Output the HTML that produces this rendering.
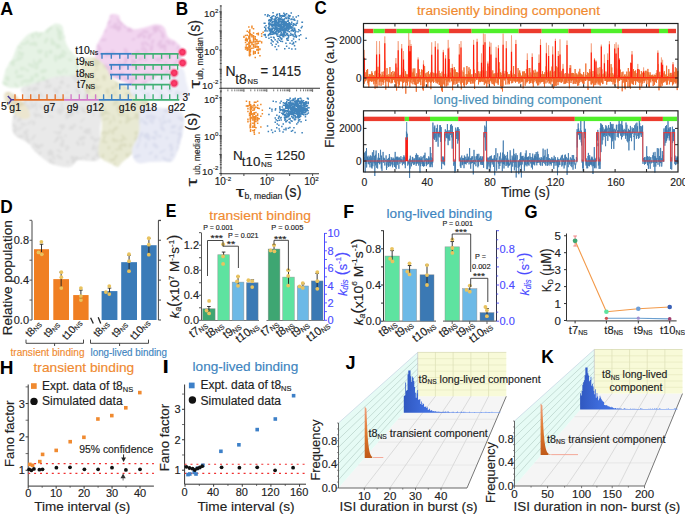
<!DOCTYPE html>
<html><head><meta charset="utf-8"><style>
html,body{margin:0;padding:0;background:#fff;}
svg{display:block;}
text{font-family:"Liberation Sans",sans-serif;}
</style></head><body>
<svg width="685" height="515" viewBox="0 0 685 515" font-family="Liberation Sans, sans-serif">
<rect width="685" height="515" fill="#fff"/>
<defs>
<filter id="blur1" x="-10%" y="-10%" width="120%" height="120%"><feGaussianBlur stdDeviation="0.9"/></filter>
<radialGradient id="gdot"><stop offset="0" stop-color="#ff4070"/><stop offset="0.5" stop-color="#f2305e"/><stop offset="0.68" stop-color="#f46088" stop-opacity="0.65"/><stop offset="1" stop-color="#f8a8c0" stop-opacity="0"/></radialGradient>
<linearGradient id="gor" x1="0" y1="0" x2="0" y2="1"><stop offset="0" stop-color="#f0a080"/><stop offset="0.5" stop-color="#e07a30"/><stop offset="1" stop-color="#c05a18"/></linearGradient>
<linearGradient id="gbl" x1="0" y1="0" x2="1" y2="0"><stop offset="0" stop-color="#3058c0"/><stop offset="0.2" stop-color="#3e6cdc"/><stop offset="1" stop-color="#5f90f6"/></linearGradient>
</defs>
<g filter="url(#blur1)">
<clipPath id="cp_gr"><path d="M12.0,124.0 C12.0,120.2 13.0,116.0 15.0,112.0 C17.0,108.0 22.8,104.0 24.0,100.0 C25.2,96.0 19.3,91.3 22.0,88.0 C24.7,84.7 33.7,82.0 40.0,80.0 C46.3,78.0 54.2,77.2 60.0,76.0 C65.8,74.8 70.0,73.8 75.0,73.0 C80.0,72.2 85.8,71.2 90.0,71.0 C94.2,70.8 97.7,67.2 100.0,72.0 C102.3,76.8 104.0,90.3 104.0,100.0 C104.0,109.7 100.7,120.3 100.0,130.0 C99.3,139.7 102.5,152.9 100.0,158.0 C97.5,163.1 88.8,160.1 85.0,160.5 C81.2,160.9 79.5,159.4 77.0,160.5 C74.5,161.6 73.7,166.2 70.0,167.0 C66.3,167.8 59.2,166.2 55.0,165.0 C50.8,163.8 48.5,162.5 45.0,160.0 C41.5,157.5 36.8,152.8 34.0,150.0 C31.2,147.2 31.2,145.5 28.0,143.0 C24.8,140.5 17.7,138.2 15.0,135.0 C12.3,131.8 12.0,127.8 12.0,124.0Z"/></clipPath>
<path d="M12.0,124.0 C12.0,120.2 13.0,116.0 15.0,112.0 C17.0,108.0 22.8,104.0 24.0,100.0 C25.2,96.0 19.3,91.3 22.0,88.0 C24.7,84.7 33.7,82.0 40.0,80.0 C46.3,78.0 54.2,77.2 60.0,76.0 C65.8,74.8 70.0,73.8 75.0,73.0 C80.0,72.2 85.8,71.2 90.0,71.0 C94.2,70.8 97.7,67.2 100.0,72.0 C102.3,76.8 104.0,90.3 104.0,100.0 C104.0,109.7 100.7,120.3 100.0,130.0 C99.3,139.7 102.5,152.9 100.0,158.0 C97.5,163.1 88.8,160.1 85.0,160.5 C81.2,160.9 79.5,159.4 77.0,160.5 C74.5,161.6 73.7,166.2 70.0,167.0 C66.3,167.8 59.2,166.2 55.0,165.0 C50.8,163.8 48.5,162.5 45.0,160.0 C41.5,157.5 36.8,152.8 34.0,150.0 C31.2,147.2 31.2,145.5 28.0,143.0 C24.8,140.5 17.7,138.2 15.0,135.0 C12.3,131.8 12.0,127.8 12.0,124.0Z" fill="#e9e9e9" stroke="none" stroke-width="1" />
<g clip-path="url(#cp_gr)">
<ellipse cx="33.9" cy="123.2" rx="2.4" ry="1.5" fill="#dcdcdc" opacity="0.85" transform="rotate(113 33.9 123.2)"/>
<ellipse cx="18.0" cy="72.3" rx="3.6" ry="1.1" fill="#dcdcdc" opacity="0.85" transform="rotate(42 18.0 72.3)"/>
<ellipse cx="103.6" cy="116.1" rx="3.6" ry="1.4" fill="#dcdcdc" opacity="0.85" transform="rotate(115 103.6 116.1)"/>
<ellipse cx="25.9" cy="131.9" rx="3.7" ry="1.4" fill="#dcdcdc" opacity="0.85" transform="rotate(133 25.9 131.9)"/>
<ellipse cx="73.8" cy="77.1" rx="3.4" ry="1.5" fill="#dcdcdc" opacity="0.85" transform="rotate(54 73.8 77.1)"/>
<ellipse cx="14.9" cy="154.1" rx="2.7" ry="1.7" fill="#dcdcdc" opacity="0.85" transform="rotate(158 14.9 154.1)"/>
<ellipse cx="77.7" cy="159.4" rx="2.5" ry="1.8" fill="#dcdcdc" opacity="0.85" transform="rotate(80 77.7 159.4)"/>
<ellipse cx="98.1" cy="155.4" rx="1.7" ry="1.0" fill="#dcdcdc" opacity="0.85" transform="rotate(39 98.1 155.4)"/>
<ellipse cx="100.8" cy="112.9" rx="3.1" ry="1.2" fill="#dcdcdc" opacity="0.85" transform="rotate(91 100.8 112.9)"/>
<ellipse cx="47.5" cy="104.7" rx="3.0" ry="1.5" fill="#dcdcdc" opacity="0.85" transform="rotate(163 47.5 104.7)"/>
<ellipse cx="74.7" cy="160.2" rx="3.6" ry="2.0" fill="#dcdcdc" opacity="0.85" transform="rotate(121 74.7 160.2)"/>
<ellipse cx="27.0" cy="153.6" rx="3.9" ry="1.9" fill="#dcdcdc" opacity="0.85" transform="rotate(102 27.0 153.6)"/>
<ellipse cx="77.7" cy="91.3" rx="3.6" ry="1.5" fill="#dcdcdc" opacity="0.85" transform="rotate(51 77.7 91.3)"/>
<ellipse cx="17.8" cy="153.0" rx="4.0" ry="0.9" fill="#dcdcdc" opacity="0.85" transform="rotate(144 17.8 153.0)"/>
<ellipse cx="49.8" cy="85.5" rx="2.2" ry="1.7" fill="#dcdcdc" opacity="0.85" transform="rotate(157 49.8 85.5)"/>
<ellipse cx="16.1" cy="130.0" rx="1.6" ry="1.7" fill="#dcdcdc" opacity="0.85" transform="rotate(60 16.1 130.0)"/>
<ellipse cx="93.0" cy="165.1" rx="2.8" ry="2.0" fill="#dcdcdc" opacity="0.85" transform="rotate(56 93.0 165.1)"/>
<ellipse cx="19.1" cy="128.6" rx="1.6" ry="1.0" fill="#dcdcdc" opacity="0.85" transform="rotate(73 19.1 128.6)"/>
<ellipse cx="68.2" cy="86.0" rx="1.6" ry="1.8" fill="#dcdcdc" opacity="0.85" transform="rotate(56 68.2 86.0)"/>
<ellipse cx="100.2" cy="157.1" rx="2.4" ry="1.4" fill="#dcdcdc" opacity="0.85" transform="rotate(94 100.2 157.1)"/>
<ellipse cx="71.2" cy="128.2" rx="2.9" ry="1.5" fill="#dcdcdc" opacity="0.85" transform="rotate(169 71.2 128.2)"/>
<ellipse cx="58.6" cy="112.4" rx="3.3" ry="1.1" fill="#dcdcdc" opacity="0.85" transform="rotate(54 58.6 112.4)"/>
<ellipse cx="102.0" cy="121.0" rx="2.9" ry="0.8" fill="#dcdcdc" opacity="0.85" transform="rotate(75 102.0 121.0)"/>
<ellipse cx="65.4" cy="72.9" rx="3.0" ry="1.6" fill="#dcdcdc" opacity="0.85" transform="rotate(11 65.4 72.9)"/>
<ellipse cx="69.7" cy="115.8" rx="3.2" ry="1.2" fill="#dcdcdc" opacity="0.85" transform="rotate(127 69.7 115.8)"/>
<ellipse cx="79.9" cy="73.1" rx="1.7" ry="1.6" fill="#dcdcdc" opacity="0.85" transform="rotate(173 79.9 73.1)"/>
<ellipse cx="35.1" cy="114.8" rx="3.0" ry="1.2" fill="#dcdcdc" opacity="0.85" transform="rotate(66 35.1 114.8)"/>
<ellipse cx="40.8" cy="106.4" rx="3.0" ry="1.2" fill="#dcdcdc" opacity="0.85" transform="rotate(68 40.8 106.4)"/>
<ellipse cx="83.0" cy="73.6" rx="2.9" ry="1.7" fill="#dcdcdc" opacity="0.85" transform="rotate(56 83.0 73.6)"/>
<ellipse cx="32.5" cy="148.2" rx="2.1" ry="1.0" fill="#dcdcdc" opacity="0.85" transform="rotate(78 32.5 148.2)"/>
<ellipse cx="76.2" cy="80.8" rx="2.3" ry="1.2" fill="#dcdcdc" opacity="0.85" transform="rotate(150 76.2 80.8)"/>
<ellipse cx="52.3" cy="153.1" rx="1.9" ry="1.2" fill="#dcdcdc" opacity="0.85" transform="rotate(117 52.3 153.1)"/>
<ellipse cx="93.4" cy="114.3" rx="2.1" ry="0.9" fill="#dcdcdc" opacity="0.85" transform="rotate(95 93.4 114.3)"/>
<ellipse cx="29.6" cy="148.5" rx="3.6" ry="1.0" fill="#dcdcdc" opacity="0.85" transform="rotate(50 29.6 148.5)"/>
<ellipse cx="86.3" cy="132.6" rx="3.5" ry="1.2" fill="#dcdcdc" opacity="0.85" transform="rotate(23 86.3 132.6)"/>
<ellipse cx="38.9" cy="147.2" rx="2.2" ry="1.2" fill="#dcdcdc" opacity="0.85" transform="rotate(75 38.9 147.2)"/>
<ellipse cx="50.6" cy="110.3" rx="3.8" ry="1.0" fill="#dcdcdc" opacity="0.85" transform="rotate(1 50.6 110.3)"/>
<ellipse cx="98.8" cy="155.5" rx="4.0" ry="1.3" fill="#dcdcdc" opacity="0.85" transform="rotate(171 98.8 155.5)"/>
<ellipse cx="97.3" cy="92.3" rx="3.4" ry="1.8" fill="#dcdcdc" opacity="0.85" transform="rotate(119 97.3 92.3)"/>
<ellipse cx="59.7" cy="98.7" rx="2.4" ry="1.1" fill="#dcdcdc" opacity="0.85" transform="rotate(12 59.7 98.7)"/>
<ellipse cx="66.2" cy="98.6" rx="3.5" ry="0.9" fill="#dcdcdc" opacity="0.85" transform="rotate(163 66.2 98.6)"/>
<ellipse cx="75.8" cy="159.7" rx="3.7" ry="1.9" fill="#dcdcdc" opacity="0.85" transform="rotate(104 75.8 159.7)"/>
<ellipse cx="13.2" cy="142.5" rx="1.9" ry="1.2" fill="#dcdcdc" opacity="0.85" transform="rotate(119 13.2 142.5)"/>
<ellipse cx="60.3" cy="110.7" rx="3.8" ry="1.5" fill="#dcdcdc" opacity="0.85" transform="rotate(61 60.3 110.7)"/>
<ellipse cx="35.2" cy="153.7" rx="2.7" ry="1.7" fill="#dcdcdc" opacity="0.85" transform="rotate(63 35.2 153.7)"/>
<ellipse cx="30.2" cy="122.3" rx="3.5" ry="1.0" fill="#dcdcdc" opacity="0.85" transform="rotate(143 30.2 122.3)"/>
<ellipse cx="96.8" cy="148.4" rx="3.6" ry="0.8" fill="#dcdcdc" opacity="0.85" transform="rotate(113 96.8 148.4)"/>
<ellipse cx="91.4" cy="75.8" rx="2.2" ry="1.1" fill="#dcdcdc" opacity="0.85" transform="rotate(95 91.4 75.8)"/>
<ellipse cx="50.9" cy="116.4" rx="3.4" ry="0.8" fill="#dcdcdc" opacity="0.85" transform="rotate(10 50.9 116.4)"/>
<ellipse cx="23.7" cy="83.0" rx="1.7" ry="2.0" fill="#dcdcdc" opacity="0.85" transform="rotate(154 23.7 83.0)"/>
<ellipse cx="19.9" cy="119.2" rx="2.3" ry="1.2" fill="#dcdcdc" opacity="0.85" transform="rotate(63 19.9 119.2)"/>
<ellipse cx="71.5" cy="127.3" rx="2.4" ry="1.0" fill="#dcdcdc" opacity="0.85" transform="rotate(59 71.5 127.3)"/>
<ellipse cx="23.4" cy="124.3" rx="3.3" ry="1.3" fill="#dcdcdc" opacity="0.85" transform="rotate(14 23.4 124.3)"/>
<ellipse cx="28.4" cy="106.8" rx="3.0" ry="1.7" fill="#dcdcdc" opacity="0.85" transform="rotate(68 28.4 106.8)"/>
<ellipse cx="85.7" cy="130.8" rx="2.6" ry="1.2" fill="#dcdcdc" opacity="0.85" transform="rotate(89 85.7 130.8)"/>
<ellipse cx="76.7" cy="111.4" rx="3.2" ry="1.4" fill="#dcdcdc" opacity="0.85" transform="rotate(44 76.7 111.4)"/>
<ellipse cx="61.3" cy="137.7" rx="1.7" ry="1.3" fill="#dcdcdc" opacity="0.85" transform="rotate(77 61.3 137.7)"/>
<ellipse cx="92.9" cy="160.9" rx="2.4" ry="1.9" fill="#dcdcdc" opacity="0.85" transform="rotate(142 92.9 160.9)"/>
<ellipse cx="36.1" cy="115.6" rx="1.8" ry="1.8" fill="#dcdcdc" opacity="0.85" transform="rotate(119 36.1 115.6)"/>
<ellipse cx="93.6" cy="147.1" rx="3.2" ry="1.7" fill="#dcdcdc" opacity="0.85" transform="rotate(101 93.6 147.1)"/>
<ellipse cx="21.5" cy="127.4" rx="1.5" ry="1.0" fill="#dcdcdc" opacity="0.85" transform="rotate(139 21.5 127.4)"/>
<ellipse cx="16.1" cy="79.8" rx="1.7" ry="1.9" fill="#dcdcdc" opacity="0.85" transform="rotate(32 16.1 79.8)"/>
<ellipse cx="14.2" cy="151.8" rx="1.8" ry="1.8" fill="#dcdcdc" opacity="0.85" transform="rotate(121 14.2 151.8)"/>
<ellipse cx="88.9" cy="162.4" rx="2.9" ry="1.8" fill="#dcdcdc" opacity="0.85" transform="rotate(7 88.9 162.4)"/>
<ellipse cx="82.6" cy="120.1" rx="3.3" ry="0.9" fill="#dcdcdc" opacity="0.85" transform="rotate(135 82.6 120.1)"/>
<ellipse cx="98.0" cy="76.9" rx="2.3" ry="1.5" fill="#dcdcdc" opacity="0.85" transform="rotate(149 98.0 76.9)"/>
<ellipse cx="34.3" cy="88.3" rx="2.1" ry="1.5" fill="#dcdcdc" opacity="0.85" transform="rotate(136 34.3 88.3)"/>
<ellipse cx="48.2" cy="106.3" rx="2.5" ry="1.2" fill="#dcdcdc" opacity="0.85" transform="rotate(75 48.2 106.3)"/>
<ellipse cx="19.7" cy="119.0" rx="3.9" ry="1.3" fill="#dcdcdc" opacity="0.85" transform="rotate(135 19.7 119.0)"/>
<ellipse cx="26.8" cy="137.3" rx="3.4" ry="1.6" fill="#dcdcdc" opacity="0.85" transform="rotate(93 26.8 137.3)"/>
<ellipse cx="56.5" cy="132.7" rx="3.7" ry="1.0" fill="#dcdcdc" opacity="0.85" transform="rotate(17 56.5 132.7)"/>
<ellipse cx="80.8" cy="159.0" rx="2.8" ry="1.3" fill="#dcdcdc" opacity="0.85" transform="rotate(129 80.8 159.0)"/>
<ellipse cx="29.1" cy="96.7" rx="2.0" ry="1.5" fill="#dcdcdc" opacity="0.85" transform="rotate(57 29.1 96.7)"/>
<ellipse cx="33.4" cy="137.3" rx="3.9" ry="1.2" fill="#dcdcdc" opacity="0.85" transform="rotate(127 33.4 137.3)"/>
<ellipse cx="50.0" cy="152.9" rx="3.0" ry="1.1" fill="#dcdcdc" opacity="0.85" transform="rotate(39 50.0 152.9)"/>
<ellipse cx="14.1" cy="117.0" rx="2.5" ry="1.0" fill="#dcdcdc" opacity="0.85" transform="rotate(65 14.1 117.0)"/>
<ellipse cx="41.6" cy="145.3" rx="1.9" ry="2.0" fill="#dcdcdc" opacity="0.85" transform="rotate(86 41.6 145.3)"/>
<ellipse cx="67.1" cy="115.9" rx="3.6" ry="1.8" fill="#dcdcdc" opacity="0.85" transform="rotate(100 67.1 115.9)"/>
<ellipse cx="56.3" cy="140.2" rx="3.6" ry="1.3" fill="#dcdcdc" opacity="0.85" transform="rotate(132 56.3 140.2)"/>
<ellipse cx="100.3" cy="115.9" rx="2.1" ry="1.1" fill="#dcdcdc" opacity="0.85" transform="rotate(129 100.3 115.9)"/>
<ellipse cx="74.1" cy="163.0" rx="3.6" ry="1.1" fill="#dcdcdc" opacity="0.85" transform="rotate(34 74.1 163.0)"/>
<ellipse cx="35.8" cy="89.0" rx="3.3" ry="1.8" fill="#dcdcdc" opacity="0.85" transform="rotate(162 35.8 89.0)"/>
<ellipse cx="35.5" cy="154.0" rx="2.3" ry="1.3" fill="#dcdcdc" opacity="0.85" transform="rotate(131 35.5 154.0)"/>
<ellipse cx="19.9" cy="79.9" rx="3.6" ry="1.2" fill="#dcdcdc" opacity="0.85" transform="rotate(64 19.9 79.9)"/>
<ellipse cx="65.4" cy="135.8" rx="1.5" ry="1.2" fill="#dcdcdc" opacity="0.85" transform="rotate(79 65.4 135.8)"/>
<ellipse cx="56.7" cy="91.2" rx="3.0" ry="1.9" fill="#dcdcdc" opacity="0.85" transform="rotate(70 56.7 91.2)"/>
<ellipse cx="62.1" cy="82.4" rx="2.2" ry="1.6" fill="#dcdcdc" opacity="0.85" transform="rotate(20 62.1 82.4)"/>
<ellipse cx="93.6" cy="158.2" rx="1.7" ry="1.9" fill="#dcdcdc" opacity="0.85" transform="rotate(67 93.6 158.2)"/>
<ellipse cx="83.1" cy="143.7" rx="2.2" ry="1.6" fill="#dcdcdc" opacity="0.85" transform="rotate(118 83.1 143.7)"/>
<ellipse cx="86.2" cy="96.5" rx="3.4" ry="2.0" fill="#dcdcdc" opacity="0.85" transform="rotate(121 86.2 96.5)"/>
<ellipse cx="61.3" cy="81.9" rx="2.7" ry="1.2" fill="#dcdcdc" opacity="0.85" transform="rotate(129 61.3 81.9)"/>
<ellipse cx="74.4" cy="125.4" rx="2.0" ry="1.6" fill="#dcdcdc" opacity="0.85" transform="rotate(114 74.4 125.4)"/>
<ellipse cx="28.5" cy="156.4" rx="3.1" ry="0.9" fill="#dcdcdc" opacity="0.85" transform="rotate(168 28.5 156.4)"/>
<ellipse cx="25.0" cy="102.8" rx="3.3" ry="1.5" fill="#dcdcdc" opacity="0.85" transform="rotate(100 25.0 102.8)"/>
<ellipse cx="71.6" cy="114.9" rx="2.3" ry="1.0" fill="#dcdcdc" opacity="0.85" transform="rotate(12 71.6 114.9)"/>
<ellipse cx="77.9" cy="143.4" rx="2.9" ry="1.7" fill="#dcdcdc" opacity="0.85" transform="rotate(65 77.9 143.4)"/>
<ellipse cx="36.5" cy="107.8" rx="3.7" ry="0.9" fill="#dcdcdc" opacity="0.85" transform="rotate(91 36.5 107.8)"/>
<ellipse cx="34.7" cy="144.8" rx="2.4" ry="1.2" fill="#dcdcdc" opacity="0.85" transform="rotate(73 34.7 144.8)"/>
<ellipse cx="61.8" cy="145.1" rx="2.4" ry="1.8" fill="#dcdcdc" opacity="0.85" transform="rotate(20 61.8 145.1)"/>
<ellipse cx="36.9" cy="80.6" rx="1.8" ry="1.7" fill="#dcdcdc" opacity="0.85" transform="rotate(131 36.9 80.6)"/>
<ellipse cx="29.0" cy="89.2" rx="2.5" ry="1.7" fill="#dcdcdc" opacity="0.85" transform="rotate(147 29.0 89.2)"/>
<ellipse cx="80.9" cy="127.8" rx="1.9" ry="1.3" fill="#dcdcdc" opacity="0.85" transform="rotate(35 80.9 127.8)"/>
<ellipse cx="60.5" cy="125.6" rx="2.0" ry="1.1" fill="#dcdcdc" opacity="0.85" transform="rotate(141 60.5 125.6)"/>
<ellipse cx="14.8" cy="148.1" rx="3.7" ry="1.9" fill="#dcdcdc" opacity="0.85" transform="rotate(69 14.8 148.1)"/>
<ellipse cx="62.8" cy="127.0" rx="3.1" ry="2.0" fill="#dcdcdc" opacity="0.85" transform="rotate(124 62.8 127.0)"/>
<ellipse cx="39.5" cy="153.6" rx="2.7" ry="1.5" fill="#dcdcdc" opacity="0.85" transform="rotate(131 39.5 153.6)"/>
<ellipse cx="12.2" cy="145.0" rx="3.2" ry="1.4" fill="#dcdcdc" opacity="0.85" transform="rotate(94 12.2 145.0)"/>
<ellipse cx="54.4" cy="89.6" rx="2.8" ry="0.8" fill="#dcdcdc" opacity="0.85" transform="rotate(90 54.4 89.6)"/>
<ellipse cx="71.4" cy="113.6" rx="2.9" ry="2.0" fill="#dcdcdc" opacity="0.85" transform="rotate(161 71.4 113.6)"/>
<ellipse cx="24.5" cy="147.1" rx="3.1" ry="0.9" fill="#dcdcdc" opacity="0.85" transform="rotate(65 24.5 147.1)"/>
<ellipse cx="33.5" cy="78.5" rx="2.8" ry="1.9" fill="#dcdcdc" opacity="0.85" transform="rotate(58 33.5 78.5)"/>
<ellipse cx="92.1" cy="137.7" rx="1.8" ry="1.8" fill="#dcdcdc" opacity="0.85" transform="rotate(108 92.1 137.7)"/>
<ellipse cx="97.3" cy="139.7" rx="3.3" ry="1.2" fill="#dcdcdc" opacity="0.85" transform="rotate(145 97.3 139.7)"/>
<ellipse cx="97.7" cy="153.7" rx="2.6" ry="1.7" fill="#dcdcdc" opacity="0.85" transform="rotate(87 97.7 153.7)"/>
<ellipse cx="22.0" cy="75.1" rx="1.7" ry="1.0" fill="#dcdcdc" opacity="0.85" transform="rotate(29 22.0 75.1)"/>
<ellipse cx="57.7" cy="138.1" rx="2.8" ry="1.3" fill="#dcdcdc" opacity="0.85" transform="rotate(117 57.7 138.1)"/>
<ellipse cx="40.0" cy="115.6" rx="3.4" ry="1.3" fill="#dcdcdc" opacity="0.85" transform="rotate(33 40.0 115.6)"/>
<ellipse cx="94.7" cy="140.1" rx="2.4" ry="1.2" fill="#dcdcdc" opacity="0.85" transform="rotate(95 94.7 140.1)"/>
<ellipse cx="66.9" cy="92.5" rx="1.5" ry="1.1" fill="#dcdcdc" opacity="0.85" transform="rotate(141 66.9 92.5)"/>
<ellipse cx="25.2" cy="115.2" rx="2.0" ry="1.1" fill="#dcdcdc" opacity="0.85" transform="rotate(31 25.2 115.2)"/>
<ellipse cx="49.1" cy="87.2" rx="1.6" ry="0.9" fill="#dcdcdc" opacity="0.85" transform="rotate(30 49.1 87.2)"/>
<ellipse cx="57.1" cy="76.7" rx="1.6" ry="1.3" fill="#dcdcdc" opacity="0.85" transform="rotate(73 57.1 76.7)"/>
<ellipse cx="76.7" cy="75.9" rx="2.5" ry="1.3" fill="#dcdcdc" opacity="0.85" transform="rotate(5 76.7 75.9)"/>
<ellipse cx="100.8" cy="92.0" rx="1.7" ry="1.4" fill="#dcdcdc" opacity="0.85" transform="rotate(30 100.8 92.0)"/>
<ellipse cx="69.3" cy="104.3" rx="1.8" ry="0.9" fill="#dcdcdc" opacity="0.85" transform="rotate(131 69.3 104.3)"/>
<ellipse cx="37.3" cy="146.6" rx="2.7" ry="1.9" fill="#dcdcdc" opacity="0.85" transform="rotate(54 37.3 146.6)"/>
<ellipse cx="35.0" cy="96.5" rx="3.5" ry="1.6" fill="#dcdcdc" opacity="0.85" transform="rotate(62 35.0 96.5)"/>
<ellipse cx="20.6" cy="136.5" rx="3.9" ry="1.5" fill="#dcdcdc" opacity="0.85" transform="rotate(1 20.6 136.5)"/>
<ellipse cx="14.8" cy="79.7" rx="1.9" ry="0.8" fill="#dcdcdc" opacity="0.85" transform="rotate(10 14.8 79.7)"/>
<ellipse cx="72.2" cy="157.4" rx="2.0" ry="2.0" fill="#dcdcdc" opacity="0.85" transform="rotate(86 72.2 157.4)"/>
<ellipse cx="85.9" cy="159.1" rx="3.9" ry="0.8" fill="#dcdcdc" opacity="0.85" transform="rotate(55 85.9 159.1)"/>
<ellipse cx="67.8" cy="161.9" rx="1.7" ry="1.2" fill="#dcdcdc" opacity="0.85" transform="rotate(153 67.8 161.9)"/>
<ellipse cx="22.5" cy="108.4" rx="2.3" ry="1.6" fill="#dcdcdc" opacity="0.85" transform="rotate(167 22.5 108.4)"/>
<ellipse cx="28.1" cy="142.0" rx="3.3" ry="1.8" fill="#dcdcdc" opacity="0.85" transform="rotate(100 28.1 142.0)"/>
<ellipse cx="97.0" cy="105.8" rx="2.5" ry="1.1" fill="#dcdcdc" opacity="0.85" transform="rotate(140 97.0 105.8)"/>
<ellipse cx="56.2" cy="96.9" rx="1.9" ry="1.7" fill="#dcdcdc" opacity="0.85" transform="rotate(109 56.2 96.9)"/>
<ellipse cx="77.4" cy="108.1" rx="2.7" ry="1.0" fill="#dcdcdc" opacity="0.85" transform="rotate(128 77.4 108.1)"/>
<ellipse cx="14.1" cy="115.8" rx="3.4" ry="1.6" fill="#dcdcdc" opacity="0.85" transform="rotate(17 14.1 115.8)"/>
<ellipse cx="33.8" cy="152.0" rx="3.1" ry="1.9" fill="#dcdcdc" opacity="0.85" transform="rotate(157 33.8 152.0)"/>
<ellipse cx="53.4" cy="157.1" rx="3.3" ry="1.2" fill="#dcdcdc" opacity="0.85" transform="rotate(67 53.4 157.1)"/>
<ellipse cx="18.6" cy="109.3" rx="3.9" ry="0.9" fill="#dcdcdc" opacity="0.85" transform="rotate(102 18.6 109.3)"/>
<ellipse cx="22.1" cy="78.8" rx="3.1" ry="1.1" fill="#dcdcdc" opacity="0.85" transform="rotate(9 22.1 78.8)"/>
<ellipse cx="26.0" cy="132.9" rx="3.0" ry="0.8" fill="#dcdcdc" opacity="0.85" transform="rotate(41 26.0 132.9)"/>
<ellipse cx="101.0" cy="92.1" rx="2.9" ry="1.3" fill="#dcdcdc" opacity="0.85" transform="rotate(141 101.0 92.1)"/>
<ellipse cx="67.6" cy="146.7" rx="2.8" ry="1.0" fill="#dcdcdc" opacity="0.85" transform="rotate(32 67.6 146.7)"/>
<ellipse cx="19.3" cy="150.2" rx="1.8" ry="0.8" fill="#dcdcdc" opacity="0.85" transform="rotate(174 19.3 150.2)"/>
<ellipse cx="30.3" cy="156.8" rx="1.7" ry="1.4" fill="#dcdcdc" opacity="0.85" transform="rotate(40 30.3 156.8)"/>
<ellipse cx="88.3" cy="130.1" rx="3.1" ry="1.7" fill="#dcdcdc" opacity="0.85" transform="rotate(157 88.3 130.1)"/>
<ellipse cx="43.8" cy="128.9" rx="2.6" ry="0.9" fill="#dcdcdc" opacity="0.85" transform="rotate(150 43.8 128.9)"/>
<ellipse cx="66.7" cy="149.2" rx="2.0" ry="1.4" fill="#dcdcdc" opacity="0.85" transform="rotate(84 66.7 149.2)"/>
<ellipse cx="79.0" cy="78.4" rx="2.4" ry="1.4" fill="#dcdcdc" opacity="0.85" transform="rotate(13 79.0 78.4)"/>
<ellipse cx="62.8" cy="141.6" rx="2.6" ry="1.6" fill="#dcdcdc" opacity="0.85" transform="rotate(109 62.8 141.6)"/>
<ellipse cx="31.7" cy="104.7" rx="4.0" ry="1.2" fill="#dcdcdc" opacity="0.85" transform="rotate(78 31.7 104.7)"/>
<ellipse cx="19.7" cy="91.9" rx="1.9" ry="1.9" fill="#dcdcdc" opacity="0.85" transform="rotate(131 19.7 91.9)"/>
<ellipse cx="92.5" cy="165.7" rx="3.0" ry="1.9" fill="#dcdcdc" opacity="0.85" transform="rotate(96 92.5 165.7)"/>
<ellipse cx="50.5" cy="162.0" rx="3.8" ry="1.9" fill="#dcdcdc" opacity="0.85" transform="rotate(87 50.5 162.0)"/>
<ellipse cx="83.2" cy="110.1" rx="4.0" ry="1.9" fill="#dcdcdc" opacity="0.85" transform="rotate(53 83.2 110.1)"/>
<ellipse cx="97.9" cy="88.7" rx="1.7" ry="1.7" fill="#dcdcdc" opacity="0.85" transform="rotate(53 97.9 88.7)"/>
<ellipse cx="59.8" cy="132.4" rx="1.6" ry="1.7" fill="#dcdcdc" opacity="0.85" transform="rotate(50 59.8 132.4)"/>
<ellipse cx="51.8" cy="104.1" rx="3.4" ry="1.7" fill="#dcdcdc" opacity="0.85" transform="rotate(52 51.8 104.1)"/>
<ellipse cx="21.5" cy="99.7" rx="2.5" ry="0.9" fill="#dcdcdc" opacity="0.85" transform="rotate(28 21.5 99.7)"/>
<ellipse cx="82.2" cy="138.2" rx="3.9" ry="2.0" fill="#dcdcdc" opacity="0.85" transform="rotate(158 82.2 138.2)"/>
<ellipse cx="46.3" cy="86.5" rx="2.3" ry="1.4" fill="#dcdcdc" opacity="0.85" transform="rotate(95 46.3 86.5)"/>
<ellipse cx="61.9" cy="105.5" rx="3.6" ry="1.1" fill="#dcdcdc" opacity="0.85" transform="rotate(83 61.9 105.5)"/>
<ellipse cx="93.6" cy="148.5" rx="2.2" ry="1.1" fill="#dcdcdc" opacity="0.85" transform="rotate(145 93.6 148.5)"/>
<ellipse cx="12.9" cy="83.6" rx="2.8" ry="1.4" fill="#dcdcdc" opacity="0.85" transform="rotate(30 12.9 83.6)"/>
<ellipse cx="16.6" cy="90.6" rx="3.4" ry="1.4" fill="#dcdcdc" opacity="0.85" transform="rotate(176 16.6 90.6)"/>
<ellipse cx="84.3" cy="165.0" rx="1.6" ry="1.0" fill="#dcdcdc" opacity="0.85" transform="rotate(2 84.3 165.0)"/>
<ellipse cx="51.8" cy="103.5" rx="1.6" ry="1.5" fill="#dcdcdc" opacity="0.85" transform="rotate(17 51.8 103.5)"/>
<ellipse cx="40.7" cy="94.7" rx="3.5" ry="1.3" fill="#dcdcdc" opacity="0.85" transform="rotate(47 40.7 94.7)"/>
<ellipse cx="16.0" cy="112.2" rx="3.1" ry="1.6" fill="#dcdcdc" opacity="0.85" transform="rotate(164 16.0 112.2)"/>
<ellipse cx="86.4" cy="94.7" rx="1.8" ry="1.7" fill="#dcdcdc" opacity="0.85" transform="rotate(142 86.4 94.7)"/>
<ellipse cx="58.8" cy="150.8" rx="2.9" ry="1.1" fill="#dcdcdc" opacity="0.85" transform="rotate(30 58.8 150.8)"/>
<ellipse cx="13.6" cy="132.7" rx="3.7" ry="1.9" fill="#dcdcdc" opacity="0.85" transform="rotate(84 13.6 132.7)"/>
<ellipse cx="73.2" cy="160.1" rx="3.5" ry="1.5" fill="#dcdcdc" opacity="0.85" transform="rotate(75 73.2 160.1)"/>
<ellipse cx="59.7" cy="87.4" rx="2.0" ry="1.6" fill="#dcdcdc" opacity="0.85" transform="rotate(179 59.7 87.4)"/>
<ellipse cx="62.3" cy="110.2" rx="2.4" ry="1.3" fill="#dcdcdc" opacity="0.85" transform="rotate(145 62.3 110.2)"/>
<ellipse cx="53.6" cy="163.1" rx="1.9" ry="1.2" fill="#dcdcdc" opacity="0.85" transform="rotate(94 53.6 163.1)"/>
<ellipse cx="49.9" cy="152.7" rx="3.6" ry="1.9" fill="#dcdcdc" opacity="0.85" transform="rotate(110 49.9 152.7)"/>
<ellipse cx="14.8" cy="126.2" rx="2.9" ry="1.4" fill="#dcdcdc" opacity="0.85" transform="rotate(50 14.8 126.2)"/>
<ellipse cx="77.3" cy="158.5" rx="1.8" ry="1.6" fill="#dcdcdc" opacity="0.85" transform="rotate(67 77.3 158.5)"/>
<ellipse cx="59.4" cy="157.0" rx="3.9" ry="1.6" fill="#dcdcdc" opacity="0.85" transform="rotate(35 59.4 157.0)"/>
<ellipse cx="96.7" cy="88.4" rx="2.5" ry="1.8" fill="#dcdcdc" opacity="0.85" transform="rotate(57 96.7 88.4)"/>
<ellipse cx="36.9" cy="162.2" rx="3.9" ry="1.2" fill="#dcdcdc" opacity="0.85" transform="rotate(71 36.9 162.2)"/>
<ellipse cx="37.9" cy="83.6" rx="2.1" ry="2.0" fill="#dcdcdc" opacity="0.85" transform="rotate(14 37.9 83.6)"/>
<ellipse cx="33.1" cy="90.2" rx="1.7" ry="1.4" fill="#dcdcdc" opacity="0.85" transform="rotate(134 33.1 90.2)"/>
<ellipse cx="89.1" cy="131.6" rx="3.5" ry="0.8" fill="#dcdcdc" opacity="0.85" transform="rotate(51 89.1 131.6)"/>
<ellipse cx="100.4" cy="77.7" rx="2.2" ry="1.4" fill="#dcdcdc" opacity="0.85" transform="rotate(48 100.4 77.7)"/>
<ellipse cx="62.2" cy="75.5" rx="2.1" ry="1.9" fill="#dcdcdc" opacity="0.85" transform="rotate(26 62.2 75.5)"/>
<ellipse cx="95.3" cy="88.1" rx="4.0" ry="1.6" fill="#dcdcdc" opacity="0.85" transform="rotate(116 95.3 88.1)"/>
<ellipse cx="25.1" cy="76.2" rx="3.4" ry="1.0" fill="#dcdcdc" opacity="0.85" transform="rotate(34 25.1 76.2)"/>
<ellipse cx="87.7" cy="155.0" rx="1.6" ry="2.0" fill="#dcdcdc" opacity="0.85" transform="rotate(96 87.7 155.0)"/>
<ellipse cx="47.2" cy="81.3" rx="2.5" ry="2.0" fill="#dcdcdc" opacity="0.85" transform="rotate(51 47.2 81.3)"/>
<ellipse cx="24.1" cy="84.9" rx="1.8" ry="1.2" fill="#dcdcdc" opacity="0.85" transform="rotate(165 24.1 84.9)"/>
<ellipse cx="19.1" cy="89.4" rx="3.8" ry="2.0" fill="#dcdcdc" opacity="0.85" transform="rotate(176 19.1 89.4)"/>
<ellipse cx="34.6" cy="105.0" rx="3.9" ry="1.4" fill="#dcdcdc" opacity="0.85" transform="rotate(127 34.6 105.0)"/>
</g>
<clipPath id="cp_gn"><path d="M3.0,80.0 C3.6,77.4 4.8,72.1 6.4,68.4 C8.0,64.7 11.0,61.3 12.8,57.7 C14.6,54.1 14.9,50.5 17.0,47.0 C19.1,43.5 22.8,38.9 25.6,36.4 C28.4,33.9 31.1,32.7 34.0,32.0 C36.9,31.3 40.5,32.7 43.0,32.0 C45.5,31.3 46.9,29.2 49.0,27.8 C51.1,26.4 53.3,23.9 55.5,23.5 C57.7,23.1 60.6,23.9 62.0,25.7 C63.4,27.4 63.3,31.1 64.0,34.0 C64.7,36.9 64.9,40.2 66.0,43.0 C67.1,45.8 68.7,48.5 70.5,51.0 C72.3,53.5 75.6,55.2 77.0,57.7 C78.4,60.2 79.3,63.1 79.0,66.0 C78.7,68.9 79.0,73.2 75.0,75.0 C71.0,76.8 63.2,75.2 55.0,77.0 C46.8,78.8 33.3,84.2 26.0,86.0 C18.7,87.8 14.8,88.3 11.0,88.0 C7.2,87.7 4.3,85.3 3.0,84.0 C1.7,82.7 2.4,82.6 3.0,80.0Z"/></clipPath>
<path d="M3.0,80.0 C3.6,77.4 4.8,72.1 6.4,68.4 C8.0,64.7 11.0,61.3 12.8,57.7 C14.6,54.1 14.9,50.5 17.0,47.0 C19.1,43.5 22.8,38.9 25.6,36.4 C28.4,33.9 31.1,32.7 34.0,32.0 C36.9,31.3 40.5,32.7 43.0,32.0 C45.5,31.3 46.9,29.2 49.0,27.8 C51.1,26.4 53.3,23.9 55.5,23.5 C57.7,23.1 60.6,23.9 62.0,25.7 C63.4,27.4 63.3,31.1 64.0,34.0 C64.7,36.9 64.9,40.2 66.0,43.0 C67.1,45.8 68.7,48.5 70.5,51.0 C72.3,53.5 75.6,55.2 77.0,57.7 C78.4,60.2 79.3,63.1 79.0,66.0 C78.7,68.9 79.0,73.2 75.0,75.0 C71.0,76.8 63.2,75.2 55.0,77.0 C46.8,78.8 33.3,84.2 26.0,86.0 C18.7,87.8 14.8,88.3 11.0,88.0 C7.2,87.7 4.3,85.3 3.0,84.0 C1.7,82.7 2.4,82.6 3.0,80.0Z" fill="#e6f3e5" stroke="none" stroke-width="1" />
<g clip-path="url(#cp_gn)">
<ellipse cx="26.8" cy="24.9" rx="2.4" ry="1.7" fill="#d5e8d4" opacity="0.85" transform="rotate(141 26.8 24.9)"/>
<ellipse cx="46.2" cy="53.4" rx="2.8" ry="1.3" fill="#d5e8d4" opacity="0.85" transform="rotate(96 46.2 53.4)"/>
<ellipse cx="66.3" cy="36.4" rx="3.0" ry="1.9" fill="#d5e8d4" opacity="0.85" transform="rotate(153 66.3 36.4)"/>
<ellipse cx="16.6" cy="85.6" rx="3.6" ry="1.0" fill="#d5e8d4" opacity="0.85" transform="rotate(48 16.6 85.6)"/>
<ellipse cx="18.4" cy="26.9" rx="3.9" ry="1.3" fill="#d5e8d4" opacity="0.85" transform="rotate(157 18.4 26.9)"/>
<ellipse cx="11.7" cy="24.4" rx="3.7" ry="1.8" fill="#d5e8d4" opacity="0.85" transform="rotate(178 11.7 24.4)"/>
<ellipse cx="55.1" cy="57.4" rx="3.4" ry="0.9" fill="#d5e8d4" opacity="0.85" transform="rotate(97 55.1 57.4)"/>
<ellipse cx="36.5" cy="32.9" rx="3.0" ry="1.2" fill="#d5e8d4" opacity="0.85" transform="rotate(91 36.5 32.9)"/>
<ellipse cx="31.4" cy="44.0" rx="2.4" ry="1.5" fill="#d5e8d4" opacity="0.85" transform="rotate(176 31.4 44.0)"/>
<ellipse cx="74.1" cy="79.1" rx="3.6" ry="1.1" fill="#d5e8d4" opacity="0.85" transform="rotate(176 74.1 79.1)"/>
<ellipse cx="23.5" cy="31.4" rx="2.8" ry="1.7" fill="#d5e8d4" opacity="0.85" transform="rotate(61 23.5 31.4)"/>
<ellipse cx="52.0" cy="41.7" rx="3.9" ry="1.3" fill="#d5e8d4" opacity="0.85" transform="rotate(86 52.0 41.7)"/>
<ellipse cx="43.4" cy="79.9" rx="4.0" ry="1.4" fill="#d5e8d4" opacity="0.85" transform="rotate(79 43.4 79.9)"/>
<ellipse cx="50.0" cy="28.0" rx="2.6" ry="1.8" fill="#d5e8d4" opacity="0.85" transform="rotate(140 50.0 28.0)"/>
<ellipse cx="7.5" cy="78.6" rx="2.5" ry="2.0" fill="#d5e8d4" opacity="0.85" transform="rotate(66 7.5 78.6)"/>
<ellipse cx="19.3" cy="58.9" rx="3.7" ry="1.3" fill="#d5e8d4" opacity="0.85" transform="rotate(156 19.3 58.9)"/>
<ellipse cx="57.1" cy="46.8" rx="2.3" ry="1.4" fill="#d5e8d4" opacity="0.85" transform="rotate(72 57.1 46.8)"/>
<ellipse cx="31.3" cy="65.5" rx="3.7" ry="1.5" fill="#d5e8d4" opacity="0.85" transform="rotate(26 31.3 65.5)"/>
<ellipse cx="19.7" cy="47.4" rx="3.0" ry="1.0" fill="#d5e8d4" opacity="0.85" transform="rotate(15 19.7 47.4)"/>
<ellipse cx="27.4" cy="41.8" rx="1.6" ry="1.4" fill="#d5e8d4" opacity="0.85" transform="rotate(166 27.4 41.8)"/>
<ellipse cx="43.6" cy="71.1" rx="3.6" ry="1.8" fill="#d5e8d4" opacity="0.85" transform="rotate(164 43.6 71.1)"/>
<ellipse cx="36.5" cy="67.5" rx="1.8" ry="1.9" fill="#d5e8d4" opacity="0.85" transform="rotate(68 36.5 67.5)"/>
<ellipse cx="39.1" cy="80.9" rx="2.2" ry="1.0" fill="#d5e8d4" opacity="0.85" transform="rotate(148 39.1 80.9)"/>
<ellipse cx="48.5" cy="29.0" rx="1.6" ry="1.2" fill="#d5e8d4" opacity="0.85" transform="rotate(1 48.5 29.0)"/>
<ellipse cx="66.3" cy="35.3" rx="2.2" ry="1.3" fill="#d5e8d4" opacity="0.85" transform="rotate(92 66.3 35.3)"/>
<ellipse cx="35.9" cy="64.0" rx="3.1" ry="1.3" fill="#d5e8d4" opacity="0.85" transform="rotate(17 35.9 64.0)"/>
<ellipse cx="77.4" cy="68.1" rx="1.7" ry="1.3" fill="#d5e8d4" opacity="0.85" transform="rotate(136 77.4 68.1)"/>
<ellipse cx="78.4" cy="27.8" rx="1.5" ry="1.4" fill="#d5e8d4" opacity="0.85" transform="rotate(76 78.4 27.8)"/>
<ellipse cx="71.0" cy="76.8" rx="2.3" ry="1.3" fill="#d5e8d4" opacity="0.85" transform="rotate(105 71.0 76.8)"/>
<ellipse cx="70.2" cy="36.5" rx="2.5" ry="0.9" fill="#d5e8d4" opacity="0.85" transform="rotate(115 70.2 36.5)"/>
<ellipse cx="5.0" cy="83.8" rx="2.8" ry="1.5" fill="#d5e8d4" opacity="0.85" transform="rotate(15 5.0 83.8)"/>
<ellipse cx="20.6" cy="53.7" rx="3.6" ry="1.4" fill="#d5e8d4" opacity="0.85" transform="rotate(51 20.6 53.7)"/>
<ellipse cx="77.6" cy="66.2" rx="2.8" ry="1.0" fill="#d5e8d4" opacity="0.85" transform="rotate(54 77.6 66.2)"/>
<ellipse cx="71.4" cy="32.1" rx="2.8" ry="1.5" fill="#d5e8d4" opacity="0.85" transform="rotate(64 71.4 32.1)"/>
<ellipse cx="61.4" cy="82.2" rx="3.6" ry="1.7" fill="#d5e8d4" opacity="0.85" transform="rotate(37 61.4 82.2)"/>
<ellipse cx="7.6" cy="51.4" rx="2.3" ry="1.0" fill="#d5e8d4" opacity="0.85" transform="rotate(157 7.6 51.4)"/>
<ellipse cx="19.4" cy="76.6" rx="3.8" ry="0.9" fill="#d5e8d4" opacity="0.85" transform="rotate(164 19.4 76.6)"/>
<ellipse cx="33.2" cy="37.2" rx="2.0" ry="0.8" fill="#d5e8d4" opacity="0.85" transform="rotate(90 33.2 37.2)"/>
<ellipse cx="32.2" cy="78.4" rx="3.6" ry="0.9" fill="#d5e8d4" opacity="0.85" transform="rotate(72 32.2 78.4)"/>
<ellipse cx="32.6" cy="35.0" rx="2.1" ry="1.1" fill="#d5e8d4" opacity="0.85" transform="rotate(125 32.6 35.0)"/>
<ellipse cx="28.9" cy="30.7" rx="2.1" ry="1.3" fill="#d5e8d4" opacity="0.85" transform="rotate(102 28.9 30.7)"/>
<ellipse cx="21.7" cy="68.6" rx="2.0" ry="1.6" fill="#d5e8d4" opacity="0.85" transform="rotate(110 21.7 68.6)"/>
<ellipse cx="16.4" cy="71.9" rx="2.5" ry="1.4" fill="#d5e8d4" opacity="0.85" transform="rotate(108 16.4 71.9)"/>
<ellipse cx="50.7" cy="52.0" rx="1.6" ry="1.7" fill="#d5e8d4" opacity="0.85" transform="rotate(155 50.7 52.0)"/>
<ellipse cx="40.3" cy="60.8" rx="2.2" ry="1.9" fill="#d5e8d4" opacity="0.85" transform="rotate(123 40.3 60.8)"/>
<ellipse cx="19.9" cy="76.2" rx="4.0" ry="1.2" fill="#d5e8d4" opacity="0.85" transform="rotate(179 19.9 76.2)"/>
<ellipse cx="39.7" cy="35.0" rx="3.3" ry="1.2" fill="#d5e8d4" opacity="0.85" transform="rotate(132 39.7 35.0)"/>
<ellipse cx="47.3" cy="30.4" rx="2.8" ry="1.8" fill="#d5e8d4" opacity="0.85" transform="rotate(86 47.3 30.4)"/>
<ellipse cx="44.0" cy="79.2" rx="2.6" ry="1.4" fill="#d5e8d4" opacity="0.85" transform="rotate(105 44.0 79.2)"/>
<ellipse cx="65.6" cy="36.6" rx="1.7" ry="1.7" fill="#d5e8d4" opacity="0.85" transform="rotate(99 65.6 36.6)"/>
<ellipse cx="26.0" cy="81.0" rx="3.7" ry="1.4" fill="#d5e8d4" opacity="0.85" transform="rotate(178 26.0 81.0)"/>
<ellipse cx="66.5" cy="71.7" rx="2.2" ry="0.8" fill="#d5e8d4" opacity="0.85" transform="rotate(122 66.5 71.7)"/>
<ellipse cx="58.9" cy="46.1" rx="2.7" ry="1.5" fill="#d5e8d4" opacity="0.85" transform="rotate(45 58.9 46.1)"/>
<ellipse cx="56.0" cy="59.8" rx="2.5" ry="0.9" fill="#d5e8d4" opacity="0.85" transform="rotate(100 56.0 59.8)"/>
<ellipse cx="27.3" cy="70.3" rx="1.9" ry="1.3" fill="#d5e8d4" opacity="0.85" transform="rotate(35 27.3 70.3)"/>
<ellipse cx="34.0" cy="60.7" rx="1.8" ry="0.9" fill="#d5e8d4" opacity="0.85" transform="rotate(87 34.0 60.7)"/>
<ellipse cx="18.3" cy="56.1" rx="1.9" ry="0.9" fill="#d5e8d4" opacity="0.85" transform="rotate(97 18.3 56.1)"/>
<ellipse cx="73.2" cy="79.5" rx="2.8" ry="1.3" fill="#d5e8d4" opacity="0.85" transform="rotate(12 73.2 79.5)"/>
<ellipse cx="24.0" cy="43.8" rx="3.9" ry="0.9" fill="#d5e8d4" opacity="0.85" transform="rotate(171 24.0 43.8)"/>
<ellipse cx="39.2" cy="51.5" rx="2.2" ry="2.0" fill="#d5e8d4" opacity="0.85" transform="rotate(33 39.2 51.5)"/>
<ellipse cx="46.4" cy="56.4" rx="2.0" ry="1.1" fill="#d5e8d4" opacity="0.85" transform="rotate(177 46.4 56.4)"/>
<ellipse cx="63.1" cy="70.8" rx="3.8" ry="0.9" fill="#d5e8d4" opacity="0.85" transform="rotate(127 63.1 70.8)"/>
<ellipse cx="60.0" cy="38.0" rx="2.6" ry="2.0" fill="#d5e8d4" opacity="0.85" transform="rotate(59 60.0 38.0)"/>
<ellipse cx="60.9" cy="34.2" rx="3.2" ry="1.1" fill="#d5e8d4" opacity="0.85" transform="rotate(92 60.9 34.2)"/>
<ellipse cx="31.3" cy="79.6" rx="3.4" ry="1.4" fill="#d5e8d4" opacity="0.85" transform="rotate(124 31.3 79.6)"/>
<ellipse cx="35.5" cy="75.4" rx="2.1" ry="1.5" fill="#d5e8d4" opacity="0.85" transform="rotate(105 35.5 75.4)"/>
<ellipse cx="32.5" cy="26.5" rx="1.9" ry="1.6" fill="#d5e8d4" opacity="0.85" transform="rotate(38 32.5 26.5)"/>
<ellipse cx="60.6" cy="56.1" rx="3.9" ry="1.8" fill="#d5e8d4" opacity="0.85" transform="rotate(131 60.6 56.1)"/>
<ellipse cx="31.3" cy="26.3" rx="2.9" ry="1.7" fill="#d5e8d4" opacity="0.85" transform="rotate(166 31.3 26.3)"/>
<ellipse cx="18.4" cy="33.7" rx="4.0" ry="1.7" fill="#d5e8d4" opacity="0.85" transform="rotate(87 18.4 33.7)"/>
<ellipse cx="59.1" cy="33.1" rx="2.9" ry="1.6" fill="#d5e8d4" opacity="0.85" transform="rotate(109 59.1 33.1)"/>
<ellipse cx="15.2" cy="32.3" rx="3.1" ry="1.9" fill="#d5e8d4" opacity="0.85" transform="rotate(25 15.2 32.3)"/>
<ellipse cx="3.5" cy="28.8" rx="3.5" ry="1.3" fill="#d5e8d4" opacity="0.85" transform="rotate(82 3.5 28.8)"/>
<ellipse cx="78.5" cy="62.9" rx="2.2" ry="1.6" fill="#d5e8d4" opacity="0.85" transform="rotate(0 78.5 62.9)"/>
<ellipse cx="24.4" cy="68.6" rx="1.9" ry="0.8" fill="#d5e8d4" opacity="0.85" transform="rotate(93 24.4 68.6)"/>
<ellipse cx="27.9" cy="86.1" rx="1.8" ry="1.8" fill="#d5e8d4" opacity="0.85" transform="rotate(70 27.9 86.1)"/>
<ellipse cx="64.2" cy="52.2" rx="3.2" ry="1.2" fill="#d5e8d4" opacity="0.85" transform="rotate(40 64.2 52.2)"/>
<ellipse cx="37.4" cy="75.1" rx="2.4" ry="1.1" fill="#d5e8d4" opacity="0.85" transform="rotate(75 37.4 75.1)"/>
<ellipse cx="10.3" cy="43.9" rx="2.9" ry="1.5" fill="#d5e8d4" opacity="0.85" transform="rotate(108 10.3 43.9)"/>
<ellipse cx="25.0" cy="25.1" rx="1.6" ry="1.2" fill="#d5e8d4" opacity="0.85" transform="rotate(35 25.0 25.1)"/>
<ellipse cx="46.2" cy="40.6" rx="3.4" ry="1.5" fill="#d5e8d4" opacity="0.85" transform="rotate(119 46.2 40.6)"/>
<ellipse cx="58.9" cy="57.1" rx="2.6" ry="1.2" fill="#d5e8d4" opacity="0.85" transform="rotate(11 58.9 57.1)"/>
<ellipse cx="63.4" cy="55.8" rx="1.7" ry="1.9" fill="#d5e8d4" opacity="0.85" transform="rotate(105 63.4 55.8)"/>
<ellipse cx="50.4" cy="51.8" rx="1.8" ry="2.0" fill="#d5e8d4" opacity="0.85" transform="rotate(30 50.4 51.8)"/>
<ellipse cx="30.8" cy="88.0" rx="1.8" ry="1.4" fill="#d5e8d4" opacity="0.85" transform="rotate(86 30.8 88.0)"/>
<ellipse cx="21.8" cy="83.1" rx="2.5" ry="0.8" fill="#d5e8d4" opacity="0.85" transform="rotate(85 21.8 83.1)"/>
<ellipse cx="3.4" cy="69.2" rx="3.7" ry="1.9" fill="#d5e8d4" opacity="0.85" transform="rotate(9 3.4 69.2)"/>
<ellipse cx="54.3" cy="43.2" rx="2.7" ry="1.2" fill="#d5e8d4" opacity="0.85" transform="rotate(55 54.3 43.2)"/>
<ellipse cx="13.1" cy="63.9" rx="1.7" ry="2.0" fill="#d5e8d4" opacity="0.85" transform="rotate(8 13.1 63.9)"/>
<ellipse cx="76.3" cy="35.9" rx="1.7" ry="1.7" fill="#d5e8d4" opacity="0.85" transform="rotate(96 76.3 35.9)"/>
<ellipse cx="61.4" cy="56.3" rx="3.1" ry="0.9" fill="#d5e8d4" opacity="0.85" transform="rotate(121 61.4 56.3)"/>
<ellipse cx="41.9" cy="85.6" rx="1.5" ry="0.9" fill="#d5e8d4" opacity="0.85" transform="rotate(122 41.9 85.6)"/>
<ellipse cx="73.4" cy="50.7" rx="3.3" ry="1.5" fill="#d5e8d4" opacity="0.85" transform="rotate(70 73.4 50.7)"/>
<ellipse cx="38.4" cy="62.3" rx="1.6" ry="1.2" fill="#d5e8d4" opacity="0.85" transform="rotate(133 38.4 62.3)"/>
<ellipse cx="22.6" cy="54.0" rx="2.1" ry="1.2" fill="#d5e8d4" opacity="0.85" transform="rotate(117 22.6 54.0)"/>
<ellipse cx="59.5" cy="85.2" rx="2.7" ry="1.0" fill="#d5e8d4" opacity="0.85" transform="rotate(61 59.5 85.2)"/>
<ellipse cx="7.4" cy="39.0" rx="3.0" ry="1.5" fill="#d5e8d4" opacity="0.85" transform="rotate(43 7.4 39.0)"/>
<ellipse cx="16.8" cy="29.8" rx="1.9" ry="1.4" fill="#d5e8d4" opacity="0.85" transform="rotate(46 16.8 29.8)"/>
<ellipse cx="70.2" cy="59.9" rx="2.4" ry="1.3" fill="#d5e8d4" opacity="0.85" transform="rotate(7 70.2 59.9)"/>
<ellipse cx="58.7" cy="71.9" rx="2.4" ry="1.7" fill="#d5e8d4" opacity="0.85" transform="rotate(49 58.7 71.9)"/>
<ellipse cx="19.7" cy="38.2" rx="2.0" ry="1.5" fill="#d5e8d4" opacity="0.85" transform="rotate(116 19.7 38.2)"/>
<ellipse cx="58.3" cy="30.2" rx="3.4" ry="1.4" fill="#d5e8d4" opacity="0.85" transform="rotate(68 58.3 30.2)"/>
<ellipse cx="41.2" cy="51.4" rx="2.0" ry="1.3" fill="#d5e8d4" opacity="0.85" transform="rotate(116 41.2 51.4)"/>
<ellipse cx="57.4" cy="82.5" rx="2.0" ry="1.9" fill="#d5e8d4" opacity="0.85" transform="rotate(144 57.4 82.5)"/>
<ellipse cx="57.2" cy="86.7" rx="1.8" ry="1.7" fill="#d5e8d4" opacity="0.85" transform="rotate(162 57.2 86.7)"/>
<ellipse cx="12.3" cy="61.9" rx="3.9" ry="1.2" fill="#d5e8d4" opacity="0.85" transform="rotate(154 12.3 61.9)"/>
<ellipse cx="71.9" cy="51.6" rx="1.9" ry="1.1" fill="#d5e8d4" opacity="0.85" transform="rotate(149 71.9 51.6)"/>
<ellipse cx="35.1" cy="43.9" rx="2.6" ry="1.9" fill="#d5e8d4" opacity="0.85" transform="rotate(46 35.1 43.9)"/>
</g>
<clipPath id="cp_pk"><path d="M111.0,14.6 C112.8,13.5 117.3,14.4 119.0,15.5 C120.7,16.6 118.7,19.1 121.0,21.4 C123.3,23.6 128.8,28.1 133.0,29.0 C137.2,29.9 142.2,27.8 146.0,27.0 C149.8,26.2 153.0,24.3 156.0,24.3 C159.0,24.3 162.0,24.9 164.0,27.0 C166.0,29.1 166.2,34.7 168.0,37.0 C169.8,39.3 172.8,39.1 175.0,41.0 C177.2,42.9 180.3,46.0 181.5,48.5 C182.7,51.0 182.6,53.4 182.0,56.0 C181.4,58.6 180.0,61.3 178.0,64.0 C176.0,66.7 173.8,69.8 170.0,72.0 C166.2,74.2 159.8,74.8 155.5,77.0 C151.2,79.2 147.8,83.4 144.0,85.0 C140.2,86.6 137.0,87.4 133.0,86.6 C129.0,85.8 125.6,82.4 120.0,80.0 C114.4,77.6 103.5,75.3 99.3,72.0 C95.1,68.7 95.5,63.9 95.0,60.0 C94.5,56.1 95.5,51.4 96.0,48.5 C96.5,45.6 96.7,45.5 98.0,42.7 C99.3,40.0 102.3,35.5 104.0,32.0 C105.7,28.6 106.8,24.9 108.0,22.0 C109.2,19.1 109.2,15.7 111.0,14.6Z"/></clipPath>
<path d="M111.0,14.6 C112.8,13.5 117.3,14.4 119.0,15.5 C120.7,16.6 118.7,19.1 121.0,21.4 C123.3,23.6 128.8,28.1 133.0,29.0 C137.2,29.9 142.2,27.8 146.0,27.0 C149.8,26.2 153.0,24.3 156.0,24.3 C159.0,24.3 162.0,24.9 164.0,27.0 C166.0,29.1 166.2,34.7 168.0,37.0 C169.8,39.3 172.8,39.1 175.0,41.0 C177.2,42.9 180.3,46.0 181.5,48.5 C182.7,51.0 182.6,53.4 182.0,56.0 C181.4,58.6 180.0,61.3 178.0,64.0 C176.0,66.7 173.8,69.8 170.0,72.0 C166.2,74.2 159.8,74.8 155.5,77.0 C151.2,79.2 147.8,83.4 144.0,85.0 C140.2,86.6 137.0,87.4 133.0,86.6 C129.0,85.8 125.6,82.4 120.0,80.0 C114.4,77.6 103.5,75.3 99.3,72.0 C95.1,68.7 95.5,63.9 95.0,60.0 C94.5,56.1 95.5,51.4 96.0,48.5 C96.5,45.6 96.7,45.5 98.0,42.7 C99.3,40.0 102.3,35.5 104.0,32.0 C105.7,28.6 106.8,24.9 108.0,22.0 C109.2,19.1 109.2,15.7 111.0,14.6Z" fill="#f2d5f0" stroke="none" stroke-width="1" />
<g clip-path="url(#cp_pk)">
<ellipse cx="96.6" cy="82.9" rx="2.3" ry="1.3" fill="#e4bfe2" opacity="0.85" transform="rotate(176 96.6 82.9)"/>
<ellipse cx="119.5" cy="20.8" rx="3.7" ry="1.1" fill="#e4bfe2" opacity="0.85" transform="rotate(40 119.5 20.8)"/>
<ellipse cx="176.6" cy="31.1" rx="3.8" ry="1.2" fill="#e4bfe2" opacity="0.85" transform="rotate(55 176.6 31.1)"/>
<ellipse cx="113.8" cy="53.6" rx="2.9" ry="1.3" fill="#e4bfe2" opacity="0.85" transform="rotate(91 113.8 53.6)"/>
<ellipse cx="120.9" cy="74.9" rx="3.8" ry="1.7" fill="#e4bfe2" opacity="0.85" transform="rotate(148 120.9 74.9)"/>
<ellipse cx="101.2" cy="32.6" rx="2.0" ry="1.0" fill="#e4bfe2" opacity="0.85" transform="rotate(174 101.2 32.6)"/>
<ellipse cx="173.8" cy="80.4" rx="2.9" ry="0.9" fill="#e4bfe2" opacity="0.85" transform="rotate(77 173.8 80.4)"/>
<ellipse cx="99.9" cy="79.7" rx="2.2" ry="1.1" fill="#e4bfe2" opacity="0.85" transform="rotate(170 99.9 79.7)"/>
<ellipse cx="112.4" cy="81.0" rx="2.3" ry="1.6" fill="#e4bfe2" opacity="0.85" transform="rotate(19 112.4 81.0)"/>
<ellipse cx="173.2" cy="43.3" rx="2.4" ry="1.6" fill="#e4bfe2" opacity="0.85" transform="rotate(107 173.2 43.3)"/>
<ellipse cx="116.8" cy="23.5" rx="2.9" ry="0.8" fill="#e4bfe2" opacity="0.85" transform="rotate(157 116.8 23.5)"/>
<ellipse cx="124.9" cy="26.8" rx="2.3" ry="0.9" fill="#e4bfe2" opacity="0.85" transform="rotate(57 124.9 26.8)"/>
<ellipse cx="142.3" cy="43.9" rx="2.3" ry="1.1" fill="#e4bfe2" opacity="0.85" transform="rotate(88 142.3 43.9)"/>
<ellipse cx="162.7" cy="46.1" rx="3.4" ry="1.4" fill="#e4bfe2" opacity="0.85" transform="rotate(22 162.7 46.1)"/>
<ellipse cx="109.8" cy="75.6" rx="2.7" ry="1.3" fill="#e4bfe2" opacity="0.85" transform="rotate(93 109.8 75.6)"/>
<ellipse cx="168.6" cy="41.6" rx="2.4" ry="1.2" fill="#e4bfe2" opacity="0.85" transform="rotate(2 168.6 41.6)"/>
<ellipse cx="142.4" cy="49.1" rx="2.7" ry="1.3" fill="#e4bfe2" opacity="0.85" transform="rotate(85 142.4 49.1)"/>
<ellipse cx="157.2" cy="28.0" rx="4.0" ry="0.9" fill="#e4bfe2" opacity="0.85" transform="rotate(156 157.2 28.0)"/>
<ellipse cx="110.2" cy="71.9" rx="2.2" ry="0.9" fill="#e4bfe2" opacity="0.85" transform="rotate(97 110.2 71.9)"/>
<ellipse cx="168.0" cy="75.5" rx="3.7" ry="2.0" fill="#e4bfe2" opacity="0.85" transform="rotate(10 168.0 75.5)"/>
<ellipse cx="128.0" cy="22.3" rx="3.4" ry="1.3" fill="#e4bfe2" opacity="0.85" transform="rotate(134 128.0 22.3)"/>
<ellipse cx="164.2" cy="86.5" rx="3.2" ry="1.9" fill="#e4bfe2" opacity="0.85" transform="rotate(99 164.2 86.5)"/>
<ellipse cx="102.0" cy="78.8" rx="1.7" ry="0.9" fill="#e4bfe2" opacity="0.85" transform="rotate(149 102.0 78.8)"/>
<ellipse cx="119.4" cy="62.3" rx="1.6" ry="1.1" fill="#e4bfe2" opacity="0.85" transform="rotate(129 119.4 62.3)"/>
<ellipse cx="98.3" cy="51.4" rx="3.8" ry="1.1" fill="#e4bfe2" opacity="0.85" transform="rotate(127 98.3 51.4)"/>
<ellipse cx="159.7" cy="59.2" rx="3.4" ry="1.6" fill="#e4bfe2" opacity="0.85" transform="rotate(3 159.7 59.2)"/>
<ellipse cx="111.7" cy="53.2" rx="3.9" ry="1.1" fill="#e4bfe2" opacity="0.85" transform="rotate(106 111.7 53.2)"/>
<ellipse cx="106.2" cy="75.6" rx="2.6" ry="1.4" fill="#e4bfe2" opacity="0.85" transform="rotate(120 106.2 75.6)"/>
<ellipse cx="106.9" cy="67.1" rx="3.5" ry="1.8" fill="#e4bfe2" opacity="0.85" transform="rotate(51 106.9 67.1)"/>
<ellipse cx="115.4" cy="26.5" rx="3.7" ry="1.3" fill="#e4bfe2" opacity="0.85" transform="rotate(70 115.4 26.5)"/>
<ellipse cx="140.3" cy="64.9" rx="2.3" ry="1.2" fill="#e4bfe2" opacity="0.85" transform="rotate(138 140.3 64.9)"/>
<ellipse cx="162.6" cy="35.9" rx="1.7" ry="1.9" fill="#e4bfe2" opacity="0.85" transform="rotate(131 162.6 35.9)"/>
<ellipse cx="146.7" cy="43.7" rx="3.9" ry="1.3" fill="#e4bfe2" opacity="0.85" transform="rotate(39 146.7 43.7)"/>
<ellipse cx="103.7" cy="39.9" rx="3.0" ry="1.2" fill="#e4bfe2" opacity="0.85" transform="rotate(170 103.7 39.9)"/>
<ellipse cx="151.5" cy="47.6" rx="3.2" ry="1.5" fill="#e4bfe2" opacity="0.85" transform="rotate(111 151.5 47.6)"/>
<ellipse cx="138.1" cy="52.3" rx="2.7" ry="1.8" fill="#e4bfe2" opacity="0.85" transform="rotate(35 138.1 52.3)"/>
<ellipse cx="163.3" cy="36.1" rx="3.6" ry="0.9" fill="#e4bfe2" opacity="0.85" transform="rotate(87 163.3 36.1)"/>
<ellipse cx="133.5" cy="65.8" rx="2.0" ry="1.1" fill="#e4bfe2" opacity="0.85" transform="rotate(24 133.5 65.8)"/>
<ellipse cx="143.8" cy="56.1" rx="1.5" ry="1.0" fill="#e4bfe2" opacity="0.85" transform="rotate(36 143.8 56.1)"/>
<ellipse cx="178.3" cy="47.4" rx="2.9" ry="1.1" fill="#e4bfe2" opacity="0.85" transform="rotate(119 178.3 47.4)"/>
<ellipse cx="165.7" cy="62.9" rx="1.5" ry="1.3" fill="#e4bfe2" opacity="0.85" transform="rotate(88 165.7 62.9)"/>
<ellipse cx="98.9" cy="71.5" rx="2.3" ry="1.2" fill="#e4bfe2" opacity="0.85" transform="rotate(113 98.9 71.5)"/>
<ellipse cx="145.9" cy="50.3" rx="3.6" ry="1.4" fill="#e4bfe2" opacity="0.85" transform="rotate(62 145.9 50.3)"/>
<ellipse cx="100.6" cy="54.4" rx="2.4" ry="1.4" fill="#e4bfe2" opacity="0.85" transform="rotate(63 100.6 54.4)"/>
<ellipse cx="95.6" cy="17.3" rx="1.9" ry="0.9" fill="#e4bfe2" opacity="0.85" transform="rotate(153 95.6 17.3)"/>
<ellipse cx="145.5" cy="31.8" rx="3.3" ry="1.6" fill="#e4bfe2" opacity="0.85" transform="rotate(11 145.5 31.8)"/>
<ellipse cx="160.4" cy="31.1" rx="4.0" ry="1.0" fill="#e4bfe2" opacity="0.85" transform="rotate(51 160.4 31.1)"/>
<ellipse cx="116.7" cy="76.7" rx="3.5" ry="1.5" fill="#e4bfe2" opacity="0.85" transform="rotate(27 116.7 76.7)"/>
<ellipse cx="132.3" cy="65.1" rx="1.6" ry="1.9" fill="#e4bfe2" opacity="0.85" transform="rotate(151 132.3 65.1)"/>
<ellipse cx="176.1" cy="64.9" rx="3.0" ry="2.0" fill="#e4bfe2" opacity="0.85" transform="rotate(48 176.1 64.9)"/>
<ellipse cx="121.6" cy="23.5" rx="2.0" ry="1.8" fill="#e4bfe2" opacity="0.85" transform="rotate(17 121.6 23.5)"/>
<ellipse cx="159.7" cy="43.1" rx="3.7" ry="1.7" fill="#e4bfe2" opacity="0.85" transform="rotate(124 159.7 43.1)"/>
<ellipse cx="168.5" cy="17.7" rx="2.2" ry="1.2" fill="#e4bfe2" opacity="0.85" transform="rotate(77 168.5 17.7)"/>
<ellipse cx="153.3" cy="77.9" rx="3.4" ry="1.9" fill="#e4bfe2" opacity="0.85" transform="rotate(125 153.3 77.9)"/>
<ellipse cx="126.0" cy="51.2" rx="3.4" ry="1.8" fill="#e4bfe2" opacity="0.85" transform="rotate(67 126.0 51.2)"/>
<ellipse cx="125.9" cy="58.8" rx="2.1" ry="1.9" fill="#e4bfe2" opacity="0.85" transform="rotate(0 125.9 58.8)"/>
<ellipse cx="151.4" cy="49.6" rx="2.0" ry="1.5" fill="#e4bfe2" opacity="0.85" transform="rotate(85 151.4 49.6)"/>
<ellipse cx="178.7" cy="78.3" rx="3.0" ry="1.8" fill="#e4bfe2" opacity="0.85" transform="rotate(159 178.7 78.3)"/>
<ellipse cx="109.4" cy="74.2" rx="3.6" ry="2.0" fill="#e4bfe2" opacity="0.85" transform="rotate(137 109.4 74.2)"/>
<ellipse cx="129.1" cy="29.5" rx="3.1" ry="1.1" fill="#e4bfe2" opacity="0.85" transform="rotate(136 129.1 29.5)"/>
<ellipse cx="145.0" cy="74.1" rx="2.4" ry="1.2" fill="#e4bfe2" opacity="0.85" transform="rotate(163 145.0 74.1)"/>
<ellipse cx="152.6" cy="41.8" rx="2.9" ry="1.3" fill="#e4bfe2" opacity="0.85" transform="rotate(116 152.6 41.8)"/>
<ellipse cx="140.0" cy="35.2" rx="3.9" ry="1.9" fill="#e4bfe2" opacity="0.85" transform="rotate(137 140.0 35.2)"/>
<ellipse cx="119.2" cy="28.6" rx="3.3" ry="1.8" fill="#e4bfe2" opacity="0.85" transform="rotate(117 119.2 28.6)"/>
<ellipse cx="113.6" cy="66.5" rx="2.8" ry="1.2" fill="#e4bfe2" opacity="0.85" transform="rotate(106 113.6 66.5)"/>
<ellipse cx="134.0" cy="61.3" rx="3.4" ry="2.0" fill="#e4bfe2" opacity="0.85" transform="rotate(20 134.0 61.3)"/>
<ellipse cx="144.7" cy="82.7" rx="3.1" ry="1.5" fill="#e4bfe2" opacity="0.85" transform="rotate(154 144.7 82.7)"/>
<ellipse cx="97.7" cy="71.7" rx="3.1" ry="1.5" fill="#e4bfe2" opacity="0.85" transform="rotate(56 97.7 71.7)"/>
<ellipse cx="148.9" cy="23.6" rx="2.8" ry="1.1" fill="#e4bfe2" opacity="0.85" transform="rotate(168 148.9 23.6)"/>
<ellipse cx="165.0" cy="48.6" rx="3.4" ry="1.3" fill="#e4bfe2" opacity="0.85" transform="rotate(94 165.0 48.6)"/>
<ellipse cx="109.1" cy="76.4" rx="3.4" ry="1.7" fill="#e4bfe2" opacity="0.85" transform="rotate(15 109.1 76.4)"/>
<ellipse cx="166.3" cy="15.5" rx="2.9" ry="1.4" fill="#e4bfe2" opacity="0.85" transform="rotate(11 166.3 15.5)"/>
<ellipse cx="131.7" cy="78.5" rx="3.1" ry="1.2" fill="#e4bfe2" opacity="0.85" transform="rotate(147 131.7 78.5)"/>
<ellipse cx="125.9" cy="79.2" rx="2.5" ry="0.9" fill="#e4bfe2" opacity="0.85" transform="rotate(175 125.9 79.2)"/>
<ellipse cx="101.2" cy="32.8" rx="3.4" ry="0.9" fill="#e4bfe2" opacity="0.85" transform="rotate(98 101.2 32.8)"/>
<ellipse cx="169.7" cy="57.1" rx="2.4" ry="1.7" fill="#e4bfe2" opacity="0.85" transform="rotate(149 169.7 57.1)"/>
<ellipse cx="145.4" cy="59.7" rx="2.3" ry="1.3" fill="#e4bfe2" opacity="0.85" transform="rotate(179 145.4 59.7)"/>
<ellipse cx="179.5" cy="14.7" rx="2.0" ry="1.1" fill="#e4bfe2" opacity="0.85" transform="rotate(143 179.5 14.7)"/>
<ellipse cx="112.5" cy="26.8" rx="3.4" ry="1.0" fill="#e4bfe2" opacity="0.85" transform="rotate(176 112.5 26.8)"/>
<ellipse cx="134.6" cy="79.3" rx="3.5" ry="1.0" fill="#e4bfe2" opacity="0.85" transform="rotate(141 134.6 79.3)"/>
<ellipse cx="131.1" cy="30.6" rx="1.6" ry="1.6" fill="#e4bfe2" opacity="0.85" transform="rotate(101 131.1 30.6)"/>
<ellipse cx="121.4" cy="74.6" rx="2.0" ry="1.3" fill="#e4bfe2" opacity="0.85" transform="rotate(16 121.4 74.6)"/>
<ellipse cx="125.5" cy="78.3" rx="2.8" ry="1.0" fill="#e4bfe2" opacity="0.85" transform="rotate(43 125.5 78.3)"/>
<ellipse cx="151.1" cy="34.6" rx="3.7" ry="0.9" fill="#e4bfe2" opacity="0.85" transform="rotate(156 151.1 34.6)"/>
<ellipse cx="149.1" cy="73.8" rx="2.4" ry="0.9" fill="#e4bfe2" opacity="0.85" transform="rotate(31 149.1 73.8)"/>
<ellipse cx="149.5" cy="16.5" rx="1.8" ry="1.7" fill="#e4bfe2" opacity="0.85" transform="rotate(158 149.5 16.5)"/>
<ellipse cx="169.5" cy="74.9" rx="2.9" ry="1.9" fill="#e4bfe2" opacity="0.85" transform="rotate(126 169.5 74.9)"/>
<ellipse cx="143.5" cy="45.2" rx="1.6" ry="0.9" fill="#e4bfe2" opacity="0.85" transform="rotate(45 143.5 45.2)"/>
<ellipse cx="135.1" cy="23.3" rx="3.9" ry="1.5" fill="#e4bfe2" opacity="0.85" transform="rotate(133 135.1 23.3)"/>
<ellipse cx="172.7" cy="30.9" rx="3.7" ry="1.9" fill="#e4bfe2" opacity="0.85" transform="rotate(48 172.7 30.9)"/>
<ellipse cx="105.9" cy="72.2" rx="3.7" ry="1.8" fill="#e4bfe2" opacity="0.85" transform="rotate(73 105.9 72.2)"/>
<ellipse cx="147.4" cy="22.8" rx="2.1" ry="1.3" fill="#e4bfe2" opacity="0.85" transform="rotate(134 147.4 22.8)"/>
<ellipse cx="102.7" cy="81.4" rx="1.6" ry="2.0" fill="#e4bfe2" opacity="0.85" transform="rotate(43 102.7 81.4)"/>
<ellipse cx="166.2" cy="73.5" rx="3.9" ry="1.4" fill="#e4bfe2" opacity="0.85" transform="rotate(126 166.2 73.5)"/>
<ellipse cx="120.4" cy="74.6" rx="1.8" ry="1.9" fill="#e4bfe2" opacity="0.85" transform="rotate(107 120.4 74.6)"/>
<ellipse cx="100.4" cy="82.4" rx="2.3" ry="0.9" fill="#e4bfe2" opacity="0.85" transform="rotate(47 100.4 82.4)"/>
<ellipse cx="97.4" cy="34.9" rx="3.3" ry="2.0" fill="#e4bfe2" opacity="0.85" transform="rotate(114 97.4 34.9)"/>
<ellipse cx="169.3" cy="73.8" rx="3.3" ry="1.3" fill="#e4bfe2" opacity="0.85" transform="rotate(45 169.3 73.8)"/>
<ellipse cx="108.6" cy="54.0" rx="2.0" ry="1.7" fill="#e4bfe2" opacity="0.85" transform="rotate(58 108.6 54.0)"/>
<ellipse cx="145.4" cy="53.9" rx="3.1" ry="1.0" fill="#e4bfe2" opacity="0.85" transform="rotate(46 145.4 53.9)"/>
<ellipse cx="154.9" cy="29.9" rx="3.2" ry="2.0" fill="#e4bfe2" opacity="0.85" transform="rotate(70 154.9 29.9)"/>
<ellipse cx="178.7" cy="58.8" rx="3.9" ry="1.4" fill="#e4bfe2" opacity="0.85" transform="rotate(136 178.7 58.8)"/>
<ellipse cx="154.4" cy="28.7" rx="2.8" ry="1.5" fill="#e4bfe2" opacity="0.85" transform="rotate(83 154.4 28.7)"/>
<ellipse cx="152.4" cy="80.1" rx="3.5" ry="1.8" fill="#e4bfe2" opacity="0.85" transform="rotate(26 152.4 80.1)"/>
<ellipse cx="156.2" cy="59.8" rx="3.8" ry="0.8" fill="#e4bfe2" opacity="0.85" transform="rotate(31 156.2 59.8)"/>
<ellipse cx="179.9" cy="41.4" rx="3.3" ry="1.5" fill="#e4bfe2" opacity="0.85" transform="rotate(72 179.9 41.4)"/>
<ellipse cx="133.2" cy="55.1" rx="4.0" ry="1.4" fill="#e4bfe2" opacity="0.85" transform="rotate(142 133.2 55.1)"/>
<ellipse cx="121.4" cy="65.8" rx="3.0" ry="1.7" fill="#e4bfe2" opacity="0.85" transform="rotate(158 121.4 65.8)"/>
<ellipse cx="101.9" cy="84.2" rx="3.0" ry="1.1" fill="#e4bfe2" opacity="0.85" transform="rotate(84 101.9 84.2)"/>
<ellipse cx="103.4" cy="31.2" rx="3.6" ry="1.7" fill="#e4bfe2" opacity="0.85" transform="rotate(156 103.4 31.2)"/>
<ellipse cx="109.1" cy="22.4" rx="2.4" ry="1.4" fill="#e4bfe2" opacity="0.85" transform="rotate(128 109.1 22.4)"/>
<ellipse cx="121.0" cy="67.7" rx="3.0" ry="1.1" fill="#e4bfe2" opacity="0.85" transform="rotate(142 121.0 67.7)"/>
<ellipse cx="101.4" cy="57.2" rx="2.0" ry="0.9" fill="#e4bfe2" opacity="0.85" transform="rotate(86 101.4 57.2)"/>
<ellipse cx="140.2" cy="58.7" rx="2.4" ry="1.9" fill="#e4bfe2" opacity="0.85" transform="rotate(141 140.2 58.7)"/>
<ellipse cx="108.4" cy="14.9" rx="3.9" ry="1.3" fill="#e4bfe2" opacity="0.85" transform="rotate(19 108.4 14.9)"/>
<ellipse cx="110.5" cy="65.0" rx="1.9" ry="1.2" fill="#e4bfe2" opacity="0.85" transform="rotate(122 110.5 65.0)"/>
<ellipse cx="125.6" cy="61.7" rx="3.9" ry="1.8" fill="#e4bfe2" opacity="0.85" transform="rotate(113 125.6 61.7)"/>
<ellipse cx="149.4" cy="36.9" rx="3.1" ry="1.6" fill="#e4bfe2" opacity="0.85" transform="rotate(106 149.4 36.9)"/>
<ellipse cx="137.7" cy="68.7" rx="2.0" ry="1.7" fill="#e4bfe2" opacity="0.85" transform="rotate(176 137.7 68.7)"/>
<ellipse cx="98.1" cy="32.8" rx="4.0" ry="0.9" fill="#e4bfe2" opacity="0.85" transform="rotate(147 98.1 32.8)"/>
<ellipse cx="145.5" cy="19.6" rx="3.1" ry="0.8" fill="#e4bfe2" opacity="0.85" transform="rotate(153 145.5 19.6)"/>
<ellipse cx="121.3" cy="81.1" rx="3.7" ry="1.0" fill="#e4bfe2" opacity="0.85" transform="rotate(73 121.3 81.1)"/>
<ellipse cx="108.3" cy="69.2" rx="1.7" ry="0.9" fill="#e4bfe2" opacity="0.85" transform="rotate(21 108.3 69.2)"/>
<ellipse cx="169.7" cy="32.4" rx="2.3" ry="1.3" fill="#e4bfe2" opacity="0.85" transform="rotate(99 169.7 32.4)"/>
<ellipse cx="130.9" cy="82.8" rx="2.4" ry="1.4" fill="#e4bfe2" opacity="0.85" transform="rotate(155 130.9 82.8)"/>
<ellipse cx="116.2" cy="27.1" rx="3.6" ry="1.2" fill="#e4bfe2" opacity="0.85" transform="rotate(161 116.2 27.1)"/>
<ellipse cx="166.5" cy="41.5" rx="2.3" ry="0.9" fill="#e4bfe2" opacity="0.85" transform="rotate(157 166.5 41.5)"/>
<ellipse cx="133.5" cy="39.2" rx="1.9" ry="1.1" fill="#e4bfe2" opacity="0.85" transform="rotate(157 133.5 39.2)"/>
<ellipse cx="106.4" cy="54.5" rx="3.1" ry="1.4" fill="#e4bfe2" opacity="0.85" transform="rotate(90 106.4 54.5)"/>
<ellipse cx="129.6" cy="28.4" rx="3.6" ry="1.9" fill="#e4bfe2" opacity="0.85" transform="rotate(102 129.6 28.4)"/>
<ellipse cx="116.9" cy="80.3" rx="2.0" ry="1.0" fill="#e4bfe2" opacity="0.85" transform="rotate(113 116.9 80.3)"/>
<ellipse cx="167.3" cy="55.8" rx="1.8" ry="2.0" fill="#e4bfe2" opacity="0.85" transform="rotate(28 167.3 55.8)"/>
<ellipse cx="124.9" cy="85.8" rx="3.5" ry="1.7" fill="#e4bfe2" opacity="0.85" transform="rotate(14 124.9 85.8)"/>
<ellipse cx="169.1" cy="43.4" rx="1.5" ry="1.7" fill="#e4bfe2" opacity="0.85" transform="rotate(167 169.1 43.4)"/>
<ellipse cx="99.1" cy="47.3" rx="3.8" ry="1.2" fill="#e4bfe2" opacity="0.85" transform="rotate(55 99.1 47.3)"/>
<ellipse cx="162.8" cy="46.4" rx="4.0" ry="1.8" fill="#e4bfe2" opacity="0.85" transform="rotate(155 162.8 46.4)"/>
<ellipse cx="156.5" cy="28.6" rx="3.2" ry="1.5" fill="#e4bfe2" opacity="0.85" transform="rotate(87 156.5 28.6)"/>
<ellipse cx="144.3" cy="36.6" rx="2.0" ry="1.9" fill="#e4bfe2" opacity="0.85" transform="rotate(66 144.3 36.6)"/>
<ellipse cx="104.2" cy="84.9" rx="2.8" ry="1.6" fill="#e4bfe2" opacity="0.85" transform="rotate(61 104.2 84.9)"/>
</g>
<clipPath id="cp_ol"><path d="M100.0,97.0 C103.0,92.0 112.3,95.0 120.0,95.0 C127.7,95.0 141.3,94.0 146.0,97.0 C150.7,100.0 148.1,108.8 148.0,113.0 C147.9,117.2 147.0,118.7 145.5,122.0 C144.0,125.3 141.1,128.0 139.0,133.0 C136.9,138.0 135.5,147.1 132.7,152.0 C129.9,156.9 124.5,160.1 122.0,162.6 C119.5,165.1 119.4,166.6 118.0,167.0 C116.6,167.4 116.3,166.5 113.5,165.0 C110.7,163.5 103.5,160.5 101.0,158.0 C98.5,155.5 98.3,155.5 98.5,150.0 C98.7,144.5 101.8,133.8 102.0,125.0 C102.2,116.2 97.0,102.0 100.0,97.0Z"/></clipPath>
<path d="M100.0,97.0 C103.0,92.0 112.3,95.0 120.0,95.0 C127.7,95.0 141.3,94.0 146.0,97.0 C150.7,100.0 148.1,108.8 148.0,113.0 C147.9,117.2 147.0,118.7 145.5,122.0 C144.0,125.3 141.1,128.0 139.0,133.0 C136.9,138.0 135.5,147.1 132.7,152.0 C129.9,156.9 124.5,160.1 122.0,162.6 C119.5,165.1 119.4,166.6 118.0,167.0 C116.6,167.4 116.3,166.5 113.5,165.0 C110.7,163.5 103.5,160.5 101.0,158.0 C98.5,155.5 98.3,155.5 98.5,150.0 C98.7,144.5 101.8,133.8 102.0,125.0 C102.2,116.2 97.0,102.0 100.0,97.0Z" fill="#e8e9d3" stroke="none" stroke-width="1" />
<g clip-path="url(#cp_ol)">
<ellipse cx="105.9" cy="118.9" rx="3.6" ry="1.1" fill="#d9dbbd" opacity="0.85" transform="rotate(164 105.9 118.9)"/>
<ellipse cx="113.6" cy="159.6" rx="1.9" ry="1.3" fill="#d9dbbd" opacity="0.85" transform="rotate(23 113.6 159.6)"/>
<ellipse cx="105.9" cy="132.6" rx="2.4" ry="1.4" fill="#d9dbbd" opacity="0.85" transform="rotate(39 105.9 132.6)"/>
<ellipse cx="113.9" cy="118.2" rx="3.7" ry="0.9" fill="#d9dbbd" opacity="0.85" transform="rotate(75 113.9 118.2)"/>
<ellipse cx="140.8" cy="136.2" rx="2.1" ry="2.0" fill="#d9dbbd" opacity="0.85" transform="rotate(20 140.8 136.2)"/>
<ellipse cx="105.3" cy="96.2" rx="2.6" ry="1.8" fill="#d9dbbd" opacity="0.85" transform="rotate(51 105.3 96.2)"/>
<ellipse cx="112.6" cy="152.5" rx="1.7" ry="0.8" fill="#d9dbbd" opacity="0.85" transform="rotate(119 112.6 152.5)"/>
<ellipse cx="102.9" cy="133.0" rx="1.9" ry="1.5" fill="#d9dbbd" opacity="0.85" transform="rotate(153 102.9 133.0)"/>
<ellipse cx="120.9" cy="114.7" rx="3.1" ry="1.6" fill="#d9dbbd" opacity="0.85" transform="rotate(10 120.9 114.7)"/>
<ellipse cx="110.4" cy="122.1" rx="2.8" ry="1.1" fill="#d9dbbd" opacity="0.85" transform="rotate(118 110.4 122.1)"/>
<ellipse cx="111.1" cy="160.1" rx="2.4" ry="1.1" fill="#d9dbbd" opacity="0.85" transform="rotate(14 111.1 160.1)"/>
<ellipse cx="104.8" cy="110.5" rx="3.7" ry="1.3" fill="#d9dbbd" opacity="0.85" transform="rotate(80 104.8 110.5)"/>
<ellipse cx="146.0" cy="164.6" rx="3.4" ry="1.1" fill="#d9dbbd" opacity="0.85" transform="rotate(59 146.0 164.6)"/>
<ellipse cx="123.5" cy="113.6" rx="2.4" ry="1.1" fill="#d9dbbd" opacity="0.85" transform="rotate(43 123.5 113.6)"/>
<ellipse cx="135.6" cy="138.4" rx="2.6" ry="1.4" fill="#d9dbbd" opacity="0.85" transform="rotate(110 135.6 138.4)"/>
<ellipse cx="132.4" cy="96.6" rx="3.6" ry="1.4" fill="#d9dbbd" opacity="0.85" transform="rotate(62 132.4 96.6)"/>
<ellipse cx="145.9" cy="149.5" rx="2.4" ry="0.8" fill="#d9dbbd" opacity="0.85" transform="rotate(79 145.9 149.5)"/>
<ellipse cx="120.3" cy="122.0" rx="1.7" ry="1.5" fill="#d9dbbd" opacity="0.85" transform="rotate(46 120.3 122.0)"/>
<ellipse cx="136.2" cy="133.1" rx="2.2" ry="1.8" fill="#d9dbbd" opacity="0.85" transform="rotate(81 136.2 133.1)"/>
<ellipse cx="102.7" cy="115.2" rx="1.6" ry="1.3" fill="#d9dbbd" opacity="0.85" transform="rotate(164 102.7 115.2)"/>
<ellipse cx="145.0" cy="141.9" rx="1.9" ry="1.1" fill="#d9dbbd" opacity="0.85" transform="rotate(37 145.0 141.9)"/>
<ellipse cx="117.0" cy="140.9" rx="1.6" ry="1.4" fill="#d9dbbd" opacity="0.85" transform="rotate(77 117.0 140.9)"/>
<ellipse cx="131.2" cy="154.5" rx="2.5" ry="1.5" fill="#d9dbbd" opacity="0.85" transform="rotate(49 131.2 154.5)"/>
<ellipse cx="121.0" cy="140.7" rx="1.6" ry="1.4" fill="#d9dbbd" opacity="0.85" transform="rotate(90 121.0 140.7)"/>
<ellipse cx="107.6" cy="112.9" rx="3.6" ry="1.2" fill="#d9dbbd" opacity="0.85" transform="rotate(35 107.6 112.9)"/>
<ellipse cx="112.6" cy="132.5" rx="2.5" ry="1.2" fill="#d9dbbd" opacity="0.85" transform="rotate(58 112.6 132.5)"/>
<ellipse cx="109.2" cy="131.3" rx="3.0" ry="0.9" fill="#d9dbbd" opacity="0.85" transform="rotate(106 109.2 131.3)"/>
<ellipse cx="113.7" cy="165.5" rx="3.8" ry="1.0" fill="#d9dbbd" opacity="0.85" transform="rotate(125 113.7 165.5)"/>
<ellipse cx="115.6" cy="103.0" rx="3.7" ry="1.9" fill="#d9dbbd" opacity="0.85" transform="rotate(142 115.6 103.0)"/>
<ellipse cx="130.0" cy="165.4" rx="2.9" ry="1.6" fill="#d9dbbd" opacity="0.85" transform="rotate(117 130.0 165.4)"/>
<ellipse cx="141.0" cy="156.6" rx="2.3" ry="1.0" fill="#d9dbbd" opacity="0.85" transform="rotate(98 141.0 156.6)"/>
<ellipse cx="127.7" cy="120.4" rx="3.7" ry="1.8" fill="#d9dbbd" opacity="0.85" transform="rotate(124 127.7 120.4)"/>
<ellipse cx="125.0" cy="145.1" rx="2.0" ry="1.8" fill="#d9dbbd" opacity="0.85" transform="rotate(23 125.0 145.1)"/>
<ellipse cx="143.2" cy="140.0" rx="2.2" ry="1.0" fill="#d9dbbd" opacity="0.85" transform="rotate(108 143.2 140.0)"/>
<ellipse cx="121.5" cy="145.2" rx="1.7" ry="1.9" fill="#d9dbbd" opacity="0.85" transform="rotate(77 121.5 145.2)"/>
<ellipse cx="120.3" cy="148.2" rx="3.0" ry="1.3" fill="#d9dbbd" opacity="0.85" transform="rotate(53 120.3 148.2)"/>
<ellipse cx="121.6" cy="97.3" rx="2.1" ry="1.8" fill="#d9dbbd" opacity="0.85" transform="rotate(22 121.6 97.3)"/>
<ellipse cx="102.8" cy="156.1" rx="2.4" ry="1.4" fill="#d9dbbd" opacity="0.85" transform="rotate(106 102.8 156.1)"/>
<ellipse cx="134.0" cy="117.9" rx="3.4" ry="0.8" fill="#d9dbbd" opacity="0.85" transform="rotate(153 134.0 117.9)"/>
<ellipse cx="113.8" cy="140.0" rx="2.3" ry="1.7" fill="#d9dbbd" opacity="0.85" transform="rotate(68 113.8 140.0)"/>
<ellipse cx="128.3" cy="118.1" rx="3.6" ry="1.7" fill="#d9dbbd" opacity="0.85" transform="rotate(36 128.3 118.1)"/>
<ellipse cx="135.9" cy="162.9" rx="2.1" ry="1.0" fill="#d9dbbd" opacity="0.85" transform="rotate(168 135.9 162.9)"/>
<ellipse cx="146.2" cy="104.3" rx="3.4" ry="1.9" fill="#d9dbbd" opacity="0.85" transform="rotate(47 146.2 104.3)"/>
<ellipse cx="137.1" cy="116.4" rx="3.5" ry="1.4" fill="#d9dbbd" opacity="0.85" transform="rotate(85 137.1 116.4)"/>
<ellipse cx="104.7" cy="142.0" rx="3.3" ry="1.1" fill="#d9dbbd" opacity="0.85" transform="rotate(8 104.7 142.0)"/>
<ellipse cx="103.0" cy="113.7" rx="4.0" ry="1.7" fill="#d9dbbd" opacity="0.85" transform="rotate(161 103.0 113.7)"/>
<ellipse cx="135.6" cy="104.6" rx="2.5" ry="1.9" fill="#d9dbbd" opacity="0.85" transform="rotate(153 135.6 104.6)"/>
<ellipse cx="147.6" cy="154.0" rx="3.3" ry="1.7" fill="#d9dbbd" opacity="0.85" transform="rotate(165 147.6 154.0)"/>
<ellipse cx="119.7" cy="97.4" rx="2.3" ry="0.8" fill="#d9dbbd" opacity="0.85" transform="rotate(49 119.7 97.4)"/>
<ellipse cx="127.7" cy="114.8" rx="2.1" ry="0.9" fill="#d9dbbd" opacity="0.85" transform="rotate(64 127.7 114.8)"/>
<ellipse cx="124.0" cy="137.5" rx="3.9" ry="0.9" fill="#d9dbbd" opacity="0.85" transform="rotate(46 124.0 137.5)"/>
<ellipse cx="102.3" cy="162.0" rx="3.1" ry="1.6" fill="#d9dbbd" opacity="0.85" transform="rotate(146 102.3 162.0)"/>
<ellipse cx="98.6" cy="160.0" rx="2.3" ry="1.6" fill="#d9dbbd" opacity="0.85" transform="rotate(73 98.6 160.0)"/>
<ellipse cx="135.4" cy="116.7" rx="2.2" ry="1.1" fill="#d9dbbd" opacity="0.85" transform="rotate(130 135.4 116.7)"/>
<ellipse cx="121.1" cy="106.2" rx="2.4" ry="1.5" fill="#d9dbbd" opacity="0.85" transform="rotate(67 121.1 106.2)"/>
<ellipse cx="127.8" cy="155.7" rx="3.1" ry="1.8" fill="#d9dbbd" opacity="0.85" transform="rotate(55 127.8 155.7)"/>
<ellipse cx="141.5" cy="162.7" rx="2.8" ry="0.8" fill="#d9dbbd" opacity="0.85" transform="rotate(15 141.5 162.7)"/>
<ellipse cx="136.0" cy="157.5" rx="3.3" ry="1.4" fill="#d9dbbd" opacity="0.85" transform="rotate(97 136.0 157.5)"/>
<ellipse cx="104.2" cy="138.1" rx="4.0" ry="1.0" fill="#d9dbbd" opacity="0.85" transform="rotate(110 104.2 138.1)"/>
<ellipse cx="140.6" cy="141.8" rx="2.4" ry="1.1" fill="#d9dbbd" opacity="0.85" transform="rotate(132 140.6 141.8)"/>
<ellipse cx="144.4" cy="158.2" rx="2.5" ry="1.7" fill="#d9dbbd" opacity="0.85" transform="rotate(146 144.4 158.2)"/>
<ellipse cx="117.1" cy="149.4" rx="2.5" ry="1.0" fill="#d9dbbd" opacity="0.85" transform="rotate(0 117.1 149.4)"/>
<ellipse cx="134.4" cy="149.2" rx="1.6" ry="0.9" fill="#d9dbbd" opacity="0.85" transform="rotate(57 134.4 149.2)"/>
<ellipse cx="108.8" cy="147.7" rx="2.0" ry="1.5" fill="#d9dbbd" opacity="0.85" transform="rotate(99 108.8 147.7)"/>
<ellipse cx="115.8" cy="156.5" rx="2.6" ry="1.4" fill="#d9dbbd" opacity="0.85" transform="rotate(120 115.8 156.5)"/>
<ellipse cx="118.5" cy="108.4" rx="3.9" ry="1.7" fill="#d9dbbd" opacity="0.85" transform="rotate(98 118.5 108.4)"/>
<ellipse cx="123.1" cy="139.4" rx="2.2" ry="0.9" fill="#d9dbbd" opacity="0.85" transform="rotate(98 123.1 139.4)"/>
<ellipse cx="143.0" cy="102.1" rx="4.0" ry="1.2" fill="#d9dbbd" opacity="0.85" transform="rotate(180 143.0 102.1)"/>
<ellipse cx="136.6" cy="114.6" rx="2.0" ry="1.9" fill="#d9dbbd" opacity="0.85" transform="rotate(176 136.6 114.6)"/>
<ellipse cx="138.4" cy="137.1" rx="2.9" ry="1.7" fill="#d9dbbd" opacity="0.85" transform="rotate(148 138.4 137.1)"/>
<ellipse cx="139.8" cy="115.8" rx="3.6" ry="1.9" fill="#d9dbbd" opacity="0.85" transform="rotate(103 139.8 115.8)"/>
<ellipse cx="99.0" cy="108.6" rx="3.1" ry="1.3" fill="#d9dbbd" opacity="0.85" transform="rotate(165 99.0 108.6)"/>
<ellipse cx="130.3" cy="145.4" rx="1.9" ry="1.4" fill="#d9dbbd" opacity="0.85" transform="rotate(128 130.3 145.4)"/>
<ellipse cx="143.9" cy="159.9" rx="2.2" ry="1.4" fill="#d9dbbd" opacity="0.85" transform="rotate(176 143.9 159.9)"/>
<ellipse cx="103.0" cy="100.1" rx="2.0" ry="1.7" fill="#d9dbbd" opacity="0.85" transform="rotate(59 103.0 100.1)"/>
<ellipse cx="133.5" cy="154.6" rx="3.5" ry="0.8" fill="#d9dbbd" opacity="0.85" transform="rotate(124 133.5 154.6)"/>
<ellipse cx="138.0" cy="145.6" rx="3.7" ry="1.8" fill="#d9dbbd" opacity="0.85" transform="rotate(110 138.0 145.6)"/>
<ellipse cx="141.4" cy="134.2" rx="1.8" ry="1.1" fill="#d9dbbd" opacity="0.85" transform="rotate(168 141.4 134.2)"/>
<ellipse cx="115.2" cy="128.9" rx="3.7" ry="1.6" fill="#d9dbbd" opacity="0.85" transform="rotate(142 115.2 128.9)"/>
</g>
<clipPath id="cp_lv"><path d="M140.0,110.0 C141.8,105.7 145.0,107.2 150.0,107.0 C155.0,106.8 164.7,108.0 170.0,109.0 C175.3,110.0 179.7,110.5 182.0,113.0 C184.3,115.5 184.3,119.0 184.0,124.0 C183.7,129.0 181.8,136.9 180.0,143.0 C178.2,149.1 175.9,157.4 173.0,160.5 C170.1,163.6 166.4,161.2 162.6,161.5 C158.8,161.8 154.3,161.8 150.0,162.0 C145.7,162.2 140.0,164.6 137.0,162.6 C134.0,160.6 131.7,154.9 132.0,150.0 C132.3,145.1 137.7,139.7 139.0,133.0 C140.3,126.3 138.2,114.3 140.0,110.0Z"/></clipPath>
<path d="M140.0,110.0 C141.8,105.7 145.0,107.2 150.0,107.0 C155.0,106.8 164.7,108.0 170.0,109.0 C175.3,110.0 179.7,110.5 182.0,113.0 C184.3,115.5 184.3,119.0 184.0,124.0 C183.7,129.0 181.8,136.9 180.0,143.0 C178.2,149.1 175.9,157.4 173.0,160.5 C170.1,163.6 166.4,161.2 162.6,161.5 C158.8,161.8 154.3,161.8 150.0,162.0 C145.7,162.2 140.0,164.6 137.0,162.6 C134.0,160.6 131.7,154.9 132.0,150.0 C132.3,145.1 137.7,139.7 139.0,133.0 C140.3,126.3 138.2,114.3 140.0,110.0Z" fill="#e8eaf5" stroke="none" stroke-width="1" />
<g clip-path="url(#cp_lv)">
<ellipse cx="156.5" cy="135.2" rx="1.7" ry="1.0" fill="#d8dcec" opacity="0.85" transform="rotate(28 156.5 135.2)"/>
<ellipse cx="159.9" cy="136.3" rx="1.7" ry="1.6" fill="#d8dcec" opacity="0.85" transform="rotate(18 159.9 136.3)"/>
<ellipse cx="152.1" cy="108.5" rx="2.7" ry="1.0" fill="#d8dcec" opacity="0.85" transform="rotate(169 152.1 108.5)"/>
<ellipse cx="150.8" cy="153.1" rx="2.6" ry="1.2" fill="#d8dcec" opacity="0.85" transform="rotate(151 150.8 153.1)"/>
<ellipse cx="146.3" cy="135.6" rx="3.1" ry="2.0" fill="#d8dcec" opacity="0.85" transform="rotate(127 146.3 135.6)"/>
<ellipse cx="134.7" cy="132.3" rx="3.9" ry="1.8" fill="#d8dcec" opacity="0.85" transform="rotate(66 134.7 132.3)"/>
<ellipse cx="138.7" cy="122.0" rx="3.4" ry="1.0" fill="#d8dcec" opacity="0.85" transform="rotate(161 138.7 122.0)"/>
<ellipse cx="145.8" cy="145.3" rx="3.2" ry="1.1" fill="#d8dcec" opacity="0.85" transform="rotate(93 145.8 145.3)"/>
<ellipse cx="164.7" cy="122.0" rx="2.8" ry="1.6" fill="#d8dcec" opacity="0.85" transform="rotate(172 164.7 122.0)"/>
<ellipse cx="146.8" cy="116.7" rx="2.8" ry="1.5" fill="#d8dcec" opacity="0.85" transform="rotate(88 146.8 116.7)"/>
<ellipse cx="179.5" cy="118.2" rx="2.8" ry="1.4" fill="#d8dcec" opacity="0.85" transform="rotate(36 179.5 118.2)"/>
<ellipse cx="155.6" cy="132.2" rx="2.4" ry="1.7" fill="#d8dcec" opacity="0.85" transform="rotate(178 155.6 132.2)"/>
<ellipse cx="182.4" cy="119.1" rx="2.4" ry="1.9" fill="#d8dcec" opacity="0.85" transform="rotate(15 182.4 119.1)"/>
<ellipse cx="136.7" cy="110.6" rx="3.9" ry="1.4" fill="#d8dcec" opacity="0.85" transform="rotate(78 136.7 110.6)"/>
<ellipse cx="137.1" cy="156.2" rx="4.0" ry="1.6" fill="#d8dcec" opacity="0.85" transform="rotate(164 137.1 156.2)"/>
<ellipse cx="161.5" cy="124.3" rx="1.9" ry="1.2" fill="#d8dcec" opacity="0.85" transform="rotate(27 161.5 124.3)"/>
<ellipse cx="151.2" cy="109.6" rx="1.6" ry="1.9" fill="#d8dcec" opacity="0.85" transform="rotate(153 151.2 109.6)"/>
<ellipse cx="174.4" cy="126.6" rx="2.6" ry="1.5" fill="#d8dcec" opacity="0.85" transform="rotate(142 174.4 126.6)"/>
<ellipse cx="147.8" cy="135.5" rx="2.9" ry="1.8" fill="#d8dcec" opacity="0.85" transform="rotate(63 147.8 135.5)"/>
<ellipse cx="132.2" cy="129.5" rx="3.7" ry="1.0" fill="#d8dcec" opacity="0.85" transform="rotate(113 132.2 129.5)"/>
<ellipse cx="138.9" cy="122.1" rx="3.1" ry="0.9" fill="#d8dcec" opacity="0.85" transform="rotate(82 138.9 122.1)"/>
<ellipse cx="162.5" cy="128.6" rx="3.4" ry="1.8" fill="#d8dcec" opacity="0.85" transform="rotate(50 162.5 128.6)"/>
<ellipse cx="171.6" cy="149.0" rx="3.0" ry="1.5" fill="#d8dcec" opacity="0.85" transform="rotate(102 171.6 149.0)"/>
<ellipse cx="170.5" cy="145.4" rx="2.2" ry="1.6" fill="#d8dcec" opacity="0.85" transform="rotate(128 170.5 145.4)"/>
<ellipse cx="156.0" cy="156.8" rx="2.3" ry="1.5" fill="#d8dcec" opacity="0.85" transform="rotate(102 156.0 156.8)"/>
<ellipse cx="163.4" cy="117.2" rx="3.2" ry="0.9" fill="#d8dcec" opacity="0.85" transform="rotate(96 163.4 117.2)"/>
<ellipse cx="155.5" cy="145.7" rx="3.6" ry="2.0" fill="#d8dcec" opacity="0.85" transform="rotate(41 155.5 145.7)"/>
<ellipse cx="179.3" cy="133.2" rx="2.8" ry="0.8" fill="#d8dcec" opacity="0.85" transform="rotate(155 179.3 133.2)"/>
<ellipse cx="143.9" cy="122.4" rx="2.3" ry="1.1" fill="#d8dcec" opacity="0.85" transform="rotate(52 143.9 122.4)"/>
<ellipse cx="147.0" cy="136.6" rx="2.4" ry="1.7" fill="#d8dcec" opacity="0.85" transform="rotate(168 147.0 136.6)"/>
<ellipse cx="180.5" cy="127.9" rx="3.2" ry="1.7" fill="#d8dcec" opacity="0.85" transform="rotate(130 180.5 127.9)"/>
<ellipse cx="152.8" cy="117.7" rx="3.4" ry="1.6" fill="#d8dcec" opacity="0.85" transform="rotate(63 152.8 117.7)"/>
<ellipse cx="166.7" cy="110.7" rx="3.5" ry="1.9" fill="#d8dcec" opacity="0.85" transform="rotate(175 166.7 110.7)"/>
<ellipse cx="137.9" cy="145.4" rx="3.5" ry="1.0" fill="#d8dcec" opacity="0.85" transform="rotate(110 137.9 145.4)"/>
<ellipse cx="141.9" cy="119.1" rx="1.6" ry="1.1" fill="#d8dcec" opacity="0.85" transform="rotate(153 141.9 119.1)"/>
<ellipse cx="162.5" cy="151.3" rx="3.9" ry="1.0" fill="#d8dcec" opacity="0.85" transform="rotate(153 162.5 151.3)"/>
<ellipse cx="178.6" cy="143.1" rx="2.3" ry="1.0" fill="#d8dcec" opacity="0.85" transform="rotate(79 178.6 143.1)"/>
<ellipse cx="151.4" cy="121.5" rx="3.2" ry="1.6" fill="#d8dcec" opacity="0.85" transform="rotate(47 151.4 121.5)"/>
<ellipse cx="141.0" cy="134.7" rx="3.3" ry="1.6" fill="#d8dcec" opacity="0.85" transform="rotate(115 141.0 134.7)"/>
<ellipse cx="178.6" cy="149.1" rx="2.6" ry="1.7" fill="#d8dcec" opacity="0.85" transform="rotate(120 178.6 149.1)"/>
<ellipse cx="149.7" cy="116.3" rx="2.4" ry="1.7" fill="#d8dcec" opacity="0.85" transform="rotate(135 149.7 116.3)"/>
<ellipse cx="147.8" cy="137.1" rx="1.7" ry="1.5" fill="#d8dcec" opacity="0.85" transform="rotate(81 147.8 137.1)"/>
<ellipse cx="171.9" cy="154.9" rx="1.6" ry="2.0" fill="#d8dcec" opacity="0.85" transform="rotate(31 171.9 154.9)"/>
<ellipse cx="182.1" cy="161.8" rx="2.1" ry="1.1" fill="#d8dcec" opacity="0.85" transform="rotate(26 182.1 161.8)"/>
<ellipse cx="179.3" cy="149.1" rx="3.9" ry="1.8" fill="#d8dcec" opacity="0.85" transform="rotate(65 179.3 149.1)"/>
<ellipse cx="172.3" cy="126.8" rx="2.3" ry="1.3" fill="#d8dcec" opacity="0.85" transform="rotate(126 172.3 126.8)"/>
<ellipse cx="148.5" cy="138.1" rx="2.9" ry="1.8" fill="#d8dcec" opacity="0.85" transform="rotate(85 148.5 138.1)"/>
<ellipse cx="153.9" cy="137.9" rx="2.7" ry="1.7" fill="#d8dcec" opacity="0.85" transform="rotate(19 153.9 137.9)"/>
<ellipse cx="141.2" cy="109.1" rx="2.5" ry="1.8" fill="#d8dcec" opacity="0.85" transform="rotate(108 141.2 109.1)"/>
<ellipse cx="165.1" cy="159.0" rx="3.6" ry="1.2" fill="#d8dcec" opacity="0.85" transform="rotate(40 165.1 159.0)"/>
<ellipse cx="160.0" cy="119.7" rx="3.0" ry="0.9" fill="#d8dcec" opacity="0.85" transform="rotate(70 160.0 119.7)"/>
<ellipse cx="169.5" cy="121.2" rx="1.9" ry="1.7" fill="#d8dcec" opacity="0.85" transform="rotate(35 169.5 121.2)"/>
<ellipse cx="178.9" cy="141.1" rx="3.7" ry="1.4" fill="#d8dcec" opacity="0.85" transform="rotate(88 178.9 141.1)"/>
<ellipse cx="145.4" cy="110.2" rx="3.9" ry="1.1" fill="#d8dcec" opacity="0.85" transform="rotate(15 145.4 110.2)"/>
<ellipse cx="180.5" cy="136.9" rx="3.0" ry="1.9" fill="#d8dcec" opacity="0.85" transform="rotate(132 180.5 136.9)"/>
<ellipse cx="145.5" cy="122.7" rx="3.1" ry="1.6" fill="#d8dcec" opacity="0.85" transform="rotate(41 145.5 122.7)"/>
<ellipse cx="145.0" cy="135.3" rx="1.6" ry="1.8" fill="#d8dcec" opacity="0.85" transform="rotate(118 145.0 135.3)"/>
<ellipse cx="139.8" cy="139.2" rx="3.0" ry="0.9" fill="#d8dcec" opacity="0.85" transform="rotate(77 139.8 139.2)"/>
<ellipse cx="173.2" cy="132.3" rx="3.3" ry="1.1" fill="#d8dcec" opacity="0.85" transform="rotate(180 173.2 132.3)"/>
<ellipse cx="166.8" cy="138.0" rx="1.5" ry="1.2" fill="#d8dcec" opacity="0.85" transform="rotate(0 166.8 138.0)"/>
<ellipse cx="154.8" cy="116.8" rx="2.1" ry="1.2" fill="#d8dcec" opacity="0.85" transform="rotate(26 154.8 116.8)"/>
<ellipse cx="146.7" cy="135.0" rx="1.8" ry="1.5" fill="#d8dcec" opacity="0.85" transform="rotate(171 146.7 135.0)"/>
<ellipse cx="169.5" cy="160.1" rx="1.8" ry="1.6" fill="#d8dcec" opacity="0.85" transform="rotate(43 169.5 160.1)"/>
<ellipse cx="180.6" cy="134.6" rx="3.3" ry="1.7" fill="#d8dcec" opacity="0.85" transform="rotate(24 180.6 134.6)"/>
</g>
<clipPath id="cp_bg"><path d="M4.0,94.0 C4.5,92.2 7.0,91.7 9.0,92.0 C11.0,92.3 13.2,93.7 16.0,96.0 C18.8,98.3 23.7,102.7 26.0,106.0 C28.3,109.3 30.3,113.8 30.0,116.0 C29.7,118.2 26.5,119.3 24.0,119.0 C21.5,118.7 18.0,116.7 15.0,114.0 C12.0,111.3 7.8,106.3 6.0,103.0 C4.2,99.7 3.5,95.8 4.0,94.0Z"/></clipPath>
<path d="M4.0,94.0 C4.5,92.2 7.0,91.7 9.0,92.0 C11.0,92.3 13.2,93.7 16.0,96.0 C18.8,98.3 23.7,102.7 26.0,106.0 C28.3,109.3 30.3,113.8 30.0,116.0 C29.7,118.2 26.5,119.3 24.0,119.0 C21.5,118.7 18.0,116.7 15.0,114.0 C12.0,111.3 7.8,106.3 6.0,103.0 C4.2,99.7 3.5,95.8 4.0,94.0Z" fill="#ece6cf" stroke="none" stroke-width="1" />
<g clip-path="url(#cp_bg)">
<ellipse cx="6.6" cy="113.9" rx="3.5" ry="1.3" fill="#ddd4b5" opacity="0.85" transform="rotate(4 6.6 113.9)"/>
<ellipse cx="4.6" cy="113.6" rx="3.2" ry="1.2" fill="#ddd4b5" opacity="0.85" transform="rotate(122 4.6 113.6)"/>
<ellipse cx="25.0" cy="92.2" rx="3.4" ry="2.0" fill="#ddd4b5" opacity="0.85" transform="rotate(156 25.0 92.2)"/>
<ellipse cx="27.0" cy="103.9" rx="3.0" ry="0.9" fill="#ddd4b5" opacity="0.85" transform="rotate(143 27.0 103.9)"/>
<ellipse cx="21.2" cy="102.9" rx="1.6" ry="1.0" fill="#ddd4b5" opacity="0.85" transform="rotate(72 21.2 102.9)"/>
<ellipse cx="27.9" cy="104.7" rx="3.7" ry="1.0" fill="#ddd4b5" opacity="0.85" transform="rotate(46 27.9 104.7)"/>
<ellipse cx="10.1" cy="99.8" rx="3.5" ry="1.2" fill="#ddd4b5" opacity="0.85" transform="rotate(58 10.1 99.8)"/>
<ellipse cx="21.7" cy="104.1" rx="3.7" ry="1.6" fill="#ddd4b5" opacity="0.85" transform="rotate(150 21.7 104.1)"/>
<ellipse cx="15.1" cy="102.7" rx="2.6" ry="2.0" fill="#ddd4b5" opacity="0.85" transform="rotate(170 15.1 102.7)"/>
<ellipse cx="18.7" cy="105.3" rx="1.7" ry="1.8" fill="#ddd4b5" opacity="0.85" transform="rotate(110 18.7 105.3)"/>
<ellipse cx="14.7" cy="96.5" rx="2.7" ry="1.7" fill="#ddd4b5" opacity="0.85" transform="rotate(48 14.7 96.5)"/>
<ellipse cx="10.9" cy="105.8" rx="2.7" ry="0.8" fill="#ddd4b5" opacity="0.85" transform="rotate(11 10.9 105.8)"/>
<ellipse cx="13.7" cy="111.1" rx="2.5" ry="0.8" fill="#ddd4b5" opacity="0.85" transform="rotate(44 13.7 111.1)"/>
<ellipse cx="9.1" cy="112.6" rx="2.1" ry="2.0" fill="#ddd4b5" opacity="0.85" transform="rotate(52 9.1 112.6)"/>
<ellipse cx="8.7" cy="92.5" rx="2.7" ry="1.4" fill="#ddd4b5" opacity="0.85" transform="rotate(141 8.7 92.5)"/>
</g>
<clipPath id="cp_bg2"><path d="M82.0,60.0 C84.2,56.3 91.2,57.0 95.0,58.0 C98.8,59.0 102.2,62.7 105.0,66.0 C107.8,69.3 108.7,74.7 112.0,78.0 C115.3,81.3 120.3,83.7 125.0,86.0 C129.7,88.3 137.2,89.8 140.0,92.0 C142.8,94.2 148.7,97.8 142.0,99.0 C135.3,100.2 109.0,99.7 100.0,99.0 C91.0,98.3 91.0,98.2 88.0,95.0 C85.0,91.8 83.0,85.8 82.0,80.0 C81.0,74.2 79.8,63.7 82.0,60.0Z"/></clipPath>
<path d="M82.0,60.0 C84.2,56.3 91.2,57.0 95.0,58.0 C98.8,59.0 102.2,62.7 105.0,66.0 C107.8,69.3 108.7,74.7 112.0,78.0 C115.3,81.3 120.3,83.7 125.0,86.0 C129.7,88.3 137.2,89.8 140.0,92.0 C142.8,94.2 148.7,97.8 142.0,99.0 C135.3,100.2 109.0,99.7 100.0,99.0 C91.0,98.3 91.0,98.2 88.0,95.0 C85.0,91.8 83.0,85.8 82.0,80.0 C81.0,74.2 79.8,63.7 82.0,60.0Z" fill="#ebebd3" stroke="none" stroke-width="1" />
<g clip-path="url(#cp_bg2)">
<ellipse cx="122.1" cy="80.3" rx="1.6" ry="1.9" fill="#dcdcbe" opacity="0.85" transform="rotate(45 122.1 80.3)"/>
<ellipse cx="96.1" cy="65.1" rx="3.0" ry="1.6" fill="#dcdcbe" opacity="0.85" transform="rotate(57 96.1 65.1)"/>
<ellipse cx="97.4" cy="58.4" rx="3.0" ry="1.7" fill="#dcdcbe" opacity="0.85" transform="rotate(22 97.4 58.4)"/>
<ellipse cx="96.5" cy="88.8" rx="3.3" ry="1.0" fill="#dcdcbe" opacity="0.85" transform="rotate(178 96.5 88.8)"/>
<ellipse cx="125.0" cy="87.3" rx="2.3" ry="2.0" fill="#dcdcbe" opacity="0.85" transform="rotate(80 125.0 87.3)"/>
<ellipse cx="120.2" cy="98.3" rx="3.6" ry="1.0" fill="#dcdcbe" opacity="0.85" transform="rotate(23 120.2 98.3)"/>
<ellipse cx="94.6" cy="62.9" rx="3.7" ry="1.5" fill="#dcdcbe" opacity="0.85" transform="rotate(86 94.6 62.9)"/>
<ellipse cx="104.1" cy="78.4" rx="2.6" ry="1.7" fill="#dcdcbe" opacity="0.85" transform="rotate(75 104.1 78.4)"/>
<ellipse cx="134.0" cy="92.7" rx="3.7" ry="1.7" fill="#dcdcbe" opacity="0.85" transform="rotate(31 134.0 92.7)"/>
<ellipse cx="107.3" cy="92.5" rx="2.4" ry="1.5" fill="#dcdcbe" opacity="0.85" transform="rotate(38 107.3 92.5)"/>
<ellipse cx="131.5" cy="71.7" rx="2.4" ry="1.8" fill="#dcdcbe" opacity="0.85" transform="rotate(16 131.5 71.7)"/>
<ellipse cx="82.4" cy="75.4" rx="2.6" ry="0.9" fill="#dcdcbe" opacity="0.85" transform="rotate(71 82.4 75.4)"/>
<ellipse cx="128.2" cy="94.2" rx="3.8" ry="1.8" fill="#dcdcbe" opacity="0.85" transform="rotate(13 128.2 94.2)"/>
<ellipse cx="103.9" cy="76.4" rx="1.6" ry="1.7" fill="#dcdcbe" opacity="0.85" transform="rotate(50 103.9 76.4)"/>
<ellipse cx="128.8" cy="85.7" rx="2.2" ry="1.2" fill="#dcdcbe" opacity="0.85" transform="rotate(81 128.8 85.7)"/>
<ellipse cx="93.7" cy="58.5" rx="2.6" ry="1.1" fill="#dcdcbe" opacity="0.85" transform="rotate(46 93.7 58.5)"/>
<ellipse cx="129.2" cy="88.4" rx="2.5" ry="0.8" fill="#dcdcbe" opacity="0.85" transform="rotate(137 129.2 88.4)"/>
<ellipse cx="97.8" cy="62.1" rx="3.4" ry="1.9" fill="#dcdcbe" opacity="0.85" transform="rotate(46 97.8 62.1)"/>
<ellipse cx="114.7" cy="94.4" rx="2.8" ry="1.2" fill="#dcdcbe" opacity="0.85" transform="rotate(28 114.7 94.4)"/>
<ellipse cx="83.7" cy="94.6" rx="3.5" ry="1.0" fill="#dcdcbe" opacity="0.85" transform="rotate(116 83.7 94.6)"/>
<ellipse cx="93.5" cy="88.6" rx="2.4" ry="1.6" fill="#dcdcbe" opacity="0.85" transform="rotate(96 93.5 88.6)"/>
<ellipse cx="86.9" cy="81.3" rx="3.1" ry="0.9" fill="#dcdcbe" opacity="0.85" transform="rotate(7 86.9 81.3)"/>
<ellipse cx="98.2" cy="87.6" rx="3.9" ry="1.3" fill="#dcdcbe" opacity="0.85" transform="rotate(155 98.2 87.6)"/>
<ellipse cx="124.6" cy="69.2" rx="2.6" ry="1.8" fill="#dcdcbe" opacity="0.85" transform="rotate(87 124.6 69.2)"/>
<ellipse cx="112.4" cy="87.6" rx="1.9" ry="1.4" fill="#dcdcbe" opacity="0.85" transform="rotate(94 112.4 87.6)"/>
<ellipse cx="116.1" cy="86.4" rx="2.2" ry="1.4" fill="#dcdcbe" opacity="0.85" transform="rotate(83 116.1 86.4)"/>
<ellipse cx="88.2" cy="90.3" rx="3.9" ry="1.5" fill="#dcdcbe" opacity="0.85" transform="rotate(74 88.2 90.3)"/>
<ellipse cx="104.2" cy="76.6" rx="2.4" ry="1.1" fill="#dcdcbe" opacity="0.85" transform="rotate(171 104.2 76.6)"/>
<ellipse cx="104.0" cy="66.7" rx="3.1" ry="0.8" fill="#dcdcbe" opacity="0.85" transform="rotate(64 104.0 66.7)"/>
<ellipse cx="115.6" cy="91.6" rx="2.3" ry="0.9" fill="#dcdcbe" opacity="0.85" transform="rotate(174 115.6 91.6)"/>
<ellipse cx="82.7" cy="75.2" rx="2.8" ry="2.0" fill="#dcdcbe" opacity="0.85" transform="rotate(64 82.7 75.2)"/>
<ellipse cx="96.5" cy="69.7" rx="2.4" ry="1.0" fill="#dcdcbe" opacity="0.85" transform="rotate(162 96.5 69.7)"/>
<ellipse cx="112.8" cy="88.1" rx="2.2" ry="1.6" fill="#dcdcbe" opacity="0.85" transform="rotate(164 112.8 88.1)"/>
<ellipse cx="95.8" cy="97.2" rx="2.2" ry="1.7" fill="#dcdcbe" opacity="0.85" transform="rotate(170 95.8 97.2)"/>
<ellipse cx="109.8" cy="96.2" rx="2.5" ry="1.3" fill="#dcdcbe" opacity="0.85" transform="rotate(166 109.8 96.2)"/>
<ellipse cx="118.1" cy="60.2" rx="1.9" ry="1.4" fill="#dcdcbe" opacity="0.85" transform="rotate(61 118.1 60.2)"/>
<ellipse cx="85.5" cy="91.4" rx="2.3" ry="1.9" fill="#dcdcbe" opacity="0.85" transform="rotate(66 85.5 91.4)"/>
<ellipse cx="93.0" cy="75.4" rx="3.6" ry="1.9" fill="#dcdcbe" opacity="0.85" transform="rotate(101 93.0 75.4)"/>
<ellipse cx="97.1" cy="79.6" rx="2.2" ry="1.2" fill="#dcdcbe" opacity="0.85" transform="rotate(1 97.1 79.6)"/>
<ellipse cx="83.1" cy="96.2" rx="3.4" ry="1.1" fill="#dcdcbe" opacity="0.85" transform="rotate(111 83.1 96.2)"/>
<ellipse cx="84.5" cy="92.0" rx="3.0" ry="1.7" fill="#dcdcbe" opacity="0.85" transform="rotate(77 84.5 92.0)"/>
<ellipse cx="108.1" cy="91.5" rx="2.3" ry="0.9" fill="#dcdcbe" opacity="0.85" transform="rotate(21 108.1 91.5)"/>
<ellipse cx="137.0" cy="69.4" rx="1.7" ry="1.5" fill="#dcdcbe" opacity="0.85" transform="rotate(23 137.0 69.4)"/>
<ellipse cx="107.6" cy="89.7" rx="2.1" ry="1.3" fill="#dcdcbe" opacity="0.85" transform="rotate(168 107.6 89.7)"/>
<ellipse cx="134.2" cy="93.6" rx="1.6" ry="2.0" fill="#dcdcbe" opacity="0.85" transform="rotate(101 134.2 93.6)"/>
<ellipse cx="91.0" cy="98.4" rx="1.8" ry="2.0" fill="#dcdcbe" opacity="0.85" transform="rotate(6 91.0 98.4)"/>
<ellipse cx="86.7" cy="77.4" rx="3.0" ry="1.5" fill="#dcdcbe" opacity="0.85" transform="rotate(147 86.7 77.4)"/>
<ellipse cx="88.5" cy="87.7" rx="2.3" ry="1.9" fill="#dcdcbe" opacity="0.85" transform="rotate(113 88.5 87.7)"/>
<ellipse cx="123.4" cy="63.4" rx="3.8" ry="1.1" fill="#dcdcbe" opacity="0.85" transform="rotate(38 123.4 63.4)"/>
<ellipse cx="107.2" cy="90.1" rx="2.3" ry="1.4" fill="#dcdcbe" opacity="0.85" transform="rotate(109 107.2 90.1)"/>
<ellipse cx="96.8" cy="62.9" rx="2.5" ry="1.7" fill="#dcdcbe" opacity="0.85" transform="rotate(122 96.8 62.9)"/>
<ellipse cx="94.7" cy="85.0" rx="3.6" ry="1.6" fill="#dcdcbe" opacity="0.85" transform="rotate(33 94.7 85.0)"/>
<ellipse cx="84.5" cy="98.4" rx="3.3" ry="1.1" fill="#dcdcbe" opacity="0.85" transform="rotate(133 84.5 98.4)"/>
<ellipse cx="116.8" cy="83.8" rx="2.4" ry="1.6" fill="#dcdcbe" opacity="0.85" transform="rotate(69 116.8 83.8)"/>
</g>
<clipPath id="cp_lv2"><path d="M130.0,88.0 C130.8,85.5 140.0,86.0 145.0,84.0 C150.0,82.0 155.5,78.0 160.0,76.0 C164.5,74.0 168.3,73.3 172.0,72.0 C175.7,70.7 179.7,66.7 182.0,68.0 C184.3,69.3 185.5,74.8 186.0,80.0 C186.5,85.2 192.7,95.8 185.0,99.0 C177.3,102.2 149.2,100.8 140.0,99.0 C130.8,97.2 129.2,90.5 130.0,88.0Z"/></clipPath>
<path d="M130.0,88.0 C130.8,85.5 140.0,86.0 145.0,84.0 C150.0,82.0 155.5,78.0 160.0,76.0 C164.5,74.0 168.3,73.3 172.0,72.0 C175.7,70.7 179.7,66.7 182.0,68.0 C184.3,69.3 185.5,74.8 186.0,80.0 C186.5,85.2 192.7,95.8 185.0,99.0 C177.3,102.2 149.2,100.8 140.0,99.0 C130.8,97.2 129.2,90.5 130.0,88.0Z" fill="#eceef8" stroke="none" stroke-width="1" />
<g clip-path="url(#cp_lv2)">
<ellipse cx="151.5" cy="78.1" rx="3.3" ry="1.8" fill="#dde0ee" opacity="0.85" transform="rotate(52 151.5 78.1)"/>
<ellipse cx="134.2" cy="75.8" rx="3.4" ry="1.2" fill="#dde0ee" opacity="0.85" transform="rotate(2 134.2 75.8)"/>
<ellipse cx="177.2" cy="81.5" rx="1.7" ry="1.7" fill="#dde0ee" opacity="0.85" transform="rotate(91 177.2 81.5)"/>
<ellipse cx="177.5" cy="93.9" rx="3.6" ry="1.9" fill="#dde0ee" opacity="0.85" transform="rotate(69 177.5 93.9)"/>
<ellipse cx="175.3" cy="83.3" rx="3.1" ry="1.1" fill="#dde0ee" opacity="0.85" transform="rotate(113 175.3 83.3)"/>
<ellipse cx="134.1" cy="94.7" rx="1.9" ry="1.5" fill="#dde0ee" opacity="0.85" transform="rotate(152 134.1 94.7)"/>
<ellipse cx="176.3" cy="94.5" rx="2.6" ry="0.9" fill="#dde0ee" opacity="0.85" transform="rotate(177 176.3 94.5)"/>
<ellipse cx="147.1" cy="94.8" rx="2.5" ry="1.3" fill="#dde0ee" opacity="0.85" transform="rotate(98 147.1 94.8)"/>
<ellipse cx="160.5" cy="92.2" rx="3.0" ry="1.0" fill="#dde0ee" opacity="0.85" transform="rotate(96 160.5 92.2)"/>
<ellipse cx="135.3" cy="94.5" rx="1.9" ry="1.2" fill="#dde0ee" opacity="0.85" transform="rotate(106 135.3 94.5)"/>
<ellipse cx="149.1" cy="95.7" rx="3.5" ry="1.2" fill="#dde0ee" opacity="0.85" transform="rotate(77 149.1 95.7)"/>
<ellipse cx="171.3" cy="83.8" rx="3.1" ry="1.2" fill="#dde0ee" opacity="0.85" transform="rotate(102 171.3 83.8)"/>
<ellipse cx="163.2" cy="95.9" rx="2.4" ry="1.8" fill="#dde0ee" opacity="0.85" transform="rotate(39 163.2 95.9)"/>
<ellipse cx="146.3" cy="75.2" rx="3.8" ry="0.9" fill="#dde0ee" opacity="0.85" transform="rotate(52 146.3 75.2)"/>
<ellipse cx="156.2" cy="90.0" rx="3.2" ry="0.9" fill="#dde0ee" opacity="0.85" transform="rotate(70 156.2 90.0)"/>
<ellipse cx="170.3" cy="72.4" rx="1.8" ry="1.8" fill="#dde0ee" opacity="0.85" transform="rotate(0 170.3 72.4)"/>
<ellipse cx="134.5" cy="73.8" rx="3.6" ry="1.2" fill="#dde0ee" opacity="0.85" transform="rotate(77 134.5 73.8)"/>
<ellipse cx="160.3" cy="95.6" rx="1.6" ry="1.0" fill="#dde0ee" opacity="0.85" transform="rotate(72 160.3 95.6)"/>
<ellipse cx="166.0" cy="72.1" rx="2.6" ry="1.5" fill="#dde0ee" opacity="0.85" transform="rotate(12 166.0 72.1)"/>
<ellipse cx="148.6" cy="69.9" rx="3.8" ry="0.8" fill="#dde0ee" opacity="0.85" transform="rotate(29 148.6 69.9)"/>
<ellipse cx="164.3" cy="75.1" rx="2.9" ry="1.2" fill="#dde0ee" opacity="0.85" transform="rotate(178 164.3 75.1)"/>
<ellipse cx="161.8" cy="78.9" rx="2.0" ry="1.4" fill="#dde0ee" opacity="0.85" transform="rotate(139 161.8 78.9)"/>
<ellipse cx="170.1" cy="89.9" rx="2.8" ry="1.9" fill="#dde0ee" opacity="0.85" transform="rotate(72 170.1 89.9)"/>
<ellipse cx="160.6" cy="97.6" rx="3.5" ry="1.4" fill="#dde0ee" opacity="0.85" transform="rotate(143 160.6 97.6)"/>
<ellipse cx="173.2" cy="77.1" rx="2.5" ry="1.7" fill="#dde0ee" opacity="0.85" transform="rotate(67 173.2 77.1)"/>
<ellipse cx="149.6" cy="84.6" rx="1.7" ry="1.1" fill="#dde0ee" opacity="0.85" transform="rotate(178 149.6 84.6)"/>
<ellipse cx="143.9" cy="93.0" rx="1.5" ry="1.2" fill="#dde0ee" opacity="0.85" transform="rotate(93 143.9 93.0)"/>
<ellipse cx="147.5" cy="97.2" rx="3.9" ry="1.2" fill="#dde0ee" opacity="0.85" transform="rotate(25 147.5 97.2)"/>
<ellipse cx="181.5" cy="92.6" rx="2.8" ry="0.9" fill="#dde0ee" opacity="0.85" transform="rotate(2 181.5 92.6)"/>
<ellipse cx="168.6" cy="89.2" rx="2.7" ry="1.2" fill="#dde0ee" opacity="0.85" transform="rotate(50 168.6 89.2)"/>
<ellipse cx="150.8" cy="81.0" rx="3.0" ry="1.3" fill="#dde0ee" opacity="0.85" transform="rotate(61 150.8 81.0)"/>
<ellipse cx="142.6" cy="88.5" rx="3.8" ry="1.0" fill="#dde0ee" opacity="0.85" transform="rotate(139 142.6 88.5)"/>
<ellipse cx="166.2" cy="75.2" rx="1.8" ry="1.8" fill="#dde0ee" opacity="0.85" transform="rotate(27 166.2 75.2)"/>
<ellipse cx="136.7" cy="70.8" rx="3.5" ry="1.3" fill="#dde0ee" opacity="0.85" transform="rotate(0 136.7 70.8)"/>
<ellipse cx="145.7" cy="84.1" rx="2.7" ry="1.0" fill="#dde0ee" opacity="0.85" transform="rotate(153 145.7 84.1)"/>
<ellipse cx="169.0" cy="76.5" rx="2.3" ry="1.1" fill="#dde0ee" opacity="0.85" transform="rotate(4 169.0 76.5)"/>
<ellipse cx="164.1" cy="76.5" rx="3.2" ry="1.8" fill="#dde0ee" opacity="0.85" transform="rotate(58 164.1 76.5)"/>
<ellipse cx="146.0" cy="79.3" rx="2.7" ry="0.9" fill="#dde0ee" opacity="0.85" transform="rotate(70 146.0 79.3)"/>
</g>
</g>
<line x1="13.90" y1="99.80" x2="64.00" y2="99.80" stroke="#e5702a" stroke-width="1.75" />
<line x1="64.00" y1="99.80" x2="98.70" y2="99.80" stroke="#d27ac8" stroke-width="1.75" />
<line x1="98.70" y1="99.80" x2="132.30" y2="99.80" stroke="#3a80c4" stroke-width="1.75" />
<line x1="132.30" y1="99.80" x2="179.30" y2="99.80" stroke="#3fb074" stroke-width="1.75" />
<line x1="15.00" y1="99.80" x2="15.00" y2="94.30" stroke="#e5702a" stroke-width="1.35" />
<line x1="22.60" y1="99.80" x2="22.60" y2="94.30" stroke="#e5702a" stroke-width="1.35" />
<line x1="30.70" y1="99.80" x2="30.70" y2="94.30" stroke="#e5702a" stroke-width="1.35" />
<line x1="39.00" y1="99.80" x2="39.00" y2="94.30" stroke="#e5702a" stroke-width="1.35" />
<line x1="47.00" y1="99.80" x2="47.00" y2="94.30" stroke="#e5702a" stroke-width="1.35" />
<line x1="55.20" y1="99.80" x2="55.20" y2="94.30" stroke="#e5702a" stroke-width="1.35" />
<line x1="63.10" y1="99.80" x2="63.10" y2="94.30" stroke="#e5702a" stroke-width="1.35" />
<line x1="71.10" y1="99.80" x2="71.10" y2="94.30" stroke="#d27ac8" stroke-width="1.35" />
<line x1="79.30" y1="99.80" x2="79.30" y2="94.30" stroke="#d27ac8" stroke-width="1.35" />
<line x1="87.30" y1="99.80" x2="87.30" y2="94.30" stroke="#d27ac8" stroke-width="1.35" />
<line x1="95.60" y1="99.80" x2="95.60" y2="94.30" stroke="#d27ac8" stroke-width="1.35" />
<line x1="103.60" y1="99.80" x2="103.60" y2="94.30" stroke="#3a80c4" stroke-width="1.35" />
<line x1="111.70" y1="99.80" x2="111.70" y2="94.30" stroke="#3a80c4" stroke-width="1.35" />
<line x1="120.10" y1="99.80" x2="120.10" y2="94.30" stroke="#3a80c4" stroke-width="1.35" />
<line x1="128.30" y1="99.80" x2="128.30" y2="94.30" stroke="#3a80c4" stroke-width="1.35" />
<line x1="136.10" y1="99.80" x2="136.10" y2="94.30" stroke="#3fb074" stroke-width="1.35" />
<line x1="144.70" y1="99.80" x2="144.70" y2="94.30" stroke="#3fb074" stroke-width="1.35" />
<line x1="153.10" y1="99.80" x2="153.10" y2="94.30" stroke="#3fb074" stroke-width="1.35" />
<line x1="161.60" y1="99.80" x2="161.60" y2="94.30" stroke="#3fb074" stroke-width="1.35" />
<line x1="169.70" y1="99.80" x2="169.70" y2="94.30" stroke="#3fb074" stroke-width="1.35" />
<line x1="177.60" y1="99.80" x2="177.60" y2="94.30" stroke="#3fb074" stroke-width="1.35" />
<line x1="100.60" y1="53.80" x2="131.70" y2="53.80" stroke="#3a80c4" stroke-width="1.75" />
<line x1="131.70" y1="53.80" x2="179.00" y2="53.80" stroke="#3fb074" stroke-width="1.75" />
<line x1="102.00" y1="53.80" x2="102.00" y2="58.80" stroke="#3a80c4" stroke-width="1.35" />
<line x1="111.30" y1="53.80" x2="111.30" y2="58.80" stroke="#3a80c4" stroke-width="1.35" />
<line x1="119.80" y1="53.80" x2="119.80" y2="58.80" stroke="#3a80c4" stroke-width="1.35" />
<line x1="128.00" y1="53.80" x2="128.00" y2="58.80" stroke="#3a80c4" stroke-width="1.35" />
<line x1="136.10" y1="53.80" x2="136.10" y2="58.80" stroke="#3fb074" stroke-width="1.35" />
<line x1="144.70" y1="53.80" x2="144.70" y2="58.80" stroke="#3fb074" stroke-width="1.35" />
<line x1="153.10" y1="53.80" x2="153.10" y2="58.80" stroke="#3fb074" stroke-width="1.35" />
<line x1="161.60" y1="53.80" x2="161.60" y2="58.80" stroke="#3fb074" stroke-width="1.35" />
<line x1="169.70" y1="53.80" x2="169.70" y2="58.80" stroke="#3fb074" stroke-width="1.35" />
<line x1="177.60" y1="53.80" x2="177.60" y2="58.80" stroke="#3fb074" stroke-width="1.35" />
<line x1="109.30" y1="64.80" x2="131.70" y2="64.80" stroke="#3a80c4" stroke-width="1.75" />
<line x1="131.70" y1="64.80" x2="179.00" y2="64.80" stroke="#3fb074" stroke-width="1.75" />
<line x1="111.30" y1="64.80" x2="111.30" y2="69.80" stroke="#3a80c4" stroke-width="1.35" />
<line x1="119.80" y1="64.80" x2="119.80" y2="69.80" stroke="#3a80c4" stroke-width="1.35" />
<line x1="128.00" y1="64.80" x2="128.00" y2="69.80" stroke="#3a80c4" stroke-width="1.35" />
<line x1="136.10" y1="64.80" x2="136.10" y2="69.80" stroke="#3fb074" stroke-width="1.35" />
<line x1="144.70" y1="64.80" x2="144.70" y2="69.80" stroke="#3fb074" stroke-width="1.35" />
<line x1="153.10" y1="64.80" x2="153.10" y2="69.80" stroke="#3fb074" stroke-width="1.35" />
<line x1="161.60" y1="64.80" x2="161.60" y2="69.80" stroke="#3fb074" stroke-width="1.35" />
<line x1="169.70" y1="64.80" x2="169.70" y2="69.80" stroke="#3fb074" stroke-width="1.35" />
<line x1="177.60" y1="64.80" x2="177.60" y2="69.80" stroke="#3fb074" stroke-width="1.35" />
<line x1="110.00" y1="74.60" x2="131.70" y2="74.60" stroke="#3a80c4" stroke-width="1.75" />
<line x1="131.70" y1="74.60" x2="170.80" y2="74.60" stroke="#3fb074" stroke-width="1.75" />
<line x1="111.30" y1="74.60" x2="111.30" y2="79.60" stroke="#3a80c4" stroke-width="1.35" />
<line x1="119.80" y1="74.60" x2="119.80" y2="79.60" stroke="#3a80c4" stroke-width="1.35" />
<line x1="128.00" y1="74.60" x2="128.00" y2="79.60" stroke="#3a80c4" stroke-width="1.35" />
<line x1="136.10" y1="74.60" x2="136.10" y2="79.60" stroke="#3fb074" stroke-width="1.35" />
<line x1="144.70" y1="74.60" x2="144.70" y2="79.60" stroke="#3fb074" stroke-width="1.35" />
<line x1="153.10" y1="74.60" x2="153.10" y2="79.60" stroke="#3fb074" stroke-width="1.35" />
<line x1="161.60" y1="74.60" x2="161.60" y2="79.60" stroke="#3fb074" stroke-width="1.35" />
<line x1="169.70" y1="74.60" x2="169.70" y2="79.60" stroke="#3fb074" stroke-width="1.35" />
<line x1="119.00" y1="84.50" x2="131.70" y2="84.50" stroke="#3a80c4" stroke-width="1.75" />
<line x1="131.70" y1="84.50" x2="170.80" y2="84.50" stroke="#3fb074" stroke-width="1.75" />
<line x1="119.80" y1="84.50" x2="119.80" y2="89.50" stroke="#3a80c4" stroke-width="1.35" />
<line x1="128.00" y1="84.50" x2="128.00" y2="89.50" stroke="#3a80c4" stroke-width="1.35" />
<line x1="136.10" y1="84.50" x2="136.10" y2="89.50" stroke="#3fb074" stroke-width="1.35" />
<line x1="144.70" y1="84.50" x2="144.70" y2="89.50" stroke="#3fb074" stroke-width="1.35" />
<line x1="153.10" y1="84.50" x2="153.10" y2="89.50" stroke="#3fb074" stroke-width="1.35" />
<line x1="161.60" y1="84.50" x2="161.60" y2="89.50" stroke="#3fb074" stroke-width="1.35" />
<line x1="169.70" y1="84.50" x2="169.70" y2="89.50" stroke="#3fb074" stroke-width="1.35" />
<circle cx="182.40" cy="52.20" r="5.4" fill="url(#gdot)" />
<circle cx="182.60" cy="62.90" r="5.4" fill="url(#gdot)" />
<circle cx="174.20" cy="72.90" r="5.4" fill="url(#gdot)" />
<circle cx="174.20" cy="83.30" r="5.4" fill="url(#gdot)" />
<path d="M7.8,96 L11.3,99.8 L8.8,103.6 M11.3,99.8 L14,99.8" fill="none" stroke="#4b3a9a" stroke-width="1.5" />
<text x="1.0" y="109.8" font-size="10.5" fill="#111" stroke="#111" stroke-width="0.15" >5'</text>
<text x="9.3" y="111.3" font-size="10.5" fill="#111" stroke="#111" stroke-width="0.15" >g1</text>
<text x="43.6" y="111.3" font-size="10.5" fill="#111" stroke="#111" stroke-width="0.15" >g7</text>
<text x="66.7" y="111.3" font-size="10.5" fill="#111" stroke="#111" stroke-width="0.15" >g9</text>
<text x="86.6" y="111.3" font-size="10.5" fill="#111" stroke="#111" stroke-width="0.15" >g12</text>
<text x="118.7" y="111.3" font-size="10.5" fill="#111" stroke="#111" stroke-width="0.15" >g16</text>
<text x="139.5" y="111.3" font-size="10.5" fill="#111" stroke="#111" stroke-width="0.15" >g18</text>
<text x="167.9" y="111.3" font-size="10.5" fill="#111" stroke="#111" stroke-width="0.15" >g22</text>
<text x="182.4" y="100.8" font-size="10" fill="#111" stroke="#111" stroke-width="0.15" >3'</text>
<text x="75.3" y="53.8" font-size="10.4" fill="#111" stroke="#111" stroke-width="0.15" >t10<tspan font-size="6.8" dy="1.5">Ns</tspan></text>
<text x="76.0" y="65.2" font-size="10.4" fill="#111" stroke="#111" stroke-width="0.15" >t9<tspan font-size="6.8" dy="1.2">NS</tspan></text>
<text x="76.0" y="76.9" font-size="10.4" fill="#111" stroke="#111" stroke-width="0.15" >t8<tspan font-size="6.8" dy="1.2">NS</tspan></text>
<text x="77.0" y="88.0" font-size="10.4" fill="#111" stroke="#111" stroke-width="0.15" >t7<tspan font-size="6.8" dy="1.2">NS</tspan></text>
<text transform="translate(0.21 14.60) scale(0.975 1)" x="0" y="0" font-size="18.3" font-weight="bold" fill="#000">A</text>
<text transform="translate(175.78 14.90) scale(0.938 1)" x="0" y="0" font-size="18.3" font-weight="bold" fill="#000">B</text>
<line x1="220.80" y1="5.00" x2="220.80" y2="88.30" stroke="#999" stroke-width="1.8" />
<line x1="220.80" y1="88.30" x2="320.00" y2="88.30" stroke="#333" stroke-width="1.1" />
<line x1="220.80" y1="90.00" x2="220.80" y2="173.80" stroke="#999" stroke-width="1.8" />
<line x1="220.80" y1="173.80" x2="319.00" y2="173.80" stroke="#333" stroke-width="1.1" />
<line x1="221.00" y1="90.00" x2="221.00" y2="92.00" stroke="#555" stroke-width="0.8" />
<line x1="221.00" y1="88.30" x2="221.00" y2="90.50" stroke="#555" stroke-width="0.8" />
<line x1="227.89" y1="90.00" x2="227.89" y2="91.30" stroke="#555" stroke-width="0.8" />
<line x1="227.89" y1="88.30" x2="227.89" y2="89.60" stroke="#555" stroke-width="0.8" />
<line x1="231.93" y1="90.00" x2="231.93" y2="91.30" stroke="#555" stroke-width="0.8" />
<line x1="231.93" y1="88.30" x2="231.93" y2="89.60" stroke="#555" stroke-width="0.8" />
<line x1="234.79" y1="90.00" x2="234.79" y2="91.30" stroke="#555" stroke-width="0.8" />
<line x1="234.79" y1="88.30" x2="234.79" y2="89.60" stroke="#555" stroke-width="0.8" />
<line x1="237.01" y1="90.00" x2="237.01" y2="91.30" stroke="#555" stroke-width="0.8" />
<line x1="237.01" y1="88.30" x2="237.01" y2="89.60" stroke="#555" stroke-width="0.8" />
<line x1="238.82" y1="90.00" x2="238.82" y2="91.30" stroke="#555" stroke-width="0.8" />
<line x1="238.82" y1="88.30" x2="238.82" y2="89.60" stroke="#555" stroke-width="0.8" />
<line x1="240.35" y1="90.00" x2="240.35" y2="91.30" stroke="#555" stroke-width="0.8" />
<line x1="240.35" y1="88.30" x2="240.35" y2="89.60" stroke="#555" stroke-width="0.8" />
<line x1="241.68" y1="90.00" x2="241.68" y2="91.30" stroke="#555" stroke-width="0.8" />
<line x1="241.68" y1="88.30" x2="241.68" y2="89.60" stroke="#555" stroke-width="0.8" />
<line x1="242.85" y1="90.00" x2="242.85" y2="91.30" stroke="#555" stroke-width="0.8" />
<line x1="242.85" y1="88.30" x2="242.85" y2="89.60" stroke="#555" stroke-width="0.8" />
<line x1="243.90" y1="90.00" x2="243.90" y2="92.00" stroke="#555" stroke-width="0.8" />
<line x1="243.90" y1="88.30" x2="243.90" y2="90.50" stroke="#555" stroke-width="0.8" />
<line x1="250.79" y1="90.00" x2="250.79" y2="91.30" stroke="#555" stroke-width="0.8" />
<line x1="250.79" y1="88.30" x2="250.79" y2="89.60" stroke="#555" stroke-width="0.8" />
<line x1="254.83" y1="90.00" x2="254.83" y2="91.30" stroke="#555" stroke-width="0.8" />
<line x1="254.83" y1="88.30" x2="254.83" y2="89.60" stroke="#555" stroke-width="0.8" />
<line x1="257.69" y1="90.00" x2="257.69" y2="91.30" stroke="#555" stroke-width="0.8" />
<line x1="257.69" y1="88.30" x2="257.69" y2="89.60" stroke="#555" stroke-width="0.8" />
<line x1="259.91" y1="90.00" x2="259.91" y2="91.30" stroke="#555" stroke-width="0.8" />
<line x1="259.91" y1="88.30" x2="259.91" y2="89.60" stroke="#555" stroke-width="0.8" />
<line x1="261.72" y1="90.00" x2="261.72" y2="91.30" stroke="#555" stroke-width="0.8" />
<line x1="261.72" y1="88.30" x2="261.72" y2="89.60" stroke="#555" stroke-width="0.8" />
<line x1="263.25" y1="90.00" x2="263.25" y2="91.30" stroke="#555" stroke-width="0.8" />
<line x1="263.25" y1="88.30" x2="263.25" y2="89.60" stroke="#555" stroke-width="0.8" />
<line x1="264.58" y1="90.00" x2="264.58" y2="91.30" stroke="#555" stroke-width="0.8" />
<line x1="264.58" y1="88.30" x2="264.58" y2="89.60" stroke="#555" stroke-width="0.8" />
<line x1="265.75" y1="90.00" x2="265.75" y2="91.30" stroke="#555" stroke-width="0.8" />
<line x1="265.75" y1="88.30" x2="265.75" y2="89.60" stroke="#555" stroke-width="0.8" />
<line x1="266.80" y1="90.00" x2="266.80" y2="92.00" stroke="#555" stroke-width="0.8" />
<line x1="266.80" y1="88.30" x2="266.80" y2="90.50" stroke="#555" stroke-width="0.8" />
<line x1="273.69" y1="90.00" x2="273.69" y2="91.30" stroke="#555" stroke-width="0.8" />
<line x1="273.69" y1="88.30" x2="273.69" y2="89.60" stroke="#555" stroke-width="0.8" />
<line x1="277.73" y1="90.00" x2="277.73" y2="91.30" stroke="#555" stroke-width="0.8" />
<line x1="277.73" y1="88.30" x2="277.73" y2="89.60" stroke="#555" stroke-width="0.8" />
<line x1="280.59" y1="90.00" x2="280.59" y2="91.30" stroke="#555" stroke-width="0.8" />
<line x1="280.59" y1="88.30" x2="280.59" y2="89.60" stroke="#555" stroke-width="0.8" />
<line x1="282.81" y1="90.00" x2="282.81" y2="91.30" stroke="#555" stroke-width="0.8" />
<line x1="282.81" y1="88.30" x2="282.81" y2="89.60" stroke="#555" stroke-width="0.8" />
<line x1="284.62" y1="90.00" x2="284.62" y2="91.30" stroke="#555" stroke-width="0.8" />
<line x1="284.62" y1="88.30" x2="284.62" y2="89.60" stroke="#555" stroke-width="0.8" />
<line x1="286.15" y1="90.00" x2="286.15" y2="91.30" stroke="#555" stroke-width="0.8" />
<line x1="286.15" y1="88.30" x2="286.15" y2="89.60" stroke="#555" stroke-width="0.8" />
<line x1="287.48" y1="90.00" x2="287.48" y2="91.30" stroke="#555" stroke-width="0.8" />
<line x1="287.48" y1="88.30" x2="287.48" y2="89.60" stroke="#555" stroke-width="0.8" />
<line x1="288.65" y1="90.00" x2="288.65" y2="91.30" stroke="#555" stroke-width="0.8" />
<line x1="288.65" y1="88.30" x2="288.65" y2="89.60" stroke="#555" stroke-width="0.8" />
<line x1="289.70" y1="90.00" x2="289.70" y2="92.00" stroke="#555" stroke-width="0.8" />
<line x1="289.70" y1="88.30" x2="289.70" y2="90.50" stroke="#555" stroke-width="0.8" />
<line x1="296.59" y1="90.00" x2="296.59" y2="91.30" stroke="#555" stroke-width="0.8" />
<line x1="296.59" y1="88.30" x2="296.59" y2="89.60" stroke="#555" stroke-width="0.8" />
<line x1="300.63" y1="90.00" x2="300.63" y2="91.30" stroke="#555" stroke-width="0.8" />
<line x1="300.63" y1="88.30" x2="300.63" y2="89.60" stroke="#555" stroke-width="0.8" />
<line x1="303.49" y1="90.00" x2="303.49" y2="91.30" stroke="#555" stroke-width="0.8" />
<line x1="303.49" y1="88.30" x2="303.49" y2="89.60" stroke="#555" stroke-width="0.8" />
<line x1="305.71" y1="90.00" x2="305.71" y2="91.30" stroke="#555" stroke-width="0.8" />
<line x1="305.71" y1="88.30" x2="305.71" y2="89.60" stroke="#555" stroke-width="0.8" />
<line x1="307.52" y1="90.00" x2="307.52" y2="91.30" stroke="#555" stroke-width="0.8" />
<line x1="307.52" y1="88.30" x2="307.52" y2="89.60" stroke="#555" stroke-width="0.8" />
<line x1="309.05" y1="90.00" x2="309.05" y2="91.30" stroke="#555" stroke-width="0.8" />
<line x1="309.05" y1="88.30" x2="309.05" y2="89.60" stroke="#555" stroke-width="0.8" />
<line x1="310.38" y1="90.00" x2="310.38" y2="91.30" stroke="#555" stroke-width="0.8" />
<line x1="310.38" y1="88.30" x2="310.38" y2="89.60" stroke="#555" stroke-width="0.8" />
<line x1="311.55" y1="90.00" x2="311.55" y2="91.30" stroke="#555" stroke-width="0.8" />
<line x1="311.55" y1="88.30" x2="311.55" y2="89.60" stroke="#555" stroke-width="0.8" />
<line x1="312.60" y1="90.00" x2="312.60" y2="92.00" stroke="#555" stroke-width="0.8" />
<line x1="312.60" y1="88.30" x2="312.60" y2="90.50" stroke="#555" stroke-width="0.8" />
<line x1="219.20" y1="88.40" x2="221.70" y2="88.40" stroke="#222" stroke-width="0.8" />
<line x1="219.20" y1="173.60" x2="221.70" y2="173.60" stroke="#222" stroke-width="0.8" />
<line x1="219.90" y1="82.64" x2="221.70" y2="82.64" stroke="#222" stroke-width="0.6" />
<line x1="219.90" y1="167.88" x2="221.70" y2="167.88" stroke="#222" stroke-width="0.6" />
<line x1="219.90" y1="79.26" x2="221.70" y2="79.26" stroke="#222" stroke-width="0.6" />
<line x1="219.90" y1="164.53" x2="221.70" y2="164.53" stroke="#222" stroke-width="0.6" />
<line x1="219.90" y1="76.87" x2="221.70" y2="76.87" stroke="#222" stroke-width="0.6" />
<line x1="219.90" y1="162.16" x2="221.70" y2="162.16" stroke="#222" stroke-width="0.6" />
<line x1="219.90" y1="75.01" x2="221.70" y2="75.01" stroke="#222" stroke-width="0.6" />
<line x1="219.90" y1="160.32" x2="221.70" y2="160.32" stroke="#222" stroke-width="0.6" />
<line x1="219.90" y1="73.50" x2="221.70" y2="73.50" stroke="#222" stroke-width="0.6" />
<line x1="219.90" y1="158.82" x2="221.70" y2="158.82" stroke="#222" stroke-width="0.6" />
<line x1="219.90" y1="72.22" x2="221.70" y2="72.22" stroke="#222" stroke-width="0.6" />
<line x1="219.90" y1="157.54" x2="221.70" y2="157.54" stroke="#222" stroke-width="0.6" />
<line x1="219.90" y1="71.11" x2="221.70" y2="71.11" stroke="#222" stroke-width="0.6" />
<line x1="219.90" y1="156.44" x2="221.70" y2="156.44" stroke="#222" stroke-width="0.6" />
<line x1="219.90" y1="70.13" x2="221.70" y2="70.13" stroke="#222" stroke-width="0.6" />
<line x1="219.90" y1="155.47" x2="221.70" y2="155.47" stroke="#222" stroke-width="0.6" />
<line x1="219.20" y1="69.25" x2="221.70" y2="69.25" stroke="#222" stroke-width="0.8" />
<line x1="219.20" y1="154.60" x2="221.70" y2="154.60" stroke="#222" stroke-width="0.8" />
<line x1="219.90" y1="63.49" x2="221.70" y2="63.49" stroke="#222" stroke-width="0.6" />
<line x1="219.90" y1="148.88" x2="221.70" y2="148.88" stroke="#222" stroke-width="0.6" />
<line x1="219.90" y1="60.11" x2="221.70" y2="60.11" stroke="#222" stroke-width="0.6" />
<line x1="219.90" y1="145.53" x2="221.70" y2="145.53" stroke="#222" stroke-width="0.6" />
<line x1="219.90" y1="57.72" x2="221.70" y2="57.72" stroke="#222" stroke-width="0.6" />
<line x1="219.90" y1="143.16" x2="221.70" y2="143.16" stroke="#222" stroke-width="0.6" />
<line x1="219.90" y1="55.86" x2="221.70" y2="55.86" stroke="#222" stroke-width="0.6" />
<line x1="219.90" y1="141.32" x2="221.70" y2="141.32" stroke="#222" stroke-width="0.6" />
<line x1="219.90" y1="54.35" x2="221.70" y2="54.35" stroke="#222" stroke-width="0.6" />
<line x1="219.90" y1="139.82" x2="221.70" y2="139.82" stroke="#222" stroke-width="0.6" />
<line x1="219.90" y1="53.07" x2="221.70" y2="53.07" stroke="#222" stroke-width="0.6" />
<line x1="219.90" y1="138.54" x2="221.70" y2="138.54" stroke="#222" stroke-width="0.6" />
<line x1="219.90" y1="51.96" x2="221.70" y2="51.96" stroke="#222" stroke-width="0.6" />
<line x1="219.90" y1="137.44" x2="221.70" y2="137.44" stroke="#222" stroke-width="0.6" />
<line x1="219.90" y1="50.98" x2="221.70" y2="50.98" stroke="#222" stroke-width="0.6" />
<line x1="219.90" y1="136.47" x2="221.70" y2="136.47" stroke="#222" stroke-width="0.6" />
<line x1="219.20" y1="50.10" x2="221.70" y2="50.10" stroke="#222" stroke-width="0.8" />
<line x1="219.20" y1="135.60" x2="221.70" y2="135.60" stroke="#222" stroke-width="0.8" />
<line x1="219.90" y1="44.34" x2="221.70" y2="44.34" stroke="#222" stroke-width="0.6" />
<line x1="219.90" y1="129.88" x2="221.70" y2="129.88" stroke="#222" stroke-width="0.6" />
<line x1="219.90" y1="40.96" x2="221.70" y2="40.96" stroke="#222" stroke-width="0.6" />
<line x1="219.90" y1="126.53" x2="221.70" y2="126.53" stroke="#222" stroke-width="0.6" />
<line x1="219.90" y1="38.57" x2="221.70" y2="38.57" stroke="#222" stroke-width="0.6" />
<line x1="219.90" y1="124.16" x2="221.70" y2="124.16" stroke="#222" stroke-width="0.6" />
<line x1="219.90" y1="36.71" x2="221.70" y2="36.71" stroke="#222" stroke-width="0.6" />
<line x1="219.90" y1="122.32" x2="221.70" y2="122.32" stroke="#222" stroke-width="0.6" />
<line x1="219.90" y1="35.20" x2="221.70" y2="35.20" stroke="#222" stroke-width="0.6" />
<line x1="219.90" y1="120.82" x2="221.70" y2="120.82" stroke="#222" stroke-width="0.6" />
<line x1="219.90" y1="33.92" x2="221.70" y2="33.92" stroke="#222" stroke-width="0.6" />
<line x1="219.90" y1="119.54" x2="221.70" y2="119.54" stroke="#222" stroke-width="0.6" />
<line x1="219.90" y1="32.81" x2="221.70" y2="32.81" stroke="#222" stroke-width="0.6" />
<line x1="219.90" y1="118.44" x2="221.70" y2="118.44" stroke="#222" stroke-width="0.6" />
<line x1="219.90" y1="31.83" x2="221.70" y2="31.83" stroke="#222" stroke-width="0.6" />
<line x1="219.90" y1="117.47" x2="221.70" y2="117.47" stroke="#222" stroke-width="0.6" />
<line x1="219.20" y1="30.95" x2="221.70" y2="30.95" stroke="#222" stroke-width="0.8" />
<line x1="219.20" y1="116.60" x2="221.70" y2="116.60" stroke="#222" stroke-width="0.8" />
<line x1="219.90" y1="25.19" x2="221.70" y2="25.19" stroke="#222" stroke-width="0.6" />
<line x1="219.90" y1="110.88" x2="221.70" y2="110.88" stroke="#222" stroke-width="0.6" />
<line x1="219.90" y1="21.81" x2="221.70" y2="21.81" stroke="#222" stroke-width="0.6" />
<line x1="219.90" y1="107.53" x2="221.70" y2="107.53" stroke="#222" stroke-width="0.6" />
<line x1="219.90" y1="19.42" x2="221.70" y2="19.42" stroke="#222" stroke-width="0.6" />
<line x1="219.90" y1="105.16" x2="221.70" y2="105.16" stroke="#222" stroke-width="0.6" />
<line x1="219.90" y1="17.56" x2="221.70" y2="17.56" stroke="#222" stroke-width="0.6" />
<line x1="219.90" y1="103.32" x2="221.70" y2="103.32" stroke="#222" stroke-width="0.6" />
<line x1="219.90" y1="16.05" x2="221.70" y2="16.05" stroke="#222" stroke-width="0.6" />
<line x1="219.90" y1="101.82" x2="221.70" y2="101.82" stroke="#222" stroke-width="0.6" />
<line x1="219.90" y1="14.77" x2="221.70" y2="14.77" stroke="#222" stroke-width="0.6" />
<line x1="219.90" y1="100.54" x2="221.70" y2="100.54" stroke="#222" stroke-width="0.6" />
<line x1="219.90" y1="13.66" x2="221.70" y2="13.66" stroke="#222" stroke-width="0.6" />
<line x1="219.90" y1="99.44" x2="221.70" y2="99.44" stroke="#222" stroke-width="0.6" />
<line x1="219.90" y1="12.68" x2="221.70" y2="12.68" stroke="#222" stroke-width="0.6" />
<line x1="219.90" y1="98.47" x2="221.70" y2="98.47" stroke="#222" stroke-width="0.6" />
<line x1="219.20" y1="11.80" x2="221.70" y2="11.80" stroke="#222" stroke-width="0.8" />
<line x1="219.20" y1="97.60" x2="221.70" y2="97.60" stroke="#222" stroke-width="0.8" />
<line x1="219.90" y1="6.04" x2="221.70" y2="6.04" stroke="#222" stroke-width="0.6" />
<line x1="219.90" y1="91.88" x2="221.70" y2="91.88" stroke="#222" stroke-width="0.6" />
<line x1="221.00" y1="173.80" x2="221.00" y2="176.00" stroke="#333" stroke-width="0.9" />
<line x1="243.90" y1="173.80" x2="243.90" y2="176.00" stroke="#333" stroke-width="0.9" />
<line x1="266.80" y1="173.80" x2="266.80" y2="176.00" stroke="#333" stroke-width="0.9" />
<line x1="289.70" y1="173.80" x2="289.70" y2="176.00" stroke="#333" stroke-width="0.9" />
<line x1="312.60" y1="173.80" x2="312.60" y2="176.00" stroke="#333" stroke-width="0.9" />
<text x="218.3" y="16.9" font-size="9.8" fill="#222" stroke="#222" stroke-width="0.15" text-anchor="end" >10<tspan font-size="6.1" dy="-4.4">2</tspan></text>
<text x="218.3" y="54.8" font-size="9.8" fill="#222" stroke="#222" stroke-width="0.15" text-anchor="end" >10<tspan font-size="6.1" dy="-4.4">0</tspan></text>
<text x="218.3" y="88.7" font-size="9.8" fill="#222" stroke="#222" stroke-width="0.15" text-anchor="end" >10<tspan font-size="6.1" dy="-4.4">-2</tspan></text>
<text x="218.3" y="103.1" font-size="9.8" fill="#222" stroke="#222" stroke-width="0.15" text-anchor="end" >10<tspan font-size="6.1" dy="-4.4">2</tspan></text>
<text x="218.3" y="139.9" font-size="9.8" fill="#222" stroke="#222" stroke-width="0.15" text-anchor="end" >10<tspan font-size="6.1" dy="-4.4">0</tspan></text>
<text x="218.3" y="174.5" font-size="9.8" fill="#222" stroke="#222" stroke-width="0.15" text-anchor="end" >10<tspan font-size="6.1" dy="-4.4">-2</tspan></text>
<text x="223.0" y="185.1" font-size="10" fill="#222" stroke="#222" stroke-width="0.15" text-anchor="middle" >10<tspan font-size="6.2" dy="-4.5">-2</tspan></text>
<text x="267.0" y="185.1" font-size="10" fill="#222" stroke="#222" stroke-width="0.15" text-anchor="middle" >10<tspan font-size="6.2" dy="-4.5">0</tspan></text>
<text x="311.5" y="185.1" font-size="10" fill="#222" stroke="#222" stroke-width="0.15" text-anchor="middle" >10<tspan font-size="6.2" dy="-4.5">2</tspan></text>
<text x="200.2" y="88.6" font-size="15" fill="#222" stroke="#222" stroke-width="0.15" transform="rotate(-90 200.2 88.6)" textLength="8.6" lengthAdjust="spacingAndGlyphs" >τ</text>
<text x="203.0" y="79.7" font-size="9.5" fill="#222" stroke="#222" stroke-width="0.15" transform="rotate(-90 203.0 79.7)" textLength="42.4" lengthAdjust="spacingAndGlyphs" >ub, median</text>
<text x="199.8" y="36.5" font-size="16.5" fill="#222" stroke="#222" stroke-width="0.15" transform="rotate(-90 199.8 36.5)" textLength="16.5" lengthAdjust="spacingAndGlyphs" >(s)</text>
<text x="197.5" y="186.4" font-size="15" fill="#222" stroke="#222" stroke-width="0.15" transform="rotate(-90 197.5 186.4)" textLength="8.6" lengthAdjust="spacingAndGlyphs" >τ</text>
<text x="200.4" y="174.7" font-size="9.5" fill="#222" stroke="#222" stroke-width="0.15" transform="rotate(-90 200.4 174.7)" textLength="40.8" lengthAdjust="spacingAndGlyphs" >ub, median</text>
<text x="197.3" y="130.8" font-size="16.5" fill="#222" stroke="#222" stroke-width="0.15" transform="rotate(-90 197.3 130.8)" textLength="18" lengthAdjust="spacingAndGlyphs" >(s)</text>
<text x="235.8" y="197.0" font-size="15" fill="#222" stroke="#222" stroke-width="0.15" textLength="8.6" lengthAdjust="spacingAndGlyphs" >τ</text>
<text x="244.4" y="198.6" font-size="9.5" fill="#222" stroke="#222" stroke-width="0.15" textLength="38" lengthAdjust="spacingAndGlyphs" >b, median</text>
<text x="284.5" y="196.5" font-size="16" fill="#222" stroke="#222" stroke-width="0.15" textLength="17" lengthAdjust="spacingAndGlyphs" >(s)</text>
<text x="225.4" y="75.8" font-size="14" fill="#222" stroke="#222" stroke-width="0.15" >N</text>
<text x="235.2" y="83.6" font-size="14" fill="#222" stroke="#222" stroke-width="0.15" textLength="11.4" lengthAdjust="spacingAndGlyphs" >t8</text>
<text x="247.4" y="84.2" font-size="7.5" fill="#222" stroke="#222" stroke-width="0.15" textLength="10.6" lengthAdjust="spacingAndGlyphs" >NS</text>
<text x="260.5" y="75.8" font-size="14" fill="#222" stroke="#222" stroke-width="0.15" textLength="40.5" lengthAdjust="spacingAndGlyphs" >= 1415</text>
<text x="232.9" y="159.9" font-size="13.5" fill="#222" stroke="#222" stroke-width="0.15" >N</text>
<text x="241.8" y="166.1" font-size="13.5" fill="#222" stroke="#222" stroke-width="0.15" textLength="18.6" lengthAdjust="spacingAndGlyphs" >t10</text>
<text x="261.0" y="167.3" font-size="7.5" fill="#222" stroke="#222" stroke-width="0.15" textLength="11.2" lengthAdjust="spacingAndGlyphs" >NS</text>
<text x="264.5" y="159.9" font-size="13.5" fill="#222" stroke="#222" stroke-width="0.15" textLength="40.5" lengthAdjust="spacingAndGlyphs" >= 1250</text>
<path d="M286.1,33.2h1.5v1.5h-1.5zM274.6,20.1h1.5v1.5h-1.5zM283.1,35.7h1.5v1.5h-1.5zM283.4,18.5h1.5v1.5h-1.5zM274.7,25.1h1.5v1.5h-1.5zM287.5,25.4h1.5v1.5h-1.5zM277.8,24.1h1.5v1.5h-1.5zM281.7,21.1h1.5v1.5h-1.5zM280.5,27.0h1.5v1.5h-1.5zM292.5,25.1h1.5v1.5h-1.5zM287.6,19.4h1.5v1.5h-1.5zM286.8,26.4h1.5v1.5h-1.5zM276.5,25.3h1.5v1.5h-1.5zM287.1,23.5h1.5v1.5h-1.5zM288.0,34.4h1.5v1.5h-1.5zM292.4,35.0h1.5v1.5h-1.5zM271.2,27.5h1.5v1.5h-1.5zM275.5,31.0h1.5v1.5h-1.5zM281.0,26.8h1.5v1.5h-1.5zM283.9,22.0h1.5v1.5h-1.5zM281.2,21.2h1.5v1.5h-1.5zM295.8,22.8h1.5v1.5h-1.5zM280.6,15.1h1.5v1.5h-1.5zM269.6,20.5h1.5v1.5h-1.5zM286.4,30.0h1.5v1.5h-1.5zM282.6,21.7h1.5v1.5h-1.5zM294.1,19.4h1.5v1.5h-1.5zM274.2,28.3h1.5v1.5h-1.5zM273.2,27.0h1.5v1.5h-1.5zM287.7,25.1h1.5v1.5h-1.5zM283.5,25.7h1.5v1.5h-1.5zM271.5,25.4h1.5v1.5h-1.5zM268.4,22.1h1.5v1.5h-1.5zM282.0,33.3h1.5v1.5h-1.5zM270.4,22.3h1.5v1.5h-1.5zM282.2,28.6h1.5v1.5h-1.5zM270.3,36.4h1.5v1.5h-1.5zM274.5,31.9h1.5v1.5h-1.5zM279.0,27.9h1.5v1.5h-1.5zM292.8,29.7h1.5v1.5h-1.5zM281.5,19.5h1.5v1.5h-1.5zM275.7,17.0h1.5v1.5h-1.5zM295.5,16.3h1.5v1.5h-1.5zM290.0,23.3h1.5v1.5h-1.5zM286.7,20.6h1.5v1.5h-1.5zM276.2,28.4h1.5v1.5h-1.5zM283.4,22.7h1.5v1.5h-1.5zM292.6,29.8h1.5v1.5h-1.5zM281.5,18.4h1.5v1.5h-1.5zM281.5,23.6h1.5v1.5h-1.5zM279.9,30.2h1.5v1.5h-1.5zM276.2,27.0h1.5v1.5h-1.5zM286.4,27.6h1.5v1.5h-1.5zM297.6,15.1h1.5v1.5h-1.5zM280.0,18.4h1.5v1.5h-1.5zM280.0,40.4h1.5v1.5h-1.5zM268.3,23.7h1.5v1.5h-1.5zM285.3,26.0h1.5v1.5h-1.5zM287.3,16.2h1.5v1.5h-1.5zM287.7,19.7h1.5v1.5h-1.5zM271.4,28.8h1.5v1.5h-1.5zM284.0,21.1h1.5v1.5h-1.5zM274.4,24.2h1.5v1.5h-1.5zM280.4,24.4h1.5v1.5h-1.5zM290.2,26.4h1.5v1.5h-1.5zM271.2,16.0h1.5v1.5h-1.5zM275.3,22.9h1.5v1.5h-1.5zM264.5,33.7h1.5v1.5h-1.5zM283.6,23.5h1.5v1.5h-1.5zM283.0,26.7h1.5v1.5h-1.5zM288.3,26.3h1.5v1.5h-1.5zM289.8,34.6h1.5v1.5h-1.5zM278.1,22.7h1.5v1.5h-1.5zM273.8,24.0h1.5v1.5h-1.5zM275.0,25.4h1.5v1.5h-1.5zM282.7,28.6h1.5v1.5h-1.5zM271.8,31.8h1.5v1.5h-1.5zM278.1,24.7h1.5v1.5h-1.5zM276.5,13.4h1.5v1.5h-1.5zM282.3,14.8h1.5v1.5h-1.5zM288.6,25.6h1.5v1.5h-1.5zM292.0,29.2h1.5v1.5h-1.5zM285.6,33.7h1.5v1.5h-1.5zM280.0,34.5h1.5v1.5h-1.5zM279.4,26.9h1.5v1.5h-1.5zM275.3,28.6h1.5v1.5h-1.5zM285.3,22.3h1.5v1.5h-1.5zM270.8,25.1h1.5v1.5h-1.5zM283.5,24.4h1.5v1.5h-1.5zM273.1,21.0h1.5v1.5h-1.5zM276.0,33.9h1.5v1.5h-1.5zM270.8,24.0h1.5v1.5h-1.5zM292.9,29.5h1.5v1.5h-1.5zM287.2,24.4h1.5v1.5h-1.5zM270.4,42.5h1.5v1.5h-1.5zM282.6,26.7h1.5v1.5h-1.5zM292.6,30.1h1.5v1.5h-1.5zM280.8,18.7h1.5v1.5h-1.5zM279.2,24.4h1.5v1.5h-1.5zM275.3,20.1h1.5v1.5h-1.5zM272.8,24.6h1.5v1.5h-1.5zM275.9,27.7h1.5v1.5h-1.5zM287.9,27.2h1.5v1.5h-1.5zM280.5,34.6h1.5v1.5h-1.5zM285.2,16.5h1.5v1.5h-1.5zM275.0,26.5h1.5v1.5h-1.5zM273.7,29.8h1.5v1.5h-1.5zM267.2,13.9h1.5v1.5h-1.5zM287.6,28.8h1.5v1.5h-1.5zM268.3,25.7h1.5v1.5h-1.5zM290.3,18.6h1.5v1.5h-1.5zM271.4,18.0h1.5v1.5h-1.5zM272.9,14.9h1.5v1.5h-1.5zM276.7,16.6h1.5v1.5h-1.5zM280.7,38.6h1.5v1.5h-1.5zM272.4,30.7h1.5v1.5h-1.5zM281.1,25.2h1.5v1.5h-1.5zM277.8,30.0h1.5v1.5h-1.5zM277.0,27.4h1.5v1.5h-1.5zM277.4,24.4h1.5v1.5h-1.5zM274.4,38.9h1.5v1.5h-1.5zM279.8,18.6h1.5v1.5h-1.5zM294.8,34.7h1.5v1.5h-1.5zM278.8,21.3h1.5v1.5h-1.5zM274.8,32.6h1.5v1.5h-1.5zM277.8,21.0h1.5v1.5h-1.5zM286.6,23.7h1.5v1.5h-1.5zM279.9,36.8h1.5v1.5h-1.5zM286.7,32.7h1.5v1.5h-1.5zM283.4,33.0h1.5v1.5h-1.5zM279.0,31.0h1.5v1.5h-1.5zM288.1,22.8h1.5v1.5h-1.5zM270.7,28.5h1.5v1.5h-1.5zM279.4,28.9h1.5v1.5h-1.5zM275.8,28.4h1.5v1.5h-1.5zM287.4,39.4h1.5v1.5h-1.5zM293.6,27.6h1.5v1.5h-1.5zM291.0,21.5h1.5v1.5h-1.5zM289.0,26.1h1.5v1.5h-1.5zM290.2,27.3h1.5v1.5h-1.5zM278.5,21.0h1.5v1.5h-1.5zM289.6,25.6h1.5v1.5h-1.5zM285.6,28.1h1.5v1.5h-1.5zM265.0,28.9h1.5v1.5h-1.5zM277.5,27.6h1.5v1.5h-1.5zM283.9,14.5h1.5v1.5h-1.5zM277.9,24.9h1.5v1.5h-1.5zM283.2,30.9h1.5v1.5h-1.5zM275.2,23.9h1.5v1.5h-1.5zM284.9,14.3h1.5v1.5h-1.5zM294.1,19.6h1.5v1.5h-1.5zM290.1,26.1h1.5v1.5h-1.5zM294.3,31.5h1.5v1.5h-1.5zM280.0,15.1h1.5v1.5h-1.5zM281.2,27.2h1.5v1.5h-1.5zM284.3,17.7h1.5v1.5h-1.5zM274.1,20.6h1.5v1.5h-1.5zM282.4,20.1h1.5v1.5h-1.5zM279.4,30.8h1.5v1.5h-1.5zM277.1,33.3h1.5v1.5h-1.5zM282.5,23.8h1.5v1.5h-1.5zM288.4,28.2h1.5v1.5h-1.5zM278.1,21.7h1.5v1.5h-1.5zM279.9,27.3h1.5v1.5h-1.5zM288.8,26.9h1.5v1.5h-1.5zM275.6,17.3h1.5v1.5h-1.5zM282.2,27.6h1.5v1.5h-1.5zM288.7,22.1h1.5v1.5h-1.5zM270.6,30.3h1.5v1.5h-1.5zM279.0,18.0h1.5v1.5h-1.5zM292.6,30.6h1.5v1.5h-1.5zM280.7,26.9h1.5v1.5h-1.5zM274.7,31.2h1.5v1.5h-1.5zM277.0,22.6h1.5v1.5h-1.5zM278.1,18.5h1.5v1.5h-1.5zM287.9,35.2h1.5v1.5h-1.5zM285.9,13.0h1.5v1.5h-1.5zM278.0,21.5h1.5v1.5h-1.5zM283.1,12.5h1.5v1.5h-1.5zM264.2,22.5h1.5v1.5h-1.5zM287.6,24.1h1.5v1.5h-1.5zM296.7,20.2h1.5v1.5h-1.5zM280.6,24.4h1.5v1.5h-1.5zM274.1,31.9h1.5v1.5h-1.5zM270.4,19.0h1.5v1.5h-1.5zM277.6,22.4h1.5v1.5h-1.5zM288.7,22.1h1.5v1.5h-1.5zM284.0,22.5h1.5v1.5h-1.5zM289.8,25.2h1.5v1.5h-1.5zM282.2,15.5h1.5v1.5h-1.5zM285.5,21.4h1.5v1.5h-1.5zM286.9,28.3h1.5v1.5h-1.5zM284.3,32.0h1.5v1.5h-1.5zM283.1,20.0h1.5v1.5h-1.5zM281.4,26.3h1.5v1.5h-1.5zM271.5,28.9h1.5v1.5h-1.5zM291.2,26.7h1.5v1.5h-1.5zM281.1,28.0h1.5v1.5h-1.5zM288.5,22.0h1.5v1.5h-1.5zM287.4,20.8h1.5v1.5h-1.5zM284.2,28.4h1.5v1.5h-1.5zM270.7,29.2h1.5v1.5h-1.5zM281.9,15.3h1.5v1.5h-1.5zM276.9,21.5h1.5v1.5h-1.5zM273.6,27.7h1.5v1.5h-1.5zM274.4,25.6h1.5v1.5h-1.5zM272.2,23.7h1.5v1.5h-1.5zM293.9,27.7h1.5v1.5h-1.5zM268.7,19.7h1.5v1.5h-1.5zM279.2,15.6h1.5v1.5h-1.5zM287.5,25.0h1.5v1.5h-1.5zM279.7,25.6h1.5v1.5h-1.5zM275.2,18.5h1.5v1.5h-1.5zM282.0,29.3h1.5v1.5h-1.5zM278.9,14.3h1.5v1.5h-1.5zM277.7,25.5h1.5v1.5h-1.5zM270.6,33.4h1.5v1.5h-1.5zM271.9,25.3h1.5v1.5h-1.5zM272.1,30.7h1.5v1.5h-1.5zM270.9,19.9h1.5v1.5h-1.5zM288.5,17.8h1.5v1.5h-1.5zM276.2,28.5h1.5v1.5h-1.5zM282.9,14.8h1.5v1.5h-1.5zM284.7,23.5h1.5v1.5h-1.5zM289.3,14.9h1.5v1.5h-1.5zM285.9,27.7h1.5v1.5h-1.5zM277.4,22.7h1.5v1.5h-1.5zM283.1,21.1h1.5v1.5h-1.5zM277.7,20.7h1.5v1.5h-1.5zM281.3,29.3h1.5v1.5h-1.5zM268.4,25.4h1.5v1.5h-1.5zM282.5,34.2h1.5v1.5h-1.5zM274.7,32.7h1.5v1.5h-1.5zM276.9,28.1h1.5v1.5h-1.5zM281.9,26.9h1.5v1.5h-1.5zM277.7,19.4h1.5v1.5h-1.5zM291.3,33.9h1.5v1.5h-1.5zM279.4,24.2h1.5v1.5h-1.5zM278.7,17.3h1.5v1.5h-1.5zM272.0,27.7h1.5v1.5h-1.5zM287.3,23.9h1.5v1.5h-1.5zM273.3,18.8h1.5v1.5h-1.5zM275.7,29.4h1.5v1.5h-1.5zM280.6,16.7h1.5v1.5h-1.5zM271.6,27.2h1.5v1.5h-1.5zM282.4,35.7h1.5v1.5h-1.5zM290.9,26.3h1.5v1.5h-1.5zM275.2,26.4h1.5v1.5h-1.5zM271.8,21.1h1.5v1.5h-1.5zM287.7,28.9h1.5v1.5h-1.5zM287.1,34.5h1.5v1.5h-1.5zM277.1,30.0h1.5v1.5h-1.5zM280.8,27.1h1.5v1.5h-1.5zM281.9,28.4h1.5v1.5h-1.5zM269.9,17.1h1.5v1.5h-1.5zM280.9,28.1h1.5v1.5h-1.5zM276.6,24.6h1.5v1.5h-1.5zM269.7,30.9h1.5v1.5h-1.5zM283.6,34.2h1.5v1.5h-1.5zM277.2,24.6h1.5v1.5h-1.5zM280.7,33.4h1.5v1.5h-1.5zM284.4,27.6h1.5v1.5h-1.5zM268.0,20.1h1.5v1.5h-1.5zM269.3,24.1h1.5v1.5h-1.5zM286.6,25.5h1.5v1.5h-1.5zM273.4,37.3h1.5v1.5h-1.5zM272.0,33.5h1.5v1.5h-1.5zM288.9,26.8h1.5v1.5h-1.5zM290.3,18.8h1.5v1.5h-1.5zM276.1,23.4h1.5v1.5h-1.5zM283.0,24.2h1.5v1.5h-1.5zM292.9,23.0h1.5v1.5h-1.5zM278.5,18.0h1.5v1.5h-1.5zM283.8,29.9h1.5v1.5h-1.5zM274.6,17.7h1.5v1.5h-1.5zM269.9,32.2h1.5v1.5h-1.5zM286.1,26.9h1.5v1.5h-1.5zM285.9,28.1h1.5v1.5h-1.5zM283.6,15.6h1.5v1.5h-1.5zM284.1,29.4h1.5v1.5h-1.5zM288.7,31.0h1.5v1.5h-1.5zM275.2,26.8h1.5v1.5h-1.5zM269.7,33.8h1.5v1.5h-1.5zM270.0,29.4h1.5v1.5h-1.5zM274.3,20.4h1.5v1.5h-1.5zM273.6,23.3h1.5v1.5h-1.5zM283.0,31.9h1.5v1.5h-1.5zM278.0,30.3h1.5v1.5h-1.5zM286.7,37.5h1.5v1.5h-1.5zM275.8,27.1h1.5v1.5h-1.5zM285.4,26.1h1.5v1.5h-1.5zM284.9,21.2h1.5v1.5h-1.5zM277.5,21.5h1.5v1.5h-1.5zM275.5,19.9h1.5v1.5h-1.5zM279.5,17.9h1.5v1.5h-1.5zM275.9,28.7h1.5v1.5h-1.5zM268.5,18.9h1.5v1.5h-1.5zM277.2,18.8h1.5v1.5h-1.5zM272.8,36.4h1.5v1.5h-1.5zM282.6,22.5h1.5v1.5h-1.5zM274.7,15.9h1.5v1.5h-1.5zM284.3,22.1h1.5v1.5h-1.5zM286.9,25.1h1.5v1.5h-1.5zM265.3,36.5h1.5v1.5h-1.5zM284.0,30.5h1.5v1.5h-1.5zM276.0,21.8h1.5v1.5h-1.5zM278.8,35.9h1.5v1.5h-1.5zM270.8,18.8h1.5v1.5h-1.5zM284.0,13.5h1.5v1.5h-1.5zM291.2,18.3h1.5v1.5h-1.5zM289.0,24.3h1.5v1.5h-1.5zM277.6,18.4h1.5v1.5h-1.5zM291.0,23.6h1.5v1.5h-1.5zM270.2,29.0h1.5v1.5h-1.5zM279.2,28.3h1.5v1.5h-1.5zM277.2,27.4h1.5v1.5h-1.5zM283.6,25.3h1.5v1.5h-1.5zM268.0,28.1h1.5v1.5h-1.5zM290.4,27.8h1.5v1.5h-1.5zM287.1,29.9h1.5v1.5h-1.5zM277.9,31.5h1.5v1.5h-1.5zM278.4,19.2h1.5v1.5h-1.5zM270.8,31.3h1.5v1.5h-1.5zM285.4,28.9h1.5v1.5h-1.5zM276.0,14.4h1.5v1.5h-1.5zM286.0,24.7h1.5v1.5h-1.5zM275.7,21.6h1.5v1.5h-1.5zM275.9,14.2h1.5v1.5h-1.5zM284.8,29.4h1.5v1.5h-1.5zM286.7,23.1h1.5v1.5h-1.5zM270.9,17.1h1.5v1.5h-1.5zM277.9,35.6h1.5v1.5h-1.5zM287.1,25.4h1.5v1.5h-1.5zM283.7,30.0h1.5v1.5h-1.5zM280.6,26.6h1.5v1.5h-1.5zM281.8,21.8h1.5v1.5h-1.5zM271.7,21.9h1.5v1.5h-1.5zM288.8,15.8h1.5v1.5h-1.5zM277.0,22.7h1.5v1.5h-1.5zM280.5,22.5h1.5v1.5h-1.5zM286.1,23.0h1.5v1.5h-1.5zM280.2,29.4h1.5v1.5h-1.5zM269.7,31.7h1.5v1.5h-1.5zM287.9,17.4h1.5v1.5h-1.5zM279.5,20.8h1.5v1.5h-1.5zM277.5,29.9h1.5v1.5h-1.5zM266.3,30.2h1.5v1.5h-1.5zM283.4,25.2h1.5v1.5h-1.5zM296.6,22.3h1.5v1.5h-1.5zM269.1,27.5h1.5v1.5h-1.5zM281.3,21.5h1.5v1.5h-1.5zM264.4,14.0h1.5v1.5h-1.5zM292.3,16.2h1.5v1.5h-1.5zM290.5,30.1h1.5v1.5h-1.5zM263.9,26.4h1.5v1.5h-1.5zM285.0,31.8h1.5v1.5h-1.5zM290.1,32.7h1.5v1.5h-1.5zM279.9,23.8h1.5v1.5h-1.5zM278.7,28.3h1.5v1.5h-1.5zM273.3,18.9h1.5v1.5h-1.5zM297.3,30.9h1.5v1.5h-1.5zM288.1,23.8h1.5v1.5h-1.5zM273.9,22.7h1.5v1.5h-1.5zM274.3,21.5h1.5v1.5h-1.5zM268.6,28.9h1.5v1.5h-1.5zM282.7,29.9h1.5v1.5h-1.5zM280.7,21.0h1.5v1.5h-1.5zM295.2,30.8h1.5v1.5h-1.5zM284.4,30.5h1.5v1.5h-1.5zM278.0,29.6h1.5v1.5h-1.5zM274.7,31.2h1.5v1.5h-1.5zM287.2,30.2h1.5v1.5h-1.5zM283.1,26.0h1.5v1.5h-1.5zM281.9,29.5h1.5v1.5h-1.5zM276.9,29.4h1.5v1.5h-1.5zM286.0,17.7h1.5v1.5h-1.5zM267.5,27.0h1.5v1.5h-1.5zM277.7,20.4h1.5v1.5h-1.5zM271.0,18.6h1.5v1.5h-1.5zM268.0,23.1h1.5v1.5h-1.5zM268.7,15.1h1.5v1.5h-1.5zM279.3,34.2h1.5v1.5h-1.5zM289.3,24.2h1.5v1.5h-1.5zM283.0,23.7h1.5v1.5h-1.5zM279.3,20.6h1.5v1.5h-1.5zM280.3,19.0h1.5v1.5h-1.5zM274.7,24.3h1.5v1.5h-1.5zM279.6,37.3h1.5v1.5h-1.5zM273.7,18.6h1.5v1.5h-1.5zM284.9,28.6h1.5v1.5h-1.5zM285.2,24.4h1.5v1.5h-1.5zM269.0,23.1h1.5v1.5h-1.5zM270.7,24.7h1.5v1.5h-1.5zM293.1,23.3h1.5v1.5h-1.5zM280.9,31.6h1.5v1.5h-1.5zM270.3,29.7h1.5v1.5h-1.5zM277.6,21.1h1.5v1.5h-1.5zM277.4,19.3h1.5v1.5h-1.5zM286.5,25.7h1.5v1.5h-1.5zM276.7,28.0h1.5v1.5h-1.5zM300.6,27.0h1.5v1.5h-1.5zM294.0,24.1h1.5v1.5h-1.5zM263.5,22.4h1.5v1.5h-1.5zM295.8,35.4h1.5v1.5h-1.5zM277.5,38.1h1.5v1.5h-1.5zM281.5,33.6h1.5v1.5h-1.5zM272.3,11.9h1.5v1.5h-1.5zM286.0,38.0h1.5v1.5h-1.5zM274.4,46.1h1.5v1.5h-1.5zM288.3,47.5h1.5v1.5h-1.5zM292.8,43.0h1.5v1.5h-1.5zM282.0,19.0h1.5v1.5h-1.5zM293.2,23.8h1.5v1.5h-1.5zM295.6,22.8h1.5v1.5h-1.5zM291.2,40.1h1.5v1.5h-1.5zM291.0,23.2h1.5v1.5h-1.5zM292.2,33.7h1.5v1.5h-1.5zM291.5,43.3h1.5v1.5h-1.5zM277.2,24.5h1.5v1.5h-1.5zM275.4,43.5h1.5v1.5h-1.5zM289.3,42.6h1.5v1.5h-1.5zM287.8,36.2h1.5v1.5h-1.5zM282.2,36.1h1.5v1.5h-1.5zM272.4,41.1h1.5v1.5h-1.5zM264.9,27.4h1.5v1.5h-1.5zM280.3,32.8h1.5v1.5h-1.5zM283.5,23.2h1.5v1.5h-1.5zM276.2,31.2h1.5v1.5h-1.5zM276.4,40.5h1.5v1.5h-1.5zM282.9,36.0h1.5v1.5h-1.5zM271.2,40.1h1.5v1.5h-1.5zM293.4,18.3h1.5v1.5h-1.5zM301.3,21.5h1.5v1.5h-1.5zM270.6,39.1h1.5v1.5h-1.5zM305.4,37.6h1.5v1.5h-1.5zM282.8,25.4h1.5v1.5h-1.5zM275.8,33.5h1.5v1.5h-1.5zM288.8,23.1h1.5v1.5h-1.5zM290.5,12.2h1.5v1.5h-1.5zM287.3,23.6h1.5v1.5h-1.5zM291.7,29.0h1.5v1.5h-1.5zM271.5,44.3h1.5v1.5h-1.5zM285.6,24.9h1.5v1.5h-1.5zM293.4,36.1h1.5v1.5h-1.5zM271.8,15.4h1.5v1.5h-1.5zM298.0,28.9h1.5v1.5h-1.5zM281.1,37.9h1.5v1.5h-1.5zM284.0,47.9h1.5v1.5h-1.5zM294.9,41.0h1.5v1.5h-1.5zM292.5,29.7h1.5v1.5h-1.5zM275.1,24.2h1.5v1.5h-1.5zM299.3,30.0h1.5v1.5h-1.5zM285.3,27.2h1.5v1.5h-1.5zM289.3,23.7h1.5v1.5h-1.5zM272.8,32.6h1.5v1.5h-1.5zM286.6,39.4h1.5v1.5h-1.5zM287.2,37.5h1.5v1.5h-1.5zM284.8,29.4h1.5v1.5h-1.5zM272.1,25.2h1.5v1.5h-1.5zM283.8,20.6h1.5v1.5h-1.5zM294.0,29.0h1.5v1.5h-1.5zM298.5,38.8h1.5v1.5h-1.5zM301.4,25.8h1.5v1.5h-1.5zM289.8,26.4h1.5v1.5h-1.5zM273.5,33.1h1.5v1.5h-1.5zM278.7,39.4h1.5v1.5h-1.5zM267.9,34.1h1.5v1.5h-1.5zM300.0,34.0h1.5v1.5h-1.5zM270.1,28.4h1.5v1.5h-1.5zM277.8,45.2h1.5v1.5h-1.5zM278.7,13.1h1.5v1.5h-1.5zM276.9,28.8h1.5v1.5h-1.5zM282.6,30.2h1.5v1.5h-1.5zM284.9,24.6h1.5v1.5h-1.5zM284.0,27.6h1.5v1.5h-1.5zM279.3,29.1h1.5v1.5h-1.5zM294.4,33.9h1.5v1.5h-1.5zM292.2,25.0h1.5v1.5h-1.5zM264.3,30.0h1.5v1.5h-1.5zM294.5,31.3h1.5v1.5h-1.5zM278.0,17.5h1.5v1.5h-1.5zM288.3,24.3h1.5v1.5h-1.5zM264.5,34.8h1.5v1.5h-1.5zM285.2,42.6h1.5v1.5h-1.5zM269.6,19.2h1.5v1.5h-1.5zM285.9,45.6h1.5v1.5h-1.5zM286.7,37.4h1.5v1.5h-1.5zM268.1,34.1h1.5v1.5h-1.5zM266.7,15.4h1.5v1.5h-1.5zM292.8,41.7h1.5v1.5h-1.5zM276.0,33.1h1.5v1.5h-1.5zM291.1,29.8h1.5v1.5h-1.5zM285.0,34.8h1.5v1.5h-1.5zM274.4,21.9h1.5v1.5h-1.5zM279.9,27.7h1.5v1.5h-1.5zM275.9,48.8h1.5v1.5h-1.5zM292.8,38.3h1.5v1.5h-1.5zM281.7,40.7h1.5v1.5h-1.5zM291.1,48.3h1.5v1.5h-1.5zM294.7,48.2h1.5v1.5h-1.5zM277.1,41.8h1.5v1.5h-1.5zM292.0,27.3h1.5v1.5h-1.5zM268.5,30.0h1.5v1.5h-1.5zM274.4,27.9h1.5v1.5h-1.5zM278.9,26.0h1.5v1.5h-1.5zM286.2,33.2h1.5v1.5h-1.5zM272.9,25.0h1.5v1.5h-1.5zM287.4,27.2h1.5v1.5h-1.5zM279.1,23.5h1.5v1.5h-1.5zM272.5,31.1h1.5v1.5h-1.5zM281.1,28.2h1.5v1.5h-1.5zM295.3,24.5h1.5v1.5h-1.5zM298.5,35.0h1.5v1.5h-1.5zM276.8,35.4h1.5v1.5h-1.5zM294.3,29.4h1.5v1.5h-1.5zM294.2,33.0h1.5v1.5h-1.5zM267.6,34.7h1.5v1.5h-1.5zM295.1,35.6h1.5v1.5h-1.5zM283.7,24.1h1.5v1.5h-1.5zM293.8,44.9h1.5v1.5h-1.5zM268.2,37.6h1.5v1.5h-1.5zM263.4,33.9h1.5v1.5h-1.5zM292.7,19.0h1.5v1.5h-1.5zM268.8,33.0h1.5v1.5h-1.5zM281.8,34.8h1.5v1.5h-1.5zM301.6,21.4h1.5v1.5h-1.5zM287.8,14.5h1.5v1.5h-1.5zM295.5,36.5h1.5v1.5h-1.5zM265.3,25.1h1.5v1.5h-1.5zM264.2,30.2h1.5v1.5h-1.5z" fill="#3f83bb" stroke="none" stroke-width="1" />
<path d="M246.5,48.7h1.5v1.5h-1.5zM252.8,32.2h1.5v1.5h-1.5zM257.6,42.6h1.5v1.5h-1.5zM254.5,41.3h1.5v1.5h-1.5zM257.6,49.1h1.5v1.5h-1.5zM254.5,51.0h1.5v1.5h-1.5zM254.5,43.3h1.5v1.5h-1.5zM248.1,26.3h1.5v1.5h-1.5zM256.1,45.4h1.5v1.5h-1.5zM246.5,47.1h1.5v1.5h-1.5zM251.2,41.9h1.5v1.5h-1.5zM259.2,48.2h1.5v1.5h-1.5zM244.8,41.8h1.5v1.5h-1.5zM256.1,49.2h1.5v1.5h-1.5zM254.5,38.5h1.5v1.5h-1.5zM252.8,27.9h1.5v1.5h-1.5zM257.6,40.8h1.5v1.5h-1.5zM248.1,36.2h1.5v1.5h-1.5zM251.2,35.3h1.5v1.5h-1.5zM246.5,34.4h1.5v1.5h-1.5zM259.2,40.4h1.5v1.5h-1.5zM252.8,43.7h1.5v1.5h-1.5zM248.1,46.7h1.5v1.5h-1.5zM251.2,35.9h1.5v1.5h-1.5zM246.5,38.5h1.5v1.5h-1.5zM249.7,50.7h1.5v1.5h-1.5zM257.6,52.1h1.5v1.5h-1.5zM248.1,35.4h1.5v1.5h-1.5zM257.6,46.0h1.5v1.5h-1.5zM252.8,35.1h1.5v1.5h-1.5zM249.7,32.9h1.5v1.5h-1.5zM259.2,48.7h1.5v1.5h-1.5zM249.7,48.7h1.5v1.5h-1.5zM251.2,27.0h1.5v1.5h-1.5zM254.5,35.9h1.5v1.5h-1.5zM252.8,37.9h1.5v1.5h-1.5zM246.5,38.9h1.5v1.5h-1.5zM256.1,32.9h1.5v1.5h-1.5zM246.5,30.5h1.5v1.5h-1.5zM248.1,47.5h1.5v1.5h-1.5zM254.5,45.2h1.5v1.5h-1.5zM252.8,52.0h1.5v1.5h-1.5zM257.6,52.5h1.5v1.5h-1.5zM248.1,36.8h1.5v1.5h-1.5zM254.5,46.4h1.5v1.5h-1.5zM249.7,39.7h1.5v1.5h-1.5zM256.1,40.3h1.5v1.5h-1.5zM248.1,43.5h1.5v1.5h-1.5zM248.1,45.3h1.5v1.5h-1.5zM252.8,39.1h1.5v1.5h-1.5zM246.5,48.3h1.5v1.5h-1.5zM248.1,42.0h1.5v1.5h-1.5zM249.7,41.5h1.5v1.5h-1.5zM249.7,48.3h1.5v1.5h-1.5zM251.2,33.9h1.5v1.5h-1.5zM244.8,46.4h1.5v1.5h-1.5zM249.7,50.0h1.5v1.5h-1.5zM252.8,50.4h1.5v1.5h-1.5zM244.8,38.8h1.5v1.5h-1.5zM257.6,32.4h1.5v1.5h-1.5zM254.5,40.9h1.5v1.5h-1.5zM256.1,39.1h1.5v1.5h-1.5zM248.1,47.0h1.5v1.5h-1.5zM260.9,33.0h1.5v1.5h-1.5zM252.8,35.7h1.5v1.5h-1.5zM252.8,44.5h1.5v1.5h-1.5zM248.1,31.6h1.5v1.5h-1.5zM251.2,41.5h1.5v1.5h-1.5zM256.1,41.1h1.5v1.5h-1.5zM256.1,43.3h1.5v1.5h-1.5zM257.6,48.7h1.5v1.5h-1.5zM244.8,39.5h1.5v1.5h-1.5zM252.8,39.7h1.5v1.5h-1.5zM252.8,53.3h1.5v1.5h-1.5zM248.1,36.6h1.5v1.5h-1.5zM248.1,48.9h1.5v1.5h-1.5zM260.9,35.4h1.5v1.5h-1.5zM262.4,31.6h1.5v1.5h-1.5zM251.2,42.5h1.5v1.5h-1.5zM252.8,36.6h1.5v1.5h-1.5zM246.5,40.2h1.5v1.5h-1.5zM256.1,40.0h1.5v1.5h-1.5zM252.8,44.8h1.5v1.5h-1.5zM257.6,33.9h1.5v1.5h-1.5zM259.2,55.1h1.5v1.5h-1.5zM246.5,49.4h1.5v1.5h-1.5zM243.2,35.8h1.5v1.5h-1.5zM249.7,41.4h1.5v1.5h-1.5zM243.2,36.4h1.5v1.5h-1.5zM244.8,48.2h1.5v1.5h-1.5zM246.5,43.4h1.5v1.5h-1.5zM249.7,45.2h1.5v1.5h-1.5zM244.8,34.8h1.5v1.5h-1.5zM252.8,47.3h1.5v1.5h-1.5zM248.1,37.9h1.5v1.5h-1.5zM260.9,42.0h1.5v1.5h-1.5zM256.1,48.7h1.5v1.5h-1.5zM254.5,40.5h1.5v1.5h-1.5zM251.2,47.5h1.5v1.5h-1.5zM252.8,45.4h1.5v1.5h-1.5zM254.5,37.8h1.5v1.5h-1.5zM248.1,31.5h1.5v1.5h-1.5zM252.8,41.3h1.5v1.5h-1.5zM251.2,25.6h1.5v1.5h-1.5zM249.7,33.9h1.5v1.5h-1.5zM256.1,46.3h1.5v1.5h-1.5zM254.5,45.2h1.5v1.5h-1.5zM256.1,43.1h1.5v1.5h-1.5zM248.1,42.4h1.5v1.5h-1.5zM251.2,43.8h1.5v1.5h-1.5zM257.6,50.0h1.5v1.5h-1.5zM256.1,49.0h1.5v1.5h-1.5zM252.8,40.6h1.5v1.5h-1.5zM249.7,45.7h1.5v1.5h-1.5zM249.7,54.0h1.5v1.5h-1.5zM257.6,47.0h1.5v1.5h-1.5zM260.9,41.3h1.5v1.5h-1.5zM248.1,45.2h1.5v1.5h-1.5zM251.2,47.4h1.5v1.5h-1.5zM254.5,56.7h1.5v1.5h-1.5zM254.5,52.6h1.5v1.5h-1.5zM252.8,41.1h1.5v1.5h-1.5zM254.5,41.3h1.5v1.5h-1.5zM257.6,47.1h1.5v1.5h-1.5zM248.1,48.6h1.5v1.5h-1.5zM249.0,32.7h1.5v1.5h-1.5zM248.9,41.0h1.5v1.5h-1.5zM248.9,35.3h1.5v1.5h-1.5zM248.9,54.9h1.5v1.5h-1.5zM248.6,54.5h1.5v1.5h-1.5zM249.1,40.9h1.5v1.5h-1.5zM248.6,42.2h1.5v1.5h-1.5zM249.1,29.3h1.5v1.5h-1.5zM249.0,49.5h1.5v1.5h-1.5zM248.6,44.9h1.5v1.5h-1.5zM248.6,31.8h1.5v1.5h-1.5zM248.9,37.0h1.5v1.5h-1.5zM248.9,42.9h1.5v1.5h-1.5zM248.7,53.2h1.5v1.5h-1.5zM248.6,50.1h1.5v1.5h-1.5zM248.7,52.6h1.5v1.5h-1.5zM248.9,41.2h1.5v1.5h-1.5zM248.7,51.5h1.5v1.5h-1.5zM249.1,54.2h1.5v1.5h-1.5zM248.9,53.3h1.5v1.5h-1.5zM249.1,46.6h1.5v1.5h-1.5zM248.8,44.9h1.5v1.5h-1.5zM248.8,50.4h1.5v1.5h-1.5zM248.9,51.8h1.5v1.5h-1.5zM249.1,48.9h1.5v1.5h-1.5zM248.7,38.0h1.5v1.5h-1.5zM248.6,38.0h1.5v1.5h-1.5zM248.6,37.0h1.5v1.5h-1.5zM249.0,32.4h1.5v1.5h-1.5zM249.1,53.2h1.5v1.5h-1.5zM249.0,35.4h1.5v1.5h-1.5zM248.7,41.1h1.5v1.5h-1.5zM248.9,53.3h1.5v1.5h-1.5zM248.6,31.5h1.5v1.5h-1.5zM249.0,29.8h1.5v1.5h-1.5zM249.1,34.1h1.5v1.5h-1.5zM249.1,41.5h1.5v1.5h-1.5zM248.9,50.7h1.5v1.5h-1.5zM249.0,40.0h1.5v1.5h-1.5zM248.8,49.8h1.5v1.5h-1.5zM248.7,37.2h1.5v1.5h-1.5zM249.1,52.2h1.5v1.5h-1.5zM249.0,38.2h1.5v1.5h-1.5zM248.8,32.0h1.5v1.5h-1.5zM249.0,30.5h1.5v1.5h-1.5zM245.5,37.5h1.5v1.5h-1.5zM245.6,47.2h1.5v1.5h-1.5zM245.4,39.8h1.5v1.5h-1.5zM245.5,44.3h1.5v1.5h-1.5zM245.6,39.0h1.5v1.5h-1.5zM245.8,46.3h1.5v1.5h-1.5zM245.4,37.9h1.5v1.5h-1.5zM245.6,46.6h1.5v1.5h-1.5z" fill="#f08a2a" stroke="none" stroke-width="1" />
<path d="M298.8,108.4h1.5v1.5h-1.5zM288.0,99.2h1.5v1.5h-1.5zM293.2,107.8h1.5v1.5h-1.5zM292.2,106.4h1.5v1.5h-1.5zM297.4,108.2h1.5v1.5h-1.5zM298.3,106.2h1.5v1.5h-1.5zM282.4,109.0h1.5v1.5h-1.5zM297.4,112.9h1.5v1.5h-1.5zM297.7,99.8h1.5v1.5h-1.5zM298.2,114.2h1.5v1.5h-1.5zM308.2,106.9h1.5v1.5h-1.5zM296.7,106.9h1.5v1.5h-1.5zM303.0,109.8h1.5v1.5h-1.5zM292.9,114.6h1.5v1.5h-1.5zM300.5,102.8h1.5v1.5h-1.5zM295.6,103.8h1.5v1.5h-1.5zM284.6,110.5h1.5v1.5h-1.5zM290.9,108.0h1.5v1.5h-1.5zM299.4,102.9h1.5v1.5h-1.5zM300.4,104.5h1.5v1.5h-1.5zM296.9,104.5h1.5v1.5h-1.5zM290.2,102.8h1.5v1.5h-1.5zM297.4,103.4h1.5v1.5h-1.5zM303.4,111.6h1.5v1.5h-1.5zM296.9,108.8h1.5v1.5h-1.5zM279.4,102.3h1.5v1.5h-1.5zM293.6,118.3h1.5v1.5h-1.5zM298.5,108.8h1.5v1.5h-1.5zM297.3,110.6h1.5v1.5h-1.5zM294.5,104.6h1.5v1.5h-1.5zM298.5,109.4h1.5v1.5h-1.5zM289.3,104.5h1.5v1.5h-1.5zM297.5,104.4h1.5v1.5h-1.5zM305.1,100.9h1.5v1.5h-1.5zM288.5,113.0h1.5v1.5h-1.5zM293.7,104.5h1.5v1.5h-1.5zM302.1,104.6h1.5v1.5h-1.5zM281.6,106.2h1.5v1.5h-1.5zM300.7,107.9h1.5v1.5h-1.5zM306.5,109.1h1.5v1.5h-1.5zM297.4,116.6h1.5v1.5h-1.5zM298.3,112.9h1.5v1.5h-1.5zM297.1,100.9h1.5v1.5h-1.5zM300.0,115.3h1.5v1.5h-1.5zM297.4,101.0h1.5v1.5h-1.5zM292.5,109.4h1.5v1.5h-1.5zM284.1,113.7h1.5v1.5h-1.5zM284.7,119.0h1.5v1.5h-1.5zM290.3,112.6h1.5v1.5h-1.5zM299.4,102.0h1.5v1.5h-1.5zM291.7,108.2h1.5v1.5h-1.5zM282.7,104.6h1.5v1.5h-1.5zM297.5,112.1h1.5v1.5h-1.5zM302.3,109.9h1.5v1.5h-1.5zM297.6,113.4h1.5v1.5h-1.5zM294.4,105.0h1.5v1.5h-1.5zM286.4,103.6h1.5v1.5h-1.5zM299.9,107.9h1.5v1.5h-1.5zM296.1,103.8h1.5v1.5h-1.5zM290.5,102.5h1.5v1.5h-1.5zM284.3,115.1h1.5v1.5h-1.5zM283.8,114.7h1.5v1.5h-1.5zM299.1,100.4h1.5v1.5h-1.5zM300.3,110.5h1.5v1.5h-1.5zM300.5,105.9h1.5v1.5h-1.5zM291.3,105.1h1.5v1.5h-1.5zM294.1,98.2h1.5v1.5h-1.5zM302.5,102.1h1.5v1.5h-1.5zM304.8,114.1h1.5v1.5h-1.5zM280.4,100.6h1.5v1.5h-1.5zM289.1,106.6h1.5v1.5h-1.5zM286.8,109.9h1.5v1.5h-1.5zM292.1,99.2h1.5v1.5h-1.5zM300.9,101.6h1.5v1.5h-1.5zM299.1,118.7h1.5v1.5h-1.5zM294.3,103.8h1.5v1.5h-1.5zM282.0,110.1h1.5v1.5h-1.5zM292.1,105.8h1.5v1.5h-1.5zM302.8,100.0h1.5v1.5h-1.5zM298.8,116.0h1.5v1.5h-1.5zM301.3,101.3h1.5v1.5h-1.5zM303.5,104.9h1.5v1.5h-1.5zM305.5,107.9h1.5v1.5h-1.5zM297.9,100.8h1.5v1.5h-1.5zM299.2,108.6h1.5v1.5h-1.5zM296.5,100.7h1.5v1.5h-1.5zM293.8,106.7h1.5v1.5h-1.5zM299.0,112.4h1.5v1.5h-1.5zM301.0,109.0h1.5v1.5h-1.5zM291.1,106.8h1.5v1.5h-1.5zM296.5,109.5h1.5v1.5h-1.5zM282.4,110.3h1.5v1.5h-1.5zM284.9,110.3h1.5v1.5h-1.5zM297.6,100.5h1.5v1.5h-1.5zM299.3,108.3h1.5v1.5h-1.5zM294.1,112.6h1.5v1.5h-1.5zM288.6,103.2h1.5v1.5h-1.5zM294.2,110.8h1.5v1.5h-1.5zM294.1,104.1h1.5v1.5h-1.5zM285.6,105.2h1.5v1.5h-1.5zM300.4,102.0h1.5v1.5h-1.5zM294.1,103.7h1.5v1.5h-1.5zM299.9,100.6h1.5v1.5h-1.5zM298.8,115.1h1.5v1.5h-1.5zM298.7,101.4h1.5v1.5h-1.5zM291.0,116.0h1.5v1.5h-1.5zM292.3,113.7h1.5v1.5h-1.5zM292.5,109.6h1.5v1.5h-1.5zM289.7,105.8h1.5v1.5h-1.5zM282.2,108.8h1.5v1.5h-1.5zM275.3,101.0h1.5v1.5h-1.5zM296.6,110.9h1.5v1.5h-1.5zM305.3,110.9h1.5v1.5h-1.5zM294.1,111.4h1.5v1.5h-1.5zM303.0,104.2h1.5v1.5h-1.5zM297.5,117.3h1.5v1.5h-1.5zM295.8,109.5h1.5v1.5h-1.5zM287.2,114.2h1.5v1.5h-1.5zM290.4,102.7h1.5v1.5h-1.5zM298.3,109.9h1.5v1.5h-1.5zM288.7,103.1h1.5v1.5h-1.5zM284.1,104.6h1.5v1.5h-1.5zM282.6,101.9h1.5v1.5h-1.5zM302.7,103.7h1.5v1.5h-1.5zM290.0,112.7h1.5v1.5h-1.5zM295.3,111.0h1.5v1.5h-1.5zM293.8,100.9h1.5v1.5h-1.5zM302.2,108.1h1.5v1.5h-1.5zM294.2,109.2h1.5v1.5h-1.5zM304.8,108.4h1.5v1.5h-1.5zM291.1,104.8h1.5v1.5h-1.5zM291.7,103.6h1.5v1.5h-1.5zM296.0,112.6h1.5v1.5h-1.5zM297.5,109.4h1.5v1.5h-1.5zM298.2,107.0h1.5v1.5h-1.5zM305.8,105.6h1.5v1.5h-1.5zM295.1,104.3h1.5v1.5h-1.5zM293.3,103.6h1.5v1.5h-1.5zM287.6,106.9h1.5v1.5h-1.5zM297.9,105.7h1.5v1.5h-1.5zM304.5,107.6h1.5v1.5h-1.5zM285.3,105.9h1.5v1.5h-1.5zM301.0,110.2h1.5v1.5h-1.5zM293.1,99.4h1.5v1.5h-1.5zM294.9,108.0h1.5v1.5h-1.5zM294.8,109.5h1.5v1.5h-1.5zM294.0,111.2h1.5v1.5h-1.5zM293.1,106.7h1.5v1.5h-1.5zM285.5,105.1h1.5v1.5h-1.5zM286.1,105.4h1.5v1.5h-1.5zM295.6,113.2h1.5v1.5h-1.5zM295.2,102.3h1.5v1.5h-1.5zM297.3,103.8h1.5v1.5h-1.5zM280.5,109.0h1.5v1.5h-1.5zM292.3,103.1h1.5v1.5h-1.5zM291.5,110.9h1.5v1.5h-1.5zM295.3,101.5h1.5v1.5h-1.5zM300.9,99.4h1.5v1.5h-1.5zM299.4,100.8h1.5v1.5h-1.5zM293.1,116.2h1.5v1.5h-1.5zM293.2,108.0h1.5v1.5h-1.5zM291.0,108.4h1.5v1.5h-1.5zM300.2,109.3h1.5v1.5h-1.5zM305.2,104.8h1.5v1.5h-1.5zM286.8,110.5h1.5v1.5h-1.5zM288.4,112.3h1.5v1.5h-1.5zM294.3,119.0h1.5v1.5h-1.5zM297.3,101.0h1.5v1.5h-1.5zM288.9,105.3h1.5v1.5h-1.5zM298.2,106.0h1.5v1.5h-1.5zM299.4,104.9h1.5v1.5h-1.5zM300.8,111.2h1.5v1.5h-1.5zM293.2,104.9h1.5v1.5h-1.5zM298.7,111.8h1.5v1.5h-1.5zM295.4,113.0h1.5v1.5h-1.5zM294.4,114.9h1.5v1.5h-1.5zM291.9,108.2h1.5v1.5h-1.5zM298.4,109.2h1.5v1.5h-1.5zM292.2,107.6h1.5v1.5h-1.5zM293.6,103.6h1.5v1.5h-1.5zM306.0,109.8h1.5v1.5h-1.5zM283.8,109.6h1.5v1.5h-1.5zM289.2,104.5h1.5v1.5h-1.5zM307.6,112.3h1.5v1.5h-1.5zM292.9,103.0h1.5v1.5h-1.5zM303.8,111.4h1.5v1.5h-1.5zM305.7,103.0h1.5v1.5h-1.5zM298.4,110.0h1.5v1.5h-1.5zM291.9,107.9h1.5v1.5h-1.5zM282.4,108.4h1.5v1.5h-1.5zM294.4,118.3h1.5v1.5h-1.5zM294.9,118.3h1.5v1.5h-1.5zM298.4,108.6h1.5v1.5h-1.5zM304.1,109.5h1.5v1.5h-1.5zM305.9,108.6h1.5v1.5h-1.5zM282.1,113.7h1.5v1.5h-1.5zM285.3,114.8h1.5v1.5h-1.5zM295.3,101.4h1.5v1.5h-1.5zM297.0,99.3h1.5v1.5h-1.5zM289.1,103.8h1.5v1.5h-1.5zM300.1,113.3h1.5v1.5h-1.5zM287.9,106.5h1.5v1.5h-1.5zM299.5,106.9h1.5v1.5h-1.5zM302.8,103.2h1.5v1.5h-1.5zM302.6,111.7h1.5v1.5h-1.5zM298.4,113.7h1.5v1.5h-1.5zM283.3,108.6h1.5v1.5h-1.5zM297.5,106.0h1.5v1.5h-1.5zM307.0,97.4h1.5v1.5h-1.5zM296.9,109.3h1.5v1.5h-1.5zM293.5,107.6h1.5v1.5h-1.5zM301.2,112.3h1.5v1.5h-1.5zM297.7,115.1h1.5v1.5h-1.5zM298.0,115.8h1.5v1.5h-1.5zM293.3,105.6h1.5v1.5h-1.5zM297.3,107.2h1.5v1.5h-1.5zM292.9,102.4h1.5v1.5h-1.5zM288.5,110.6h1.5v1.5h-1.5zM304.7,109.8h1.5v1.5h-1.5zM304.7,115.9h1.5v1.5h-1.5zM303.1,112.2h1.5v1.5h-1.5zM293.6,106.7h1.5v1.5h-1.5zM301.4,111.9h1.5v1.5h-1.5zM292.1,109.5h1.5v1.5h-1.5zM299.3,109.8h1.5v1.5h-1.5zM296.7,104.3h1.5v1.5h-1.5zM295.4,104.3h1.5v1.5h-1.5zM300.1,97.8h1.5v1.5h-1.5zM300.4,103.2h1.5v1.5h-1.5zM302.4,106.3h1.5v1.5h-1.5zM286.3,99.0h1.5v1.5h-1.5zM296.5,108.7h1.5v1.5h-1.5zM293.5,103.2h1.5v1.5h-1.5zM296.8,114.1h1.5v1.5h-1.5zM297.9,111.5h1.5v1.5h-1.5zM296.1,109.8h1.5v1.5h-1.5zM294.4,100.8h1.5v1.5h-1.5zM303.0,103.7h1.5v1.5h-1.5zM293.9,106.8h1.5v1.5h-1.5zM292.2,110.6h1.5v1.5h-1.5zM291.0,103.5h1.5v1.5h-1.5zM296.7,105.1h1.5v1.5h-1.5zM296.0,105.6h1.5v1.5h-1.5zM306.7,105.0h1.5v1.5h-1.5zM303.2,106.6h1.5v1.5h-1.5zM291.4,102.2h1.5v1.5h-1.5zM295.3,99.8h1.5v1.5h-1.5zM283.1,110.2h1.5v1.5h-1.5zM300.5,105.5h1.5v1.5h-1.5zM291.8,112.2h1.5v1.5h-1.5zM289.7,105.8h1.5v1.5h-1.5zM289.9,108.6h1.5v1.5h-1.5zM283.6,111.1h1.5v1.5h-1.5zM300.3,105.3h1.5v1.5h-1.5zM297.2,98.2h1.5v1.5h-1.5zM289.6,102.3h1.5v1.5h-1.5zM303.2,103.5h1.5v1.5h-1.5zM298.3,106.2h1.5v1.5h-1.5zM292.9,109.7h1.5v1.5h-1.5zM293.8,100.7h1.5v1.5h-1.5zM292.5,112.2h1.5v1.5h-1.5zM289.3,107.8h1.5v1.5h-1.5zM285.5,107.6h1.5v1.5h-1.5zM300.1,107.8h1.5v1.5h-1.5zM285.1,105.9h1.5v1.5h-1.5zM285.7,101.9h1.5v1.5h-1.5zM281.1,112.6h1.5v1.5h-1.5zM296.2,100.2h1.5v1.5h-1.5zM283.8,102.6h1.5v1.5h-1.5zM294.2,112.0h1.5v1.5h-1.5zM286.9,107.3h1.5v1.5h-1.5zM303.1,109.5h1.5v1.5h-1.5zM307.5,101.4h1.5v1.5h-1.5zM284.7,104.9h1.5v1.5h-1.5zM293.4,108.9h1.5v1.5h-1.5zM299.1,100.5h1.5v1.5h-1.5zM287.8,102.0h1.5v1.5h-1.5zM301.1,106.5h1.5v1.5h-1.5zM284.9,103.1h1.5v1.5h-1.5zM307.3,110.0h1.5v1.5h-1.5zM301.2,108.5h1.5v1.5h-1.5zM287.7,115.9h1.5v1.5h-1.5zM302.1,102.3h1.5v1.5h-1.5zM285.5,104.2h1.5v1.5h-1.5zM301.9,108.2h1.5v1.5h-1.5zM293.1,107.8h1.5v1.5h-1.5zM293.2,111.8h1.5v1.5h-1.5zM298.4,110.1h1.5v1.5h-1.5zM288.2,113.7h1.5v1.5h-1.5zM298.9,103.0h1.5v1.5h-1.5zM297.8,98.0h1.5v1.5h-1.5zM299.0,109.7h1.5v1.5h-1.5zM298.0,105.0h1.5v1.5h-1.5zM288.8,101.6h1.5v1.5h-1.5zM299.5,97.5h1.5v1.5h-1.5zM296.8,104.3h1.5v1.5h-1.5zM302.1,110.6h1.5v1.5h-1.5zM301.1,106.2h1.5v1.5h-1.5zM292.0,111.4h1.5v1.5h-1.5zM290.0,111.8h1.5v1.5h-1.5zM289.9,107.1h1.5v1.5h-1.5zM279.1,107.2h1.5v1.5h-1.5zM292.2,110.9h1.5v1.5h-1.5zM304.8,102.5h1.5v1.5h-1.5zM301.2,106.7h1.5v1.5h-1.5zM306.7,107.3h1.5v1.5h-1.5zM291.6,102.2h1.5v1.5h-1.5zM305.7,101.2h1.5v1.5h-1.5zM286.5,103.7h1.5v1.5h-1.5zM291.4,109.1h1.5v1.5h-1.5zM292.2,116.6h1.5v1.5h-1.5zM286.8,107.5h1.5v1.5h-1.5zM297.5,109.1h1.5v1.5h-1.5zM295.8,103.1h1.5v1.5h-1.5zM287.7,104.3h1.5v1.5h-1.5zM290.4,99.7h1.5v1.5h-1.5zM287.6,112.1h1.5v1.5h-1.5zM307.5,102.7h1.5v1.5h-1.5zM284.3,109.9h1.5v1.5h-1.5zM291.3,120.4h1.5v1.5h-1.5zM304.3,107.4h1.5v1.5h-1.5zM287.1,105.4h1.5v1.5h-1.5zM286.0,101.0h1.5v1.5h-1.5zM288.3,113.4h1.5v1.5h-1.5zM295.2,109.7h1.5v1.5h-1.5zM299.1,109.0h1.5v1.5h-1.5zM292.2,109.0h1.5v1.5h-1.5zM297.3,98.3h1.5v1.5h-1.5zM292.0,109.8h1.5v1.5h-1.5zM283.0,113.4h1.5v1.5h-1.5zM300.8,99.4h1.5v1.5h-1.5zM285.3,114.8h1.5v1.5h-1.5zM288.9,107.0h1.5v1.5h-1.5zM303.7,102.0h1.5v1.5h-1.5zM297.7,108.0h1.5v1.5h-1.5zM283.3,108.9h1.5v1.5h-1.5zM287.3,110.1h1.5v1.5h-1.5zM301.5,113.4h1.5v1.5h-1.5zM289.7,110.3h1.5v1.5h-1.5zM297.5,115.0h1.5v1.5h-1.5zM299.4,100.7h1.5v1.5h-1.5zM288.2,102.5h1.5v1.5h-1.5zM292.5,98.3h1.5v1.5h-1.5zM293.0,107.3h1.5v1.5h-1.5zM288.9,113.3h1.5v1.5h-1.5zM306.4,109.7h1.5v1.5h-1.5zM289.4,97.6h1.5v1.5h-1.5zM279.7,109.5h1.5v1.5h-1.5zM294.6,107.6h1.5v1.5h-1.5zM300.5,110.1h1.5v1.5h-1.5zM296.1,111.5h1.5v1.5h-1.5zM303.8,112.0h1.5v1.5h-1.5zM307.5,98.3h1.5v1.5h-1.5zM290.3,112.9h1.5v1.5h-1.5zM285.9,105.9h1.5v1.5h-1.5zM294.3,100.9h1.5v1.5h-1.5zM301.3,107.9h1.5v1.5h-1.5zM305.8,107.9h1.5v1.5h-1.5zM304.2,105.7h1.5v1.5h-1.5zM292.0,100.0h1.5v1.5h-1.5zM299.4,106.6h1.5v1.5h-1.5zM289.6,104.9h1.5v1.5h-1.5zM290.5,108.3h1.5v1.5h-1.5zM296.5,102.0h1.5v1.5h-1.5zM293.7,119.0h1.5v1.5h-1.5zM299.7,107.7h1.5v1.5h-1.5zM304.6,103.4h1.5v1.5h-1.5zM296.4,110.3h1.5v1.5h-1.5zM295.3,104.7h1.5v1.5h-1.5zM297.0,101.0h1.5v1.5h-1.5zM293.7,107.0h1.5v1.5h-1.5zM303.7,107.9h1.5v1.5h-1.5zM291.9,103.5h1.5v1.5h-1.5zM297.8,106.8h1.5v1.5h-1.5zM306.7,97.4h1.5v1.5h-1.5zM306.4,113.2h1.5v1.5h-1.5zM289.6,103.0h1.5v1.5h-1.5zM287.1,110.2h1.5v1.5h-1.5zM305.8,102.8h1.5v1.5h-1.5zM287.6,108.4h1.5v1.5h-1.5zM299.2,114.0h1.5v1.5h-1.5zM301.6,100.7h1.5v1.5h-1.5zM289.0,103.4h1.5v1.5h-1.5zM285.0,106.3h1.5v1.5h-1.5zM297.1,102.9h1.5v1.5h-1.5zM291.3,103.7h1.5v1.5h-1.5zM295.8,102.1h1.5v1.5h-1.5zM305.7,105.1h1.5v1.5h-1.5zM286.3,105.9h1.5v1.5h-1.5zM290.5,104.9h1.5v1.5h-1.5zM302.8,108.2h1.5v1.5h-1.5zM293.1,113.8h1.5v1.5h-1.5zM296.4,111.2h1.5v1.5h-1.5zM302.0,106.5h1.5v1.5h-1.5zM295.2,104.0h1.5v1.5h-1.5zM304.4,112.1h1.5v1.5h-1.5zM283.7,111.5h1.5v1.5h-1.5zM303.4,108.2h1.5v1.5h-1.5zM291.2,104.8h1.5v1.5h-1.5zM294.3,103.4h1.5v1.5h-1.5zM298.4,109.4h1.5v1.5h-1.5zM302.1,109.0h1.5v1.5h-1.5zM296.2,103.6h1.5v1.5h-1.5zM293.9,112.6h1.5v1.5h-1.5zM297.8,119.2h1.5v1.5h-1.5zM297.0,104.6h1.5v1.5h-1.5zM302.3,107.7h1.5v1.5h-1.5zM301.3,108.1h1.5v1.5h-1.5zM300.8,111.9h1.5v1.5h-1.5zM298.5,116.6h1.5v1.5h-1.5zM293.1,108.9h1.5v1.5h-1.5zM287.9,105.1h1.5v1.5h-1.5zM294.5,97.4h1.5v1.5h-1.5zM295.4,113.2h1.5v1.5h-1.5zM286.2,104.6h1.5v1.5h-1.5zM291.5,112.8h1.5v1.5h-1.5zM291.9,113.7h1.5v1.5h-1.5zM293.9,112.4h1.5v1.5h-1.5zM298.2,107.7h1.5v1.5h-1.5zM299.6,103.1h1.5v1.5h-1.5zM300.4,106.2h1.5v1.5h-1.5zM285.5,116.8h1.5v1.5h-1.5zM285.3,110.3h1.5v1.5h-1.5zM296.4,101.4h1.5v1.5h-1.5zM295.5,108.1h1.5v1.5h-1.5zM301.2,101.3h1.5v1.5h-1.5zM301.7,101.5h1.5v1.5h-1.5zM302.3,112.3h1.5v1.5h-1.5zM292.0,107.5h1.5v1.5h-1.5zM301.7,107.9h1.5v1.5h-1.5zM285.3,116.1h1.5v1.5h-1.5zM289.3,117.8h1.5v1.5h-1.5zM290.4,111.1h1.5v1.5h-1.5zM293.4,106.4h1.5v1.5h-1.5zM294.1,105.4h1.5v1.5h-1.5zM285.4,102.0h1.5v1.5h-1.5zM304.6,110.5h1.5v1.5h-1.5zM288.8,106.9h1.5v1.5h-1.5zM296.5,102.1h1.5v1.5h-1.5zM297.8,113.0h1.5v1.5h-1.5zM286.6,115.6h1.5v1.5h-1.5zM297.2,113.1h1.5v1.5h-1.5zM296.7,100.7h1.5v1.5h-1.5zM293.2,110.1h1.5v1.5h-1.5zM290.1,113.2h1.5v1.5h-1.5zM287.2,105.8h1.5v1.5h-1.5zM295.7,100.5h1.5v1.5h-1.5zM294.9,116.5h1.5v1.5h-1.5zM285.1,113.7h1.5v1.5h-1.5zM283.7,116.8h1.5v1.5h-1.5zM285.2,127.4h1.5v1.5h-1.5zM291.7,113.4h1.5v1.5h-1.5zM295.9,116.3h1.5v1.5h-1.5zM288.5,114.1h1.5v1.5h-1.5zM287.7,127.5h1.5v1.5h-1.5zM292.1,117.3h1.5v1.5h-1.5zM286.9,113.3h1.5v1.5h-1.5zM298.2,120.3h1.5v1.5h-1.5zM290.3,120.0h1.5v1.5h-1.5zM271.2,108.5h1.5v1.5h-1.5zM276.1,114.4h1.5v1.5h-1.5zM278.9,130.3h1.5v1.5h-1.5zM287.8,104.3h1.5v1.5h-1.5zM271.9,131.8h1.5v1.5h-1.5zM284.7,117.0h1.5v1.5h-1.5zM279.4,109.3h1.5v1.5h-1.5zM289.8,101.1h1.5v1.5h-1.5zM288.7,99.3h1.5v1.5h-1.5zM289.8,111.1h1.5v1.5h-1.5zM272.5,100.6h1.5v1.5h-1.5zM277.7,117.4h1.5v1.5h-1.5zM286.5,119.8h1.5v1.5h-1.5zM290.5,107.8h1.5v1.5h-1.5zM300.3,121.0h1.5v1.5h-1.5zM278.3,116.1h1.5v1.5h-1.5zM291.9,129.8h1.5v1.5h-1.5zM274.9,107.9h1.5v1.5h-1.5zM274.5,121.6h1.5v1.5h-1.5zM278.4,128.3h1.5v1.5h-1.5zM280.4,119.2h1.5v1.5h-1.5zM278.1,124.6h1.5v1.5h-1.5zM301.4,131.9h1.5v1.5h-1.5zM291.8,109.8h1.5v1.5h-1.5zM271.2,110.3h1.5v1.5h-1.5zM297.2,121.7h1.5v1.5h-1.5zM303.0,114.0h1.5v1.5h-1.5zM286.1,116.8h1.5v1.5h-1.5zM289.4,118.3h1.5v1.5h-1.5zM290.7,130.4h1.5v1.5h-1.5zM274.4,130.5h1.5v1.5h-1.5zM281.1,125.7h1.5v1.5h-1.5zM285.1,121.0h1.5v1.5h-1.5zM278.9,111.4h1.5v1.5h-1.5zM284.0,119.3h1.5v1.5h-1.5zM290.8,109.3h1.5v1.5h-1.5zM284.1,117.4h1.5v1.5h-1.5zM282.6,112.3h1.5v1.5h-1.5zM301.7,108.2h1.5v1.5h-1.5zM279.8,117.2h1.5v1.5h-1.5zM278.5,119.6h1.5v1.5h-1.5zM274.6,109.2h1.5v1.5h-1.5zM279.2,107.9h1.5v1.5h-1.5zM275.4,119.0h1.5v1.5h-1.5zM296.0,123.3h1.5v1.5h-1.5zM269.0,107.5h1.5v1.5h-1.5zM276.7,120.1h1.5v1.5h-1.5zM287.6,115.7h1.5v1.5h-1.5zM287.0,107.2h1.5v1.5h-1.5zM289.3,122.2h1.5v1.5h-1.5zM280.4,116.8h1.5v1.5h-1.5zM299.6,115.7h1.5v1.5h-1.5zM285.7,112.3h1.5v1.5h-1.5zM285.5,120.7h1.5v1.5h-1.5zM288.5,121.4h1.5v1.5h-1.5zM276.0,126.9h1.5v1.5h-1.5zM285.2,110.0h1.5v1.5h-1.5zM288.3,114.9h1.5v1.5h-1.5zM294.8,102.0h1.5v1.5h-1.5zM279.1,106.1h1.5v1.5h-1.5zM294.3,131.7h1.5v1.5h-1.5zM266.8,125.2h1.5v1.5h-1.5zM295.4,109.4h1.5v1.5h-1.5zM297.4,111.7h1.5v1.5h-1.5zM276.5,123.2h1.5v1.5h-1.5zM291.1,114.0h1.5v1.5h-1.5zM297.1,115.6h1.5v1.5h-1.5zM284.9,107.7h1.5v1.5h-1.5zM285.2,129.1h1.5v1.5h-1.5zM278.5,115.5h1.5v1.5h-1.5zM267.6,130.8h1.5v1.5h-1.5zM283.3,128.7h1.5v1.5h-1.5zM299.3,110.9h1.5v1.5h-1.5zM281.9,109.6h1.5v1.5h-1.5zM289.2,126.8h1.5v1.5h-1.5zM270.8,129.2h1.5v1.5h-1.5zM268.2,113.7h1.5v1.5h-1.5zM290.4,113.6h1.5v1.5h-1.5zM293.2,127.1h1.5v1.5h-1.5zM288.7,114.7h1.5v1.5h-1.5zM289.5,103.2h1.5v1.5h-1.5zM289.5,111.8h1.5v1.5h-1.5zM282.3,131.2h1.5v1.5h-1.5zM287.4,99.4h1.5v1.5h-1.5zM274.5,117.2h1.5v1.5h-1.5zM282.5,123.3h1.5v1.5h-1.5zM287.6,114.1h1.5v1.5h-1.5zM291.1,110.8h1.5v1.5h-1.5zM305.0,119.6h1.5v1.5h-1.5zM288.2,118.6h1.5v1.5h-1.5z" fill="#3f83bb" stroke="none" stroke-width="1" />
<path d="M256.9,120.1h1.5v1.5h-1.5zM250.5,105.9h1.5v1.5h-1.5zM248.8,113.0h1.5v1.5h-1.5zM252.1,118.0h1.5v1.5h-1.5zM255.2,120.7h1.5v1.5h-1.5zM247.2,121.0h1.5v1.5h-1.5zM255.2,117.9h1.5v1.5h-1.5zM252.1,125.7h1.5v1.5h-1.5zM250.5,112.1h1.5v1.5h-1.5zM252.1,114.3h1.5v1.5h-1.5zM255.2,111.7h1.5v1.5h-1.5zM260.1,103.7h1.5v1.5h-1.5zM250.5,117.2h1.5v1.5h-1.5zM256.9,116.7h1.5v1.5h-1.5zM253.7,122.7h1.5v1.5h-1.5zM256.9,113.2h1.5v1.5h-1.5zM258.4,107.8h1.5v1.5h-1.5zM256.9,114.6h1.5v1.5h-1.5zM252.1,119.3h1.5v1.5h-1.5zM253.7,120.5h1.5v1.5h-1.5zM256.9,106.7h1.5v1.5h-1.5zM250.5,116.8h1.5v1.5h-1.5zM250.5,108.2h1.5v1.5h-1.5zM255.2,115.1h1.5v1.5h-1.5zM255.2,101.4h1.5v1.5h-1.5zM252.1,105.3h1.5v1.5h-1.5zM252.1,113.0h1.5v1.5h-1.5zM248.8,101.6h1.5v1.5h-1.5zM250.5,106.9h1.5v1.5h-1.5zM252.1,116.6h1.5v1.5h-1.5zM248.8,104.5h1.5v1.5h-1.5zM253.7,113.5h1.5v1.5h-1.5zM245.7,105.2h1.5v1.5h-1.5zM258.4,118.0h1.5v1.5h-1.5zM248.8,101.0h1.5v1.5h-1.5zM247.2,110.8h1.5v1.5h-1.5zM253.7,108.2h1.5v1.5h-1.5zM260.1,115.4h1.5v1.5h-1.5zM253.7,118.1h1.5v1.5h-1.5zM260.1,126.3h1.5v1.5h-1.5zM256.9,107.4h1.5v1.5h-1.5zM252.1,106.9h1.5v1.5h-1.5zM256.9,122.6h1.5v1.5h-1.5zM253.7,117.1h1.5v1.5h-1.5zM253.7,113.5h1.5v1.5h-1.5zM252.1,109.4h1.5v1.5h-1.5zM252.1,122.5h1.5v1.5h-1.5zM253.7,101.4h1.5v1.5h-1.5zM256.9,118.0h1.5v1.5h-1.5zM247.2,120.6h1.5v1.5h-1.5zM256.9,100.5h1.5v1.5h-1.5zM253.7,119.3h1.5v1.5h-1.5zM253.7,108.1h1.5v1.5h-1.5zM248.8,114.7h1.5v1.5h-1.5zM245.7,100.5h1.5v1.5h-1.5zM253.7,117.7h1.5v1.5h-1.5zM253.7,107.9h1.5v1.5h-1.5zM250.5,111.6h1.5v1.5h-1.5zM256.9,104.6h1.5v1.5h-1.5zM255.2,106.6h1.5v1.5h-1.5zM255.2,127.0h1.5v1.5h-1.5zM253.7,117.3h1.5v1.5h-1.5zM261.6,113.0h1.5v1.5h-1.5zM256.9,119.4h1.5v1.5h-1.5zM255.2,115.8h1.5v1.5h-1.5zM247.2,105.1h1.5v1.5h-1.5zM261.6,109.4h1.5v1.5h-1.5zM252.1,115.7h1.5v1.5h-1.5zM250.5,105.4h1.5v1.5h-1.5zM255.2,118.9h1.5v1.5h-1.5zM258.4,132.2h1.5v1.5h-1.5zM247.2,108.1h1.5v1.5h-1.5zM253.7,107.9h1.5v1.5h-1.5zM256.9,118.5h1.5v1.5h-1.5zM252.1,126.4h1.5v1.5h-1.5zM248.8,102.9h1.5v1.5h-1.5zM247.2,118.5h1.5v1.5h-1.5zM247.2,105.8h1.5v1.5h-1.5zM250.5,113.6h1.5v1.5h-1.5zM252.1,122.6h1.5v1.5h-1.5zM252.1,125.6h1.5v1.5h-1.5zM253.7,123.5h1.5v1.5h-1.5zM250.5,110.8h1.5v1.5h-1.5zM255.2,116.9h1.5v1.5h-1.5zM256.9,107.0h1.5v1.5h-1.5zM258.4,117.9h1.5v1.5h-1.5zM253.7,133.4h1.5v1.5h-1.5zM253.7,112.2h1.5v1.5h-1.5zM252.1,117.9h1.5v1.5h-1.5zM252.1,129.8h1.5v1.5h-1.5zM249.8,129.8h1.5v1.5h-1.5zM249.6,120.5h1.5v1.5h-1.5zM249.7,111.3h1.5v1.5h-1.5zM249.9,108.4h1.5v1.5h-1.5zM249.9,109.6h1.5v1.5h-1.5zM249.8,117.7h1.5v1.5h-1.5zM249.4,126.9h1.5v1.5h-1.5zM249.7,106.5h1.5v1.5h-1.5zM249.9,129.0h1.5v1.5h-1.5zM249.7,105.9h1.5v1.5h-1.5zM249.9,104.5h1.5v1.5h-1.5zM249.9,126.5h1.5v1.5h-1.5zM249.8,130.6h1.5v1.5h-1.5zM249.7,114.6h1.5v1.5h-1.5zM249.6,115.3h1.5v1.5h-1.5zM249.7,123.8h1.5v1.5h-1.5zM249.7,117.9h1.5v1.5h-1.5zM249.8,103.9h1.5v1.5h-1.5zM249.9,110.7h1.5v1.5h-1.5zM249.5,125.1h1.5v1.5h-1.5zM249.6,113.9h1.5v1.5h-1.5zM249.4,124.7h1.5v1.5h-1.5zM249.6,112.6h1.5v1.5h-1.5zM249.6,120.5h1.5v1.5h-1.5zM249.9,122.2h1.5v1.5h-1.5zM249.5,107.0h1.5v1.5h-1.5zM249.5,108.7h1.5v1.5h-1.5zM249.5,125.7h1.5v1.5h-1.5zM249.6,112.8h1.5v1.5h-1.5zM249.4,125.3h1.5v1.5h-1.5zM249.9,124.2h1.5v1.5h-1.5zM249.5,116.9h1.5v1.5h-1.5zM249.4,111.9h1.5v1.5h-1.5zM249.4,118.2h1.5v1.5h-1.5zM249.8,118.9h1.5v1.5h-1.5zM253.8,129.0h1.5v1.5h-1.5zM253.8,116.0h1.5v1.5h-1.5zM253.7,121.4h1.5v1.5h-1.5zM253.8,126.4h1.5v1.5h-1.5zM253.9,117.0h1.5v1.5h-1.5zM253.8,116.8h1.5v1.5h-1.5zM253.9,116.6h1.5v1.5h-1.5zM253.9,107.2h1.5v1.5h-1.5zM253.9,104.9h1.5v1.5h-1.5zM253.9,125.7h1.5v1.5h-1.5zM253.4,112.1h1.5v1.5h-1.5zM253.5,116.2h1.5v1.5h-1.5zM253.5,108.3h1.5v1.5h-1.5zM253.7,125.1h1.5v1.5h-1.5zM253.6,105.1h1.5v1.5h-1.5zM253.4,103.7h1.5v1.5h-1.5zM253.9,124.2h1.5v1.5h-1.5zM253.5,130.1h1.5v1.5h-1.5zM253.4,131.7h1.5v1.5h-1.5zM253.4,109.2h1.5v1.5h-1.5z" fill="#f08a2a" stroke="none" stroke-width="1" />
<text transform="translate(314.46 13.70) scale(0.924 1)" x="0" y="0" font-size="18.3" font-weight="bold" fill="#000">C</text>
<text x="417.0" y="14.6" font-size="12.5" fill="#f08a30" stroke="#f08a30" stroke-width="0.15" textLength="183" lengthAdjust="spacingAndGlyphs" >transiently binding component</text>
<text x="433.5" y="104.0" font-size="12.5" fill="#4a90b8" stroke="#4a90b8" stroke-width="0.15" textLength="168" lengthAdjust="spacingAndGlyphs" >long-lived binding component</text>
<polyline points="363.5,81.9 363.6,76.8 363.8,75.7 363.9,76.5 364.0,77.7 364.2,83.7 364.3,82.5 364.5,78.5 364.6,78.9 364.7,75.9 364.9,75.8 365.0,78.0 365.1,75.5 365.3,76.5 365.4,81.3 365.6,79.3 365.7,72.3 365.8,79.0 366.0,77.4 366.1,75.6 366.2,80.4 366.4,75.5 366.5,78.0 366.6,75.9 366.8,70.0 366.9,76.0 367.1,75.9 367.2,71.9 367.3,79.1 367.5,77.6 367.6,69.0 367.7,73.7 367.9,83.2 368.0,77.4 368.2,76.1 368.3,84.9 368.4,80.2 368.6,80.2 368.7,78.4 368.8,87.5 369.0,79.2 369.1,81.6 369.2,74.1 369.4,80.6 369.5,75.7 369.7,80.2 369.8,78.3 369.9,76.1 370.1,74.5 370.2,78.4 370.3,76.3 370.5,77.8 370.6,81.2 370.8,74.6 370.9,78.4 371.0,80.0 371.2,76.9 371.3,78.8 371.4,73.8 371.6,81.9 371.7,76.4 371.8,71.3 372.0,75.0 372.1,76.3 372.3,80.9 372.4,73.1 372.5,76.7 372.7,78.4 372.8,79.2 372.9,75.1 373.1,81.7 373.2,78.8 373.3,78.4 373.5,79.1 373.6,75.2 373.8,84.3 373.9,77.2 374.0,75.8 374.2,78.0 374.3,75.9 374.4,80.5 374.6,81.0 374.7,80.9 374.9,71.3 375.0,76.3 375.1,88.7 375.3,76.4 375.4,78.3 375.5,81.7 375.7,79.2 375.8,70.7 375.9,75.0 376.1,79.9 376.2,83.9 376.4,73.5 376.5,81.6 376.6,78.4 376.8,71.0 376.9,77.7 377.0,88.1 377.2,77.1 377.3,70.3 377.5,79.6 377.6,78.7 377.7,79.0 377.9,77.0 378.0,66.8 378.1,79.2 378.3,78.9 378.4,78.7 378.5,79.1 378.7,73.0 378.8,78.0 379.0,79.0 379.1,85.5 379.2,79.1 379.4,77.7 379.5,77.0 379.6,77.3 379.8,81.9 379.9,79.6 380.1,76.0 380.2,81.0 380.3,81.3 380.5,73.9 380.6,75.5 380.7,76.6 380.9,77.3 381.0,83.5 381.1,85.9 381.3,76.8 381.4,77.4 381.6,75.6 381.7,76.7 381.8,79.1 382.0,82.0 382.1,71.8 382.2,80.7 382.4,76.8 382.5,74.6 382.7,82.0 382.8,79.1 382.9,78.6 383.1,84.8 383.2,83.4 383.3,78.7 383.5,75.2 383.6,79.7 383.7,83.0 383.9,78.8 384.0,71.6 384.2,74.8 384.3,71.0 384.4,76.6 384.6,79.9 384.7,79.3 384.8,78.4 385.0,60.5 385.1,77.0 385.3,74.2 385.4,82.0 385.5,73.9 385.7,84.6 385.8,89.6 385.9,75.8 386.1,76.7 386.2,77.2 386.3,81.2 386.5,79.0 386.6,75.4 386.8,80.1 386.9,76.0 387.0,68.1 387.2,77.3 387.3,81.7 387.4,75.0 387.6,77.3 387.7,79.2 387.9,76.1 388.0,76.8 388.1,77.4 388.3,83.9 388.4,87.3 388.5,81.7 388.7,76.0 388.8,81.9 388.9,74.2 389.1,78.3 389.2,82.4 389.4,80.3 389.5,82.0 389.6,79.1 389.8,79.6 389.9,67.0 390.0,70.4 390.2,78.6 390.3,76.9 390.4,74.6 390.6,78.6 390.7,78.7 390.9,77.7 391.0,83.3 391.1,81.9 391.3,78.6 391.4,78.0 391.5,72.0 391.7,80.3 391.8,78.4 392.0,83.1 392.1,75.3 392.2,77.9 392.4,78.0 392.5,82.3 392.6,78.5 392.8,80.0 392.9,71.0 393.0,72.9 393.2,73.7 393.3,78.4 393.5,79.7 393.6,77.0 393.7,75.9 393.9,73.7 394.0,80.1 394.1,80.1 394.3,79.5 394.4,75.3 394.6,71.7 394.7,82.3 394.8,79.6 395.0,76.1 395.1,78.6 395.2,77.7 395.4,74.3 395.5,83.2 395.6,76.3 395.8,81.6 395.9,86.8 396.1,78.4 396.2,73.7 396.3,74.9 396.5,76.8 396.6,90.6 396.7,76.5 396.9,67.6 397.0,75.7 397.2,73.7 397.3,75.8 397.4,75.2 397.6,81.2 397.7,76.4 397.8,74.3 398.0,76.6 398.1,79.6 398.2,83.7 398.4,73.5 398.5,77.5 398.7,78.4 398.8,88.0 398.9,76.5 399.1,78.7 399.2,80.4 399.3,76.5 399.5,84.8 399.6,75.3 399.8,78.4 399.9,78.9 400.0,79.0 400.2,81.0 400.3,75.9 400.4,79.2 400.6,81.4 400.7,75.3 400.8,79.9 401.0,76.6 401.1,74.7 401.3,80.8 401.4,76.2 401.5,79.1 401.7,67.7 401.8,79.9 401.9,76.5 402.1,81.8 402.2,72.5 402.4,82.1 402.5,77.8 402.6,88.3 402.8,78.1 402.9,74.6 403.0,72.5 403.2,78.6 403.3,80.8 403.4,75.2 403.6,83.0 403.7,76.3 403.9,69.4 404.0,77.3 404.1,77.4 404.3,79.9 404.4,76.0 404.5,79.4 404.7,81.8 404.8,78.3 404.9,77.4 405.1,76.9 405.2,77.6 405.4,73.8 405.5,77.7 405.6,71.2 405.8,93.7 405.9,76.8 406.0,73.8 406.2,76.6 406.3,83.0 406.5,78.7 406.6,80.3 406.7,81.0 406.9,74.6 407.0,78.2 407.1,74.9 407.3,80.3 407.4,76.4 407.5,85.4 407.7,74.5 407.8,76.8 408.0,75.2 408.1,75.2 408.2,81.5 408.4,79.7 408.5,76.5 408.6,76.3 408.8,78.8 408.9,71.2 409.1,71.0 409.2,76.8 409.3,78.0 409.5,78.9 409.6,73.5 409.7,84.6 409.9,87.0 410.0,76.5 410.1,76.6 410.3,74.3 410.4,81.6 410.6,81.9 410.7,81.0 410.8,79.3 411.0,76.3 411.1,83.3 411.2,75.3 411.4,79.4 411.5,71.6 411.7,79.1 411.8,77.6 411.9,79.4 412.1,77.1 412.2,72.5 412.3,74.0 412.5,73.5 412.6,77.3 412.7,74.8 412.9,84.3 413.0,76.1 413.2,68.5 413.3,81.8 413.4,71.6 413.6,78.5 413.7,80.3 413.8,75.1 414.0,75.1 414.1,77.3 414.3,74.6 414.4,81.7 414.5,75.6 414.7,84.2 414.8,68.4 414.9,75.8 415.1,76.8 415.2,84.9 415.3,78.0 415.5,85.0 415.6,76.5 415.8,79.9 415.9,82.5 416.0,84.8 416.2,82.5 416.3,91.8 416.4,78.5 416.6,79.1 416.7,73.3 416.9,78.1 417.0,76.1 417.1,78.3 417.3,78.2 417.4,78.0 417.5,81.1 417.7,80.0 417.8,81.5 417.9,84.0 418.1,79.4 418.2,82.9 418.4,77.8 418.5,76.5 418.6,75.5 418.8,75.2 418.9,78.3 419.0,81.7 419.2,74.5 419.3,69.2 419.5,79.5 419.6,72.8 419.7,79.7 419.9,77.6 420.0,82.2 420.1,78.4 420.3,80.5 420.4,78.4 420.5,75.4 420.7,78.4 420.8,85.2 421.0,77.6 421.1,74.5 421.2,72.1 421.4,73.1 421.5,69.5 421.6,78.8 421.8,79.3 421.9,78.2 422.0,79.3 422.2,77.9 422.3,69.9 422.5,87.3 422.6,81.4 422.7,89.2 422.9,77.2 423.0,74.5 423.1,75.6 423.3,90.6 423.4,80.9 423.6,78.5 423.7,77.4 423.8,80.8 424.0,78.9 424.1,75.3 424.2,86.3 424.4,73.0 424.5,81.0 424.6,66.1 424.8,78.9 424.9,77.2 425.1,74.8 425.2,74.1 425.3,79.1 425.5,76.8 425.6,75.2 425.7,75.3 425.9,80.0 426.0,73.0 426.2,82.2 426.3,76.9 426.4,76.2 426.6,77.4 426.7,82.1 426.8,77.6 427.0,79.2 427.1,75.3 427.2,72.2 427.4,80.5 427.5,79.6 427.7,78.9 427.8,87.1 427.9,78.3 428.1,82.6 428.2,77.5 428.3,78.2 428.5,71.1 428.6,80.9 428.8,78.1 428.9,79.4 429.0,76.5 429.2,81.1 429.3,78.2 429.4,76.1 429.6,80.0 429.7,74.3 429.8,82.1 430.0,76.1 430.1,77.7 430.3,76.2 430.4,73.7 430.5,72.6 430.7,83.0 430.8,78.1 430.9,89.2 431.1,73.7 431.2,79.4 431.4,77.7 431.5,82.1 431.6,77.9 431.8,79.1 431.9,79.0 432.0,81.4 432.2,79.2 432.3,81.2 432.4,73.2 432.6,76.5 432.7,72.0 432.9,79.8 433.0,81.3 433.1,78.2 433.3,80.7 433.4,77.2 433.5,82.9 433.7,73.2 433.8,80.7 434.0,82.0 434.1,74.7 434.2,77.7 434.4,74.1 434.5,76.4 434.6,78.0 434.8,73.0 434.9,78.6 435.0,73.9 435.2,79.6 435.3,77.1 435.5,75.6 435.6,76.8 435.7,81.3 435.9,74.7 436.0,76.6 436.1,83.1 436.3,78.9 436.4,80.8 436.6,75.7 436.7,78.2 436.8,73.8 437.0,80.4 437.1,82.0 437.2,72.9 437.4,83.6 437.5,75.3 437.6,80.5 437.8,82.3 437.9,78.0 438.1,77.4 438.2,73.9 438.3,81.5 438.5,81.9 438.6,78.7 438.7,78.5 438.9,76.0 439.0,70.8 439.1,84.7 439.3,75.5 439.4,80.9 439.6,85.0 439.7,80.9 439.8,77.3 440.0,82.3 440.1,73.1 440.2,75.6 440.4,82.0 440.5,87.1 440.7,79.1 440.8,75.8 440.9,76.9 441.1,80.2 441.2,76.1 441.3,77.2 441.5,84.7 441.6,90.5 441.7,78.9 441.9,76.4 442.0,71.7 442.2,73.2 442.3,81.6 442.4,92.0 442.6,77.2 442.7,77.5 442.8,76.6 443.0,73.6 443.1,78.9 443.3,77.9 443.4,76.4 443.5,78.6 443.7,78.0 443.8,83.6 443.9,78.4 444.1,84.4 444.2,82.5 444.3,84.8 444.5,79.9 444.6,74.1 444.8,73.9 444.9,86.7 445.0,78.8 445.2,78.9 445.3,80.2 445.4,76.3 445.6,77.5 445.7,73.6 445.9,74.5 446.0,77.2 446.1,77.9 446.3,77.2 446.4,80.5 446.5,82.6 446.7,86.5 446.8,76.7 446.9,81.8 447.1,81.0 447.2,81.2 447.4,77.7 447.5,76.0 447.6,75.3 447.8,75.2 447.9,85.3 448.0,78.8 448.2,78.6 448.3,73.4 448.5,81.3 448.6,71.5 448.7,67.7 448.9,75.4 449.0,74.9 449.1,79.7 449.3,75.1 449.4,79.9 449.5,80.4 449.7,77.5 449.8,82.4 450.0,79.8 450.1,75.6 450.2,73.4 450.4,74.6 450.5,78.2 450.6,72.6 450.8,78.1 450.9,78.8 451.1,68.1 451.2,77.7 451.3,75.2 451.5,81.1 451.6,73.8 451.7,78.2 451.9,81.3 452.0,78.6 452.1,76.2 452.3,77.4 452.4,80.4 452.6,90.2 452.7,79.6 452.8,80.9 453.0,85.0 453.1,78.9 453.2,77.8 453.4,83.9 453.5,75.9 453.7,75.9 453.8,82.7 453.9,83.3 454.1,69.5 454.2,76.4 454.3,67.0 454.5,80.7 454.6,77.0 454.7,75.4 454.9,75.3 455.0,84.7 455.2,79.1 455.3,69.5 455.4,78.9 455.6,74.8 455.7,77.0 455.8,77.6 456.0,81.1 456.1,77.8 456.2,72.1 456.4,80.1 456.5,78.0 456.7,81.8 456.8,83.9 456.9,72.1 457.1,83.5 457.2,72.5 457.3,75.7 457.5,77.9 457.6,80.5 457.8,79.6 457.9,78.7 458.0,73.3 458.2,73.0 458.3,81.3 458.4,76.6 458.6,77.8 458.7,78.1 458.8,76.5 459.0,82.7 459.1,78.7 459.3,72.5 459.4,80.8 459.5,73.2 459.7,76.0 459.8,78.8 459.9,78.9 460.1,77.8 460.2,77.8 460.4,71.6 460.5,77.2 460.6,81.0 460.8,84.4 460.9,81.4 461.0,81.0 461.2,74.7 461.3,89.4 461.4,80.0 461.6,76.4 461.7,82.7 461.9,70.5 462.0,80.5 462.1,78.4 462.3,82.7 462.4,81.9 462.5,81.1 462.7,81.1 462.8,78.1 463.0,75.8 463.1,78.1 463.2,72.0 463.4,75.8 463.5,78.0 463.6,85.2 463.8,79.2 463.9,80.5 464.0,67.4 464.2,77.9 464.3,87.1 464.5,77.8 464.6,75.7 464.7,84.7 464.9,78.3 465.0,78.3 465.1,80.4 465.3,79.1 465.4,76.9 465.6,78.8 465.7,79.2 465.8,77.9 466.0,78.3 466.1,78.8 466.2,74.0 466.4,85.1 466.5,80.4 466.6,80.9 466.8,80.3 466.9,66.0 467.1,75.9 467.2,74.9 467.3,83.2 467.5,83.8 467.6,75.3 467.7,74.4 467.9,79.1 468.0,75.9 468.2,80.8 468.3,77.1 468.4,77.1 468.6,71.2 468.7,81.6 468.8,78.1 469.0,67.3 469.1,82.2 469.2,79.3 469.4,79.3 469.5,72.8 469.7,79.7 469.8,80.2 469.9,78.4 470.1,75.0 470.2,79.4 470.3,69.3 470.5,83.7 470.6,75.5 470.8,75.5 470.9,75.6 471.0,76.0 471.2,76.8 471.3,80.6 471.4,80.6 471.6,81.0 471.7,80.7 471.8,74.3 472.0,83.8 472.1,77.3 472.3,81.4 472.4,79.0 472.5,81.2 472.7,78.5 472.8,82.9 472.9,80.3 473.1,80.7 473.2,76.9 473.3,73.9 473.5,80.6 473.6,77.8 473.8,76.4 473.9,83.6 474.0,78.2 474.2,71.6 474.3,69.7 474.4,75.3 474.6,88.9 474.7,77.8 474.9,75.4 475.0,81.4 475.1,76.9 475.3,74.5 475.4,77.3 475.5,73.2 475.7,74.0 475.8,75.7 475.9,75.1 476.1,74.1 476.2,77.7 476.4,79.5 476.5,74.7 476.6,79.2 476.8,74.1 476.9,78.5 477.0,80.0 477.2,76.6 477.3,78.1 477.5,75.3 477.6,62.0 477.7,76.9 477.9,77.4 478.0,72.5 478.1,76.5 478.3,74.4 478.4,71.2 478.5,84.4 478.7,81.1 478.8,80.6 479.0,81.2 479.1,76.9 479.2,79.6 479.4,80.3 479.5,76.3 479.6,82.1 479.8,73.6 479.9,79.8 480.1,71.4 480.2,73.4 480.3,78.7 480.5,82.1 480.6,74.6 480.7,79.2 480.9,80.5 481.0,74.6 481.1,81.6 481.3,81.0 481.4,78.2 481.6,79.9 481.7,81.1 481.8,74.0 482.0,79.0 482.1,78.7 482.2,75.5 482.4,81.8 482.5,81.0 482.7,70.5 482.8,78.6 482.9,77.9 483.1,74.1 483.2,77.4 483.3,67.4 483.5,81.7 483.6,79.8 483.7,78.5 483.9,70.5 484.0,73.9 484.2,73.9 484.3,84.9 484.4,74.3 484.6,79.4 484.7,72.1 484.8,74.4 485.0,82.0 485.1,81.3 485.3,82.9 485.4,79.8 485.5,81.3 485.7,83.4 485.8,74.6 485.9,70.9 486.1,80.9 486.2,81.8 486.3,82.7 486.5,80.7 486.6,81.3 486.8,87.6 486.9,77.8 487.0,76.7 487.2,77.2 487.3,78.2 487.4,79.2 487.6,78.5 487.7,81.7 487.8,74.4 488.0,83.9 488.1,83.6 488.3,71.9 488.4,74.0 488.5,78.7 488.7,66.5 488.8,81.2 488.9,80.4 489.1,82.1 489.2,80.5 489.4,84.9 489.5,79.4 489.6,79.8 489.8,80.6 489.9,78.1 490.0,77.6 490.2,70.9 490.3,76.9 490.4,79.4 490.6,78.3 490.7,80.4 490.9,76.9 491.0,80.8 491.1,79.6 491.3,82.5 491.4,72.1 491.5,80.2 491.7,78.5 491.8,79.0 492.0,79.0 492.1,82.4 492.2,84.1 492.4,76.6 492.5,79.7 492.6,74.0 492.8,70.4 492.9,80.7 493.0,75.9 493.2,83.8 493.3,78.0 493.5,74.1 493.6,74.7 493.7,80.6 493.9,84.7 494.0,79.9 494.1,73.3 494.3,81.2 494.4,86.0 494.6,83.4 494.7,75.7 494.8,77.5 495.0,74.3 495.1,82.0 495.2,81.5 495.4,73.0 495.5,79.4 495.6,80.3 495.8,73.2 495.9,77.2 496.1,83.2 496.2,76.7 496.3,74.7 496.5,75.7 496.6,76.5 496.7,74.9 496.9,74.8 497.0,74.5 497.2,75.9 497.3,72.8 497.4,76.1 497.6,82.5 497.7,79.3 497.8,83.4 498.0,75.1 498.1,80.3 498.2,84.9 498.4,75.5 498.5,82.2 498.7,71.5 498.8,77.9 498.9,75.2 499.1,72.5 499.2,62.3 499.3,79.2 499.5,77.5 499.6,68.8 499.8,75.5 499.9,79.0 500.0,76.7 500.2,75.4 500.3,78.5 500.4,72.5 500.6,86.2 500.7,72.6 500.8,73.5 501.0,73.2 501.1,81.9 501.3,89.1 501.4,79.7 501.5,75.0 501.7,76.9 501.8,74.9 501.9,78.1 502.1,79.4 502.2,82.0 502.4,71.3 502.5,91.5 502.6,74.3 502.8,74.6 502.9,75.7 503.0,86.4 503.2,80.3 503.3,74.0 503.4,76.0 503.6,73.7 503.7,79.6 503.9,77.9 504.0,78.1 504.1,77.2 504.3,80.5 504.4,73.7 504.5,78.0 504.7,76.6 504.8,77.2 504.9,78.8 505.1,78.1 505.2,70.9 505.4,78.7 505.5,76.4 505.6,80.3 505.8,84.6 505.9,81.3 506.0,77.2 506.2,73.1 506.3,77.1 506.5,73.4 506.6,71.5 506.7,78.4 506.9,73.1 507.0,77.1 507.1,74.2 507.3,72.1 507.4,80.0 507.5,76.8 507.7,79.9 507.8,74.1 508.0,84.4 508.1,78.6 508.2,77.5 508.4,82.7 508.5,75.7 508.6,82.3 508.8,81.6 508.9,74.1 509.1,82.4 509.2,75.9 509.3,76.7 509.5,84.2 509.6,79.9 509.7,78.4 509.9,74.4 510.0,76.9 510.1,74.1 510.3,74.6 510.4,80.8 510.6,77.4 510.7,78.9 510.8,70.8 511.0,78.5 511.1,76.1 511.2,72.9 511.4,81.3 511.5,82.9 511.7,83.3 511.8,79.2 511.9,79.6 512.1,80.6 512.2,75.9 512.3,75.0 512.5,74.8 512.6,78.9 512.7,82.9 512.9,75.4 513.0,78.7 513.2,73.2 513.3,72.7 513.4,76.7 513.6,66.0 513.7,80.6 513.8,75.0 514.0,78.2 514.1,81.5 514.3,79.3 514.4,74.2 514.5,75.3 514.7,75.7 514.8,76.0 514.9,81.2 515.1,76.2 515.2,79.5 515.3,77.7 515.5,82.7 515.6,78.2 515.8,75.3 515.9,78.2 516.0,77.4 516.2,81.6 516.3,79.7 516.4,77.5 516.6,78.2 516.7,77.4 516.9,77.7 517.0,78.1 517.1,81.6 517.3,81.4 517.4,78.4 517.5,81.3 517.7,79.0 517.8,80.2 517.9,76.6 518.1,68.1 518.2,80.7 518.4,80.6 518.5,78.1 518.6,73.2 518.8,83.5 518.9,79.4 519.0,80.1 519.2,81.1 519.3,71.5 519.5,73.9 519.6,81.8 519.7,70.4 519.9,77.9 520.0,83.3 520.1,72.8 520.3,76.2 520.4,74.4 520.5,78.7 520.7,79.6 520.8,78.2 521.0,81.2 521.1,82.2 521.2,80.4 521.4,75.6 521.5,76.1 521.6,77.6 521.8,80.9 521.9,76.5 522.0,81.7 522.2,78.9 522.3,81.5 522.5,77.5 522.6,71.5 522.7,79.8 522.9,75.5 523.0,79.6 523.1,88.4 523.3,85.7 523.4,79.6 523.6,78.5 523.7,76.0 523.8,72.0 524.0,71.5 524.1,78.2 524.2,71.3 524.4,76.2 524.5,78.8 524.6,79.0 524.8,75.5 524.9,77.4 525.1,83.1 525.2,85.7 525.3,76.5 525.5,75.9 525.6,73.4 525.7,79.2 525.9,83.6 526.0,77.6 526.2,74.5 526.3,81.8 526.4,69.1 526.6,74.3 526.7,76.9 526.8,76.7 527.0,77.7 527.1,82.4 527.2,74.6 527.4,81.3 527.5,81.8 527.7,80.5 527.8,80.9 527.9,77.1 528.1,81.0 528.2,76.1 528.3,75.3 528.5,78.1 528.6,76.5 528.8,78.7 528.9,74.0 529.0,72.3 529.2,68.0 529.3,79.8 529.4,83.7 529.6,76.8 529.7,77.8 529.8,68.0 530.0,76.0 530.1,81.5 530.3,79.4 530.4,83.1 530.5,76.8 530.7,78.7 530.8,72.5 530.9,82.1 531.1,82.8 531.2,76.3 531.4,74.8 531.5,80.5 531.6,78.4 531.8,78.8 531.9,80.3 532.0,76.3 532.2,76.6 532.3,79.2 532.4,75.4 532.6,83.5 532.7,76.2 532.9,82.5 533.0,82.7 533.1,76.6 533.3,86.9 533.4,78.4 533.5,70.6 533.7,74.5 533.8,73.2 534.0,82.2 534.1,78.0 534.2,79.5 534.4,75.9 534.5,80.2 534.6,72.9 534.8,77.7 534.9,78.0 535.0,75.7 535.2,69.7 535.3,78.4 535.5,79.3 535.6,76.2 535.7,79.7 535.9,81.3 536.0,75.6 536.1,72.8 536.3,76.5 536.4,83.3 536.6,78.7 536.7,81.5 536.8,77.1 537.0,71.6 537.1,73.9 537.2,81.5 537.4,77.7 537.5,85.4 537.6,76.9 537.8,74.3 537.9,72.3 538.1,78.3 538.2,75.0 538.3,72.5 538.5,81.5 538.6,78.2 538.7,85.3 538.9,75.3 539.0,79.4 539.1,73.4 539.3,81.8 539.4,70.4 539.6,81.8 539.7,81.3 539.8,80.5 540.0,62.2 540.1,83.5 540.2,76.3 540.4,74.5 540.5,75.6 540.7,78.9 540.8,80.3 540.9,78.8 541.1,82.3 541.2,74.6 541.3,82.0 541.5,78.0 541.6,79.9 541.7,74.2 541.9,75.2 542.0,79.6 542.2,80.0 542.3,81.6 542.4,71.2 542.6,74.6 542.7,77.5 542.8,81.7 543.0,74.3 543.1,81.2 543.3,74.3 543.4,76.3 543.5,81.4 543.7,77.4 543.8,76.0 543.9,82.6 544.1,84.1 544.2,75.6 544.3,79.2 544.5,86.8 544.6,74.3 544.8,78.8 544.9,72.2 545.0,74.5 545.2,78.4 545.3,79.0 545.4,74.0 545.6,79.4 545.7,77.6 545.9,83.5 546.0,66.4 546.1,75.1 546.3,77.2 546.4,73.6 546.5,79.8 546.7,76.3 546.8,70.1 546.9,78.4 547.1,72.2 547.2,82.5 547.4,80.1 547.5,78.7 547.6,78.5 547.8,76.6 547.9,76.4 548.0,75.3 548.2,73.0 548.3,81.1 548.5,76.4 548.6,80.8 548.7,78.4 548.9,80.2 549.0,71.5 549.1,83.6 549.3,73.4 549.4,76.5 549.5,74.5 549.7,83.0 549.8,77.6 550.0,78.7 550.1,77.5 550.2,80.6 550.4,70.8 550.5,79.1 550.6,72.0 550.8,84.4 550.9,81.5 551.1,82.1 551.2,78.9 551.3,78.9 551.5,80.6 551.6,81.0 551.7,75.3 551.9,76.5 552.0,66.5 552.1,81.6 552.3,67.2 552.4,78.6 552.6,78.2 552.7,77.7 552.8,78.8 553.0,77.1 553.1,71.8 553.2,74.9 553.4,88.7 553.5,78.7 553.7,82.5 553.8,75.1 553.9,82.4 554.1,80.4 554.2,77.4 554.3,78.5 554.5,86.4 554.6,71.2 554.7,73.3 554.9,78.3 555.0,80.7 555.2,72.3 555.3,77.0 555.4,79.1 555.6,77.5 555.7,85.4 555.8,84.4 556.0,79.4 556.1,86.0 556.2,66.1 556.4,82.6 556.5,75.7 556.7,77.5 556.8,73.5 556.9,67.0 557.1,74.9 557.2,67.9 557.3,72.7 557.5,79.9 557.6,81.8 557.8,78.3 557.9,74.7 558.0,85.1 558.2,78.6 558.3,82.0 558.4,79.7 558.6,79.4 558.7,78.0 558.8,76.2 559.0,76.3 559.1,76.0 559.3,78.0 559.4,80.7 559.5,72.2 559.7,82.1 559.8,78.4 559.9,80.2 560.1,75.1 560.2,75.0 560.4,75.3 560.5,79.2 560.6,73.8 560.8,82.4 560.9,72.6 561.0,75.3 561.2,76.8 561.3,76.9 561.4,78.3 561.6,82.8 561.7,71.5 561.9,70.8 562.0,78.3 562.1,76.5 562.3,81.0 562.4,79.7 562.5,78.5 562.7,81.7 562.8,74.8 563.0,77.9 563.1,68.6 563.2,77.5 563.4,78.7 563.5,77.7 563.6,77.7 563.8,76.0 563.9,77.3 564.0,84.1 564.2,74.2 564.3,75.3 564.5,76.2 564.6,78.6 564.7,83.5 564.9,77.6 565.0,76.4 565.1,77.4 565.3,73.0 565.4,83.3 565.6,78.2 565.7,83.6 565.8,79.2 566.0,77.5 566.1,80.7 566.2,79.0 566.4,82.2 566.5,80.6 566.6,73.6 566.8,77.5 566.9,80.9 567.1,83.0 567.2,77.5 567.3,78.5 567.5,78.2 567.6,73.3 567.7,78.5 567.9,79.5 568.0,79.5 568.2,81.1 568.3,73.7 568.4,80.5 568.6,76.5 568.7,79.7 568.8,77.7 569.0,77.6 569.1,83.5 569.2,75.6 569.4,88.2 569.5,74.2 569.7,75.1 569.8,74.1 569.9,79.8 570.1,74.3 570.2,80.4 570.3,79.2 570.5,77.5 570.6,79.7 570.7,65.3 570.9,77.2 571.0,83.0 571.2,77.6 571.3,73.5 571.4,73.0 571.6,81.0 571.7,75.9 571.8,74.8 572.0,73.9 572.1,80.4 572.3,79.3 572.4,76.5 572.5,72.9 572.7,80.0 572.8,78.3 572.9,76.0 573.1,77.7 573.2,84.1 573.3,73.0 573.5,74.0 573.6,74.5 573.8,83.5 573.9,82.0 574.0,74.4 574.2,74.3 574.3,79.9 574.4,79.0 574.6,78.7 574.7,76.7 574.9,83.6 575.0,79.9 575.1,69.0 575.3,77.0 575.4,80.3 575.5,78.4 575.7,79.5 575.8,78.7 575.9,84.0 576.1,73.3 576.2,78.8 576.4,78.0 576.5,82.2 576.6,75.0 576.8,75.6 576.9,73.7 577.0,79.3 577.2,75.4 577.3,79.4 577.5,81.9 577.6,83.2 577.7,85.8 577.9,75.8 578.0,76.1 578.1,74.6 578.3,77.4 578.4,76.3 578.5,75.4 578.7,85.3 578.8,71.7 579.0,75.4 579.1,78.2 579.2,82.9 579.4,73.1 579.5,81.1 579.6,79.9 579.8,68.8 579.9,72.4 580.1,77.9 580.2,76.3 580.3,74.9 580.5,80.1 580.6,73.4 580.7,78.0 580.9,81.4 581.0,82.1 581.1,76.1 581.3,76.2 581.4,75.1 581.6,80.2 581.7,74.1 581.8,76.6 582.0,81.3 582.1,78.7 582.2,74.8 582.4,76.0 582.5,79.0 582.7,83.4 582.8,78.7 582.9,80.0 583.1,75.7 583.2,81.0 583.3,80.4 583.5,84.2 583.6,72.0 583.7,79.2 583.9,78.4 584.0,83.9 584.2,78.5 584.3,77.1 584.4,76.8 584.6,79.7 584.7,78.8 584.8,80.4 585.0,78.0 585.1,77.1 585.3,74.3 585.4,77.1 585.5,80.9 585.7,77.1 585.8,63.5 585.9,80.5 586.1,79.1 586.2,78.3 586.3,76.3 586.5,75.2 586.6,75.6 586.8,77.4 586.9,79.4 587.0,76.8 587.2,77.6 587.3,77.9 587.4,79.5 587.6,72.2 587.7,77.4 587.8,80.1 588.0,89.9 588.1,81.9 588.3,81.2 588.4,79.4 588.5,73.2 588.7,75.5 588.8,81.0 588.9,77.5 589.1,77.7 589.2,79.2 589.4,80.1 589.5,73.8 589.6,77.8 589.8,69.0 589.9,81.1 590.0,71.6 590.2,74.4 590.3,76.3 590.4,75.2 590.6,80.5 590.7,79.1 590.9,72.1 591.0,84.4 591.1,79.9 591.3,77.9 591.4,75.2 591.5,76.6 591.7,84.5 591.8,73.9 592.0,83.2 592.1,80.2 592.2,78.0 592.4,78.3 592.5,83.2 592.6,76.9 592.8,78.3 592.9,77.7 593.0,71.0 593.2,80.2 593.3,76.0 593.5,87.1 593.6,77.9 593.7,78.2 593.9,76.3 594.0,76.8 594.1,78.4 594.3,78.2 594.4,71.0 594.6,78.2 594.7,77.7 594.8,85.2 595.0,74.3 595.1,78.6 595.2,82.6 595.4,75.9 595.5,75.1 595.6,75.5 595.8,84.6 595.9,71.7 596.1,82.6 596.2,82.3 596.3,74.9 596.5,78.9 596.6,73.6 596.7,78.6 596.9,82.5 597.0,79.8 597.2,78.3 597.3,79.0 597.4,77.6 597.6,74.4 597.7,77.7 597.8,81.1 598.0,67.8 598.1,84.4 598.2,77.7 598.4,82.4 598.5,77.7 598.7,80.7 598.8,74.8 598.9,76.6 599.1,82.7 599.2,84.6 599.3,83.5 599.5,76.9 599.6,73.6 599.8,82.3 599.9,76.4 600.0,67.1 600.2,85.6 600.3,80.4 600.4,80.6 600.6,79.7 600.7,79.6 600.8,75.7 601.0,80.4 601.1,76.4 601.3,74.5 601.4,74.8 601.5,82.5 601.7,78.5 601.8,74.9 601.9,69.3 602.1,77.7 602.2,80.9 602.4,74.3 602.5,76.8 602.6,84.1 602.8,76.1 602.9,83.8 603.0,80.4 603.2,76.9 603.3,76.7 603.4,74.9 603.6,76.4 603.7,76.9 603.9,73.5 604.0,75.8 604.1,78.2 604.3,78.9 604.4,74.0 604.5,77.7 604.7,74.9 604.8,77.7 604.9,80.9 605.1,73.8 605.2,74.8 605.4,77.3 605.5,81.0 605.6,76.8 605.8,75.2 605.9,71.5 606.0,76.3 606.2,80.8 606.3,77.6 606.5,75.8 606.6,82.5 606.7,84.7 606.9,79.4 607.0,81.6 607.1,76.5 607.3,72.6 607.4,76.2 607.5,82.0 607.7,73.3 607.8,76.4 608.0,81.8 608.1,74.4 608.2,75.1 608.4,74.4 608.5,74.1 608.6,81.1 608.8,75.5 608.9,80.2 609.1,81.1 609.2,80.9 609.3,80.5 609.5,79.1 609.6,81.5 609.7,76.0 609.9,79.3 610.0,77.7 610.1,80.6 610.3,81.1 610.4,79.2 610.6,81.2 610.7,76.4 610.8,73.4 611.0,80.5 611.1,64.1 611.2,76.4 611.4,81.5 611.5,74.6 611.7,76.4 611.8,67.5 611.9,82.0 612.1,76.6 612.2,78.7 612.3,78.1 612.5,78.2 612.6,75.2 612.7,73.1 612.9,76.5 613.0,84.4 613.2,75.8 613.3,76.9 613.4,81.4 613.6,81.6 613.7,74.7 613.8,76.1 614.0,76.4 614.1,82.2 614.3,78.6 614.4,80.0 614.5,75.5 614.7,85.8 614.8,72.6 614.9,76.7 615.1,78.8 615.2,83.3 615.3,82.0 615.5,73.8 615.6,81.7 615.8,73.7 615.9,74.3 616.0,74.5 616.2,77.2 616.3,76.5 616.4,76.8 616.6,68.4 616.7,71.8 616.9,79.4 617.0,75.6 617.1,76.7 617.3,78.0 617.4,75.1 617.5,75.3 617.7,77.5 617.8,82.4 617.9,75.6 618.1,89.0 618.2,75.0 618.4,78.3 618.5,77.6 618.6,76.8 618.8,81.0 618.9,78.3 619.0,77.4 619.2,80.7 619.3,77.2 619.5,76.5 619.6,75.2 619.7,80.5 619.9,77.9 620.0,78.7 620.1,79.2 620.3,79.4 620.4,69.6 620.5,74.3 620.7,78.4 620.8,75.1 621.0,74.8 621.1,77.8 621.2,78.5 621.4,79.9 621.5,78.5 621.6,76.1 621.8,77.0 621.9,72.4 622.0,72.1 622.2,91.3 622.3,84.7 622.5,81.2 622.6,82.6 622.7,80.3 622.9,72.0 623.0,71.6 623.1,82.7 623.3,79.2 623.4,80.0 623.6,79.6 623.7,78.1 623.8,76.0 624.0,76.4 624.1,76.3 624.2,81.2 624.4,76.9 624.5,74.8 624.6,81.1 624.8,87.6 624.9,78.2 625.1,74.3 625.2,89.3 625.3,78.0 625.5,76.0 625.6,77.4 625.7,79.7 625.9,81.5 626.0,81.8 626.2,77.8 626.3,81.8 626.4,79.8 626.6,81.7 626.7,73.9 626.8,71.6 627.0,79.1 627.1,76.9 627.2,75.8 627.4,76.0 627.5,77.3 627.7,78.4 627.8,77.5 627.9,87.8 628.1,77.1 628.2,76.3 628.3,68.0 628.5,79.5 628.6,79.7 628.8,75.5 628.9,75.4 629.0,74.6 629.2,79.0 629.3,84.3 629.4,87.0 629.6,75.7 629.7,71.6 629.8,78.6 630.0,79.4 630.1,76.2 630.3,75.5 630.4,88.7 630.5,73.6 630.7,80.1 630.8,80.2 630.9,68.2 631.1,82.2 631.2,78.7 631.4,79.2 631.5,74.7 631.6,75.3 631.8,81.0 631.9,83.5 632.0,78.4 632.2,70.1 632.3,76.7 632.4,84.1 632.6,77.3 632.7,76.7 632.9,80.0 633.0,78.5 633.1,82.5 633.3,79.7 633.4,84.9 633.5,69.1 633.7,79.4 633.8,75.4 634.0,80.0 634.1,71.4 634.2,78.3 634.4,80.1 634.5,81.1 634.6,76.2 634.8,76.5 634.9,71.2 635.0,75.9 635.2,75.1 635.3,78.4 635.5,84.9 635.6,70.4 635.7,83.4 635.9,74.9 636.0,75.5 636.1,73.2 636.3,80.9 636.4,79.6 636.6,77.4 636.7,78.8 636.8,80.6 637.0,77.2 637.1,77.9 637.2,76.6 637.4,81.7 637.5,75.7 637.6,75.6 637.8,80.7 637.9,78.3 638.1,69.3 638.2,77.2 638.3,69.3 638.5,80.2 638.6,80.2 638.7,74.4 638.9,82.8 639.0,69.4 639.1,81.3 639.3,75.3 639.4,70.0 639.6,74.5 639.7,75.7 639.8,89.8 640.0,75.4 640.1,76.3 640.2,82.7 640.4,82.2 640.5,81.8 640.7,76.4 640.8,75.3 640.9,74.3 641.1,80.6 641.2,81.7 641.3,71.0 641.5,72.1 641.6,78.6 641.7,86.7 641.9,83.8 642.0,77.7 642.2,80.6 642.3,75.3 642.4,72.7 642.6,83.5 642.7,77.4 642.8,77.0 643.0,79.8 643.1,79.4 643.3,79.5 643.4,79.3 643.5,80.9 643.7,75.3 643.8,77.6 643.9,77.0 644.1,81.8 644.2,82.8 644.3,76.3 644.5,72.8 644.6,76.5 644.8,80.4 644.9,79.0 645.0,81.2 645.2,74.4 645.3,70.9 645.4,77.5 645.6,74.7 645.7,79.6 645.9,77.8 646.0,79.1 646.1,70.7 646.3,71.8 646.4,79.0 646.5,77.2 646.7,84.0 646.8,83.6 646.9,84.3 647.1,82.3 647.2,77.6 647.4,78.5 647.5,71.8 647.6,79.2 647.8,80.1 647.9,68.9 648.0,78.4 648.2,79.9 648.3,76.2 648.5,75.7 648.6,72.3 648.7,81.1 648.9,87.2 649.0,78.2 649.1,77.8 649.3,74.8 649.4,87.3 649.5,75.6 649.7,80.8 649.8,79.8 650.0,79.2 650.1,72.3 650.2,80.4 650.4,78.3 650.5,75.8 650.6,80.7 650.8,82.4 650.9,74.8 651.1,79.3 651.2,77.2 651.3,76.3 651.5,78.8 651.6,75.3 651.7,75.4 651.9,78.7 652.0,77.0 652.1,75.8 652.3,81.2 652.4,81.1 652.6,74.7 652.7,80.7 652.8,78.6 653.0,76.1 653.1,78.5 653.2,86.0 653.4,76.1 653.5,77.6 653.6,80.9 653.8,81.5 653.9,80.0 654.1,75.1 654.2,74.6 654.3,77.6 654.5,84.8 654.6,81.3 654.7,80.1 654.9,77.3 655.0,75.0 655.2,81.7 655.3,81.9 655.4,75.2 655.6,77.3 655.7,77.4 655.8,79.4 656.0,76.4 656.1,81.7 656.2,73.2 656.4,82.9 656.5,79.7 656.7,77.2 656.8,79.2 656.9,75.0 657.1,70.1 657.2,76.8 657.3,79.6 657.5,71.6 657.6,74.0 657.8,69.8 657.9,76.0 658.0,75.4 658.2,71.6 658.3,77.2 658.4,64.2 658.6,74.0 658.7,77.9 658.8,78.2 659.0,90.3 659.1,73.3 659.3,76.2 659.4,78.6 659.5,79.1 659.7,76.3 659.8,71.8 659.9,86.5 660.1,76.1 660.2,79.8 660.4,75.8 660.5,78.2 660.6,75.4 660.8,81.0 660.9,87.1 661.0,77.1 661.2,82.2 661.3,76.8 661.4,80.5 661.6,83.5 661.7,76.5 661.9,81.1 662.0,75.7 662.1,71.0 662.3,85.6 662.4,81.3 662.5,76.9 662.7,79.4 662.8,72.5 663.0,76.6 663.1,82.8 663.2,81.9 663.4,78.0 663.5,73.9 663.6,78.3 663.8,80.5 663.9,82.3 664.0,73.1 664.2,81.6 664.3,71.2 664.5,76.0 664.6,81.4 664.7,78.5 664.9,76.5 665.0,76.9 665.1,78.7 665.3,74.5 665.4,81.0 665.6,79.1 665.7,80.0 665.8,76.7 666.0,82.1 666.1,82.5 666.2,79.3 666.4,77.4 666.5,81.0 666.6,65.7 666.8,85.0 666.9,79.0 667.1,78.5 667.2,78.3 667.3,84.4 667.5,76.0 667.6,78.3 667.7,80.4 667.9,76.2 668.0,80.8 668.2,78.9 668.3,79.4 668.4,73.7 668.6,76.6 668.7,78.1 668.8,69.1 669.0,75.7 669.1,75.3 669.2,76.7 669.4,84.4 669.5,83.0 669.7,79.9 669.8,79.2 669.9,75.6 670.1,73.4 670.2,73.3 670.3,82.1 670.5,77.7 670.6,80.0 670.7,73.1 670.9,81.6 671.0,72.8 671.2,78.0 671.3,75.1 671.4,78.0 671.6,81.9 671.7,82.1 671.8,79.3 672.0,81.7 672.1,76.4 672.3,77.5 672.4,79.9 672.5,85.4 672.7,80.2 672.8,78.1 672.9,73.6 673.1,74.2 673.2,84.3 673.3,81.6 673.5,74.7 673.6,79.4 673.8,83.4 673.9,77.3 674.0,75.6 674.2,77.1 674.3,71.8 674.4,79.7 674.6,81.8 674.7,78.4 674.9,75.9 675.0,79.5 675.1,82.2 675.3,82.0 675.4,67.2 675.5,79.4 675.7,72.3 675.8,83.5 675.9,74.6 676.1,75.6 676.2,82.7 676.4,80.1 676.5,76.0 676.6,68.4 676.8,78.4 676.9,71.6 677.0,74.8 677.2,90.1 677.3,78.0 677.5,78.1 677.6,71.3 677.7,84.6 677.9,78.8 678.0,70.8" fill="none" stroke="#f06c2c" stroke-width="0.85" stroke-linejoin="round" />
<path d="M363.8,77.5 L364.3,49.9 L364.9,77.5 M376.1,77.5 L376.6,41.1 L377.2,77.5 M379.0,77.5 L379.5,41.1 L380.1,77.5 M384.3,77.5 L384.8,36.4 L385.4,77.5 M395.4,77.5 L395.9,58.0 L396.5,77.5 M397.7,77.5 L398.2,41.1 L398.8,77.5 M401.2,77.5 L401.7,44.0 L402.3,77.5 M403.0,77.5 L403.5,51.0 L404.1,77.5 M408.2,77.5 L408.7,32.9 L409.3,77.5 M409.4,77.5 L409.9,39.9 L410.5,77.5 M410.5,77.5 L411.0,44.0 L411.6,77.5 M417.6,77.5 L418.1,57.4 L418.7,77.5 M423.0,77.5 L423.5,60.4 L424.1,77.5 M431.2,77.5 L431.7,42.3 L432.3,77.5 M434.8,77.5 L435.3,41.1 L435.9,77.5 M437.4,77.5 L437.9,43.4 L438.5,77.5 M442.8,77.5 L443.3,49.9 L443.9,77.5 M445.0,77.5 L445.5,55.1 L446.1,77.5 M447.7,77.5 L448.2,39.9 L448.8,77.5 M448.6,77.5 L449.1,47.5 L449.7,77.5 M451.8,77.5 L452.3,63.9 L452.9,77.5 M458.8,77.5 L459.3,44.0 L459.9,77.5 M460.5,77.5 L461.0,41.1 L461.6,77.5 M473.1,77.5 L473.6,39.9 L474.2,77.5 M476.6,77.5 L477.1,38.8 L477.7,77.5 M481.0,77.5 L481.5,53.4 L482.1,77.5 M482.9,77.5 L483.4,33.5 L484.0,77.5 M484.5,77.5 L485.0,34.1 L485.6,77.5 M487.4,77.5 L487.9,61.5 L488.5,77.5 M489.1,77.5 L489.6,41.7 L490.2,77.5 M490.5,77.5 L491.0,42.8 L491.6,77.5 M495.6,77.5 L496.1,46.9 L496.7,77.5 M497.9,77.5 L498.4,45.2 L499.0,77.5 M502.6,77.5 L503.1,33.5 L503.7,77.5 M505.8,77.5 L506.3,41.1 L506.9,77.5 M511.0,77.5 L511.5,35.3 L512.1,77.5 M515.4,77.5 L515.9,39.9 L516.5,77.5 M526.8,77.5 L527.3,53.4 L527.9,77.5 M531.7,77.5 L532.2,53.4 L532.8,77.5 M538.5,77.5 L539.0,54.5 L539.6,77.5 M540.0,77.5 L540.5,39.3 L541.1,77.5 M545.9,77.5 L546.4,42.8 L547.0,77.5 M548.1,77.5 L548.6,45.2 L549.2,77.5 M552.2,77.5 L552.7,46.4 L553.3,77.5 M554.9,77.5 L555.4,38.8 L556.0,77.5 M557.8,77.5 L558.3,51.0 L558.9,77.5 M559.5,77.5 L560.0,39.3 L560.6,77.5 M562.5,77.5 L563.0,63.9 L563.6,77.5 M566.5,77.5 L567.0,40.5 L567.6,77.5 M569.5,77.5 L570.0,65.0 L570.6,77.5 M590.8,77.5 L591.3,43.4 L591.9,77.5 M594.0,77.5 L594.5,58.0 L595.1,77.5 M595.5,77.5 L596.0,60.4 L596.6,77.5 M600.8,77.5 L601.3,44.6 L601.9,77.5 M603.9,77.5 L604.4,54.5 L605.0,77.5 M607.2,77.5 L607.7,53.4 L608.3,77.5 M608.9,77.5 L609.4,41.1 L610.0,77.5 M614.2,77.5 L614.7,44.0 L615.3,77.5 M615.6,77.5 L616.1,42.3 L616.7,77.5 M617.7,77.5 L618.2,44.6 L618.8,77.5 M618.9,77.5 L619.4,58.0 L620.0,77.5 M630.3,77.5 L630.8,62.1 L631.4,77.5 M631.5,77.5 L632.0,51.0 L632.6,77.5 M637.3,77.5 L637.8,63.9 L638.4,77.5 M643.1,77.5 L643.6,67.4 L644.2,77.5 M657.4,77.5 L657.9,50.4 L658.5,77.5 M660.9,77.5 L661.4,57.4 L662.0,77.5 M662.1,77.5 L662.6,59.8 L663.2,77.5 M672.5,77.5 L673.0,62.0 L673.6,77.5 " fill="#f5a080" stroke="#f4906a" stroke-width="0.6" />
<path d="M364.3,77.5 V57.8 M376.6,77.5 V54.5 M379.5,77.5 V54.2 M384.8,77.5 V43.2 M395.9,77.5 V63.4 M398.2,77.5 V50.2 M401.7,77.5 V48.6 M403.5,77.5 V59.5 M408.7,77.5 V45.8 M409.9,77.5 V51.2 M411.0,77.5 V46.0 M418.1,77.5 V59.6 M423.5,77.5 V64.4 M431.7,77.5 V54.8 M435.3,77.5 V46.7 M437.9,77.5 V49.6 M443.3,77.5 V52.3 M445.5,77.5 V58.5 M448.2,77.5 V48.6 M449.1,77.5 V58.9 M452.3,77.5 V67.9 M459.3,77.5 V54.4 M461.0,77.5 V47.5 M473.6,77.5 V44.8 M477.1,77.5 V41.7 M481.5,77.5 V62.7 M483.4,77.5 V44.7 M485.0,77.5 V42.3 M487.9,77.5 V63.6 M489.6,77.5 V46.7 M491.0,77.5 V54.4 M496.1,77.5 V57.7 M498.4,77.5 V48.3 M503.1,77.5 V44.8 M506.3,77.5 V48.2 M511.5,77.5 V51.7 M515.9,77.5 V43.9 M527.3,77.5 V60.1 M532.2,77.5 V57.1 M539.0,77.5 V63.1 M540.5,77.5 V45.0 M546.4,77.5 V53.2 M548.6,77.5 V55.9 M552.7,77.5 V54.6 M555.4,77.5 V40.9 M558.3,77.5 V56.1 M560.0,77.5 V54.5 M563.0,77.5 V69.1 M567.0,77.5 V44.9 M570.0,77.5 V67.9 M591.3,77.5 V52.4 M594.5,77.5 V59.5 M596.0,77.5 V61.5 M601.3,77.5 V46.6 M604.4,77.5 V63.3 M607.7,77.5 V60.1 M609.4,77.5 V44.3 M614.7,77.5 V48.5 M616.1,77.5 V53.5 M618.2,77.5 V47.7 M619.4,77.5 V59.5 M630.8,77.5 V63.1 M632.0,77.5 V54.4 M637.8,77.5 V69.1 M643.6,77.5 V71.2 M657.9,77.5 V52.7 M661.4,77.5 V62.6 M662.6,77.5 V64.7 M673.0,77.5 V64.2 " fill="none" stroke="#ff1a0a" stroke-width="1.15" />
<line x1="363.50" y1="77.60" x2="678.00" y2="77.60" stroke="#ff2a10" stroke-width="1.3" />
<polyline points="363.5,165.0 363.7,157.9 363.9,159.6 364.1,157.0 364.2,160.8 364.4,152.6 364.6,154.1 364.8,161.8 365.0,158.7 365.2,172.4 365.4,162.5 365.5,158.5 365.7,151.3 365.9,164.0 366.1,159.1 366.3,155.6 366.5,148.0 366.6,167.5 366.8,163.8 367.0,161.8 367.2,156.8 367.4,161.4 367.6,157.1 367.8,160.2 367.9,157.1 368.1,155.7 368.3,163.8 368.5,160.6 368.7,158.7 368.9,159.6 369.1,164.5 369.2,157.0 369.4,156.7 369.6,160.7 369.8,161.5 370.0,167.4 370.2,157.7 370.3,155.4 370.5,162.8 370.7,159.5 370.9,160.0 371.1,155.9 371.3,160.7 371.5,167.5 371.6,161.6 371.8,157.5 372.0,168.5 372.2,165.2 372.4,152.3 372.6,163.4 372.8,166.0 372.9,166.2 373.1,163.2 373.3,162.5 373.5,157.6 373.7,150.1 373.9,160.5 374.1,163.5 374.2,161.1 374.4,162.7 374.6,155.8 374.8,176.0 375.0,165.0 375.2,159.0 375.3,162.9 375.5,154.8 375.7,165.3 375.9,160.4 376.1,150.5 376.3,165.9 376.5,166.1 376.6,167.7 376.8,161.7 377.0,161.7 377.2,163.7 377.4,159.8 377.6,168.5 377.8,161.3 377.9,160.7 378.1,157.7 378.3,163.1 378.5,153.2 378.7,156.1 378.9,162.5 379.0,160.7 379.2,157.9 379.4,158.5 379.6,164.3 379.8,158.0 380.0,163.5 380.2,159.9 380.3,159.3 380.5,149.8 380.7,157.1 380.9,157.2 381.1,157.6 381.3,168.5 381.5,155.6 381.6,164.8 381.8,168.2 382.0,170.9 382.2,164.1 382.4,161.0 382.6,159.9 382.8,159.2 382.9,157.3 383.1,151.9 383.3,162.9 383.5,162.3 383.7,157.5 383.9,160.0 384.0,160.0 384.2,160.1 384.4,158.3 384.6,160.7 384.8,165.5 385.0,162.3 385.2,159.8 385.3,159.9 385.5,160.8 385.7,161.3 385.9,160.5 386.1,155.4 386.3,163.3 386.5,169.9 386.6,162.8 386.8,168.0 387.0,160.2 387.2,162.5 387.4,158.9 387.6,159.0 387.7,160.5 387.9,165.4 388.1,165.3 388.3,162.3 388.5,157.9 388.7,167.0 388.9,162.4 389.0,166.1 389.2,163.8 389.4,154.0 389.6,163.0 389.8,156.8 390.0,161.7 390.2,162.2 390.3,159.9 390.5,166.3 390.7,166.1 390.9,161.5 391.1,164.5 391.3,159.3 391.5,160.7 391.6,157.3 391.8,159.5 392.0,158.9 392.2,164.3 392.4,161.5 392.6,167.3 392.7,158.9 392.9,160.1 393.1,157.6 393.3,157.9 393.5,161.5 393.7,159.4 393.9,159.9 394.0,165.3 394.2,158.6 394.4,159.8 394.6,167.0 394.8,161.3 395.0,159.2 395.2,151.9 395.3,165.6 395.5,167.6 395.7,167.0 395.9,157.4 396.1,169.1 396.3,156.7 396.4,159.2 396.6,157.7 396.8,162.5 397.0,162.1 397.2,165.1 397.4,156.8 397.6,163.6 397.7,158.1 397.9,156.8 398.1,160.4 398.3,157.7 398.5,160.2 398.7,162.8 398.9,168.8 399.0,164.3 399.2,161.6 399.4,160.0 399.6,157.4 399.8,161.1 400.0,163.7 400.2,159.3 400.3,158.7 400.5,160.3 400.7,161.7 400.9,156.2 401.1,159.0 401.3,160.0 401.4,162.4 401.6,159.7 401.8,159.0 402.0,162.2 402.2,162.7 402.4,165.2 402.6,160.8 402.7,161.2 402.9,157.8 403.1,157.1 403.3,158.1 403.5,163.6 403.7,159.3 403.9,155.3 404.0,163.1 404.2,157.8 404.4,158.4 404.6,156.7 404.8,161.3 405.0,164.6 405.1,157.7 405.3,168.2 405.5,158.3 405.7,159.5 405.9,159.3 406.1,153.5 406.3,154.2 406.4,131.7 406.6,131.9 406.8,135.8 407.0,139.5 407.2,133.7 407.4,139.2 407.6,162.1 407.7,165.6 407.9,164.8 408.1,161.9 408.3,162.5 408.5,162.9 408.7,161.3 408.9,164.3 409.0,160.5 409.2,160.8 409.4,159.4 409.6,177.9 409.8,158.7 410.0,168.7 410.1,162.7 410.3,155.7 410.5,161.7 410.7,160.6 410.9,160.1 411.1,164.4 411.3,163.4 411.4,166.3 411.6,161.1 411.8,160.6 412.0,159.8 412.2,161.6 412.4,156.9 412.6,163.3 412.7,157.2 412.9,159.2 413.1,160.5 413.3,163.9 413.5,164.8 413.7,161.3 413.8,158.6 414.0,159.4 414.2,162.6 414.4,164.5 414.6,161.6 414.8,158.4 415.0,163.6 415.1,163.3 415.3,159.3 415.5,157.7 415.7,155.1 415.9,156.1 416.1,165.9 416.3,165.5 416.4,153.4 416.6,163.9 416.8,159.4 417.0,157.9 417.2,154.8 417.4,159.6 417.6,163.5 417.7,157.0 417.9,155.0 418.1,161.4 418.3,159.5 418.5,160.3 418.7,165.6 418.8,160.2 419.0,157.3 419.2,163.3 419.4,160.9 419.6,157.7 419.8,165.5 420.0,172.6 420.1,160.7 420.3,158.7 420.5,162.6 420.7,166.3 420.9,156.3 421.1,157.8 421.3,162.1 421.4,158.4 421.6,160.4 421.8,161.3 422.0,164.1 422.2,156.8 422.4,162.9 422.5,160.8 422.7,166.0 422.9,161.2 423.1,162.3 423.3,166.2 423.5,162.0 423.7,166.7 423.8,155.9 424.0,158.0 424.2,155.0 424.4,162.6 424.6,166.0 424.8,162.0 425.0,152.7 425.1,158.4 425.3,160.7 425.5,161.0 425.7,159.2 425.9,158.6 426.1,163.7 426.3,161.4 426.4,166.2 426.6,161.3 426.8,158.1 427.0,160.9 427.2,164.7 427.4,159.2 427.5,159.0 427.7,159.5 427.9,159.3 428.1,160.7 428.3,158.6 428.5,164.1 428.7,156.3 428.8,163.0 429.0,159.4 429.2,157.6 429.4,158.8 429.6,162.9 429.8,165.2 430.0,167.2 430.1,161.4 430.3,147.1 430.5,161.4 430.7,166.7 430.9,153.0 431.1,163.5 431.2,157.4 431.4,159.9 431.6,162.6 431.8,164.5 432.0,159.8 432.2,167.2 432.4,163.3 432.5,158.1 432.7,162.7 432.9,122.6 433.1,133.0 433.3,133.2 433.5,138.4 433.7,135.9 433.8,132.2 434.0,139.0 434.2,127.2 434.4,126.8 434.6,139.9 434.8,125.5 435.0,133.2 435.1,137.8 435.3,136.6 435.5,133.5 435.7,135.8 435.9,137.3 436.1,142.0 436.2,134.8 436.4,128.2 436.6,132.9 436.8,140.8 437.0,132.5 437.2,133.4 437.4,124.7 437.5,127.3 437.7,133.7 437.9,137.8 438.1,146.7 438.3,132.3 438.5,133.1 438.7,136.4 438.8,131.9 439.0,133.2 439.2,137.4 439.4,130.5 439.6,134.3 439.8,125.1 439.9,133.7 440.1,133.6 440.3,129.0 440.5,125.3 440.7,141.9 440.9,132.4 441.1,137.3 441.2,127.1 441.4,160.9 441.6,169.1 441.8,160.8 442.0,160.0 442.2,161.3 442.4,157.5 442.5,156.6 442.7,161.3 442.9,163.7 443.1,159.9 443.3,156.6 443.5,161.6 443.7,157.9 443.8,164.3 444.0,158.1 444.2,162.2 444.4,158.8 444.6,165.3 444.8,134.1 444.9,141.3 445.1,131.5 445.3,129.3 445.5,133.0 445.7,133.4 445.9,135.3 446.1,133.7 446.2,137.7 446.4,131.2 446.6,130.8 446.8,137.5 447.0,132.3 447.2,138.4 447.4,124.1 447.5,129.8 447.7,135.0 447.9,139.1 448.1,145.2 448.3,135.4 448.5,138.8 448.7,133.8 448.8,130.4 449.0,140.5 449.2,132.6 449.4,134.5 449.6,136.0 449.8,140.5 449.9,130.3 450.1,131.9 450.3,132.0 450.5,125.0 450.7,135.0 450.9,131.8 451.1,130.1 451.2,124.6 451.4,124.1 451.6,129.5 451.8,137.4 452.0,131.7 452.2,148.6 452.4,125.8 452.5,132.9 452.7,133.8 452.9,140.3 453.1,133.5 453.3,132.0 453.5,160.1 453.6,165.3 453.8,165.8 454.0,163.0 454.2,163.0 454.4,163.5 454.6,160.8 454.8,163.8 454.9,172.8 455.1,158.9 455.3,171.2 455.5,159.2 455.7,127.6 455.9,133.0 456.1,136.0 456.2,131.1 456.4,133.5 456.6,135.1 456.8,139.0 457.0,129.6 457.2,138.8 457.4,134.1 457.5,127.3 457.7,143.6 457.9,139.6 458.1,128.2 458.3,127.4 458.5,140.4 458.6,132.5 458.8,139.1 459.0,129.0 459.2,136.5 459.4,160.1 459.6,160.8 459.8,159.9 459.9,157.9 460.1,157.4 460.3,166.4 460.5,161.2 460.7,158.4 460.9,168.0 461.1,161.2 461.2,161.9 461.4,158.5 461.6,156.1 461.8,155.5 462.0,162.3 462.2,165.2 462.3,161.8 462.5,164.5 462.7,157.9 462.9,163.7 463.1,158.2 463.3,159.7 463.5,159.6 463.6,158.5 463.8,159.3 464.0,168.2 464.2,162.2 464.4,155.5 464.6,163.5 464.8,157.0 464.9,163.4 465.1,161.6 465.3,164.0 465.5,161.9 465.7,162.1 465.9,156.7 466.1,164.4 466.2,164.4 466.4,159.6 466.6,159.6 466.8,158.8 467.0,162.5 467.2,153.8 467.3,159.2 467.5,159.2 467.7,162.7 467.9,159.1 468.1,161.5 468.3,156.6 468.5,160.5 468.6,159.4 468.8,157.7 469.0,164.4 469.2,162.8 469.4,162.4 469.6,148.1 469.8,157.3 469.9,158.1 470.1,158.6 470.3,162.4 470.5,162.0 470.7,168.7 470.9,158.1 471.0,163.9 471.2,158.2 471.4,161.9 471.6,162.9 471.8,156.6 472.0,159.0 472.2,158.6 472.3,156.2 472.5,163.0 472.7,160.7 472.9,162.6 473.1,162.7 473.3,174.4 473.5,160.1 473.6,161.2 473.8,160.8 474.0,149.9 474.2,163.7 474.4,162.4 474.6,164.3 474.8,161.7 474.9,156.5 475.1,161.8 475.3,159.6 475.5,161.4 475.7,162.1 475.9,166.2 476.0,163.2 476.2,163.0 476.4,156.1 476.6,159.4 476.8,158.5 477.0,157.8 477.2,153.9 477.3,161.8 477.5,154.5 477.7,158.5 477.9,167.3 478.1,159.0 478.3,159.1 478.5,159.9 478.6,165.8 478.8,153.8 479.0,159.4 479.2,162.1 479.4,159.8 479.6,157.9 479.7,160.9 479.9,161.3 480.1,158.8 480.3,156.8 480.5,160.8 480.7,164.6 480.9,156.0 481.0,161.4 481.2,161.7 481.4,163.1 481.6,158.7 481.8,164.9 482.0,159.5 482.2,159.3 482.3,157.1 482.5,165.0 482.7,164.0 482.9,156.2 483.1,163.0 483.3,160.7 483.5,160.5 483.6,167.8 483.8,149.9 484.0,135.4 484.2,133.0 484.4,137.3 484.6,130.3 484.7,125.6 484.9,128.2 485.1,132.7 485.3,135.4 485.5,136.2 485.7,150.6 485.9,131.3 486.0,126.9 486.2,139.8 486.4,118.0 486.6,130.9 486.8,169.2 487.0,163.0 487.2,158.3 487.3,159.5 487.5,163.4 487.7,169.2 487.9,157.4 488.1,164.3 488.3,159.0 488.4,158.7 488.6,157.9 488.8,158.4 489.0,166.5 489.2,162.2 489.4,161.4 489.6,160.7 489.7,156.8 489.9,159.3 490.1,171.5 490.3,156.0 490.5,167.5 490.7,164.8 490.9,158.9 491.0,161.0 491.2,157.9 491.4,155.5 491.6,160.0 491.8,162.5 492.0,158.6 492.2,164.5 492.3,164.0 492.5,159.1 492.7,161.5 492.9,161.6 493.1,160.9 493.3,159.3 493.4,159.5 493.6,166.9 493.8,158.6 494.0,159.6 494.2,155.6 494.4,160.0 494.6,155.2 494.7,175.3 494.9,160.3 495.1,161.1 495.3,160.4 495.5,160.5 495.7,158.6 495.9,148.2 496.0,159.2 496.2,161.1 496.4,158.2 496.6,170.7 496.8,164.6 497.0,160.6 497.1,157.6 497.3,157.0 497.5,156.2 497.7,153.3 497.9,157.6 498.1,162.2 498.3,160.7 498.4,163.7 498.6,163.6 498.8,161.7 499.0,168.9 499.2,161.8 499.4,156.5 499.6,159.0 499.7,163.1 499.9,166.0 500.1,160.2 500.3,157.9 500.5,152.6 500.7,156.6 500.9,163.4 501.0,161.2 501.2,159.6 501.4,161.8 501.6,161.9 501.8,162.0 502.0,159.5 502.1,158.4 502.3,171.2 502.5,159.2 502.7,152.6 502.9,163.4 503.1,159.4 503.3,140.5 503.4,164.1 503.6,156.8 503.8,160.5 504.0,168.5 504.2,156.9 504.4,164.6 504.6,154.5 504.7,162.5 504.9,158.9 505.1,158.9 505.3,157.8 505.5,155.9 505.7,159.7 505.8,161.1 506.0,166.0 506.2,158.4 506.4,161.4 506.6,161.0 506.8,165.4 507.0,164.6 507.1,155.1 507.3,163.7 507.5,151.9 507.7,164.4 507.9,158.6 508.1,167.6 508.3,160.1 508.4,165.8 508.6,160.6 508.8,165.6 509.0,165.5 509.2,165.1 509.4,163.7 509.6,165.4 509.7,162.1 509.9,158.2 510.1,150.3 510.3,151.7 510.5,162.8 510.7,159.2 510.8,164.5 511.0,160.8 511.2,163.6 511.4,172.7 511.6,164.0 511.8,161.3 512.0,157.3 512.1,155.6 512.3,157.1 512.5,160.8 512.7,166.6 512.9,157.3 513.1,157.3 513.3,162.7 513.4,161.5 513.6,148.8 513.8,155.5 514.0,161.3 514.2,153.9 514.4,170.3 514.5,160.0 514.7,161.7 514.9,157.6 515.1,159.9 515.3,162.4 515.5,162.6 515.7,155.3 515.8,167.2 516.0,153.3 516.2,177.5 516.4,167.2 516.6,166.1 516.8,159.9 517.0,159.3 517.1,158.6 517.3,155.2 517.5,159.4 517.7,160.4 517.9,163.2 518.1,167.9 518.3,165.4 518.4,162.5 518.6,160.6 518.8,174.2 519.0,162.0 519.2,161.7 519.4,166.6 519.5,160.3 519.7,159.2 519.9,161.9 520.1,161.2 520.3,153.3 520.5,157.2 520.7,165.2 520.8,152.2 521.0,163.2 521.2,163.7 521.4,177.5 521.6,156.5 521.8,159.1 522.0,156.1 522.1,163.6 522.3,164.4 522.5,156.4 522.7,160.3 522.9,158.8 523.1,155.8 523.2,161.2 523.4,158.5 523.6,160.3 523.8,159.8 524.0,158.6 524.2,163.7 524.4,170.8 524.5,161.3 524.7,166.6 524.9,156.8 525.1,163.4 525.3,153.4 525.5,154.4 525.7,164.6 525.8,163.4 526.0,165.4 526.2,150.4 526.4,159.1 526.6,157.3 526.8,162.4 527.0,166.3 527.1,163.6 527.3,157.2 527.5,164.0 527.7,157.7 527.9,160.6 528.1,156.8 528.2,164.9 528.4,161.1 528.6,156.5 528.8,162.6 529.0,165.7 529.2,163.0 529.4,160.0 529.5,161.2 529.7,161.7 529.9,153.0 530.1,159.2 530.3,156.8 530.5,161.8 530.7,163.5 530.8,163.2 531.0,159.2 531.2,161.4 531.4,167.5 531.6,160.1 531.8,161.3 531.9,157.1 532.1,163.6 532.3,156.9 532.5,169.3 532.7,153.6 532.9,161.1 533.1,162.8 533.2,158.9 533.4,164.4 533.6,163.6 533.8,160.5 534.0,157.8 534.2,164.5 534.4,160.9 534.5,155.6 534.7,165.4 534.9,160.6 535.1,154.1 535.3,158.8 535.5,160.4 535.7,156.1 535.8,161.9 536.0,162.6 536.2,152.0 536.4,156.6 536.6,159.3 536.8,165.3 536.9,159.1 537.1,157.4 537.3,159.8 537.5,162.8 537.7,151.6 537.9,162.7 538.1,161.5 538.2,154.1 538.4,157.7 538.6,161.6 538.8,160.2 539.0,162.8 539.2,160.7 539.4,162.2 539.5,162.0 539.7,157.7 539.9,159.2 540.1,164.9 540.3,160.5 540.5,158.9 540.6,159.7 540.8,165.8 541.0,163.6 541.2,157.0 541.4,161.7 541.6,160.8 541.8,158.1 541.9,158.3 542.1,158.2 542.3,159.6 542.5,165.7 542.7,161.8 542.9,160.9 543.1,148.6 543.2,162.6 543.4,162.5 543.6,156.5 543.8,159.5 544.0,162.6 544.2,156.5 544.4,156.7 544.5,155.7 544.7,159.5 544.9,164.1 545.1,149.8 545.3,161.4 545.5,160.5 545.6,165.2 545.8,164.5 546.0,165.6 546.2,160.2 546.4,160.3 546.6,160.3 546.8,157.0 546.9,161.3 547.1,163.3 547.3,148.8 547.5,165.8 547.7,164.0 547.9,160.2 548.1,159.8 548.2,154.2 548.4,162.2 548.6,158.4 548.8,164.8 549.0,165.0 549.2,165.5 549.3,159.8 549.5,158.2 549.7,159.8 549.9,163.5 550.1,159.0 550.3,161.0 550.5,160.9 550.6,164.1 550.8,159.8 551.0,158.7 551.2,165.6 551.4,162.5 551.6,163.4 551.8,157.1 551.9,161.0 552.1,161.6 552.3,159.2 552.5,159.5 552.7,162.6 552.9,158.5 553.1,162.9 553.2,160.1 553.4,158.8 553.6,161.5 553.8,168.9 554.0,162.3 554.2,155.7 554.3,163.1 554.5,162.0 554.7,160.9 554.9,159.6 555.1,165.7 555.3,157.1 555.5,160.3 555.6,160.8 555.8,159.7 556.0,162.6 556.2,162.3 556.4,161.2 556.6,160.8 556.8,165.5 556.9,164.7 557.1,159.9 557.3,163.2 557.5,175.2 557.7,157.4 557.9,165.8 558.0,162.1 558.2,159.2 558.4,167.2 558.6,167.1 558.8,165.6 559.0,159.3 559.2,163.6 559.3,164.7 559.5,161.2 559.7,163.7 559.9,164.9 560.1,159.5 560.3,160.0 560.5,157.7 560.6,159.8 560.8,159.9 561.0,160.4 561.2,158.5 561.4,155.5 561.6,158.6 561.8,166.5 561.9,164.8 562.1,159.3 562.3,158.2 562.5,154.8 562.7,165.3 562.9,160.7 563.0,160.1 563.2,158.8 563.4,158.9 563.6,162.0 563.8,158.4 564.0,168.5 564.2,167.9 564.3,162.2 564.5,162.7 564.7,165.1 564.9,155.2 565.1,165.3 565.3,154.5 565.5,163.3 565.6,157.9 565.8,158.0 566.0,161.3 566.2,159.9 566.4,156.9 566.6,157.4 566.7,158.0 566.9,159.1 567.1,174.9 567.3,163.5 567.5,164.0 567.7,159.3 567.9,161.8 568.0,158.0 568.2,167.2 568.4,153.1 568.6,161.2 568.8,161.2 569.0,159.9 569.2,162.4 569.3,161.3 569.5,164.5 569.7,161.7 569.9,159.5 570.1,159.1 570.3,157.4 570.5,157.4 570.6,162.0 570.8,164.7 571.0,166.1 571.2,162.6 571.4,164.2 571.6,158.6 571.7,161.4 571.9,167.2 572.1,160.0 572.3,155.0 572.5,161.8 572.7,163.8 572.9,163.5 573.0,169.7 573.2,166.2 573.4,164.4 573.6,155.1 573.8,162.0 574.0,162.6 574.2,162.5 574.3,159.7 574.5,158.9 574.7,164.5 574.9,163.3 575.1,164.4 575.3,166.5 575.4,168.7 575.6,163.8 575.8,164.4 576.0,163.7 576.2,161.5 576.4,157.0 576.6,160.2 576.7,157.9 576.9,162.2 577.1,129.2 577.3,147.5 577.5,133.3 577.7,131.2 577.9,134.8 578.0,130.4 578.2,123.4 578.4,134.5 578.6,128.4 578.8,130.0 579.0,130.5 579.2,135.2 579.3,134.5 579.5,139.2 579.7,130.9 579.9,139.7 580.1,137.9 580.3,137.6 580.4,132.4 580.6,127.7 580.8,117.9 581.0,134.4 581.2,142.3 581.4,130.6 581.6,145.5 581.7,140.1 581.9,132.7 582.1,162.7 582.3,159.7 582.5,161.3 582.7,168.2 582.9,161.2 583.0,168.8 583.2,171.1 583.4,168.2 583.6,159.7 583.8,158.4 584.0,140.6 584.1,134.0 584.3,119.7 584.5,134.5 584.7,130.9 584.9,138.2 585.1,135.3 585.3,128.8 585.4,132.5 585.6,161.9 585.8,164.6 586.0,164.4 586.2,165.8 586.4,158.4 586.6,164.4 586.7,161.1 586.9,168.4 587.1,160.7 587.3,161.4 587.5,165.6 587.7,168.2 587.9,163.2 588.0,156.0 588.2,160.5 588.4,152.9 588.6,165.8 588.8,162.4 589.0,159.8 589.1,161.0 589.3,157.3 589.5,166.3 589.7,155.2 589.9,161.3 590.1,164.5 590.3,159.9 590.4,164.5 590.6,164.4 590.8,159.4 591.0,164.3 591.2,159.7 591.4,157.8 591.6,164.8 591.7,158.8 591.9,156.6 592.1,166.3 592.3,157.5 592.5,161.2 592.7,159.4 592.8,163.3 593.0,174.0 593.2,163.4 593.4,159.7 593.6,166.1 593.8,159.8 594.0,160.2 594.1,161.0 594.3,147.1 594.5,168.2 594.7,160.7 594.9,167.3 595.1,158.6 595.3,162.3 595.4,158.6 595.6,159.4 595.8,162.1 596.0,168.3 596.2,161.3 596.4,156.9 596.6,158.9 596.7,133.0 596.9,138.0 597.1,133.2 597.3,140.1 597.5,135.8 597.7,140.5 597.8,129.9 598.0,146.2 598.2,143.2 598.4,165.5 598.6,161.3 598.8,157.2 599.0,159.7 599.1,168.9 599.3,160.9 599.5,159.2 599.7,164.6 599.9,158.7 600.1,168.9 600.3,128.1 600.4,130.3 600.6,134.4 600.8,123.2 601.0,152.1 601.2,130.0 601.4,124.2 601.6,133.3 601.7,133.0 601.9,126.0 602.1,144.5 602.3,136.6 602.5,124.9 602.7,132.0 602.8,140.2 603.0,127.3 603.2,128.9 603.4,130.7 603.6,136.0 603.8,133.2 604.0,131.2 604.1,137.0 604.3,129.4 604.5,135.0 604.7,132.3 604.9,130.4 605.1,131.7 605.3,128.5 605.4,143.6 605.6,146.2 605.8,125.2 606.0,133.0 606.2,129.3 606.4,135.0 606.5,136.0 606.7,126.4 606.9,130.3 607.1,128.8 607.3,128.4 607.5,131.3 607.7,135.8 607.8,140.9 608.0,131.4 608.2,133.4 608.4,129.6 608.6,125.0 608.8,135.2 609.0,131.8 609.1,133.6 609.3,136.4 609.5,133.8 609.7,127.8 609.9,135.8 610.1,132.4 610.3,134.0 610.4,122.1 610.6,129.8 610.8,137.5 611.0,125.6 611.2,124.3 611.4,123.9 611.5,148.9 611.7,130.8 611.9,134.6 612.1,124.6 612.3,141.3 612.5,127.1 612.7,139.1 612.8,133.2 613.0,123.9 613.2,134.4 613.4,129.4 613.6,141.4 613.8,148.9 614.0,140.5 614.1,139.7 614.3,128.7 614.5,130.3 614.7,131.9 614.9,136.8 615.1,139.7 615.2,140.4 615.4,129.8 615.6,133.0 615.8,131.2 616.0,129.0 616.2,129.2 616.4,124.8 616.5,130.2 616.7,126.5 616.9,124.8 617.1,137.0 617.3,136.4 617.5,133.2 617.7,130.4 617.8,132.6 618.0,132.9 618.2,130.2 618.4,137.6 618.6,129.6 618.8,124.3 619.0,133.6 619.1,117.0 619.3,131.4 619.5,131.9 619.7,131.2 619.9,128.4 620.1,123.8 620.2,129.4 620.4,131.3 620.6,135.7 620.8,127.7 621.0,126.4 621.2,124.3 621.4,133.4 621.5,139.4 621.7,124.0 621.9,120.1 622.1,130.3 622.3,137.1 622.5,125.4 622.7,133.2 622.8,129.6 623.0,133.7 623.2,130.0 623.4,130.2 623.6,131.9 623.8,135.7 623.9,131.0 624.1,128.8 624.3,129.0 624.5,129.4 624.7,132.3 624.9,133.9 625.1,132.9 625.2,135.5 625.4,129.8 625.6,138.8 625.8,131.4 626.0,122.5 626.2,135.5 626.4,131.9 626.5,131.7 626.7,132.0 626.9,124.8 627.1,141.1 627.3,134.2 627.5,137.2 627.7,131.7 627.8,142.3 628.0,133.7 628.2,133.3 628.4,132.0 628.6,128.8 628.8,137.9 628.9,150.4 629.1,130.4 629.3,140.9 629.5,130.7 629.7,131.8 629.9,130.0 630.1,133.3 630.2,137.7 630.4,125.9 630.6,134.9 630.8,132.5 631.0,135.4 631.2,137.7 631.4,133.3 631.5,141.2 631.7,133.4 631.9,130.6 632.1,127.4 632.3,133.6 632.5,133.6 632.6,131.8 632.8,129.0 633.0,132.1 633.2,130.5 633.4,128.0 633.6,130.5 633.8,136.9 633.9,136.0 634.1,136.7 634.3,150.2 634.5,140.9 634.7,125.3 634.9,128.7 635.1,135.4 635.2,132.9 635.4,129.3 635.6,128.1 635.8,123.6 636.0,132.5 636.2,132.9 636.4,138.9 636.5,136.1 636.7,137.9 636.9,122.6 637.1,131.8 637.3,127.4 637.5,131.5 637.6,126.2 637.8,136.0 638.0,135.0 638.2,132.9 638.4,137.1 638.6,138.8 638.8,136.7 638.9,132.7 639.1,138.0 639.3,118.8 639.5,128.7 639.7,123.1 639.9,134.6 640.1,135.3 640.2,127.6 640.4,126.0 640.6,133.1 640.8,131.6 641.0,134.0 641.2,130.2 641.3,137.0 641.5,134.7 641.7,126.5 641.9,129.5 642.1,130.7 642.3,126.0 642.5,134.7 642.6,125.3 642.8,160.6 643.0,163.9 643.2,160.8 643.4,160.3 643.6,158.1 643.8,159.0 643.9,158.8 644.1,161.2 644.3,157.7 644.5,164.7 644.7,157.1 644.9,162.5 645.1,160.8 645.2,161.3 645.4,164.0 645.6,160.1 645.8,161.5 646.0,156.9 646.2,157.2 646.3,161.1 646.5,156.5 646.7,146.3 646.9,157.9 647.1,163.3 647.3,156.2 647.5,165.3 647.6,156.1 647.8,160.0 648.0,162.0 648.2,157.0 648.4,168.9 648.6,163.4 648.8,160.3 648.9,160.7 649.1,159.8 649.3,156.4 649.5,163.4 649.7,159.1 649.9,162.3 650.0,163.2 650.2,168.8 650.4,160.5 650.6,157.2 650.8,159.6 651.0,162.5 651.2,163.4 651.3,163.3 651.5,161.2 651.7,160.5 651.9,162.6 652.1,157.5 652.3,158.2 652.5,156.4 652.6,156.5 652.8,155.2 653.0,159.7 653.2,162.9 653.4,152.5 653.6,162.4 653.8,160.3 653.9,166.8 654.1,163.8 654.3,159.1 654.5,161.9 654.7,156.0 654.9,172.6 655.0,151.9 655.2,160.3 655.4,160.1 655.6,156.5 655.8,166.6 656.0,157.9 656.2,162.9 656.3,161.2 656.5,159.1 656.7,162.9 656.9,158.1 657.1,158.8 657.3,148.1 657.5,157.0 657.6,157.5 657.8,159.4 658.0,164.8 658.2,158.6 658.4,160.9 658.6,159.7 658.7,148.5 658.9,161.8 659.1,160.0 659.3,162.0 659.5,156.0 659.7,166.5 659.9,157.9 660.0,160.7 660.2,161.8 660.4,162.9 660.6,147.9 660.8,158.9 661.0,163.2 661.2,160.6 661.3,160.9 661.5,158.3 661.7,166.6 661.9,164.2 662.1,161.9 662.3,151.1 662.5,158.2 662.6,161.3 662.8,155.1 663.0,160.7 663.2,159.8 663.4,159.3 663.6,159.4 663.7,161.9 663.9,128.5 664.1,132.8 664.3,139.3 664.5,132.8 664.7,136.5 664.9,145.7 665.0,136.7 665.2,127.7 665.4,131.7 665.6,126.0 665.8,142.9 666.0,135.7 666.2,129.7 666.3,141.1 666.5,125.1 666.7,140.3 666.9,138.0 667.1,130.3 667.3,137.1 667.4,137.6 667.6,134.0 667.8,138.2 668.0,121.1 668.2,134.0 668.4,128.3 668.6,129.7 668.7,135.7 668.9,133.4 669.1,129.2 669.3,140.5 669.5,133.0 669.7,138.2 669.9,127.4 670.0,130.9 670.2,127.8 670.4,127.2 670.6,169.0 670.8,159.7 671.0,159.7 671.2,157.6 671.3,157.2 671.5,161.5 671.7,169.6 671.9,163.6 672.1,131.5 672.3,130.9 672.4,126.7 672.6,142.9 672.8,131.3 673.0,137.0 673.2,129.4 673.4,132.0 673.6,141.1 673.7,129.0 673.9,130.1 674.1,136.5 674.3,133.9 674.5,129.1 674.7,163.8 674.9,161.8 675.0,156.7 675.2,155.7 675.4,165.1 675.6,163.2 675.8,162.7 676.0,164.5 676.1,158.1 676.3,160.3 676.5,159.8 676.7,163.5 676.9,156.5 677.1,160.3 677.3,157.9 677.4,161.1 677.6,156.7 677.8,163.7 678.0,160.4" fill="none" stroke="#3f79ad" stroke-width="0.8" stroke-linejoin="round" />
<path d="M363.5,161.0 H405.9 V137.7 H407.4 V161.0 H432.9 V132.6 H441.3 V161.0 H444.6 V132.6 H453.4 V161.0 H455.5 V131.7 H459.3 V161.0 H483.8 V132.6 H486.6 V161.0 H577.1 V132.6 H582.1 V161.0 H583.8 V132.6 H585.5 V161.0 H596.6 V132.6 H598.3 V161.0 H600.2 V132.2 H642.8 V161.0 H663.8 V132.6 H670.5 V161.0 H672.0 V132.6 H674.6 V161.0 H678.0" fill="none" stroke="#e83535" stroke-width="1.1" opacity="0.9"/>
<rect x="405.60" y="137.70" width="2.20" height="23.30" fill="#ff1a10" />
<line x1="406.70" y1="122.00" x2="406.70" y2="140.00" stroke="#3f79ad" stroke-width="0.9" />
<rect x="364.00" y="28.80" width="9.40" height="4.40" fill="#ec3b2d" />
<rect x="373.40" y="28.80" width="11.40" height="4.40" fill="#50ef2a" />
<rect x="384.80" y="28.80" width="11.80" height="4.40" fill="#ec3b2d" />
<rect x="396.60" y="28.80" width="15.40" height="4.40" fill="#50ef2a" />
<rect x="412.00" y="28.80" width="17.10" height="4.40" fill="#ec3b2d" />
<rect x="429.10" y="28.80" width="19.90" height="4.40" fill="#50ef2a" />
<rect x="449.00" y="28.80" width="22.60" height="4.40" fill="#ec3b2d" />
<rect x="471.60" y="28.80" width="47.10" height="4.40" fill="#50ef2a" />
<rect x="518.70" y="28.80" width="23.00" height="4.40" fill="#ec3b2d" />
<rect x="541.70" y="28.80" width="26.70" height="4.40" fill="#50ef2a" />
<rect x="568.40" y="28.80" width="22.60" height="4.40" fill="#ec3b2d" />
<rect x="591.00" y="28.80" width="31.00" height="4.40" fill="#50ef2a" />
<rect x="622.00" y="28.80" width="37.00" height="4.40" fill="#ec3b2d" />
<rect x="659.00" y="28.80" width="9.00" height="4.40" fill="#50ef2a" />
<rect x="668.00" y="28.80" width="8.00" height="4.40" fill="#ec3b2d" />
<rect x="364.00" y="116.70" width="40.80" height="4.40" fill="#ec3b2d" />
<rect x="404.80" y="116.70" width="4.20" height="4.40" fill="#50ef2a" />
<rect x="409.00" y="116.70" width="21.00" height="4.40" fill="#ec3b2d" />
<rect x="430.00" y="116.70" width="28.20" height="4.40" fill="#50ef2a" />
<rect x="458.20" y="116.70" width="116.60" height="4.40" fill="#ec3b2d" />
<rect x="574.80" y="116.70" width="66.40" height="4.40" fill="#50ef2a" />
<rect x="641.20" y="116.70" width="21.70" height="4.40" fill="#ec3b2d" />
<rect x="662.90" y="116.70" width="14.10" height="4.40" fill="#50ef2a" />
<rect x="363.5" y="23.5" width="314.5" height="63.7" fill="none" stroke="#222" stroke-width="1.2"/>
<rect x="363.5" y="110.8" width="314.5" height="61.2" fill="none" stroke="#222" stroke-width="1.2"/>
<line x1="394.95" y1="23.50" x2="394.95" y2="26.50" stroke="#222" stroke-width="1" />
<line x1="394.95" y1="87.20" x2="394.95" y2="84.20" stroke="#222" stroke-width="1" />
<line x1="394.95" y1="110.80" x2="394.95" y2="113.80" stroke="#222" stroke-width="1" />
<line x1="394.95" y1="172.00" x2="394.95" y2="169.00" stroke="#222" stroke-width="1" />
<line x1="426.40" y1="23.50" x2="426.40" y2="26.50" stroke="#222" stroke-width="1" />
<line x1="426.40" y1="87.20" x2="426.40" y2="84.20" stroke="#222" stroke-width="1" />
<line x1="426.40" y1="110.80" x2="426.40" y2="113.80" stroke="#222" stroke-width="1" />
<line x1="426.40" y1="172.00" x2="426.40" y2="169.00" stroke="#222" stroke-width="1" />
<line x1="457.85" y1="23.50" x2="457.85" y2="26.50" stroke="#222" stroke-width="1" />
<line x1="457.85" y1="87.20" x2="457.85" y2="84.20" stroke="#222" stroke-width="1" />
<line x1="457.85" y1="110.80" x2="457.85" y2="113.80" stroke="#222" stroke-width="1" />
<line x1="457.85" y1="172.00" x2="457.85" y2="169.00" stroke="#222" stroke-width="1" />
<line x1="489.30" y1="23.50" x2="489.30" y2="26.50" stroke="#222" stroke-width="1" />
<line x1="489.30" y1="87.20" x2="489.30" y2="84.20" stroke="#222" stroke-width="1" />
<line x1="489.30" y1="110.80" x2="489.30" y2="113.80" stroke="#222" stroke-width="1" />
<line x1="489.30" y1="172.00" x2="489.30" y2="169.00" stroke="#222" stroke-width="1" />
<line x1="520.75" y1="23.50" x2="520.75" y2="26.50" stroke="#222" stroke-width="1" />
<line x1="520.75" y1="87.20" x2="520.75" y2="84.20" stroke="#222" stroke-width="1" />
<line x1="520.75" y1="110.80" x2="520.75" y2="113.80" stroke="#222" stroke-width="1" />
<line x1="520.75" y1="172.00" x2="520.75" y2="169.00" stroke="#222" stroke-width="1" />
<line x1="552.20" y1="23.50" x2="552.20" y2="26.50" stroke="#222" stroke-width="1" />
<line x1="552.20" y1="87.20" x2="552.20" y2="84.20" stroke="#222" stroke-width="1" />
<line x1="552.20" y1="110.80" x2="552.20" y2="113.80" stroke="#222" stroke-width="1" />
<line x1="552.20" y1="172.00" x2="552.20" y2="169.00" stroke="#222" stroke-width="1" />
<line x1="583.65" y1="23.50" x2="583.65" y2="26.50" stroke="#222" stroke-width="1" />
<line x1="583.65" y1="87.20" x2="583.65" y2="84.20" stroke="#222" stroke-width="1" />
<line x1="583.65" y1="110.80" x2="583.65" y2="113.80" stroke="#222" stroke-width="1" />
<line x1="583.65" y1="172.00" x2="583.65" y2="169.00" stroke="#222" stroke-width="1" />
<line x1="615.10" y1="23.50" x2="615.10" y2="26.50" stroke="#222" stroke-width="1" />
<line x1="615.10" y1="87.20" x2="615.10" y2="84.20" stroke="#222" stroke-width="1" />
<line x1="615.10" y1="110.80" x2="615.10" y2="113.80" stroke="#222" stroke-width="1" />
<line x1="615.10" y1="172.00" x2="615.10" y2="169.00" stroke="#222" stroke-width="1" />
<line x1="646.55" y1="23.50" x2="646.55" y2="26.50" stroke="#222" stroke-width="1" />
<line x1="646.55" y1="87.20" x2="646.55" y2="84.20" stroke="#222" stroke-width="1" />
<line x1="646.55" y1="110.80" x2="646.55" y2="113.80" stroke="#222" stroke-width="1" />
<line x1="646.55" y1="172.00" x2="646.55" y2="169.00" stroke="#222" stroke-width="1" />
<line x1="363.50" y1="78.00" x2="366.50" y2="78.00" stroke="#222" stroke-width="1" />
<line x1="678.00" y1="78.00" x2="675.00" y2="78.00" stroke="#222" stroke-width="1" />
<line x1="363.50" y1="161.00" x2="366.50" y2="161.00" stroke="#222" stroke-width="1" />
<line x1="678.00" y1="161.00" x2="675.00" y2="161.00" stroke="#222" stroke-width="1" />
<line x1="363.50" y1="59.15" x2="366.50" y2="59.15" stroke="#222" stroke-width="1" />
<line x1="678.00" y1="59.15" x2="675.00" y2="59.15" stroke="#222" stroke-width="1" />
<line x1="363.50" y1="144.70" x2="366.50" y2="144.70" stroke="#222" stroke-width="1" />
<line x1="678.00" y1="144.70" x2="675.00" y2="144.70" stroke="#222" stroke-width="1" />
<line x1="363.50" y1="40.30" x2="366.50" y2="40.30" stroke="#222" stroke-width="1" />
<line x1="678.00" y1="40.30" x2="675.00" y2="40.30" stroke="#222" stroke-width="1" />
<line x1="363.50" y1="128.40" x2="366.50" y2="128.40" stroke="#222" stroke-width="1" />
<line x1="678.00" y1="128.40" x2="675.00" y2="128.40" stroke="#222" stroke-width="1" />
<text x="361.5" y="43.9" font-size="10" fill="#222" stroke="#222" stroke-width="0.15" text-anchor="end" >2000</text>
<text x="361.5" y="81.6" font-size="10" fill="#222" stroke="#222" stroke-width="0.15" text-anchor="end" >0</text>
<text x="361.5" y="132.0" font-size="10" fill="#222" stroke="#222" stroke-width="0.15" text-anchor="end" >2000</text>
<text x="361.5" y="164.6" font-size="10" fill="#222" stroke="#222" stroke-width="0.15" text-anchor="end" >0</text>
<text x="364.3" y="185.5" font-size="10.4" fill="#222" stroke="#222" stroke-width="0.15" text-anchor="middle" >0</text>
<text x="427.2" y="185.5" font-size="10.4" fill="#222" stroke="#222" stroke-width="0.15" text-anchor="middle" >40</text>
<text x="490.1" y="185.5" font-size="10.4" fill="#222" stroke="#222" stroke-width="0.15" text-anchor="middle" >80</text>
<text x="555.6" y="185.5" font-size="10.4" fill="#222" stroke="#222" stroke-width="0.15" text-anchor="middle" >120</text>
<text x="615.9" y="185.5" font-size="10.4" fill="#222" stroke="#222" stroke-width="0.15" text-anchor="middle" >160</text>
<text x="678.8" y="185.5" font-size="10.4" fill="#222" stroke="#222" stroke-width="0.15" text-anchor="middle" >200</text>
<text x="501.0" y="197.3" font-size="13.8" fill="#222" stroke="#222" stroke-width="0.15" textLength="49" lengthAdjust="spacingAndGlyphs" >Time (s)</text>
<text x="334.0" y="147.7" font-size="13" fill="#222" stroke="#222" stroke-width="0.15" transform="rotate(-90 334.0 147.7)" textLength="111.4" lengthAdjust="spacingAndGlyphs" >Fluorescence (a.u)</text>
<text transform="translate(0.36 212.80) scale(0.946 1)" x="0" y="0" font-size="18.3" font-weight="bold" fill="#000">D</text>
<line x1="32.00" y1="220.60" x2="32.00" y2="320.00" stroke="#444" stroke-width="1" />
<line x1="158.40" y1="220.60" x2="158.40" y2="320.00" stroke="#444" stroke-width="1" />
<line x1="29.50" y1="320.00" x2="32.00" y2="320.00" stroke="#555" stroke-width="1" />
<line x1="158.40" y1="320.00" x2="161.00" y2="320.00" stroke="#444" stroke-width="1" />
<line x1="29.50" y1="300.06" x2="32.00" y2="300.06" stroke="#555" stroke-width="1" />
<line x1="158.40" y1="300.06" x2="161.00" y2="300.06" stroke="#444" stroke-width="1" />
<line x1="29.50" y1="280.12" x2="32.00" y2="280.12" stroke="#555" stroke-width="1" />
<line x1="158.40" y1="280.12" x2="161.00" y2="280.12" stroke="#444" stroke-width="1" />
<line x1="29.50" y1="260.18" x2="32.00" y2="260.18" stroke="#555" stroke-width="1" />
<line x1="158.40" y1="260.18" x2="161.00" y2="260.18" stroke="#444" stroke-width="1" />
<line x1="29.50" y1="240.24" x2="32.00" y2="240.24" stroke="#555" stroke-width="1" />
<line x1="158.40" y1="240.24" x2="161.00" y2="240.24" stroke="#444" stroke-width="1" />
<line x1="29.50" y1="220.30" x2="32.00" y2="220.30" stroke="#555" stroke-width="1" />
<line x1="158.40" y1="220.30" x2="161.00" y2="220.30" stroke="#444" stroke-width="1" />
<line x1="158.40" y1="220.60" x2="161.00" y2="220.60" stroke="#444" stroke-width="1" />
<text x="29.0" y="323.8" font-size="11" fill="#222" stroke="#222" stroke-width="0.15" text-anchor="end" >0.0</text>
<text x="29.0" y="283.9" font-size="11" fill="#222" stroke="#222" stroke-width="0.15" text-anchor="end" >0.4</text>
<text x="29.0" y="244.0" font-size="11" fill="#222" stroke="#222" stroke-width="0.15" text-anchor="end" >0.8</text>
<rect x="34.00" y="249.21" width="15.00" height="70.79" fill="#f07f22" />
<rect x="53.30" y="279.12" width="15.70" height="40.88" fill="#f07f22" />
<rect x="73.20" y="295.07" width="15.40" height="24.93" fill="#f07f22" />
<rect x="101.60" y="291.09" width="15.80" height="28.91" fill="#3a7bb8" />
<rect x="121.20" y="262.17" width="15.80" height="57.83" fill="#3a7bb8" />
<rect x="141.20" y="245.22" width="15.40" height="74.78" fill="#3a7bb8" />
<line x1="41.50" y1="244.23" x2="41.50" y2="252.20" stroke="#222" stroke-width="0.9" />
<line x1="39.70" y1="244.23" x2="43.30" y2="244.23" stroke="#222" stroke-width="0.9" />
<circle cx="41.40" cy="241.84" r="1.9" fill="#e9c35f" />
<circle cx="38.50" cy="252.40" r="1.9" fill="#e9c35f" />
<circle cx="41.80" cy="254.30" r="1.9" fill="#e9c35f" />
<line x1="61.15" y1="272.14" x2="61.15" y2="288.10" stroke="#222" stroke-width="0.9" />
<line x1="59.35" y1="272.14" x2="62.95" y2="272.14" stroke="#222" stroke-width="0.9" />
<circle cx="61.30" cy="272.14" r="1.9" fill="#e9c35f" />
<circle cx="61.30" cy="277.13" r="1.9" fill="#e9c35f" />
<circle cx="61.30" cy="288.10" r="1.9" fill="#e9c35f" />
<line x1="80.90" y1="290.09" x2="80.90" y2="300.06" stroke="#222" stroke-width="0.9" />
<line x1="79.10" y1="290.09" x2="82.70" y2="290.09" stroke="#222" stroke-width="0.9" />
<circle cx="80.90" cy="288.10" r="1.9" fill="#e9c35f" />
<circle cx="80.90" cy="296.07" r="1.9" fill="#e9c35f" />
<circle cx="80.90" cy="300.06" r="1.9" fill="#e9c35f" />
<line x1="109.50" y1="288.10" x2="109.50" y2="294.08" stroke="#222" stroke-width="0.9" />
<line x1="107.70" y1="288.10" x2="111.30" y2="288.10" stroke="#222" stroke-width="0.9" />
<circle cx="109.30" cy="286.10" r="1.9" fill="#e9c35f" />
<circle cx="105.90" cy="292.08" r="1.9" fill="#e9c35f" />
<circle cx="109.30" cy="294.08" r="1.9" fill="#e9c35f" />
<line x1="129.10" y1="255.19" x2="129.10" y2="271.15" stroke="#222" stroke-width="0.9" />
<line x1="127.30" y1="255.19" x2="130.90" y2="255.19" stroke="#222" stroke-width="0.9" />
<circle cx="129.00" cy="254.20" r="1.9" fill="#e9c35f" />
<circle cx="129.00" cy="261.18" r="1.9" fill="#e9c35f" />
<circle cx="129.00" cy="271.15" r="1.9" fill="#e9c35f" />
<line x1="148.90" y1="238.25" x2="148.90" y2="254.70" stroke="#222" stroke-width="0.9" />
<line x1="147.10" y1="238.25" x2="150.70" y2="238.25" stroke="#222" stroke-width="0.9" />
<circle cx="148.80" cy="238.25" r="1.9" fill="#e9c35f" />
<circle cx="148.80" cy="244.63" r="1.9" fill="#e9c35f" />
<circle cx="148.80" cy="254.70" r="1.9" fill="#e9c35f" />
<line x1="90.60" y1="317.80" x2="93.30" y2="323.50" stroke="#222" stroke-width="1.3" />
<line x1="98.20" y1="317.30" x2="100.70" y2="323.50" stroke="#222" stroke-width="1.3" />
<text x="29.7" y="337.5" font-size="10.5" fill="#222" stroke="#222" stroke-width="0.15" transform="rotate(-47 29.7 337.5)" >t8<tspan font-size="6.5" dy="0.8">NS</tspan></text>
<text x="48.1" y="338.0" font-size="10.5" fill="#222" stroke="#222" stroke-width="0.15" transform="rotate(-47 48.1 338.0)" >t9<tspan font-size="6.5" dy="0.8">NS</tspan></text>
<text x="66.5" y="340.6" font-size="10.5" fill="#222" stroke="#222" stroke-width="0.15" transform="rotate(-47 66.5 340.6)" >t10<tspan font-size="6.5" dy="0.8">NS</tspan></text>
<text x="97.7" y="337.5" font-size="10.5" fill="#222" stroke="#222" stroke-width="0.15" transform="rotate(-47 97.7 337.5)" >t8<tspan font-size="6.5" dy="0.8">NS</tspan></text>
<text x="116.1" y="338.0" font-size="10.5" fill="#222" stroke="#222" stroke-width="0.15" transform="rotate(-47 116.1 338.0)" >t9<tspan font-size="6.5" dy="0.8">NS</tspan></text>
<text x="134.5" y="340.6" font-size="10.5" fill="#222" stroke="#222" stroke-width="0.15" transform="rotate(-47 134.5 340.6)" >t10<tspan font-size="6.5" dy="0.8">NS</tspan></text>
<path d="M26,339.6 V343.3 H83.5 V339.6 M54.6,343.3 V346" fill="none" stroke="#333" stroke-width="0.9" />
<path d="M90.5,339.6 V343.3 H148.5 V339.6 M119.6,343.3 V346" fill="none" stroke="#333" stroke-width="0.9" />
<text x="10.5" y="356.0" font-size="11" fill="#f08a30" stroke="#f08a30" stroke-width="0.15" textLength="74" lengthAdjust="spacingAndGlyphs" >transient binding</text>
<text x="90.5" y="356.0" font-size="11" fill="#3d84c0" stroke="#3d84c0" stroke-width="0.15" textLength="76.5" lengthAdjust="spacingAndGlyphs" >long-lived binding</text>
<text x="12.5" y="335.3" font-size="13.5" fill="#222" stroke="#222" stroke-width="0.15" transform="rotate(-90 12.5 335.3)" textLength="115" lengthAdjust="spacingAndGlyphs" >Relative population</text>
<text transform="translate(165.85 217.10) scale(0.874 1)" x="0" y="0" font-size="18.3" font-weight="bold" fill="#000">E</text>
<text x="209.3" y="219.5" font-size="12.5" fill="#f08a30" stroke="#f08a30" stroke-width="0.15" textLength="101.7" lengthAdjust="spacingAndGlyphs" >transient binding</text>
<line x1="201.50" y1="233.00" x2="201.50" y2="320.50" stroke="#555" stroke-width="1" />
<line x1="199.00" y1="320.30" x2="201.50" y2="320.30" stroke="#555" stroke-width="1" />
<line x1="199.00" y1="307.78" x2="201.50" y2="307.78" stroke="#555" stroke-width="1" />
<line x1="199.00" y1="295.26" x2="201.50" y2="295.26" stroke="#555" stroke-width="1" />
<line x1="199.00" y1="282.74" x2="201.50" y2="282.74" stroke="#555" stroke-width="1" />
<line x1="199.00" y1="270.22" x2="201.50" y2="270.22" stroke="#555" stroke-width="1" />
<line x1="199.00" y1="257.70" x2="201.50" y2="257.70" stroke="#555" stroke-width="1" />
<line x1="199.00" y1="245.18" x2="201.50" y2="245.18" stroke="#555" stroke-width="1" />
<line x1="199.00" y1="232.66" x2="201.50" y2="232.66" stroke="#555" stroke-width="1" />
<text x="199.0" y="324.1" font-size="11" fill="#222" stroke="#222" stroke-width="0.15" text-anchor="end" >0.0</text>
<text x="199.0" y="299.1" font-size="11" fill="#222" stroke="#222" stroke-width="0.15" text-anchor="end" >0.4</text>
<text x="199.0" y="274.0" font-size="11" fill="#222" stroke="#222" stroke-width="0.15" text-anchor="end" >0.8</text>
<text x="199.0" y="249.0" font-size="11" fill="#222" stroke="#222" stroke-width="0.15" text-anchor="end" >1.2</text>
<line x1="201.50" y1="320.50" x2="259.00" y2="320.50" stroke="#777" stroke-width="1.2" />
<rect x="202.70" y="308.72" width="12.40" height="11.58" fill="#3ea672" stroke="#8c8c8c" stroke-width="0.6" stroke-opacity="0.7"/>
<rect x="217.80" y="254.70" width="11.60" height="65.60" fill="#5ee3a0" stroke="#8c8c8c" stroke-width="0.6" stroke-opacity="0.7"/>
<rect x="232.20" y="282.11" width="11.70" height="38.19" fill="#6cb9e6" stroke="#8c8c8c" stroke-width="0.6" stroke-opacity="0.7"/>
<rect x="246.50" y="282.74" width="11.60" height="37.56" fill="#3b79b4" stroke="#8c8c8c" stroke-width="0.6" stroke-opacity="0.7"/>
<line x1="208.90" y1="306.53" x2="208.90" y2="312.79" stroke="#222" stroke-width="0.9" />
<line x1="207.10" y1="306.53" x2="210.70" y2="306.53" stroke="#222" stroke-width="0.9" />
<circle cx="209.10" cy="300.89" r="1.9" fill="#e9c35f" />
<circle cx="206.60" cy="310.60" r="1.9" fill="#e9c35f" />
<circle cx="209.10" cy="313.41" r="1.9" fill="#e9c35f" />
<line x1="223.60" y1="252.07" x2="223.60" y2="257.70" stroke="#222" stroke-width="0.9" />
<line x1="221.80" y1="252.07" x2="225.40" y2="252.07" stroke="#222" stroke-width="0.9" />
<circle cx="223.10" cy="244.24" r="1.9" fill="#e9c35f" />
<circle cx="223.10" cy="256.45" r="1.9" fill="#e9c35f" />
<circle cx="223.10" cy="263.96" r="1.9" fill="#e9c35f" />
<line x1="238.05" y1="276.48" x2="238.05" y2="285.87" stroke="#222" stroke-width="0.9" />
<line x1="236.25" y1="276.48" x2="239.85" y2="276.48" stroke="#222" stroke-width="0.9" />
<circle cx="238.00" cy="276.48" r="1.9" fill="#e9c35f" />
<circle cx="237.00" cy="281.49" r="1.9" fill="#e9c35f" />
<circle cx="238.00" cy="285.87" r="1.9" fill="#e9c35f" />
<line x1="252.30" y1="279.92" x2="252.30" y2="282.74" stroke="#222" stroke-width="0.9" />
<line x1="250.50" y1="279.92" x2="254.10" y2="279.92" stroke="#222" stroke-width="0.9" />
<circle cx="248.40" cy="280.24" r="1.9" fill="#e9c35f" />
<circle cx="252.20" cy="281.18" r="1.9" fill="#e9c35f" />
<circle cx="252.20" cy="287.12" r="1.9" fill="#e9c35f" />
<line x1="266.50" y1="320.50" x2="324.50" y2="320.50" stroke="#777" stroke-width="1.2" />
<rect x="268.20" y="249.04" width="11.70" height="71.26" fill="#3ea672" stroke="#8c8c8c" stroke-width="0.6" stroke-opacity="0.7"/>
<rect x="282.70" y="277.11" width="11.60" height="43.19" fill="#5ee3a0" stroke="#8c8c8c" stroke-width="0.6" stroke-opacity="0.7"/>
<rect x="297.30" y="285.97" width="11.30" height="34.33" fill="#6cb9e6" stroke="#8c8c8c" stroke-width="0.6" stroke-opacity="0.7"/>
<rect x="311.30" y="280.93" width="11.70" height="39.37" fill="#3b79b4" stroke="#8c8c8c" stroke-width="0.6" stroke-opacity="0.7"/>
<line x1="274.05" y1="244.70" x2="274.05" y2="249.04" stroke="#222" stroke-width="0.9" />
<line x1="272.25" y1="244.70" x2="275.85" y2="244.70" stroke="#222" stroke-width="0.9" />
<circle cx="274.00" cy="245.22" r="1.9" fill="#e9c35f" />
<circle cx="270.60" cy="250.52" r="1.9" fill="#e9c35f" />
<circle cx="274.40" cy="251.30" r="1.9" fill="#e9c35f" />
<line x1="288.50" y1="270.16" x2="288.50" y2="285.54" stroke="#222" stroke-width="0.9" />
<line x1="286.70" y1="270.16" x2="290.30" y2="270.16" stroke="#222" stroke-width="0.9" />
<circle cx="288.20" cy="270.16" r="1.9" fill="#e9c35f" />
<circle cx="288.20" cy="275.89" r="1.9" fill="#e9c35f" />
<circle cx="288.20" cy="285.54" r="1.9" fill="#e9c35f" />
<line x1="302.95" y1="283.80" x2="302.95" y2="285.97" stroke="#222" stroke-width="0.9" />
<line x1="301.15" y1="283.80" x2="304.75" y2="283.80" stroke="#222" stroke-width="0.9" />
<circle cx="299.60" cy="286.41" r="1.9" fill="#e9c35f" />
<circle cx="302.80" cy="283.11" r="1.9" fill="#e9c35f" />
<circle cx="302.80" cy="287.89" r="1.9" fill="#e9c35f" />
<line x1="317.15" y1="273.37" x2="317.15" y2="287.28" stroke="#222" stroke-width="0.9" />
<line x1="315.35" y1="273.37" x2="318.95" y2="273.37" stroke="#222" stroke-width="0.9" />
<circle cx="317.30" cy="272.07" r="1.9" fill="#e9c35f" />
<circle cx="317.30" cy="281.19" r="1.9" fill="#e9c35f" />
<circle cx="317.30" cy="288.84" r="1.9" fill="#e9c35f" />
<line x1="324.50" y1="233.00" x2="324.50" y2="320.50" stroke="#4b4bff" stroke-width="1" />
<line x1="324.50" y1="320.30" x2="327.00" y2="320.30" stroke="#4b4bff" stroke-width="0.9" />
<line x1="324.50" y1="311.61" x2="327.00" y2="311.61" stroke="#4b4bff" stroke-width="0.9" />
<line x1="324.50" y1="302.92" x2="327.00" y2="302.92" stroke="#4b4bff" stroke-width="0.9" />
<line x1="324.50" y1="294.23" x2="327.00" y2="294.23" stroke="#4b4bff" stroke-width="0.9" />
<line x1="324.50" y1="285.54" x2="327.00" y2="285.54" stroke="#4b4bff" stroke-width="0.9" />
<line x1="324.50" y1="276.85" x2="327.00" y2="276.85" stroke="#4b4bff" stroke-width="0.9" />
<line x1="324.50" y1="268.16" x2="327.00" y2="268.16" stroke="#4b4bff" stroke-width="0.9" />
<line x1="324.50" y1="259.47" x2="327.00" y2="259.47" stroke="#4b4bff" stroke-width="0.9" />
<line x1="324.50" y1="250.78" x2="327.00" y2="250.78" stroke="#4b4bff" stroke-width="0.9" />
<line x1="324.50" y1="242.09" x2="327.00" y2="242.09" stroke="#4b4bff" stroke-width="0.9" />
<line x1="324.50" y1="233.40" x2="327.00" y2="233.40" stroke="#4b4bff" stroke-width="0.9" />
<text x="327.5" y="324.3" font-size="11" fill="#4b4bff" stroke="#4b4bff" stroke-width="0.15" >0</text>
<text x="327.5" y="306.9" font-size="11" fill="#4b4bff" stroke="#4b4bff" stroke-width="0.15" >2</text>
<text x="327.5" y="289.5" font-size="11" fill="#4b4bff" stroke="#4b4bff" stroke-width="0.15" >4</text>
<text x="327.5" y="272.2" font-size="11" fill="#4b4bff" stroke="#4b4bff" stroke-width="0.15" >6</text>
<text x="327.5" y="254.8" font-size="11" fill="#4b4bff" stroke="#4b4bff" stroke-width="0.15" >8</text>
<text x="327.5" y="237.4" font-size="11" fill="#4b4bff" stroke="#4b4bff" stroke-width="0.15" >10</text>
<text x="203.2" y="229.5" font-size="7.5" fill="#222" stroke="#222" stroke-width="0.15" textLength="30" lengthAdjust="spacingAndGlyphs" >P = 0.001</text>
<text x="228.0" y="237.7" font-size="7.5" fill="#222" stroke="#222" stroke-width="0.15" textLength="30.5" lengthAdjust="spacingAndGlyphs" >P = 0.021</text>
<text x="271.3" y="230.2" font-size="7.5" fill="#222" stroke="#222" stroke-width="0.15" textLength="32" lengthAdjust="spacingAndGlyphs" >P = 0.005</text>
<text x="210.5" y="241.0" font-size="9" fill="#222" stroke="#222" stroke-width="0.15" textLength="12.5" lengthAdjust="spacingAndGlyphs" >***</text>
<text x="226.8" y="246.5" font-size="9" fill="#222" stroke="#222" stroke-width="0.15" textLength="8.5" lengthAdjust="spacingAndGlyphs" >**</text>
<text x="274.0" y="241.5" font-size="9" fill="#222" stroke="#222" stroke-width="0.15" textLength="12.5" lengthAdjust="spacingAndGlyphs" >***</text>
<path d="M207.5,276 V240.5 H223 V246.5" fill="none" stroke="#333" stroke-width="0.9" />
<path d="M223,246.2 H238.4 V268" fill="none" stroke="#333" stroke-width="0.9" />
<path d="M274,245 V240.3 H288.4 V270" fill="none" stroke="#333" stroke-width="0.9" />
<text x="192.6" y="338.0" font-size="11.5" fill="#222" stroke="#222" stroke-width="0.15" transform="rotate(-36 192.6 338.0)" >t7<tspan font-size="7" dy="0.8">NS</tspan></text>
<text x="208.9" y="338.5" font-size="11.5" fill="#222" stroke="#222" stroke-width="0.15" transform="rotate(-36 208.9 338.5)" >t8<tspan font-size="7" dy="0.8">NS</tspan></text>
<text x="226.3" y="339.0" font-size="11.5" fill="#222" stroke="#222" stroke-width="0.15" transform="rotate(-36 226.3 339.0)" >t9<tspan font-size="7" dy="0.8">NS</tspan></text>
<text x="238.9" y="343.2" font-size="11.5" fill="#222" stroke="#222" stroke-width="0.15" transform="rotate(-36 238.9 343.2)" >t10<tspan font-size="7" dy="0.8">NS</tspan></text>
<text x="263.9" y="336.6" font-size="11.5" fill="#222" stroke="#222" stroke-width="0.15" transform="rotate(-36 263.9 336.6)" >t7<tspan font-size="7" dy="0.8">NS</tspan></text>
<text x="279.2" y="337.7" font-size="11.5" fill="#222" stroke="#222" stroke-width="0.15" transform="rotate(-36 279.2 337.7)" >t8<tspan font-size="7" dy="0.8">NS</tspan></text>
<text x="294.5" y="337.7" font-size="11.5" fill="#222" stroke="#222" stroke-width="0.15" transform="rotate(-36 294.5 337.7)" >t9<tspan font-size="7" dy="0.8">NS</tspan></text>
<text x="309.8" y="341.9" font-size="11.5" fill="#222" stroke="#222" stroke-width="0.15" transform="rotate(-36 309.8 341.9)" >t10<tspan font-size="7" dy="0.8">NS</tspan></text>
<text x="179.2" y="318.3" font-size="13.5" fill="#222" stroke="#222" stroke-width="0.15" transform="rotate(-90 179.2 318.3)" textLength="83.7" lengthAdjust="spacingAndGlyphs" ><tspan font-style="italic">k</tspan><tspan font-size="8.5" dy="1.8" font-style="italic">a</tspan><tspan dy="-1.8" font-size="16">(</tspan>x10<tspan font-size="8" dy="-5.5">7</tspan><tspan dy="5.5"> M</tspan><tspan font-size="8" dy="-5.5">-1</tspan><tspan dy="5.5">s</tspan><tspan font-size="8" dy="-5.5">-1</tspan><tspan dy="5.5" font-size="16">)</tspan></text>
<text x="346.5" y="296.0" font-size="13.5" fill="#4b4bff" stroke="#4b4bff" stroke-width="0.15" transform="rotate(-90 346.5 296.0)" textLength="44" lengthAdjust="spacingAndGlyphs" ><tspan font-style="italic">k</tspan><tspan font-size="8.5" dy="1.8" font-style="italic">dis</tspan><tspan dy="-1.8" font-size="16"> (</tspan>s<tspan font-size="8" dy="-5.5">-1</tspan><tspan dy="5.5" font-size="16">)</tspan></text>
<text transform="translate(343.14 217.50) scale(0.968 1)" x="0" y="0" font-size="18.3" font-weight="bold" fill="#000">F</text>
<text x="386.6" y="218.0" font-size="12.5" fill="#3d84c0" stroke="#3d84c0" stroke-width="0.15" textLength="105.7" lengthAdjust="spacingAndGlyphs" >long-lived binding</text>
<line x1="383.50" y1="230.40" x2="383.50" y2="321.20" stroke="#333" stroke-width="1" />
<line x1="381.00" y1="321.20" x2="383.50" y2="321.20" stroke="#333" stroke-width="1" />
<line x1="381.00" y1="303.10" x2="383.50" y2="303.10" stroke="#333" stroke-width="1" />
<line x1="381.00" y1="285.00" x2="383.50" y2="285.00" stroke="#333" stroke-width="1" />
<line x1="381.00" y1="266.90" x2="383.50" y2="266.90" stroke="#333" stroke-width="1" />
<line x1="381.00" y1="248.80" x2="383.50" y2="248.80" stroke="#333" stroke-width="1" />
<line x1="381.00" y1="230.70" x2="383.50" y2="230.70" stroke="#333" stroke-width="1" />
<text x="381.0" y="325.0" font-size="11" fill="#222" stroke="#222" stroke-width="0.15" text-anchor="end" >0.0</text>
<text x="381.0" y="288.8" font-size="11" fill="#222" stroke="#222" stroke-width="0.15" text-anchor="end" >0.4</text>
<text x="381.0" y="252.6" font-size="11" fill="#222" stroke="#222" stroke-width="0.15" text-anchor="end" >0.8</text>
<line x1="383.50" y1="321.20" x2="436.00" y2="321.20" stroke="#777" stroke-width="1.2" />
<rect x="385.00" y="256.04" width="14.30" height="65.16" fill="#5ee3a0" stroke="#8c8c8c" stroke-width="0.6" stroke-opacity="0.7"/>
<rect x="402.60" y="269.16" width="14.00" height="52.04" fill="#6cb9e6" stroke="#8c8c8c" stroke-width="0.6" stroke-opacity="0.7"/>
<rect x="420.00" y="274.77" width="14.00" height="46.43" fill="#3b79b4" stroke="#8c8c8c" stroke-width="0.6" stroke-opacity="0.7"/>
<line x1="392.15" y1="250.61" x2="392.15" y2="261.47" stroke="#222" stroke-width="0.9" />
<line x1="390.35" y1="250.61" x2="393.95" y2="250.61" stroke="#222" stroke-width="0.9" />
<circle cx="392.00" cy="248.80" r="1.9" fill="#e9c35f" />
<circle cx="390.10" cy="258.75" r="1.9" fill="#e9c35f" />
<circle cx="392.50" cy="261.47" r="1.9" fill="#e9c35f" />
<line x1="409.60" y1="265.54" x2="409.60" y2="274.14" stroke="#222" stroke-width="0.9" />
<line x1="407.80" y1="265.54" x2="411.40" y2="265.54" stroke="#222" stroke-width="0.9" />
<circle cx="409.50" cy="263.28" r="1.9" fill="#e9c35f" />
<circle cx="407.30" cy="271.61" r="1.9" fill="#e9c35f" />
<circle cx="409.50" cy="274.41" r="1.9" fill="#e9c35f" />
<line x1="427.00" y1="265.09" x2="427.00" y2="285.00" stroke="#222" stroke-width="0.9" />
<line x1="425.20" y1="265.09" x2="428.80" y2="265.09" stroke="#222" stroke-width="0.9" />
<circle cx="427.00" cy="265.09" r="1.9" fill="#e9c35f" />
<circle cx="427.00" cy="275.04" r="1.9" fill="#e9c35f" />
<circle cx="427.00" cy="285.00" r="1.9" fill="#e9c35f" />
<rect x="445.00" y="246.81" width="14.50" height="74.39" fill="#5ee3a0" stroke="#8c8c8c" stroke-width="0.6" stroke-opacity="0.7"/>
<rect x="462.60" y="288.62" width="14.30" height="32.58" fill="#6cb9e6" stroke="#8c8c8c" stroke-width="0.6" stroke-opacity="0.7"/>
<rect x="480.00" y="312.60" width="14.00" height="8.60" fill="#3b79b4" stroke="#8c8c8c" stroke-width="0.6" stroke-opacity="0.7"/>
<line x1="452.25" y1="241.56" x2="452.25" y2="252.96" stroke="#222" stroke-width="0.9" />
<line x1="450.45" y1="241.56" x2="454.05" y2="241.56" stroke="#222" stroke-width="0.9" />
<circle cx="452.40" cy="239.39" r="1.9" fill="#e9c35f" />
<circle cx="452.40" cy="247.99" r="1.9" fill="#e9c35f" />
<circle cx="452.40" cy="252.96" r="1.9" fill="#e9c35f" />
<line x1="469.75" y1="285.90" x2="469.75" y2="291.33" stroke="#222" stroke-width="0.9" />
<line x1="467.95" y1="285.90" x2="471.55" y2="285.90" stroke="#222" stroke-width="0.9" />
<circle cx="469.80" cy="285.54" r="1.9" fill="#e9c35f" />
<circle cx="466.60" cy="289.89" r="1.9" fill="#e9c35f" />
<circle cx="469.80" cy="291.70" r="1.9" fill="#e9c35f" />
<line x1="487.00" y1="308.53" x2="487.00" y2="315.77" stroke="#222" stroke-width="0.9" />
<line x1="485.20" y1="308.53" x2="488.80" y2="308.53" stroke="#222" stroke-width="0.9" />
<circle cx="485.40" cy="306.99" r="1.9" fill="#e9c35f" />
<circle cx="486.90" cy="310.16" r="1.9" fill="#e9c35f" />
<circle cx="486.90" cy="316.22" r="1.9" fill="#e9c35f" />
<line x1="443.00" y1="321.20" x2="496.50" y2="321.20" stroke="#777" stroke-width="1.2" />
<line x1="452.20" y1="321.20" x2="452.20" y2="324.00" stroke="#555" stroke-width="0.9" />
<line x1="469.70" y1="321.20" x2="469.70" y2="324.00" stroke="#555" stroke-width="0.9" />
<line x1="487.00" y1="321.20" x2="487.00" y2="324.00" stroke="#555" stroke-width="0.9" />
<line x1="496.50" y1="230.20" x2="496.50" y2="321.20" stroke="#33334a" stroke-width="1" />
<line x1="496.50" y1="321.20" x2="499.00" y2="321.20" stroke="#4b4bff" stroke-width="0.9" />
<line x1="496.50" y1="312.15" x2="498.20" y2="312.15" stroke="#4b4bff" stroke-width="0.9" />
<line x1="496.50" y1="303.10" x2="499.00" y2="303.10" stroke="#4b4bff" stroke-width="0.9" />
<line x1="496.50" y1="294.05" x2="498.20" y2="294.05" stroke="#4b4bff" stroke-width="0.9" />
<line x1="496.50" y1="285.00" x2="499.00" y2="285.00" stroke="#4b4bff" stroke-width="0.9" />
<line x1="496.50" y1="275.95" x2="498.20" y2="275.95" stroke="#4b4bff" stroke-width="0.9" />
<line x1="496.50" y1="266.90" x2="499.00" y2="266.90" stroke="#4b4bff" stroke-width="0.9" />
<line x1="496.50" y1="257.85" x2="498.20" y2="257.85" stroke="#4b4bff" stroke-width="0.9" />
<line x1="496.50" y1="248.80" x2="499.00" y2="248.80" stroke="#4b4bff" stroke-width="0.9" />
<line x1="496.50" y1="239.75" x2="498.20" y2="239.75" stroke="#4b4bff" stroke-width="0.9" />
<line x1="496.50" y1="230.70" x2="499.00" y2="230.70" stroke="#4b4bff" stroke-width="0.9" />
<text x="499.5" y="325.2" font-size="11" fill="#4b4bff" stroke="#4b4bff" stroke-width="0.15" >0.0</text>
<text x="499.5" y="289.0" font-size="11" fill="#4b4bff" stroke="#4b4bff" stroke-width="0.15" >0.4</text>
<text x="499.5" y="252.8" font-size="11" fill="#4b4bff" stroke="#4b4bff" stroke-width="0.15" >0.8</text>
<text x="442.4" y="226.3" font-size="7.5" fill="#222" stroke="#222" stroke-width="0.15" textLength="30.6" lengthAdjust="spacingAndGlyphs" >P = 0.001</text>
<text x="475.0" y="259.4" font-size="7.5" fill="#222" stroke="#222" stroke-width="0.15" textLength="11" lengthAdjust="spacingAndGlyphs" >P =</text>
<text x="472.0" y="268.7" font-size="7.5" fill="#222" stroke="#222" stroke-width="0.15" textLength="18.6" lengthAdjust="spacingAndGlyphs" >0.002</text>
<text x="455.0" y="235.0" font-size="9" fill="#222" stroke="#222" stroke-width="0.15" textLength="12" lengthAdjust="spacingAndGlyphs" >***</text>
<text x="473.0" y="278.8" font-size="9" fill="#222" stroke="#222" stroke-width="0.15" textLength="12" lengthAdjust="spacingAndGlyphs" >***</text>
<path d="M452.2,240 V234 H470.7 V272" fill="none" stroke="#333" stroke-width="0.9" />
<path d="M470.7,287 V278.3 H487.8 V302" fill="none" stroke="#333" stroke-width="0.9" />
<text x="382.1" y="336.9" font-size="11.5" fill="#222" stroke="#222" stroke-width="0.15" transform="rotate(-36 382.1 336.9)" >t8<tspan font-size="7" dy="0.8">NS</tspan></text>
<text x="398.5" y="337.8" font-size="11.5" fill="#222" stroke="#222" stroke-width="0.15" transform="rotate(-36 398.5 337.8)" >t9<tspan font-size="7" dy="0.8">NS</tspan></text>
<text x="415.8" y="342.4" font-size="11.5" fill="#222" stroke="#222" stroke-width="0.15" transform="rotate(-36 415.8 342.4)" >t10<tspan font-size="7" dy="0.8">NS</tspan></text>
<text x="442.3" y="337.8" font-size="11.5" fill="#222" stroke="#222" stroke-width="0.15" transform="rotate(-36 442.3 337.8)" >t8<tspan font-size="7" dy="0.8">NS</tspan></text>
<text x="459.6" y="337.8" font-size="11.5" fill="#222" stroke="#222" stroke-width="0.15" transform="rotate(-36 459.6 337.8)" >t9<tspan font-size="7" dy="0.8">NS</tspan></text>
<text x="472.4" y="343.3" font-size="11.5" fill="#222" stroke="#222" stroke-width="0.15" transform="rotate(-36 472.4 343.3)" >t10<tspan font-size="7" dy="0.8">NS</tspan></text>
<text x="362.8" y="325.5" font-size="13.5" fill="#222" stroke="#222" stroke-width="0.15" transform="rotate(-90 362.8 325.5)" textLength="87" lengthAdjust="spacingAndGlyphs" ><tspan font-style="italic">k</tspan><tspan font-size="8.5" dy="1.8" font-style="italic">a</tspan><tspan dy="-1.8" font-size="16">(</tspan>x10<tspan font-size="8" dy="-5.5">6</tspan><tspan dy="5.5"> M</tspan><tspan font-size="8" dy="-5.5">-1</tspan><tspan dy="5.5">s</tspan><tspan font-size="8" dy="-5.5">-1</tspan><tspan dy="5.5" font-size="16">)</tspan></text>
<text x="529.5" y="295.4" font-size="13.5" fill="#4b4bff" stroke="#4b4bff" stroke-width="0.15" transform="rotate(-90 529.5 295.4)" textLength="42.7" lengthAdjust="spacingAndGlyphs" ><tspan font-style="italic">k</tspan><tspan font-size="8.5" dy="1.8" font-style="italic">dis</tspan><tspan dy="-1.8" font-size="16"> (</tspan>s<tspan font-size="8" dy="-5.5">-1</tspan><tspan dy="5.5" font-size="16">)</tspan></text>
<text transform="translate(524.57 218.10) scale(0.919 1)" x="0" y="0" font-size="18.3" font-weight="bold" fill="#000">G</text>
<line x1="566.50" y1="233.50" x2="566.50" y2="320.90" stroke="#333" stroke-width="1" />
<line x1="566.50" y1="320.90" x2="676.60" y2="320.90" stroke="#333" stroke-width="1" />
<line x1="564.00" y1="320.50" x2="566.50" y2="320.50" stroke="#333" stroke-width="1" />
<text x="561.0" y="324.5" font-size="11.5" fill="#222" stroke="#222" stroke-width="0.15" text-anchor="end" >0</text>
<line x1="564.00" y1="303.55" x2="566.50" y2="303.55" stroke="#333" stroke-width="1" />
<text x="561.0" y="307.6" font-size="11.5" fill="#222" stroke="#222" stroke-width="0.15" text-anchor="end" >1</text>
<line x1="564.00" y1="286.60" x2="566.50" y2="286.60" stroke="#333" stroke-width="1" />
<text x="561.0" y="290.6" font-size="11.5" fill="#222" stroke="#222" stroke-width="0.15" text-anchor="end" >2</text>
<line x1="564.00" y1="269.65" x2="566.50" y2="269.65" stroke="#333" stroke-width="1" />
<text x="561.0" y="273.6" font-size="11.5" fill="#222" stroke="#222" stroke-width="0.15" text-anchor="end" >3</text>
<line x1="564.00" y1="252.70" x2="566.50" y2="252.70" stroke="#333" stroke-width="1" />
<text x="561.0" y="256.7" font-size="11.5" fill="#222" stroke="#222" stroke-width="0.15" text-anchor="end" >4</text>
<line x1="564.00" y1="235.75" x2="566.50" y2="235.75" stroke="#333" stroke-width="1" />
<text x="561.0" y="239.8" font-size="11.5" fill="#222" stroke="#222" stroke-width="0.15" text-anchor="end" >5</text>
<line x1="575.10" y1="320.90" x2="575.10" y2="323.40" stroke="#333" stroke-width="1" />
<line x1="606.40" y1="320.90" x2="606.40" y2="323.40" stroke="#333" stroke-width="1" />
<line x1="638.30" y1="320.90" x2="638.30" y2="323.40" stroke="#333" stroke-width="1" />
<line x1="669.70" y1="320.90" x2="669.70" y2="323.40" stroke="#333" stroke-width="1" />
<text x="568.8" y="334.0" font-size="11.2" fill="#222" stroke="#222" stroke-width="0.15" >t7<tspan font-size="6.8" dy="1.2">NS</tspan></text>
<text x="604.3" y="334.0" font-size="11.2" fill="#222" stroke="#222" stroke-width="0.15" >t8<tspan font-size="6.8" dy="1.2">NS</tspan></text>
<text x="633.8" y="334.0" font-size="11.2" fill="#222" stroke="#222" stroke-width="0.15" >t9<tspan font-size="6.8" dy="1.2">NS</tspan></text>
<text x="660.0" y="334.0" font-size="11.2" fill="#222" stroke="#222" stroke-width="0.15" >t10<tspan font-size="6.8" dy="1.2">NS</tspan></text>
<line x1="575.10" y1="236.00" x2="575.10" y2="246.00" stroke="#f08080" stroke-width="1" />
<line x1="573.30" y1="236.00" x2="576.90" y2="236.00" stroke="#f08080" stroke-width="1" />
<line x1="573.30" y1="246.00" x2="576.90" y2="246.00" stroke="#f08080" stroke-width="1" />
<polyline points="575.1,240.8 606.4,311.8 638.3,308.8 669.7,307.0" fill="none" stroke="#f39a4a" stroke-width="1.1" stroke-linejoin="round" />
<polyline points="606.4,318.3 638.3,318.2 669.7,318.9" fill="none" stroke="#6a9fd0" stroke-width="1.1" stroke-linejoin="round" />
<circle cx="575.10" cy="240.80" r="2.4" fill="#3ea672" />
<circle cx="606.40" cy="311.80" r="2.3" fill="#5ee3a0" />
<circle cx="638.30" cy="308.80" r="2.3" fill="#6d9fd8" />
<circle cx="669.70" cy="307.00" r="2.3" fill="#3a62b8" />
<circle cx="606.40" cy="318.30" r="1.6" fill="#d05050" />
<circle cx="638.30" cy="318.20" r="1.6" fill="#a090d0" />
<circle cx="669.70" cy="318.90" r="1.8" fill="#a04070" />
<text x="550.8" y="292.2" font-size="13.5" fill="#222" stroke="#222" stroke-width="0.15" transform="rotate(-90 550.8 292.2)" textLength="43.7" lengthAdjust="spacingAndGlyphs" >K<tspan font-size="8" dy="1.8">D</tspan><tspan dy="-1.8" font-size="15"> (μM)</tspan></text>
<text transform="translate(-0.24 373.60) scale(1.037 1)" x="0" y="0" font-size="18.3" font-weight="bold" fill="#000">H</text>
<text x="33.5" y="372.1" font-size="13" fill="#f08a30" stroke="#f08a30" stroke-width="0.15" textLength="100.7" lengthAdjust="spacingAndGlyphs" >transient binding</text>
<line x1="28.20" y1="384.50" x2="28.20" y2="486.10" stroke="#333" stroke-width="1" />
<line x1="28.20" y1="486.10" x2="153.90" y2="486.10" stroke="#333" stroke-width="1" />
<line x1="25.60" y1="470.25" x2="28.20" y2="470.25" stroke="#333" stroke-width="1" />
<line x1="25.60" y1="453.58" x2="28.20" y2="453.58" stroke="#333" stroke-width="0.7" />
<line x1="25.60" y1="436.90" x2="28.20" y2="436.90" stroke="#333" stroke-width="1" />
<line x1="25.60" y1="420.23" x2="28.20" y2="420.23" stroke="#333" stroke-width="0.7" />
<line x1="25.60" y1="403.55" x2="28.20" y2="403.55" stroke="#333" stroke-width="1" />
<line x1="25.60" y1="386.88" x2="28.20" y2="386.88" stroke="#333" stroke-width="0.7" />
<text x="24.8" y="474.2" font-size="11" fill="#222" stroke="#222" stroke-width="0.15" text-anchor="end" >1</text>
<text x="24.8" y="440.9" font-size="11" fill="#222" stroke="#222" stroke-width="0.15" text-anchor="end" >2</text>
<text x="24.8" y="407.6" font-size="11" fill="#222" stroke="#222" stroke-width="0.15" text-anchor="end" >3</text>
<line x1="28.20" y1="486.10" x2="28.20" y2="488.60" stroke="#333" stroke-width="1" />
<line x1="42.17" y1="486.10" x2="42.17" y2="487.80" stroke="#333" stroke-width="0.7" />
<line x1="56.15" y1="486.10" x2="56.15" y2="488.60" stroke="#333" stroke-width="1" />
<line x1="70.12" y1="486.10" x2="70.12" y2="487.80" stroke="#333" stroke-width="0.7" />
<line x1="84.10" y1="486.10" x2="84.10" y2="488.60" stroke="#333" stroke-width="1" />
<line x1="98.08" y1="486.10" x2="98.08" y2="487.80" stroke="#333" stroke-width="0.7" />
<line x1="112.05" y1="486.10" x2="112.05" y2="488.60" stroke="#333" stroke-width="1" />
<line x1="126.03" y1="486.10" x2="126.03" y2="487.80" stroke="#333" stroke-width="0.7" />
<line x1="140.00" y1="486.10" x2="140.00" y2="488.60" stroke="#333" stroke-width="1" />
<text x="28.2" y="496.9" font-size="11" fill="#222" stroke="#222" stroke-width="0.15" text-anchor="middle" >0</text>
<text x="56.1" y="496.9" font-size="11" fill="#222" stroke="#222" stroke-width="0.15" text-anchor="middle" >10</text>
<text x="84.1" y="496.9" font-size="11" fill="#222" stroke="#222" stroke-width="0.15" text-anchor="middle" >20</text>
<text x="112.0" y="496.9" font-size="11" fill="#222" stroke="#222" stroke-width="0.15" text-anchor="middle" >30</text>
<text x="140.0" y="496.9" font-size="11" fill="#222" stroke="#222" stroke-width="0.15" text-anchor="middle" >40</text>
<line x1="28.20" y1="463.60" x2="153.90" y2="463.60" stroke="#f03030" stroke-width="1.1" stroke-dasharray="2,3.9"/>
<line x1="28.20" y1="473.40" x2="153.90" y2="473.40" stroke="#f03030" stroke-width="1.1" stroke-dasharray="2,3.9"/>
<rect x="28.00" y="462.60" width="3.60" height="3.60" fill="#f08a30" />
<rect x="30.80" y="463.50" width="3.60" height="3.60" fill="#f08a30" />
<rect x="38.00" y="459.80" width="3.60" height="3.60" fill="#f08a30" />
<rect x="40.80" y="452.60" width="3.60" height="3.60" fill="#f08a30" />
<rect x="54.40" y="448.60" width="3.60" height="3.60" fill="#f08a30" />
<rect x="68.40" y="439.90" width="3.60" height="3.60" fill="#f08a30" />
<rect x="82.10" y="435.50" width="3.60" height="3.60" fill="#f08a30" />
<rect x="96.10" y="417.20" width="3.60" height="3.60" fill="#f08a30" />
<rect x="110.00" y="413.80" width="3.60" height="3.60" fill="#f08a30" />
<rect x="124.00" y="406.00" width="3.60" height="3.60" fill="#f08a30" />
<rect x="138.00" y="390.80" width="3.60" height="3.60" fill="#f08a30" />
<circle cx="29.20" cy="469.30" r="1.9" fill="#111" />
<circle cx="31.40" cy="470.30" r="1.9" fill="#111" />
<circle cx="33.90" cy="468.90" r="1.9" fill="#111" />
<circle cx="39.40" cy="469.70" r="1.9" fill="#111" />
<circle cx="42.50" cy="469.30" r="1.9" fill="#111" />
<circle cx="56.40" cy="467.70" r="1.9" fill="#111" />
<circle cx="70.00" cy="467.30" r="1.9" fill="#111" />
<circle cx="84.40" cy="469.30" r="1.9" fill="#111" />
<circle cx="98.10" cy="469.30" r="1.9" fill="#111" />
<circle cx="112.00" cy="467.70" r="1.9" fill="#111" />
<circle cx="125.90" cy="469.90" r="1.9" fill="#111" />
<circle cx="140.00" cy="469.30" r="1.9" fill="#111" />
<rect x="31.00" y="383.20" width="5.70" height="5.70" fill="#f08a30" />
<text x="42.0" y="390.4" font-size="12" fill="#222" stroke="#222" stroke-width="0.15" >Expt. data of t8<tspan font-size="7.5" dy="1.5">NS</tspan></text>
<circle cx="34.00" cy="401.40" r="3.7" fill="#111" />
<text x="42.0" y="405.3" font-size="12" fill="#222" stroke="#222" stroke-width="0.15" textLength="80.7" lengthAdjust="spacingAndGlyphs" >Simulated data</text>
<text x="79.2" y="452.6" font-size="10.2" fill="#222" stroke="#222" stroke-width="0.15" textLength="74" lengthAdjust="spacingAndGlyphs" >95% confidence</text>
<path d="M123.6,454.4 V459" fill="none" stroke="#222" stroke-width="1" />
<path d="M121.2,457.4 L123.6,462 L126,457.4 Z" fill="#222" stroke="none" stroke-width="1" />
<path d="M123.1,477 V480.5" fill="none" stroke="#777" stroke-width="1" />
<path d="M120.5,478.3 L123.1,473.5 L125.7,478.3 Z" fill="#333" stroke="none" stroke-width="1" />
<text x="34.3" y="511.2" font-size="13.3" fill="#222" stroke="#222" stroke-width="0.15" textLength="96" lengthAdjust="spacingAndGlyphs" >Time interval (s)</text>
<text x="14.0" y="466.9" font-size="13.3" fill="#222" stroke="#222" stroke-width="0.15" transform="rotate(-90 14.0 466.9)" textLength="66.4" lengthAdjust="spacingAndGlyphs" >Fano factor</text>
<text transform="translate(162.49 373.10) scale(1.259 1)" x="0" y="0" font-size="18.3" font-weight="bold" fill="#000">I</text>
<text x="192.6" y="370.5" font-size="13" fill="#3d84c0" stroke="#3d84c0" stroke-width="0.15" textLength="105.6" lengthAdjust="spacingAndGlyphs" >long-lived binding</text>
<line x1="184.60" y1="384.50" x2="184.60" y2="484.20" stroke="#333" stroke-width="1" />
<line x1="184.60" y1="484.20" x2="306.00" y2="484.20" stroke="#333" stroke-width="1" />
<line x1="182.00" y1="470.20" x2="184.60" y2="470.20" stroke="#333" stroke-width="1" />
<line x1="182.00" y1="454.97" x2="184.60" y2="454.97" stroke="#333" stroke-width="0.7" />
<line x1="182.00" y1="439.75" x2="184.60" y2="439.75" stroke="#333" stroke-width="1" />
<line x1="182.00" y1="424.52" x2="184.60" y2="424.52" stroke="#333" stroke-width="0.7" />
<line x1="182.00" y1="409.30" x2="184.60" y2="409.30" stroke="#333" stroke-width="1" />
<line x1="182.00" y1="394.07" x2="184.60" y2="394.07" stroke="#333" stroke-width="0.7" />
<text x="180.5" y="474.2" font-size="11" fill="#222" stroke="#222" stroke-width="0.15" text-anchor="end" >1</text>
<text x="180.5" y="443.8" font-size="11" fill="#222" stroke="#222" stroke-width="0.15" text-anchor="end" >2</text>
<text x="180.5" y="413.3" font-size="11" fill="#222" stroke="#222" stroke-width="0.15" text-anchor="end" >3</text>
<line x1="185.00" y1="484.20" x2="185.00" y2="486.70" stroke="#333" stroke-width="1" />
<line x1="199.32" y1="484.20" x2="199.32" y2="486.00" stroke="#333" stroke-width="0.7" />
<line x1="213.64" y1="484.20" x2="213.64" y2="486.70" stroke="#333" stroke-width="1" />
<line x1="227.96" y1="484.20" x2="227.96" y2="486.00" stroke="#333" stroke-width="0.7" />
<line x1="242.28" y1="484.20" x2="242.28" y2="486.70" stroke="#333" stroke-width="1" />
<line x1="256.60" y1="484.20" x2="256.60" y2="486.00" stroke="#333" stroke-width="0.7" />
<line x1="270.92" y1="484.20" x2="270.92" y2="486.70" stroke="#333" stroke-width="1" />
<line x1="285.24" y1="484.20" x2="285.24" y2="486.00" stroke="#333" stroke-width="0.7" />
<line x1="299.56" y1="484.20" x2="299.56" y2="486.70" stroke="#333" stroke-width="1" />
<text x="184.5" y="496.0" font-size="11" fill="#222" stroke="#222" stroke-width="0.15" text-anchor="middle" >0</text>
<text x="213.1" y="496.0" font-size="11" fill="#222" stroke="#222" stroke-width="0.15" text-anchor="middle" >40</text>
<text x="241.8" y="496.0" font-size="11" fill="#222" stroke="#222" stroke-width="0.15" text-anchor="middle" >80</text>
<text x="270.4" y="496.0" font-size="11" fill="#222" stroke="#222" stroke-width="0.15" text-anchor="middle" >120</text>
<text x="299.1" y="496.0" font-size="11" fill="#222" stroke="#222" stroke-width="0.15" text-anchor="middle" >160</text>
<line x1="184.60" y1="464.20" x2="306.00" y2="464.20" stroke="#f03030" stroke-width="1.1" stroke-dasharray="2,3.9"/>
<line x1="184.60" y1="473.40" x2="306.00" y2="473.40" stroke="#f03030" stroke-width="1.1" stroke-dasharray="2,3.9"/>
<rect x="186.20" y="472.80" width="3.60" height="3.60" fill="#3d80c8" />
<rect x="188.00" y="472.20" width="3.60" height="3.60" fill="#3d80c8" />
<rect x="192.40" y="470.60" width="3.60" height="3.60" fill="#3d80c8" />
<rect x="194.20" y="472.20" width="3.60" height="3.60" fill="#3d80c8" />
<rect x="195.50" y="466.60" width="3.60" height="3.60" fill="#3d80c8" />
<rect x="201.10" y="463.50" width="3.60" height="3.60" fill="#3d80c8" />
<rect x="219.10" y="449.50" width="3.60" height="3.60" fill="#3d80c8" />
<rect x="237.10" y="443.00" width="3.60" height="3.60" fill="#3d80c8" />
<rect x="255.40" y="427.80" width="3.60" height="3.60" fill="#3d80c8" />
<rect x="273.50" y="417.20" width="3.60" height="3.60" fill="#3d80c8" />
<rect x="291.80" y="393.90" width="3.60" height="3.60" fill="#3d80c8" />
<circle cx="186.40" cy="466.80" r="1.9" fill="#111" />
<circle cx="189.50" cy="468.00" r="1.9" fill="#111" />
<circle cx="192.60" cy="468.70" r="1.9" fill="#111" />
<circle cx="194.80" cy="470.00" r="1.9" fill="#111" />
<circle cx="197.30" cy="468.40" r="1.9" fill="#111" />
<circle cx="199.80" cy="467.50" r="1.9" fill="#111" />
<circle cx="202.20" cy="466.20" r="1.9" fill="#111" />
<circle cx="221.60" cy="467.30" r="1.9" fill="#111" />
<circle cx="239.40" cy="467.70" r="1.9" fill="#111" />
<circle cx="257.20" cy="467.30" r="1.9" fill="#111" />
<circle cx="275.10" cy="470.30" r="1.9" fill="#111" />
<circle cx="293.10" cy="467.70" r="1.9" fill="#111" />
<rect x="188.90" y="382.60" width="5.70" height="5.70" fill="#3d80c8" />
<text x="200.4" y="389.1" font-size="12" fill="#222" stroke="#222" stroke-width="0.15" >Expt. data of t8<tspan font-size="7.5" dy="1.5">NS</tspan></text>
<circle cx="192.40" cy="400.00" r="3.7" fill="#111" />
<text x="200.4" y="404.7" font-size="12" fill="#222" stroke="#222" stroke-width="0.15" textLength="80.7" lengthAdjust="spacingAndGlyphs" >Simulated data</text>
<text x="197.5" y="511.2" font-size="13.3" fill="#222" stroke="#222" stroke-width="0.15" textLength="97" lengthAdjust="spacingAndGlyphs" >Time interval (s)</text>
<text x="168.6" y="471.3" font-size="13.3" fill="#222" stroke="#222" stroke-width="0.15" transform="rotate(-90 168.6 471.3)" textLength="67.4" lengthAdjust="spacingAndGlyphs" >Fano factor</text>
<path d="M338.5,488 L467,488 L506.3,396.3 L417.7,396.3 Z" fill="#f5f5f5" stroke="none" stroke-width="1" />
<path d="M338.5,423 L417.7,352.4 L417.7,396.3 L338.5,488 Z" fill="#e6fbf5" stroke="none" stroke-width="1" />
<path d="M417.7,352.4 L506.3,352.4 L506.3,396.3 L417.7,396.3 Z" fill="#f8fad8" stroke="none" stroke-width="1" />
<line x1="435.42" y1="352.40" x2="435.42" y2="396.30" stroke="#d6dab0" stroke-width="0.6" />
<line x1="453.14" y1="352.40" x2="453.14" y2="396.30" stroke="#d6dab0" stroke-width="0.6" />
<line x1="470.86" y1="352.40" x2="470.86" y2="396.30" stroke="#d6dab0" stroke-width="0.6" />
<line x1="488.58" y1="352.40" x2="488.58" y2="396.30" stroke="#d6dab0" stroke-width="0.6" />
<line x1="417.70" y1="390.03" x2="506.30" y2="390.03" stroke="#dfe2b6" stroke-width="0.5" />
<line x1="417.70" y1="383.76" x2="506.30" y2="383.76" stroke="#dfe2b6" stroke-width="0.5" />
<line x1="417.70" y1="377.49" x2="506.30" y2="377.49" stroke="#dfe2b6" stroke-width="0.5" />
<line x1="417.70" y1="371.21" x2="506.30" y2="371.21" stroke="#dfe2b6" stroke-width="0.5" />
<line x1="417.70" y1="364.94" x2="506.30" y2="364.94" stroke="#dfe2b6" stroke-width="0.5" />
<line x1="417.70" y1="358.67" x2="506.30" y2="358.67" stroke="#dfe2b6" stroke-width="0.5" />
<line x1="338.50" y1="479.88" x2="417.70" y2="390.81" stroke="#a8c4bc" stroke-width="0.55" />
<line x1="338.50" y1="471.75" x2="417.70" y2="385.32" stroke="#a8c4bc" stroke-width="0.55" />
<line x1="338.50" y1="463.62" x2="417.70" y2="379.84" stroke="#a8c4bc" stroke-width="0.55" />
<line x1="338.50" y1="455.50" x2="417.70" y2="374.35" stroke="#a8c4bc" stroke-width="0.55" />
<line x1="338.50" y1="447.38" x2="417.70" y2="368.86" stroke="#a8c4bc" stroke-width="0.55" />
<line x1="338.50" y1="439.25" x2="417.70" y2="363.38" stroke="#a8c4bc" stroke-width="0.55" />
<line x1="338.50" y1="431.12" x2="417.70" y2="357.89" stroke="#a8c4bc" stroke-width="0.55" />
<line x1="364.20" y1="488.00" x2="435.42" y2="396.30" stroke="#c4c4c4" stroke-width="0.55" />
<line x1="389.90" y1="488.00" x2="453.14" y2="396.30" stroke="#c4c4c4" stroke-width="0.55" />
<line x1="415.60" y1="488.00" x2="470.86" y2="396.30" stroke="#c4c4c4" stroke-width="0.55" />
<line x1="441.30" y1="488.00" x2="488.58" y2="396.30" stroke="#c4c4c4" stroke-width="0.55" />
<line x1="358.30" y1="465.07" x2="476.82" y2="465.07" stroke="#d8d8d8" stroke-width="0.5" />
<line x1="378.10" y1="442.15" x2="486.65" y2="442.15" stroke="#d8d8d8" stroke-width="0.5" />
<line x1="397.90" y1="419.23" x2="496.48" y2="419.23" stroke="#d8d8d8" stroke-width="0.5" />
<line x1="338.50" y1="423.00" x2="417.70" y2="352.40" stroke="#bcd" stroke-width="0.6" />
<line x1="417.70" y1="352.40" x2="506.30" y2="352.40" stroke="#cdd0a0" stroke-width="0.6" />
<line x1="467.00" y1="488.00" x2="506.30" y2="396.30" stroke="#555" stroke-width="0.8" />
<line x1="338.50" y1="488.00" x2="467.00" y2="488.00" stroke="#555" stroke-width="0.9" />
<line x1="338.50" y1="423.00" x2="338.50" y2="488.00" stroke="#555" stroke-width="0.9" />
<line x1="417.70" y1="352.40" x2="417.70" y2="396.30" stroke="#aab" stroke-width="0.5" />
<line x1="336.30" y1="488.00" x2="338.50" y2="488.00" stroke="#555" stroke-width="0.7" />
<line x1="337.10" y1="482.09" x2="338.50" y2="482.09" stroke="#555" stroke-width="0.7" />
<line x1="337.10" y1="476.18" x2="338.50" y2="476.18" stroke="#555" stroke-width="0.7" />
<line x1="337.10" y1="470.27" x2="338.50" y2="470.27" stroke="#555" stroke-width="0.7" />
<line x1="336.30" y1="464.36" x2="338.50" y2="464.36" stroke="#555" stroke-width="0.7" />
<line x1="337.10" y1="458.45" x2="338.50" y2="458.45" stroke="#555" stroke-width="0.7" />
<line x1="337.10" y1="452.55" x2="338.50" y2="452.55" stroke="#555" stroke-width="0.7" />
<line x1="337.10" y1="446.64" x2="338.50" y2="446.64" stroke="#555" stroke-width="0.7" />
<line x1="336.30" y1="440.73" x2="338.50" y2="440.73" stroke="#555" stroke-width="0.7" />
<line x1="337.10" y1="434.82" x2="338.50" y2="434.82" stroke="#555" stroke-width="0.7" />
<line x1="337.10" y1="428.91" x2="338.50" y2="428.91" stroke="#555" stroke-width="0.7" />
<line x1="337.10" y1="423.00" x2="338.50" y2="423.00" stroke="#555" stroke-width="0.7" />
<line x1="377.15" y1="488.00" x2="377.15" y2="489.60" stroke="#555" stroke-width="0.7" />
<line x1="402.75" y1="488.00" x2="402.75" y2="489.60" stroke="#555" stroke-width="0.7" />
<line x1="428.25" y1="488.00" x2="428.25" y2="489.60" stroke="#555" stroke-width="0.7" />
<line x1="364.30" y1="488.00" x2="364.30" y2="490.20" stroke="#555" stroke-width="0.8" />
<text x="364.3" y="500.0" font-size="11.5" fill="#222" stroke="#222" stroke-width="0.15" text-anchor="middle" >10</text>
<line x1="390.00" y1="488.00" x2="390.00" y2="490.20" stroke="#555" stroke-width="0.8" />
<text x="390.0" y="500.0" font-size="11.5" fill="#222" stroke="#222" stroke-width="0.15" text-anchor="middle" >20</text>
<line x1="415.50" y1="488.00" x2="415.50" y2="490.20" stroke="#555" stroke-width="0.8" />
<text x="415.5" y="500.0" font-size="11.5" fill="#222" stroke="#222" stroke-width="0.15" text-anchor="middle" >30</text>
<line x1="441.00" y1="488.00" x2="441.00" y2="490.20" stroke="#555" stroke-width="0.8" />
<text x="441.0" y="500.0" font-size="11.5" fill="#222" stroke="#222" stroke-width="0.15" text-anchor="middle" >40</text>
<text x="337.0" y="492.0" font-size="11" fill="#222" stroke="#222" stroke-width="0.15" text-anchor="end" >0.0</text>
<text x="337.0" y="468.4" font-size="11" fill="#222" stroke="#222" stroke-width="0.15" text-anchor="end" >0.4</text>
<text x="337.0" y="444.7" font-size="11" fill="#222" stroke="#222" stroke-width="0.15" text-anchor="end" >0.8</text>
<path d="M364.7,457.9 L364.7,406.6 L366.5,408.7 L366.50,410.19 L366.90,421.36 L367.30,429.91 L367.70,436.46 L368.10,441.48 L368.50,445.32 L368.90,448.27 L369.30,450.52 L369.70,452.25 L370.10,453.57 L370.50,454.59 L370.90,455.36 L371.30,455.96 L371.70,456.41 L372.10,456.76 L372.50,457.03 L372.90,457.23 L373.30,457.39 L373.70,457.51 L374.10,457.10 L372.0,457.3 L372.0,457.9 Z" fill="url(#gor)" stroke="none" stroke-width="1" />
<line x1="374.10" y1="457.50" x2="383.30" y2="457.50" stroke="#f4a090" stroke-width="0.9" />
<path d="M403.8,412.8 L403.80,395.97 L404.55,395.97 L404.55,395.25 L405.30,395.25 L405.30,382.45 L406.05,382.45 L406.05,390.81 L406.80,390.81 L406.80,389.88 L407.55,389.88 L407.55,374.28 L408.30,374.28 L408.30,370.40 L409.05,370.40 L409.05,370.40 L409.80,370.40 L409.80,370.52 L410.55,370.52 L410.55,376.28 L411.30,376.28 L411.30,381.74 L412.05,381.74 L412.05,376.38 L412.80,376.38 L412.80,377.83 L413.55,377.83 L413.55,381.06 L414.30,381.06 L414.30,386.93 L415.05,386.93 L415.05,392.84 L415.80,392.84 L415.80,397.64 L416.55,397.64 L416.55,393.28 L417.30,393.28 L417.30,390.09 L418.05,390.09 L418.05,399.71 L418.80,399.71 L418.80,399.58 L419.55,399.58 L419.55,399.23 L420.30,399.23 L420.30,404.08 L421.05,404.08 L421.05,401.40 L421.80,401.40 L421.80,405.07 L422.55,405.07 L422.55,403.18 L423.30,403.18 L423.30,404.02 L424.05,404.02 L424.05,406.79 L424.80,406.79 L424.80,406.98 L425.55,406.98 L425.55,406.26 L426.30,406.26 L426.30,408.07 L427.05,408.07 L427.05,407.22 L427.80,407.22 L427.80,409.97 L428.55,409.97 L428.55,409.60 L429.30,409.60 L429.30,408.79 L430.05,408.79 L430.05,410.75 L430.80,410.75 L430.80,410.03 L431.55,410.03 L431.55,410.56 L432.30,410.56 L432.30,411.23 L433.05,411.23 L433.05,411.06 L433.80,411.06 L433.80,411.39 L434.55,411.39 L434.55,411.35 L435.30,411.35 L435.30,411.13 L436.05,411.13 L436.05,411.71 L436.80,411.71 L436.80,411.50 L437.55,411.50 L437.55,412.00 L438.30,412.00 L438.30,411.47 L439.05,411.47 L439.05,411.75 L439.80,411.75 L439.80,411.90 L440.55,411.90 L440.55,411.75 L441.30,411.75 L441.30,412.07 L442.05,412.07 L442.05,411.96 L442.80,411.96 L442.80,411.65 L443.55,411.65 L443.55,411.43 L444.30,411.43 L444.30,411.93 L445.05,411.93 L445.05,411.48 L445.80,411.48 L445.80,411.67 L446.55,411.67 L446.55,412.20 L447.30,412.20 L447.30,411.46 L448.05,411.46 L448.05,411.46 L448.80,411.46 L448.80,412.12 L449.55,412.12 L449.55,412.16 L450.30,412.16 L450.30,412.15 L451.05,412.15 L451.05,412.20 L451.80,412.20 L451.80,411.78 L452.55,411.78 L452.55,412.20 L453.30,412.20 L453.30,411.71 L454.05,411.71 L454.05,412.20 L454.80,412.20 L454.80,412.20 L455.55,412.20 L455.55,412.20 L456.30,412.20 L456.30,411.95 L457.05,411.95 L457.05,411.43 L457.80,411.43 L457.80,412.20 L458.55,412.20 L458.55,412.20 L459.30,412.20 L459.30,412.20 L460.05,412.20 L460.05,412.20 L460.80,412.20 L460.80,411.56 L461.55,411.56 L461.55,412.06 L462.30,412.06 L462.30,412.20 L463.05,412.20 L463.05,411.63 L463.80,411.63 L463.80,412.20 L464.55,412.20 L464.55,411.81 L465.30,411.81 L465.30,412.20 L466.05,412.20 L466.05,412.20 L466.80,412.20 L466.80,412.20 L467.55,412.20 L467.55,412.20 L468.30,412.20 L468.30,412.20 L469.05,412.20 L469.05,411.85 L469.80,411.85 L469.80,412.20 L470.55,412.20 L470.55,412.13 L471.30,412.13 L471.30,412.20 L472.05,412.20 L472.05,412.20 L472.80,412.20 L472.80,412.20 L473.55,412.20 L473.55,412.20 L474.30,412.20 L474.30,411.96 L475.05,411.96 L475.05,412.20 L475.80,412.20 L475.80,412.20 L476.55,412.20 L476.55,412.20 L477.30,412.20 L477.30,412.20 L478.05,412.20 L478.05,412.20 L478.80,412.20 L478.80,412.20 L479.55,412.20 L479.55,412.20 L480.30,412.20 L480.30,412.20 L481.05,412.20 L481.05,411.95 L481.80,411.95 L481.80,412.20 L482.55,412.20 L482.55,412.20 L483.30,412.20 L483.30,412.20 L484.05,412.20 L484.05,412.20 L484.80,412.20 L484.80,412.20 L485.55,412.20 L485.55,411.70 L486.30,411.70 L486.30,412.20 L487.05,412.20 L487.05,412.20 L487.80,412.20 L487.80,411.99 L488.55,411.99 L488.55,412.20 L489.30,412.20 L489.30,412.01 L490.05,412.01 L490.05,412.20 L490.80,412.20 L490.80,412.20 L491.55,412.20 L491.55,411.78 L492.30,411.78 L492.30,412.20 L493.05,412.20 L493.05,412.20 L493.80,412.20 L493.80,412.20 L494.55,412.20 L494.55,412.20 L495.30,412.20 L495.30,412.20 L496.05,412.20 L496.05,412.20 L496.80,412.20 L496.80,412.20 L497.55,412.20 L497.55,412.15 L498.30,412.15 L498.30,412.20 L499.05,412.20 L499.05,412.20 L499.80,412.20 L499.80,411.86 L500.55,411.86 L500.0,412.8 Z" fill="url(#gbl)" stroke="none" stroke-width="1" />
<text x="368.5" y="437.4" font-size="10.5" fill="#222" stroke="#222" stroke-width="0.15" textLength="119.3" lengthAdjust="spacingAndGlyphs" >t8<tspan font-size="6.5" dy="1.5">NS</tspan><tspan dy="-1.5"> transient component</tspan></text>
<text x="418.6" y="382.6" font-size="10.5" fill="#222" stroke="#222" stroke-width="0.15" textLength="122" lengthAdjust="spacingAndGlyphs" >t8<tspan font-size="6.5" dy="1.5">NS</tspan><tspan dy="-1.5"> long-lived component</tspan></text>
<text x="339.5" y="510.5" font-size="13.5" fill="#222" stroke="#222" stroke-width="0.15" textLength="138" lengthAdjust="spacingAndGlyphs" >ISI duration in burst (s)</text>
<text x="320.2" y="480.6" font-size="13" fill="#222" stroke="#222" stroke-width="0.15" transform="rotate(-90 320.2 480.6)" textLength="61" lengthAdjust="spacingAndGlyphs" >Frequency</text>
<path d="M514.5,486 L644.5,486 L682.5,393.6 L594.3,393.6 Z" fill="#f5f5f5" stroke="none" stroke-width="1" />
<path d="M514.5,421 L594.3,349.5 L594.3,393.6 L514.5,486 Z" fill="#e6fbf5" stroke="none" stroke-width="1" />
<path d="M594.3,349.5 L682.5,349.5 L682.5,393.6 L594.3,393.6 Z" fill="#f8fad8" stroke="none" stroke-width="1" />
<line x1="611.94" y1="349.50" x2="611.94" y2="393.60" stroke="#d6dab0" stroke-width="0.6" />
<line x1="629.58" y1="349.50" x2="629.58" y2="393.60" stroke="#d6dab0" stroke-width="0.6" />
<line x1="647.22" y1="349.50" x2="647.22" y2="393.60" stroke="#d6dab0" stroke-width="0.6" />
<line x1="664.86" y1="349.50" x2="664.86" y2="393.60" stroke="#d6dab0" stroke-width="0.6" />
<line x1="594.30" y1="387.30" x2="682.50" y2="387.30" stroke="#dfe2b6" stroke-width="0.5" />
<line x1="594.30" y1="381.00" x2="682.50" y2="381.00" stroke="#dfe2b6" stroke-width="0.5" />
<line x1="594.30" y1="374.70" x2="682.50" y2="374.70" stroke="#dfe2b6" stroke-width="0.5" />
<line x1="594.30" y1="368.40" x2="682.50" y2="368.40" stroke="#dfe2b6" stroke-width="0.5" />
<line x1="594.30" y1="362.10" x2="682.50" y2="362.10" stroke="#dfe2b6" stroke-width="0.5" />
<line x1="594.30" y1="355.80" x2="682.50" y2="355.80" stroke="#dfe2b6" stroke-width="0.5" />
<line x1="514.50" y1="477.88" x2="594.30" y2="388.09" stroke="#a8c4bc" stroke-width="0.55" />
<line x1="514.50" y1="469.75" x2="594.30" y2="382.58" stroke="#a8c4bc" stroke-width="0.55" />
<line x1="514.50" y1="461.62" x2="594.30" y2="377.06" stroke="#a8c4bc" stroke-width="0.55" />
<line x1="514.50" y1="453.50" x2="594.30" y2="371.55" stroke="#a8c4bc" stroke-width="0.55" />
<line x1="514.50" y1="445.38" x2="594.30" y2="366.04" stroke="#a8c4bc" stroke-width="0.55" />
<line x1="514.50" y1="437.25" x2="594.30" y2="360.52" stroke="#a8c4bc" stroke-width="0.55" />
<line x1="514.50" y1="429.12" x2="594.30" y2="355.01" stroke="#a8c4bc" stroke-width="0.55" />
<line x1="540.50" y1="486.00" x2="611.94" y2="393.60" stroke="#c4c4c4" stroke-width="0.55" />
<line x1="566.50" y1="486.00" x2="629.58" y2="393.60" stroke="#c4c4c4" stroke-width="0.55" />
<line x1="592.50" y1="486.00" x2="647.22" y2="393.60" stroke="#c4c4c4" stroke-width="0.55" />
<line x1="618.50" y1="486.00" x2="664.86" y2="393.60" stroke="#c4c4c4" stroke-width="0.55" />
<line x1="534.45" y1="462.90" x2="654.00" y2="462.90" stroke="#d8d8d8" stroke-width="0.5" />
<line x1="554.40" y1="439.80" x2="663.50" y2="439.80" stroke="#d8d8d8" stroke-width="0.5" />
<line x1="574.35" y1="416.70" x2="673.00" y2="416.70" stroke="#d8d8d8" stroke-width="0.5" />
<line x1="514.50" y1="421.00" x2="594.30" y2="349.50" stroke="#bcd" stroke-width="0.6" />
<line x1="594.30" y1="349.50" x2="682.50" y2="349.50" stroke="#cdd0a0" stroke-width="0.6" />
<line x1="644.50" y1="486.00" x2="682.50" y2="393.60" stroke="#555" stroke-width="0.8" />
<line x1="514.50" y1="486.00" x2="644.50" y2="486.00" stroke="#555" stroke-width="0.9" />
<line x1="514.50" y1="421.00" x2="514.50" y2="486.00" stroke="#555" stroke-width="0.9" />
<line x1="594.30" y1="349.50" x2="594.30" y2="393.60" stroke="#aab" stroke-width="0.5" />
<line x1="512.30" y1="486.00" x2="514.50" y2="486.00" stroke="#555" stroke-width="0.7" />
<line x1="513.10" y1="480.09" x2="514.50" y2="480.09" stroke="#555" stroke-width="0.7" />
<line x1="513.10" y1="474.18" x2="514.50" y2="474.18" stroke="#555" stroke-width="0.7" />
<line x1="513.10" y1="468.27" x2="514.50" y2="468.27" stroke="#555" stroke-width="0.7" />
<line x1="512.30" y1="462.36" x2="514.50" y2="462.36" stroke="#555" stroke-width="0.7" />
<line x1="513.10" y1="456.45" x2="514.50" y2="456.45" stroke="#555" stroke-width="0.7" />
<line x1="513.10" y1="450.55" x2="514.50" y2="450.55" stroke="#555" stroke-width="0.7" />
<line x1="513.10" y1="444.64" x2="514.50" y2="444.64" stroke="#555" stroke-width="0.7" />
<line x1="512.30" y1="438.73" x2="514.50" y2="438.73" stroke="#555" stroke-width="0.7" />
<line x1="513.10" y1="432.82" x2="514.50" y2="432.82" stroke="#555" stroke-width="0.7" />
<line x1="513.10" y1="426.91" x2="514.50" y2="426.91" stroke="#555" stroke-width="0.7" />
<line x1="513.10" y1="421.00" x2="514.50" y2="421.00" stroke="#555" stroke-width="0.7" />
<line x1="531.05" y1="486.00" x2="531.05" y2="487.60" stroke="#555" stroke-width="0.7" />
<line x1="564.60" y1="486.00" x2="564.60" y2="487.60" stroke="#555" stroke-width="0.7" />
<line x1="596.90" y1="486.00" x2="596.90" y2="487.60" stroke="#555" stroke-width="0.7" />
<line x1="628.35" y1="486.00" x2="628.35" y2="487.60" stroke="#555" stroke-width="0.7" />
<line x1="514.50" y1="486.00" x2="514.50" y2="488.20" stroke="#555" stroke-width="0.8" />
<text x="514.5" y="498.0" font-size="11.5" fill="#222" stroke="#222" stroke-width="0.15" text-anchor="middle" >0</text>
<line x1="547.60" y1="486.00" x2="547.60" y2="488.20" stroke="#555" stroke-width="0.8" />
<text x="547.6" y="498.0" font-size="11.5" fill="#222" stroke="#222" stroke-width="0.15" text-anchor="middle" >50</text>
<line x1="581.60" y1="486.00" x2="581.60" y2="488.20" stroke="#555" stroke-width="0.8" />
<text x="581.6" y="498.0" font-size="11.5" fill="#222" stroke="#222" stroke-width="0.15" text-anchor="middle" >100</text>
<line x1="612.20" y1="486.00" x2="612.20" y2="488.20" stroke="#555" stroke-width="0.8" />
<text x="612.2" y="498.0" font-size="11.5" fill="#222" stroke="#222" stroke-width="0.15" text-anchor="middle" >150</text>
<line x1="644.50" y1="486.00" x2="644.50" y2="488.20" stroke="#555" stroke-width="0.8" />
<text x="644.5" y="498.0" font-size="11.5" fill="#222" stroke="#222" stroke-width="0.15" text-anchor="middle" >200</text>
<text x="513.5" y="490.0" font-size="11" fill="#222" stroke="#222" stroke-width="0.15" text-anchor="end" >0.0</text>
<text x="513.5" y="466.4" font-size="11" fill="#222" stroke="#222" stroke-width="0.15" text-anchor="end" >0.4</text>
<text x="513.5" y="442.7" font-size="11" fill="#222" stroke="#222" stroke-width="0.15" text-anchor="end" >0.8</text>
<path d="M540.6,455.0 L540.6,403.4 L542.4,405.5 L542.40,407.01 L542.80,417.07 L543.20,425.03 L543.60,431.31 L544.00,436.28 L544.40,440.20 L544.80,443.30 L545.20,445.76 L545.60,447.69 L546.00,449.23 L546.40,450.44 L546.80,451.39 L547.20,452.15 L547.60,452.75 L548.00,453.22 L548.40,453.59 L548.80,453.89 L549.20,454.12 L549.60,454.31 L550.00,454.45 L550.40,454.57 L550.80,454.66 L551.20,454.20 L548.0,454.4 L548.0,455.0 Z" fill="url(#gor)" stroke="none" stroke-width="1" />
<line x1="551.20" y1="454.60" x2="578.00" y2="454.60" stroke="#f4a090" stroke-width="0.9" />
<path d="M580.1,409.6 L580.10,393.14 L580.85,393.14 L580.85,395.47 L581.60,395.47 L581.60,390.96 L582.35,390.96 L582.35,384.64 L583.10,384.64 L583.10,382.33 L583.85,382.33 L583.85,380.25 L584.60,380.25 L584.60,375.35 L585.35,375.35 L585.35,367.60 L586.10,367.60 L586.10,367.60 L586.85,367.60 L586.85,367.60 L587.60,367.60 L587.60,373.34 L588.35,373.34 L588.35,375.61 L589.10,375.61 L589.10,381.33 L589.85,381.33 L589.85,380.02 L590.60,380.02 L590.60,376.78 L591.35,376.78 L591.35,385.67 L592.10,385.67 L592.10,383.82 L592.85,383.82 L592.85,386.40 L593.60,386.40 L593.60,390.74 L594.35,390.74 L594.35,394.17 L595.10,394.17 L595.10,389.22 L595.85,389.22 L595.85,397.68 L596.60,397.68 L596.60,393.06 L597.35,393.06 L597.35,396.40 L598.10,396.40 L598.10,400.13 L598.85,400.13 L598.85,398.53 L599.60,398.53 L599.60,395.78 L600.35,395.78 L600.35,397.57 L601.10,397.57 L601.10,399.18 L601.85,399.18 L601.85,400.60 L602.60,400.60 L602.60,401.28 L603.35,401.28 L603.35,401.94 L604.10,401.94 L604.10,405.03 L604.85,405.03 L604.85,405.05 L605.60,405.05 L605.60,405.50 L606.35,405.50 L606.35,404.98 L607.10,404.98 L607.10,405.75 L607.85,405.75 L607.85,406.49 L608.60,406.49 L608.60,406.12 L609.35,406.12 L609.35,406.95 L610.10,406.95 L610.10,407.17 L610.85,407.17 L610.85,406.64 L611.60,406.64 L611.60,407.54 L612.35,407.54 L612.35,407.35 L613.10,407.35 L613.10,407.98 L613.85,407.98 L613.85,408.41 L614.60,408.41 L614.60,408.02 L615.35,408.02 L615.35,407.99 L616.10,407.99 L616.10,408.65 L616.85,408.65 L616.85,408.35 L617.60,408.35 L617.60,408.44 L618.35,408.44 L618.35,408.51 L619.10,408.51 L619.10,408.44 L619.85,408.44 L619.85,408.54 L620.60,408.54 L620.60,408.56 L621.35,408.56 L621.35,408.83 L622.10,408.83 L622.10,409.00 L622.85,409.00 L622.85,408.91 L623.60,408.91 L623.60,408.43 L624.35,408.43 L624.35,408.22 L625.10,408.22 L625.10,408.81 L625.85,408.81 L625.85,409.00 L626.60,409.00 L626.60,408.87 L627.35,408.87 L627.35,408.93 L628.10,408.93 L628.10,409.00 L628.85,409.00 L628.85,409.00 L629.60,409.00 L629.60,408.95 L630.35,408.95 L630.35,408.41 L631.10,408.41 L631.10,409.00 L631.85,409.00 L631.85,409.00 L632.60,409.00 L632.60,408.58 L633.35,408.58 L633.35,409.00 L634.10,409.00 L634.10,408.82 L634.85,408.82 L634.85,409.00 L635.60,409.00 L635.60,408.75 L636.35,408.75 L636.35,409.00 L637.10,409.00 L637.10,409.00 L637.85,409.00 L637.85,409.00 L638.60,409.00 L638.60,409.00 L639.35,409.00 L639.35,409.00 L640.10,409.00 L640.10,408.22 L640.85,408.22 L640.85,408.69 L641.60,408.69 L641.60,408.39 L642.35,408.39 L642.35,409.00 L643.10,409.00 L643.10,409.00 L643.85,409.00 L643.85,409.00 L644.60,409.00 L644.60,409.00 L645.35,409.00 L645.35,409.00 L646.10,409.00 L646.10,409.00 L646.85,409.00 L646.85,409.00 L647.60,409.00 L647.60,409.00 L648.35,409.00 L648.35,408.65 L649.10,408.65 L649.10,409.00 L649.85,409.00 L649.85,408.53 L650.60,408.53 L650.60,409.00 L651.35,409.00 L651.35,409.00 L652.10,409.00 L652.10,408.52 L652.85,408.52 L652.85,409.00 L653.60,409.00 L653.60,409.00 L654.35,409.00 L654.35,408.33 L655.10,408.33 L655.10,408.99 L655.85,408.99 L655.85,408.34 L656.60,408.34 L656.60,408.78 L657.35,408.78 L657.35,409.00 L658.10,409.00 L658.10,409.00 L658.85,409.00 L658.85,408.62 L659.60,408.62 L659.60,408.29 L660.35,408.29 L660.35,409.00 L661.10,409.00 L661.10,409.00 L661.85,409.00 L661.85,409.00 L662.60,409.00 L662.60,409.00 L663.35,409.00 L663.35,409.00 L664.10,409.00 L664.10,409.00 L664.85,409.00 L664.85,409.00 L665.60,409.00 L665.60,409.00 L666.35,409.00 L666.35,408.71 L667.10,408.71 L667.10,409.00 L667.85,409.00 L667.85,408.26 L668.60,408.26 L668.60,409.00 L669.35,409.00 L669.35,409.00 L670.10,409.00 L670.10,409.00 L670.85,409.00 L670.85,409.00 L671.60,409.00 L671.60,409.00 L672.35,409.00 L672.35,408.95 L673.10,408.95 L673.10,409.00 L673.85,409.00 L673.85,408.60 L674.60,408.60 L674.60,408.38 L675.35,408.38 L675.35,408.47 L676.10,408.47 L676.10,409.00 L676.85,409.00 L676.85,408.86 L677.60,408.86 L677.4,409.6 Z" fill="url(#gbl)" stroke="none" stroke-width="1" />
<text x="547.0" y="442.7" font-size="10.5" fill="#222" stroke="#222" stroke-width="0.15" textLength="118.6" lengthAdjust="spacingAndGlyphs" >t8<tspan font-size="6.5" dy="1.5">NS</tspan><tspan dy="-1.5"> transient component</tspan></text>
<text x="602.0" y="378.0" font-size="10.5" fill="#222" stroke="#222" stroke-width="0.15" textLength="65.3" lengthAdjust="spacingAndGlyphs" >t8<tspan font-size="6.5" dy="1.5">NS</tspan><tspan dy="-1.5"> long-lived</tspan></text>
<text x="609.5" y="391.3" font-size="10.5" fill="#222" stroke="#222" stroke-width="0.15" textLength="53" lengthAdjust="spacingAndGlyphs" >component</text>
<text x="513.6" y="510.5" font-size="13.5" fill="#222" stroke="#222" stroke-width="0.15" textLength="166.6" lengthAdjust="spacingAndGlyphs" >ISI duration in non- burst (s)</text>
<text x="494.5" y="503.0" font-size="13" fill="#222" stroke="#222" stroke-width="0.15" transform="rotate(-90 494.5 503.0)" textLength="61" lengthAdjust="spacingAndGlyphs" >Frequency</text>
<text transform="translate(345.40 368.70) scale(0.988 1)" x="0" y="0" font-size="18.3" font-weight="bold" fill="#000">J</text>
<text transform="translate(541.36 363.10) scale(0.949 1)" x="0" y="0" font-size="18.3" font-weight="bold" fill="#000">K</text>
</svg></body></html>
